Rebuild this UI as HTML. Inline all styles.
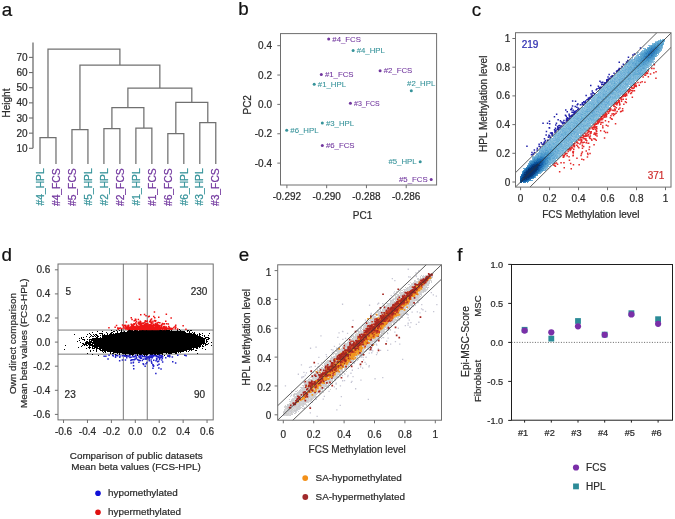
<!DOCTYPE html>
<html><head><meta charset="utf-8"><style>
html,body{margin:0;padding:0;background:#fff;width:675px;height:519px;overflow:hidden}
svg{display:block;filter:blur(0.35px)}
text{font-family:"Liberation Sans",sans-serif}
</style></head><body>
<svg width="675" height="519" viewBox="0 0 675 519">
<rect width="675" height="519" fill="#fff"/>
<text x="1.7" y="15.8" font-size="18.8" text-anchor="start" fill="#111" stroke="#111" stroke-width="0.22">a</text>
<text x="238.3" y="14.6" font-size="18.8" text-anchor="start" fill="#111" stroke="#111" stroke-width="0.22">b</text>
<text x="471.8" y="16" font-size="18.8" text-anchor="start" fill="#111" stroke="#111" stroke-width="0.22">c</text>
<text x="1.4" y="260.6" font-size="18.8" text-anchor="start" fill="#111" stroke="#111" stroke-width="0.22">d</text>
<text x="238.7" y="261.3" font-size="18.8" text-anchor="start" fill="#111" stroke="#111" stroke-width="0.22">e</text>
<text x="457.3" y="261.2" font-size="18.8" text-anchor="start" fill="#111" stroke="#111" stroke-width="0.22">f</text>
<line x1="33" y1="148.3" x2="33" y2="42.6" stroke="#6e6e6e" stroke-width="1.3"/>
<line x1="29" y1="148.3" x2="33" y2="148.3" stroke="#6e6e6e" stroke-width="1.1"/>
<text x="27.6" y="151.88" font-size="10.0" text-anchor="end" fill="#2b2b2b" stroke="#2b2b2b" stroke-width="0.22">10</text>
<line x1="29" y1="133.15" x2="33" y2="133.15" stroke="#6e6e6e" stroke-width="1.1"/>
<text x="27.6" y="136.73" font-size="10.0" text-anchor="end" fill="#2b2b2b" stroke="#2b2b2b" stroke-width="0.22">20</text>
<line x1="29" y1="118" x2="33" y2="118" stroke="#6e6e6e" stroke-width="1.1"/>
<text x="27.6" y="121.58" font-size="10.0" text-anchor="end" fill="#2b2b2b" stroke="#2b2b2b" stroke-width="0.22">30</text>
<line x1="29" y1="102.85" x2="33" y2="102.85" stroke="#6e6e6e" stroke-width="1.1"/>
<text x="27.6" y="106.43" font-size="10.0" text-anchor="end" fill="#2b2b2b" stroke="#2b2b2b" stroke-width="0.22">40</text>
<line x1="29" y1="87.7" x2="33" y2="87.7" stroke="#6e6e6e" stroke-width="1.1"/>
<text x="27.6" y="91.28" font-size="10.0" text-anchor="end" fill="#2b2b2b" stroke="#2b2b2b" stroke-width="0.22">50</text>
<line x1="29" y1="72.55" x2="33" y2="72.55" stroke="#6e6e6e" stroke-width="1.1"/>
<text x="27.6" y="76.13" font-size="10.0" text-anchor="end" fill="#2b2b2b" stroke="#2b2b2b" stroke-width="0.22">60</text>
<line x1="29" y1="57.4" x2="33" y2="57.4" stroke="#6e6e6e" stroke-width="1.1"/>
<text x="27.6" y="60.98" font-size="10.0" text-anchor="end" fill="#2b2b2b" stroke="#2b2b2b" stroke-width="0.22">70</text>
<text x="10.18" y="103" font-size="10.0" text-anchor="middle" fill="#2b2b2b" stroke="#2b2b2b" stroke-width="0.22" transform="rotate(-90 10.18 103)">Height</text>
<path d="M40 164V137.5H55.98V164M71.96 164V129.7H87.94V164M103.92 164V128.6H119.9V164M135.88 164V128.1H151.86V164M167.84 164V133.6H183.82V164M199.8 164V122.5H215.78V164M111.91 128.6V107.5H143.87V128.1M175.83 133.6V102.4H207.79V122.5M127.89 107.5V88.1H191.81V102.4M79.95 129.7V65H159.85V88.1M47.99 137.5V49.2H119.9V65" stroke="#707070" stroke-width="1.25" fill="none"/>
<text x="43.69" y="168.3" font-size="10.3" text-anchor="end" fill="#36939a" stroke="#36939a" stroke-width="0.22" transform="rotate(-90 43.69 168.3)">#4_HPL</text>
<text x="59.67" y="168.3" font-size="10.3" text-anchor="end" fill="#71369e" stroke="#71369e" stroke-width="0.22" transform="rotate(-90 59.67 168.3)">#4_FCS</text>
<text x="75.65" y="168.3" font-size="10.3" text-anchor="end" fill="#71369e" stroke="#71369e" stroke-width="0.22" transform="rotate(-90 75.65 168.3)">#5_FCS</text>
<text x="91.63" y="168.3" font-size="10.3" text-anchor="end" fill="#36939a" stroke="#36939a" stroke-width="0.22" transform="rotate(-90 91.63 168.3)">#5_HPL</text>
<text x="107.61" y="168.3" font-size="10.3" text-anchor="end" fill="#36939a" stroke="#36939a" stroke-width="0.22" transform="rotate(-90 107.61 168.3)">#2_HPL</text>
<text x="123.59" y="168.3" font-size="10.3" text-anchor="end" fill="#71369e" stroke="#71369e" stroke-width="0.22" transform="rotate(-90 123.59 168.3)">#2_FCS</text>
<text x="139.57" y="168.3" font-size="10.3" text-anchor="end" fill="#36939a" stroke="#36939a" stroke-width="0.22" transform="rotate(-90 139.57 168.3)">#1_HPL</text>
<text x="155.55" y="168.3" font-size="10.3" text-anchor="end" fill="#71369e" stroke="#71369e" stroke-width="0.22" transform="rotate(-90 155.55 168.3)">#1_FCS</text>
<text x="171.53" y="168.3" font-size="10.3" text-anchor="end" fill="#71369e" stroke="#71369e" stroke-width="0.22" transform="rotate(-90 171.53 168.3)">#6_FCS</text>
<text x="187.51" y="168.3" font-size="10.3" text-anchor="end" fill="#36939a" stroke="#36939a" stroke-width="0.22" transform="rotate(-90 187.51 168.3)">#6_HPL</text>
<text x="203.49" y="168.3" font-size="10.3" text-anchor="end" fill="#36939a" stroke="#36939a" stroke-width="0.22" transform="rotate(-90 203.49 168.3)">#3_HPL</text>
<text x="219.47" y="168.3" font-size="10.3" text-anchor="end" fill="#71369e" stroke="#71369e" stroke-width="0.22" transform="rotate(-90 219.47 168.3)">#3_FCS</text>
<rect x="280.5" y="33.6" width="156.1" height="151.4" stroke="#6e6e6e" stroke-width="1" fill="none"/>
<line x1="277.3" y1="45.68" x2="280.5" y2="45.68" stroke="#6e6e6e" stroke-width="1"/>
<text x="272" y="49.26" font-size="10.0" text-anchor="end" fill="#2b2b2b" stroke="#2b2b2b" stroke-width="0.22">0.4</text>
<line x1="277.3" y1="75.04" x2="280.5" y2="75.04" stroke="#6e6e6e" stroke-width="1"/>
<text x="272" y="78.62" font-size="10.0" text-anchor="end" fill="#2b2b2b" stroke="#2b2b2b" stroke-width="0.22">0.2</text>
<line x1="277.3" y1="104.4" x2="280.5" y2="104.4" stroke="#6e6e6e" stroke-width="1"/>
<text x="272" y="107.98" font-size="10.0" text-anchor="end" fill="#2b2b2b" stroke="#2b2b2b" stroke-width="0.22">0.0</text>
<line x1="277.3" y1="133.76" x2="280.5" y2="133.76" stroke="#6e6e6e" stroke-width="1"/>
<text x="272" y="137.34" font-size="10.0" text-anchor="end" fill="#2b2b2b" stroke="#2b2b2b" stroke-width="0.22">-0.2</text>
<line x1="277.3" y1="163.12" x2="280.5" y2="163.12" stroke="#6e6e6e" stroke-width="1"/>
<text x="272" y="166.7" font-size="10.0" text-anchor="end" fill="#2b2b2b" stroke="#2b2b2b" stroke-width="0.22">-0.4</text>
<line x1="286.9" y1="185" x2="286.9" y2="188.2" stroke="#6e6e6e" stroke-width="1"/>
<text x="286.9" y="199.78" font-size="10.0" text-anchor="middle" fill="#2b2b2b" stroke="#2b2b2b" stroke-width="0.22">-0.292</text>
<line x1="326.67" y1="185" x2="326.67" y2="188.2" stroke="#6e6e6e" stroke-width="1"/>
<text x="326.67" y="199.78" font-size="10.0" text-anchor="middle" fill="#2b2b2b" stroke="#2b2b2b" stroke-width="0.22">-0.290</text>
<line x1="366.44" y1="185" x2="366.44" y2="188.2" stroke="#6e6e6e" stroke-width="1"/>
<text x="366.44" y="199.78" font-size="10.0" text-anchor="middle" fill="#2b2b2b" stroke="#2b2b2b" stroke-width="0.22">-0.288</text>
<line x1="406.21" y1="185" x2="406.21" y2="188.2" stroke="#6e6e6e" stroke-width="1"/>
<text x="406.21" y="199.78" font-size="10.0" text-anchor="middle" fill="#2b2b2b" stroke="#2b2b2b" stroke-width="0.22">-0.286</text>
<text x="362.6" y="218.68" font-size="10.0" text-anchor="middle" fill="#2b2b2b" stroke="#2b2b2b" stroke-width="0.22">PC1</text>
<text x="251.48" y="104.8" font-size="10.0" text-anchor="middle" fill="#2b2b2b" stroke="#2b2b2b" stroke-width="0.22" transform="rotate(-90 251.48 104.8)">PC2</text>
<circle cx="328.7" cy="38.9" r="1.5" fill="#71369e"/>
<text x="332.3" y="41.69" font-size="7.8" text-anchor="start" fill="#71369e" stroke="#71369e" stroke-width="0.08">#4_FCS</text>
<circle cx="353.1" cy="50.4" r="1.5" fill="#36939a"/>
<text x="356.7" y="53.19" font-size="7.8" text-anchor="start" fill="#36939a" stroke="#36939a" stroke-width="0.08">#4_HPL</text>
<circle cx="321.3" cy="74.4" r="1.5" fill="#71369e"/>
<text x="324.9" y="77.19" font-size="7.8" text-anchor="start" fill="#71369e" stroke="#71369e" stroke-width="0.08">#1_FCS</text>
<circle cx="380.1" cy="70.7" r="1.5" fill="#71369e"/>
<text x="383.7" y="73.49" font-size="7.8" text-anchor="start" fill="#71369e" stroke="#71369e" stroke-width="0.08">#2_FCS</text>
<circle cx="314.2" cy="84.2" r="1.5" fill="#36939a"/>
<text x="317.8" y="86.99" font-size="7.8" text-anchor="start" fill="#36939a" stroke="#36939a" stroke-width="0.08">#1_HPL</text>
<circle cx="411.3" cy="90.7" r="1.5" fill="#36939a"/>
<text x="421.2" y="86.39" font-size="7.8" text-anchor="middle" fill="#36939a" stroke="#36939a" stroke-width="0.08">#2_HPL</text>
<circle cx="350.4" cy="103.2" r="1.5" fill="#71369e"/>
<text x="354" y="105.71" font-size="7.0" text-anchor="start" fill="#71369e" stroke="#71369e" stroke-width="0.08">#3_FCS</text>
<circle cx="322.3" cy="123.1" r="1.5" fill="#36939a"/>
<text x="325.9" y="125.89" font-size="7.8" text-anchor="start" fill="#36939a" stroke="#36939a" stroke-width="0.08">#3_HPL</text>
<circle cx="286.7" cy="130.3" r="1.5" fill="#36939a"/>
<text x="290.3" y="133.09" font-size="7.8" text-anchor="start" fill="#36939a" stroke="#36939a" stroke-width="0.08">#6_HPL</text>
<circle cx="322.3" cy="145.5" r="1.5" fill="#71369e"/>
<text x="325.9" y="148.29" font-size="7.8" text-anchor="start" fill="#71369e" stroke="#71369e" stroke-width="0.08">#6_FCS</text>
<circle cx="420.2" cy="161.7" r="1.5" fill="#36939a"/>
<text x="416.6" y="164.49" font-size="7.8" text-anchor="end" fill="#36939a" stroke="#36939a" stroke-width="0.08">#5_HPL</text>
<circle cx="431.2" cy="179.6" r="1.5" fill="#71369e"/>
<text x="427.6" y="182.39" font-size="7.8" text-anchor="end" fill="#71369e" stroke="#71369e" stroke-width="0.08">#5_FCS</text>
<path fill="#84c0de" d="M660 39h1v1h-1zM659 40h1v1h-1zM648 45h1v1h-1zM636 56h1v1h-1zM627 64h1v1h-1zM626 67h1v1h-1zM624 68h1v1h-1zM621 69h1v1h-1zM641 75h1v1h-1zM625 76h1v1h-1zM634 81h1v1h-1zM608 85h1v1h-1zM622 85h1v1h-1zM598 91h1v1h-1zM593 99h1v1h-1zM600 100h1v1h-1zM590 105h1v1h-1zM601 105h1v1h-1zM609 105h1v1h-1zM586 108h1v1h-1zM582 110h1v1h-1zM584 112h1v1h-1zM576 114h1v1h-1zM589 115h1v1h-1zM582 116h2v1h-2zM598 118h1v1h-1zM597 119h1v1h-1zM576 120h1v1h-1zM569 121h1v1h-1zM590 122h1v1h-1zM567 123h1v1h-1zM575 124h1v1h-1zM585 124h1v1h-1zM590 124h1v1h-1zM578 138h1v1h-1zM570 141h1v1h-1zM563 145h1v1h-1zM565 147h1v1h-1zM557 154h1v1h-1z"/><path fill="#8ac0de" d="M662 39h1v1h-1zM653 43h1v1h-1zM644 48h1v1h-1zM644 49h1v1h-1zM643 50h1v1h-1zM661 50h1v1h-1zM638 52h1v1h-1zM640 52h1v1h-1zM639 53h1v1h-1zM637 54h1v1h-1zM658 54h1v1h-1zM636 55h1v1h-1zM632 58h1v1h-1zM631 59h1v1h-1zM630 60h1v1h-1zM654 61h1v1h-1zM652 62h1v1h-1zM649 66h1v1h-1zM623 67h1v1h-1zM648 68h1v1h-1zM622 69h2v1h-2zM648 69h1v1h-1zM619 70h1v1h-1zM616 73h1v1h-1zM618 73h1v1h-1zM622 74h1v1h-1zM626 74h1v1h-1zM616 75h1v1h-1zM623 75h1v1h-1zM641 76h1v1h-1zM613 77h2v1h-2zM611 79h1v1h-1zM634 79h2v1h-2zM611 80h1v1h-1zM631 80h2v1h-2zM636 80h1v1h-1zM608 81h1v1h-1zM618 81h1v1h-1zM613 82h1v1h-1zM624 82h1v1h-1zM626 82h2v1h-2zM633 82h1v1h-1zM617 83h1v1h-1zM622 83h1v1h-1zM631 83h1v1h-1zM609 84h2v1h-2zM628 84h1v1h-1zM633 84h1v1h-1zM628 85h1v1h-1zM603 86h1v1h-1zM613 86h1v1h-1zM626 86h1v1h-1zM630 86h1v1h-1zM609 87h1v1h-1zM626 87h1v1h-1zM602 88h1v1h-1zM604 88h1v1h-1zM626 88h1v1h-1zM620 89h1v1h-1zM626 89h1v1h-1zM599 90h1v1h-1zM602 91h1v1h-1zM608 91h1v1h-1zM615 91h1v1h-1zM617 91h1v1h-1zM606 92h1v1h-1zM621 92h1v1h-1zM624 92h1v1h-1zM607 93h1v1h-1zM618 93h1v1h-1zM623 93h1v1h-1zM599 94h1v1h-1zM601 94h1v1h-1zM616 94h1v1h-1zM621 94h1v1h-1zM594 95h1v1h-1zM611 95h1v1h-1zM613 95h1v1h-1zM595 96h2v1h-2zM613 96h1v1h-1zM616 96h1v1h-1zM616 97h1v1h-1zM592 98h1v1h-1zM595 98h1v1h-1zM611 98h1v1h-1zM590 99h1v1h-1zM592 99h1v1h-1zM595 99h1v1h-1zM610 99h1v1h-1zM589 100h1v1h-1zM610 100h1v1h-1zM616 100h1v1h-1zM587 101h1v1h-1zM590 101h1v1h-1zM607 101h1v1h-1zM612 101h2v1h-2zM612 102h1v1h-1zM603 103h1v1h-1zM610 103h1v1h-1zM586 104h1v1h-1zM590 104h1v1h-1zM595 104h1v1h-1zM610 104h1v1h-1zM586 105h1v1h-1zM595 105h1v1h-1zM584 107h1v1h-1zM608 107h2v1h-2zM601 108h1v1h-1zM603 108h1v1h-1zM605 108h1v1h-1zM583 109h1v1h-1zM585 109h1v1h-1zM606 109h1v1h-1zM584 110h1v1h-1zM602 111h2v1h-2zM577 112h2v1h-2zM581 112h1v1h-1zM588 112h1v1h-1zM597 112h1v1h-1zM582 113h1v1h-1zM579 114h1v1h-1zM591 114h1v1h-1zM576 115h1v1h-1zM598 115h1v1h-1zM574 116h1v1h-1zM578 116h1v1h-1zM600 116h1v1h-1zM575 117h1v1h-1zM588 117h1v1h-1zM572 118h1v1h-1zM595 118h1v1h-1zM571 119h2v1h-2zM585 119h1v1h-1zM596 119h1v1h-1zM569 120h1v1h-1zM571 120h2v1h-2zM587 120h1v1h-1zM590 120h1v1h-1zM568 121h1v1h-1zM570 121h1v1h-1zM572 121h1v1h-1zM589 121h1v1h-1zM594 121h1v1h-1zM582 122h2v1h-2zM587 122h1v1h-1zM591 122h1v1h-1zM566 123h1v1h-1zM569 123h1v1h-1zM572 123h1v1h-1zM585 123h1v1h-1zM573 124h1v1h-1zM589 124h1v1h-1zM563 126h1v1h-1zM571 126h1v1h-1zM563 127h1v1h-1zM565 127h1v1h-1zM567 127h1v1h-1zM571 127h1v1h-1zM582 127h1v1h-1zM584 127h3v1h-3zM561 128h1v1h-1zM576 128h1v1h-1zM578 128h1v1h-1zM582 128h1v1h-1zM586 128h2v1h-2zM568 130h1v1h-1zM578 130h1v1h-1zM584 130h1v1h-1zM582 131h1v1h-1zM572 132h1v1h-1zM575 133h1v1h-1zM579 133h1v1h-1zM581 133h1v1h-1zM557 134h1v1h-1zM572 134h1v1h-1zM575 134h1v1h-1zM554 135h1v1h-1zM573 135h2v1h-2zM577 135h1v1h-1zM553 136h1v1h-1zM562 136h1v1h-1zM577 136h1v1h-1zM553 137h1v1h-1zM560 137h1v1h-1zM574 137h1v1h-1zM550 138h1v1h-1zM560 138h1v1h-1zM572 138h2v1h-2zM552 139h1v1h-1zM554 139h1v1h-1zM571 139h1v1h-1zM551 140h2v1h-2zM572 140h1v1h-1zM574 140h1v1h-1zM553 141h2v1h-2zM563 141h1v1h-1zM574 141h1v1h-1zM558 142h1v1h-1zM568 142h1v1h-1zM548 143h1v1h-1zM546 144h1v1h-1zM566 144h2v1h-2zM547 146h1v1h-1zM566 146h1v1h-1zM564 147h1v1h-1zM567 147h1v1h-1zM560 148h1v1h-1zM561 149h1v1h-1zM560 150h1v1h-1zM561 151h1v1h-1zM561 152h1v1h-1zM561 153h1v1h-1zM560 154h1v1h-1zM557 158h1v1h-1zM530 160h1v1h-1zM551 163h2v1h-2zM550 164h1v1h-1zM549 166h1v1h-1z"/><path fill="#66a8d2" d="M663 39h1v1h-1zM655 43h2v1h-2zM653 44h1v1h-1zM660 46h1v1h-1zM660 47h2v1h-2zM659 49h1v1h-1zM639 54h1v1h-1zM640 55h1v1h-1zM655 55h1v1h-1zM638 59h1v1h-1zM653 59h1v1h-1zM650 60h1v1h-1zM647 61h1v1h-1zM648 62h1v1h-1zM633 63h1v1h-1zM646 63h1v1h-1zM626 64h1v1h-1zM636 64h1v1h-1zM634 65h1v1h-1zM630 66h1v1h-1zM639 66h1v1h-1zM628 67h1v1h-1zM642 67h2v1h-2zM634 68h2v1h-2zM630 69h1v1h-1zM627 72h1v1h-1zM629 72h1v1h-1zM634 72h1v1h-1zM638 72h1v1h-1zM628 73h1v1h-1zM637 73h1v1h-1zM629 74h1v1h-1zM634 74h1v1h-1zM627 76h1v1h-1zM624 77h1v1h-1zM627 77h1v1h-1zM622 78h1v1h-1zM629 78h1v1h-1zM622 80h1v1h-1zM618 83h1v1h-1zM625 83h1v1h-1zM620 85h1v1h-1zM629 87h1v1h-1zM612 89h1v1h-1zM618 89h1v1h-1zM612 90h1v1h-1zM606 91h1v1h-1zM610 91h1v1h-1zM612 92h1v1h-1zM603 94h2v1h-2zM606 96h1v1h-1zM610 96h1v1h-1zM603 98h1v1h-1zM604 99h1v1h-1zM597 101h1v1h-1zM602 101h3v1h-3zM598 102h1v1h-1zM600 102h2v1h-2zM587 109h1v1h-1zM592 110h1v1h-1zM581 114h2v1h-2zM586 115h1v1h-1zM586 116h1v1h-1zM581 118h2v1h-2zM580 119h1v1h-1zM577 124h1v1h-1zM576 125h1v1h-1zM585 125h1v1h-1zM576 126h1v1h-1zM575 127h2v1h-2zM580 128h1v1h-1zM571 130h1v1h-1zM571 132h1v1h-1zM570 133h1v1h-1zM572 133h1v1h-1zM574 133h1v1h-1zM565 134h1v1h-1zM563 139h1v1h-1zM558 145h1v1h-1zM547 147h1v1h-1zM551 147h1v1h-1zM549 149h1v1h-1zM551 149h1v1h-1zM539 151h1v1h-1zM542 151h1v1h-1zM554 151h1v1h-1zM541 152h1v1h-1zM544 152h1v1h-1zM539 153h1v1h-1zM543 153h1v1h-1zM553 153h2v1h-2zM536 154h1v1h-1zM550 155h1v1h-1zM555 155h1v1h-1zM549 162h1v1h-1zM528 164h1v1h-1zM547 164h1v1h-1zM549 164h1v1h-1zM546 165h1v1h-1zM545 167h1v1h-1zM524 168h1v1h-1zM544 168h1v1h-1zM545 169h1v1h-1z"/><path fill="#549ccc" d="M664 39h1v1h-1zM660 40h1v1h-1zM663 40h1v1h-1zM661 42h1v1h-1zM661 43h1v1h-1zM660 44h1v1h-1zM652 45h1v1h-1zM655 45h1v1h-1zM659 47h1v1h-1zM658 50h2v1h-2zM642 54h1v1h-1zM641 56h1v1h-1zM642 57h1v1h-1zM651 58h2v1h-2zM640 59h1v1h-1zM650 59h1v1h-1zM645 60h1v1h-1zM638 61h1v1h-1zM644 61h1v1h-1zM635 63h1v1h-1zM643 63h1v1h-1zM645 63h1v1h-1zM638 64h1v1h-1zM643 68h1v1h-1zM563 138h1v1h-1zM552 151h1v1h-1zM547 152h1v1h-1zM543 154h1v1h-1zM549 154h1v1h-1zM540 155h1v1h-1zM551 155h2v1h-2zM539 156h1v1h-1zM548 156h1v1h-1zM535 158h1v1h-1zM549 158h1v1h-1zM548 161h1v1h-1zM545 165h1v1h-1zM547 165h1v1h-1zM545 166h1v1h-1zM544 167h1v1h-1zM542 169h1v1h-1zM522 171h1v1h-1zM539 172h1v1h-1zM533 178h1v1h-1z"/><path fill="#84bade" d="M658 40h1v1h-1zM649 46h1v1h-1zM659 52h1v1h-1zM635 54h1v1h-1zM638 54h1v1h-1zM637 56h1v1h-1zM632 59h1v1h-1zM631 63h1v1h-1zM626 65h1v1h-1zM626 66h1v1h-1zM628 66h1v1h-1zM647 66h2v1h-2zM624 67h1v1h-1zM648 67h1v1h-1zM643 70h1v1h-1zM619 71h1v1h-1zM642 71h1v1h-1zM641 72h1v1h-1zM623 73h1v1h-1zM626 73h1v1h-1zM631 73h1v1h-1zM642 74h1v1h-1zM621 75h1v1h-1zM614 76h1v1h-1zM632 76h1v1h-1zM639 76h1v1h-1zM621 77h1v1h-1zM636 77h1v1h-1zM616 78h1v1h-1zM618 78h2v1h-2zM636 78h1v1h-1zM617 79h1v1h-1zM636 79h1v1h-1zM613 80h1v1h-1zM615 80h2v1h-2zM627 80h1v1h-1zM630 80h1v1h-1zM634 80h1v1h-1zM615 81h1v1h-1zM617 81h1v1h-1zM630 81h2v1h-2zM607 82h1v1h-1zM606 83h1v1h-1zM624 83h1v1h-1zM630 83h1v1h-1zM606 84h1v1h-1zM622 84h1v1h-1zM605 85h2v1h-2zM612 85h1v1h-1zM602 87h1v1h-1zM604 87h2v1h-2zM608 87h1v1h-1zM612 87h1v1h-1zM621 87h1v1h-1zM623 87h1v1h-1zM627 87h1v1h-1zM618 88h2v1h-2zM621 88h1v1h-1zM625 88h1v1h-1zM606 89h1v1h-1zM619 89h1v1h-1zM623 89h1v1h-1zM627 89h1v1h-1zM600 90h1v1h-1zM603 90h1v1h-1zM623 90h1v1h-1zM626 90h1v1h-1zM621 91h1v1h-1zM599 92h1v1h-1zM604 92h1v1h-1zM619 92h1v1h-1zM599 93h2v1h-2zM622 93h1v1h-1zM595 95h1v1h-1zM598 95h1v1h-1zM600 95h2v1h-2zM610 95h1v1h-1zM620 95h1v1h-1zM594 96h1v1h-1zM601 96h1v1h-1zM611 96h1v1h-1zM617 97h2v1h-2zM594 98h1v1h-1zM596 98h1v1h-1zM591 99h1v1h-1zM600 99h1v1h-1zM612 99h1v1h-1zM595 100h1v1h-1zM608 100h1v1h-1zM612 100h2v1h-2zM592 101h2v1h-2zM605 101h1v1h-1zM591 102h1v1h-1zM594 102h1v1h-1zM609 102h1v1h-1zM611 102h1v1h-1zM586 103h1v1h-1zM594 103h1v1h-1zM606 103h1v1h-1zM588 104h1v1h-1zM607 104h1v1h-1zM603 105h2v1h-2zM584 106h1v1h-1zM602 106h1v1h-1zM608 106h1v1h-1zM602 107h1v1h-1zM607 107h1v1h-1zM587 108h1v1h-1zM607 108h2v1h-2zM579 110h1v1h-1zM588 110h1v1h-1zM596 110h2v1h-2zM599 110h1v1h-1zM603 110h2v1h-2zM606 110h1v1h-1zM578 111h1v1h-1zM583 111h1v1h-1zM595 111h1v1h-1zM600 111h1v1h-1zM604 111h2v1h-2zM580 112h1v1h-1zM595 112h1v1h-1zM603 112h2v1h-2zM596 113h1v1h-1zM603 113h1v1h-1zM584 114h1v1h-1zM574 115h2v1h-2zM577 115h1v1h-1zM581 115h2v1h-2zM600 115h1v1h-1zM572 116h1v1h-1zM597 116h2v1h-2zM573 117h1v1h-1zM598 117h1v1h-1zM574 118h1v1h-1zM586 118h1v1h-1zM597 118h1v1h-1zM574 119h1v1h-1zM579 119h1v1h-1zM589 119h1v1h-1zM570 120h1v1h-1zM573 121h1v1h-1zM576 122h1v1h-1zM586 122h1v1h-1zM588 122h1v1h-1zM582 123h1v1h-1zM586 123h1v1h-1zM570 124h1v1h-1zM567 125h1v1h-1zM571 125h1v1h-1zM580 126h1v1h-1zM586 126h1v1h-1zM562 128h1v1h-1zM579 129h1v1h-1zM575 130h1v1h-1zM577 131h1v1h-1zM579 131h2v1h-2zM583 131h1v1h-1zM567 132h1v1h-1zM582 133h1v1h-1zM560 135h1v1h-1zM572 135h1v1h-1zM579 135h1v1h-1zM558 136h1v1h-1zM561 136h1v1h-1zM564 136h1v1h-1zM569 136h1v1h-1zM571 136h1v1h-1zM573 136h1v1h-1zM561 137h1v1h-1zM573 137h1v1h-1zM553 138h2v1h-2zM574 138h1v1h-1zM577 138h1v1h-1zM573 139h1v1h-1zM575 139h2v1h-2zM549 140h1v1h-1zM571 140h1v1h-1zM575 140h1v1h-1zM547 142h1v1h-1zM550 142h1v1h-1zM562 142h1v1h-1zM547 143h1v1h-1zM550 143h2v1h-2zM555 143h1v1h-1zM562 143h1v1h-1zM569 143h1v1h-1zM571 143h2v1h-2zM545 144h1v1h-1zM563 144h1v1h-1zM569 144h3v1h-3zM546 145h2v1h-2zM553 145h1v1h-1zM569 145h2v1h-2zM543 147h1v1h-1zM541 149h1v1h-1zM559 149h1v1h-1zM564 149h1v1h-1zM566 149h1v1h-1zM539 150h1v1h-1zM556 150h1v1h-1zM565 150h1v1h-1zM560 151h1v1h-1zM538 152h1v1h-1zM559 152h1v1h-1zM562 152h1v1h-1zM562 153h1v1h-1zM559 155h1v1h-1zM532 157h1v1h-1zM558 157h1v1h-1zM553 159h1v1h-1zM554 160h1v1h-1zM551 161h1v1h-1zM552 162h1v1h-1zM545 170h1v1h-1z"/><path fill="#72b4d8" d="M661 40h1v1h-1zM663 42h1v1h-1zM660 49h1v1h-1zM643 51h1v1h-1zM638 55h1v1h-1zM633 59h1v1h-1zM632 60h1v1h-1zM631 61h1v1h-1zM635 61h1v1h-1zM627 62h2v1h-2zM630 62h2v1h-2zM635 62h1v1h-1zM630 63h1v1h-1zM632 64h1v1h-1zM631 65h2v1h-2zM645 65h1v1h-1zM624 66h1v1h-1zM633 66h1v1h-1zM632 67h1v1h-1zM640 67h1v1h-1zM647 67h1v1h-1zM623 68h1v1h-1zM628 68h1v1h-1zM645 68h1v1h-1zM627 69h1v1h-1zM631 69h1v1h-1zM637 69h2v1h-2zM627 70h1v1h-1zM642 70h1v1h-1zM620 71h1v1h-1zM636 71h1v1h-1zM618 72h1v1h-1zM623 72h1v1h-1zM631 72h1v1h-1zM642 72h1v1h-1zM621 73h1v1h-1zM617 74h2v1h-2zM632 75h1v1h-1zM623 76h2v1h-2zM630 76h1v1h-1zM635 76h1v1h-1zM616 77h1v1h-1zM620 77h1v1h-1zM614 78h1v1h-1zM626 78h1v1h-1zM632 78h1v1h-1zM635 78h1v1h-1zM637 78h1v1h-1zM615 79h1v1h-1zM620 79h2v1h-2zM630 79h2v1h-2zM637 79h1v1h-1zM610 81h1v1h-1zM612 81h1v1h-1zM624 81h1v1h-1zM626 81h1v1h-1zM625 82h1v1h-1zM628 82h1v1h-1zM613 83h1v1h-1zM615 83h1v1h-1zM623 83h1v1h-1zM627 83h1v1h-1zM616 84h2v1h-2zM624 84h1v1h-1zM607 85h1v1h-1zM616 85h1v1h-1zM620 86h1v1h-1zM624 86h1v1h-1zM611 87h1v1h-1zM610 88h1v1h-1zM612 88h1v1h-1zM607 89h3v1h-3zM611 89h1v1h-1zM617 89h1v1h-1zM603 91h1v1h-1zM609 91h1v1h-1zM623 91h1v1h-1zM611 92h1v1h-1zM622 92h1v1h-1zM605 93h1v1h-1zM613 93h1v1h-1zM620 93h1v1h-1zM605 94h1v1h-1zM615 94h1v1h-1zM597 95h1v1h-1zM605 95h2v1h-2zM619 95h1v1h-1zM600 96h1v1h-1zM603 96h1v1h-1zM614 96h1v1h-1zM608 97h1v1h-1zM612 97h1v1h-1zM614 97h1v1h-1zM600 98h1v1h-1zM616 98h1v1h-1zM593 100h1v1h-1zM599 100h1v1h-1zM602 100h2v1h-2zM607 100h1v1h-1zM599 101h1v1h-1zM590 102h1v1h-1zM592 102h1v1h-1zM590 103h2v1h-2zM595 103h1v1h-1zM608 103h1v1h-1zM599 104h1v1h-1zM601 104h2v1h-2zM609 104h1v1h-1zM589 105h1v1h-1zM599 105h1v1h-1zM593 106h1v1h-1zM595 106h1v1h-1zM587 107h1v1h-1zM604 107h1v1h-1zM589 108h1v1h-1zM586 109h1v1h-1zM596 109h1v1h-1zM607 109h1v1h-1zM586 110h1v1h-1zM601 110h1v1h-1zM586 112h1v1h-1zM598 112h2v1h-2zM576 113h1v1h-1zM587 113h2v1h-2zM590 113h1v1h-1zM587 114h1v1h-1zM590 114h1v1h-1zM594 114h2v1h-2zM578 115h1v1h-1zM584 115h1v1h-1zM595 115h1v1h-1zM597 115h1v1h-1zM587 116h1v1h-1zM590 116h1v1h-1zM593 116h2v1h-2zM574 117h1v1h-1zM582 117h2v1h-2zM575 118h1v1h-1zM584 118h1v1h-1zM589 118h1v1h-1zM576 119h1v1h-1zM582 119h1v1h-1zM590 119h1v1h-1zM593 119h1v1h-1zM574 120h1v1h-1zM581 120h1v1h-1zM584 120h1v1h-1zM586 120h1v1h-1zM591 120h1v1h-1zM594 120h1v1h-1zM583 121h2v1h-2zM587 121h2v1h-2zM572 122h1v1h-1zM575 122h1v1h-1zM579 122h1v1h-1zM592 122h1v1h-1zM573 123h1v1h-1zM589 123h1v1h-1zM576 124h1v1h-1zM580 124h1v1h-1zM586 124h1v1h-1zM570 125h1v1h-1zM573 125h1v1h-1zM578 125h1v1h-1zM581 125h1v1h-1zM587 125h1v1h-1zM589 125h1v1h-1zM565 126h1v1h-1zM579 126h1v1h-1zM581 126h1v1h-1zM569 127h1v1h-1zM574 127h1v1h-1zM583 127h1v1h-1zM588 127h1v1h-1zM567 128h1v1h-1zM584 128h1v1h-1zM561 129h1v1h-1zM582 129h1v1h-1zM584 129h1v1h-1zM562 130h1v1h-1zM569 130h2v1h-2zM580 130h1v1h-1zM565 131h1v1h-1zM567 131h1v1h-1zM575 131h1v1h-1zM560 132h1v1h-1zM563 133h1v1h-1zM577 133h1v1h-1zM564 134h1v1h-1zM570 134h1v1h-1zM574 134h1v1h-1zM557 135h1v1h-1zM566 135h1v1h-1zM580 135h1v1h-1zM576 136h1v1h-1zM578 136h1v1h-1zM563 137h1v1h-1zM568 137h2v1h-2zM575 137h2v1h-2zM552 138h1v1h-1zM555 138h1v1h-1zM568 138h2v1h-2zM559 139h1v1h-1zM570 139h1v1h-1zM574 139h1v1h-1zM554 140h1v1h-1zM556 140h1v1h-1zM565 140h1v1h-1zM568 140h1v1h-1zM571 141h1v1h-1zM556 142h1v1h-1zM561 142h1v1h-1zM563 142h1v1h-1zM552 143h1v1h-1zM566 143h1v1h-1zM556 144h1v1h-1zM548 145h3v1h-3zM555 145h1v1h-1zM549 146h1v1h-1zM552 146h1v1h-1zM556 146h2v1h-2zM560 146h1v1h-1zM565 146h1v1h-1zM542 147h1v1h-1zM552 147h1v1h-1zM554 147h1v1h-1zM559 147h1v1h-1zM546 148h1v1h-1zM557 148h1v1h-1zM548 149h1v1h-1zM540 150h1v1h-1zM544 150h1v1h-1zM554 150h1v1h-1zM563 150h1v1h-1zM546 151h1v1h-1zM556 151h2v1h-2zM556 153h1v1h-1zM558 153h2v1h-2zM555 154h1v1h-1zM554 155h1v1h-1zM556 155h1v1h-1zM552 156h1v1h-1zM557 156h1v1h-1zM551 157h1v1h-1zM551 158h1v1h-1zM532 159h1v1h-1zM550 161h1v1h-1zM550 162h1v1h-1zM548 163h1v1h-1zM550 163h1v1h-1zM547 166h2v1h-2zM542 171h1v1h-1z"/><path fill="#4896c6" d="M662 40h1v1h-1zM662 41h1v1h-1zM660 42h1v1h-1zM657 43h2v1h-2zM660 43h1v1h-1zM655 44h1v1h-1zM656 45h1v1h-1zM661 45h1v1h-1zM653 46h1v1h-1zM657 46h1v1h-1zM649 47h1v1h-1zM649 48h1v1h-1zM648 49h2v1h-2zM657 50h1v1h-1zM655 52h1v1h-1zM654 54h1v1h-1zM645 55h1v1h-1zM653 55h1v1h-1zM643 56h1v1h-1zM642 58h1v1h-1zM650 58h1v1h-1zM646 59h1v1h-1zM641 60h1v1h-1zM643 61h1v1h-1zM645 61h1v1h-1zM648 61h1v1h-1zM640 62h1v1h-1zM641 63h1v1h-1zM643 64h1v1h-1zM639 65h1v1h-1zM634 67h1v1h-1zM546 154h1v1h-1zM548 154h1v1h-1zM549 155h1v1h-1zM538 156h1v1h-1zM547 156h1v1h-1zM538 157h1v1h-1zM549 157h1v1h-1zM548 158h1v1h-1zM546 160h1v1h-1zM546 161h1v1h-1zM530 162h1v1h-1zM547 162h1v1h-1zM542 170h1v1h-1zM540 171h1v1h-1zM537 174h1v1h-1zM536 175h1v1h-1z"/><path fill="#60a8d2" d="M664 40h1v1h-1zM656 42h4v1h-4zM662 43h1v1h-1zM656 44h1v1h-1zM660 45h1v1h-1zM662 45h1v1h-1zM661 46h1v1h-1zM647 48h1v1h-1zM645 49h2v1h-2zM641 53h1v1h-1zM657 53h1v1h-1zM640 54h1v1h-1zM641 55h1v1h-1zM638 56h3v1h-3zM638 58h1v1h-1zM640 58h1v1h-1zM654 58h1v1h-1zM636 60h1v1h-1zM639 60h1v1h-1zM636 61h1v1h-1zM649 61h2v1h-2zM633 62h1v1h-1zM636 62h1v1h-1zM639 62h1v1h-1zM646 62h1v1h-1zM636 63h1v1h-1zM640 63h1v1h-1zM647 63h1v1h-1zM635 65h1v1h-1zM638 65h1v1h-1zM641 65h1v1h-1zM644 65h1v1h-1zM647 65h1v1h-1zM627 66h1v1h-1zM641 66h1v1h-1zM631 67h1v1h-1zM636 67h1v1h-1zM638 67h2v1h-2zM633 68h1v1h-1zM636 68h2v1h-2zM642 68h1v1h-1zM644 68h1v1h-1zM633 69h1v1h-1zM641 69h1v1h-1zM632 70h1v1h-1zM634 70h1v1h-1zM641 70h1v1h-1zM628 71h1v1h-1zM637 71h1v1h-1zM632 72h1v1h-1zM642 73h1v1h-1zM635 74h1v1h-1zM638 74h1v1h-1zM626 75h1v1h-1zM625 77h1v1h-1zM628 78h1v1h-1zM628 79h1v1h-1zM622 82h1v1h-1zM619 83h2v1h-2zM618 84h1v1h-1zM617 86h1v1h-1zM615 87h1v1h-1zM614 88h1v1h-1zM616 88h1v1h-1zM614 89h1v1h-1zM615 90h1v1h-1zM616 91h1v1h-1zM596 94h1v1h-1zM607 94h1v1h-1zM609 95h1v1h-1zM608 96h1v1h-1zM606 98h1v1h-1zM608 101h1v1h-1zM598 103h1v1h-1zM594 104h1v1h-1zM596 105h2v1h-2zM597 106h2v1h-2zM594 107h1v1h-1zM587 111h1v1h-1zM596 111h1v1h-1zM590 112h2v1h-2zM592 113h1v1h-1zM596 114h1v1h-1zM583 118h1v1h-1zM590 118h1v1h-1zM583 119h1v1h-1zM588 119h1v1h-1zM582 120h1v1h-1zM580 121h1v1h-1zM580 123h1v1h-1zM577 125h1v1h-1zM578 126h1v1h-1zM570 128h1v1h-1zM572 131h2v1h-2zM568 133h1v1h-1zM561 134h1v1h-1zM571 135h1v1h-1zM560 136h1v1h-1zM564 138h1v1h-1zM566 139h1v1h-1zM560 142h1v1h-1zM558 143h1v1h-1zM560 143h1v1h-1zM549 144h1v1h-1zM553 148h3v1h-3zM554 149h1v1h-1zM547 150h1v1h-1zM550 150h1v1h-1zM558 150h1v1h-1zM543 151h1v1h-1zM545 151h1v1h-1zM547 151h1v1h-1zM553 152h1v1h-1zM537 154h1v1h-1zM540 154h1v1h-1zM551 154h1v1h-1zM545 155h1v1h-1zM536 156h1v1h-1zM549 156h1v1h-1zM554 157h1v1h-1zM552 158h1v1h-1zM548 159h1v1h-1zM548 160h1v1h-1zM529 162h1v1h-1zM528 163h2v1h-2zM546 166h1v1h-1zM523 168h1v1h-1zM535 176h1v1h-1z"/><path fill="#a2cce4" d="M655 41h1v1h-1zM635 56h1v1h-1zM629 60h1v1h-1zM653 60h1v1h-1zM649 65h1v1h-1zM651 65h1v1h-1zM647 70h1v1h-1zM642 75h1v1h-1zM631 86h1v1h-1zM597 91h1v1h-1zM592 96h1v1h-1zM610 105h1v1h-1zM579 109h1v1h-1zM570 118h1v1h-1zM565 123h1v1h-1zM587 127h1v1h-1zM558 130h1v1h-1zM585 131h1v1h-1zM556 132h1v1h-1zM579 137h1v1h-1zM547 141h1v1h-1zM572 144h1v1h-1zM543 145h1v1h-1zM536 153h1v1h-1zM559 157h1v1h-1zM550 165h1v1h-1zM550 166h1v1h-1zM547 168h1v1h-1z"/><path fill="#9cc6de" d="M656 41h1v1h-1zM637 52h1v1h-1zM637 53h1v1h-1zM653 62h1v1h-1zM651 63h1v1h-1zM653 63h1v1h-1zM640 77h1v1h-1zM612 78h1v1h-1zM616 82h1v1h-1zM624 89h1v1h-1zM622 94h1v1h-1zM592 97h1v1h-1zM584 104h1v1h-1zM605 110h1v1h-1zM575 114h1v1h-1zM592 123h1v1h-1zM583 133h1v1h-1zM580 136h1v1h-1zM558 158h1v1h-1zM554 162h1v1h-1zM553 163h1v1h-1z"/><path fill="#66aed2" d="M657 41h1v1h-1zM663 43h1v1h-1zM645 50h1v1h-1zM651 60h1v1h-1zM634 61h1v1h-1zM638 62h1v1h-1zM637 63h1v1h-1zM643 65h1v1h-1zM646 65h1v1h-1zM630 67h1v1h-1zM629 68h1v1h-1zM631 68h1v1h-1zM634 69h1v1h-1zM640 69h1v1h-1zM622 70h1v1h-1zM632 71h1v1h-1zM635 71h1v1h-1zM640 71h1v1h-1zM639 72h1v1h-1zM635 73h1v1h-1zM640 73h1v1h-1zM633 74h1v1h-1zM636 74h2v1h-2zM633 75h1v1h-1zM626 77h1v1h-1zM625 78h1v1h-1zM619 79h1v1h-1zM626 84h1v1h-1zM614 85h1v1h-1zM606 87h1v1h-1zM613 87h1v1h-1zM613 88h1v1h-1zM615 88h1v1h-1zM612 91h1v1h-1zM600 92h1v1h-1zM610 92h1v1h-1zM598 96h1v1h-1zM607 96h1v1h-1zM600 97h1v1h-1zM606 97h1v1h-1zM610 97h1v1h-1zM605 98h1v1h-1zM601 101h1v1h-1zM614 102h1v1h-1zM607 103h1v1h-1zM591 104h1v1h-1zM599 107h1v1h-1zM596 108h1v1h-1zM593 111h1v1h-1zM584 113h1v1h-1zM591 115h1v1h-1zM581 117h1v1h-1zM584 117h2v1h-2zM576 123h1v1h-1zM564 132h1v1h-1zM565 133h1v1h-1zM569 133h1v1h-1zM558 141h1v1h-1zM559 143h1v1h-1zM560 144h1v1h-1zM554 146h1v1h-1zM555 149h1v1h-1zM557 150h1v1h-1zM552 153h1v1h-1zM552 154h1v1h-1zM539 155h1v1h-1zM556 157h1v1h-1zM533 158h1v1h-1zM553 160h1v1h-1zM548 164h1v1h-1z"/><path fill="#5aa2cc" d="M658 41h1v1h-1zM660 48h1v1h-1zM647 49h1v1h-1zM644 50h1v1h-1zM658 52h1v1h-1zM641 54h1v1h-1zM641 64h1v1h-1zM595 108h1v1h-1zM565 137h1v1h-1zM556 147h1v1h-1zM551 150h2v1h-2zM543 152h1v1h-1zM548 152h1v1h-1zM550 154h1v1h-1zM535 157h1v1h-1zM550 159h1v1h-1zM537 175h1v1h-1z"/><path fill="#6caed8" d="M659 41h1v1h-1zM663 44h1v1h-1zM648 47h1v1h-1zM643 48h1v1h-1zM661 49h1v1h-1zM659 51h1v1h-1zM641 52h3v1h-3zM658 53h1v1h-1zM639 57h1v1h-1zM654 57h1v1h-1zM634 58h1v1h-1zM636 58h1v1h-1zM636 59h1v1h-1zM631 60h1v1h-1zM635 60h1v1h-1zM637 61h1v1h-1zM651 61h1v1h-1zM629 62h1v1h-1zM632 62h1v1h-1zM634 62h1v1h-1zM637 62h1v1h-1zM634 63h1v1h-1zM648 63h1v1h-1zM629 64h1v1h-1zM633 64h2v1h-2zM637 64h1v1h-1zM633 65h1v1h-1zM634 66h2v1h-2zM643 66h3v1h-3zM629 67h1v1h-1zM633 67h1v1h-1zM644 67h1v1h-1zM646 67h1v1h-1zM625 69h2v1h-2zM629 69h1v1h-1zM636 69h1v1h-1zM639 69h1v1h-1zM625 70h1v1h-1zM631 70h1v1h-1zM635 70h1v1h-1zM637 70h1v1h-1zM640 70h1v1h-1zM633 71h1v1h-1zM638 71h1v1h-1zM635 72h1v1h-1zM640 72h1v1h-1zM625 73h1v1h-1zM634 73h1v1h-1zM638 73h1v1h-1zM641 73h1v1h-1zM621 74h1v1h-1zM623 74h1v1h-1zM627 74h1v1h-1zM630 74h1v1h-1zM641 74h1v1h-1zM619 75h1v1h-1zM622 75h1v1h-1zM627 75h1v1h-1zM630 75h1v1h-1zM621 76h1v1h-1zM626 76h1v1h-1zM628 76h1v1h-1zM633 76h1v1h-1zM612 77h1v1h-1zM619 77h1v1h-1zM630 77h1v1h-1zM624 78h1v1h-1zM633 78h1v1h-1zM614 79h1v1h-1zM618 79h1v1h-1zM625 79h1v1h-1zM627 79h1v1h-1zM612 80h1v1h-1zM629 80h1v1h-1zM614 81h1v1h-1zM616 81h1v1h-1zM619 81h2v1h-2zM622 81h1v1h-1zM614 82h1v1h-1zM617 82h1v1h-1zM620 82h2v1h-2zM611 83h1v1h-1zM619 84h2v1h-2zM613 85h1v1h-1zM608 86h1v1h-1zM612 86h1v1h-1zM614 86h1v1h-1zM610 87h1v1h-1zM614 87h1v1h-1zM617 87h1v1h-1zM622 87h1v1h-1zM607 88h1v1h-1zM617 88h1v1h-1zM620 88h1v1h-1zM615 89h1v1h-1zM611 90h1v1h-1zM614 90h1v1h-1zM620 91h1v1h-1zM609 92h1v1h-1zM613 92h1v1h-1zM606 93h1v1h-1zM608 93h2v1h-2zM612 93h1v1h-1zM608 94h1v1h-1zM603 95h1v1h-1zM618 95h1v1h-1zM597 97h3v1h-3zM605 97h1v1h-1zM607 97h1v1h-1zM609 97h1v1h-1zM609 98h1v1h-1zM601 99h1v1h-1zM605 99h1v1h-1zM597 100h2v1h-2zM600 101h1v1h-1zM606 101h1v1h-1zM597 102h1v1h-1zM602 102h1v1h-1zM605 102h4v1h-4zM593 104h1v1h-1zM596 104h2v1h-2zM598 105h1v1h-1zM605 105h1v1h-1zM601 106h1v1h-1zM595 107h1v1h-1zM597 107h2v1h-2zM584 108h1v1h-1zM595 109h1v1h-1zM597 109h1v1h-1zM600 109h1v1h-1zM591 110h1v1h-1zM585 111h2v1h-2zM588 111h2v1h-2zM591 111h2v1h-2zM594 111h1v1h-1zM598 111h1v1h-1zM582 112h1v1h-1zM594 112h1v1h-1zM577 113h1v1h-1zM585 113h1v1h-1zM589 113h1v1h-1zM591 113h1v1h-1zM593 114h1v1h-1zM585 115h1v1h-1zM587 115h1v1h-1zM593 115h2v1h-2zM599 115h1v1h-1zM585 116h1v1h-1zM591 116h2v1h-2zM599 116h1v1h-1zM586 117h1v1h-1zM577 118h2v1h-2zM585 118h1v1h-1zM581 119h1v1h-1zM578 120h1v1h-1zM585 120h1v1h-1zM589 120h1v1h-1zM576 121h1v1h-1zM582 121h1v1h-1zM571 122h1v1h-1zM577 122h1v1h-1zM578 123h1v1h-1zM587 123h1v1h-1zM579 124h1v1h-1zM582 124h1v1h-1zM583 125h1v1h-1zM573 126h2v1h-2zM577 126h1v1h-1zM583 126h1v1h-1zM566 127h1v1h-1zM563 128h1v1h-1zM568 128h1v1h-1zM573 129h1v1h-1zM575 129h1v1h-1zM563 130h1v1h-1zM571 131h1v1h-1zM574 131h1v1h-1zM565 132h2v1h-2zM570 132h1v1h-1zM575 132h1v1h-1zM558 133h1v1h-1zM571 133h1v1h-1zM562 134h1v1h-1zM568 134h1v1h-1zM577 134h2v1h-2zM562 135h2v1h-2zM567 135h1v1h-1zM569 135h1v1h-1zM554 136h1v1h-1zM563 136h1v1h-1zM565 136h3v1h-3zM572 136h1v1h-1zM567 137h1v1h-1zM570 137h1v1h-1zM571 138h1v1h-1zM556 139h1v1h-1zM569 139h1v1h-1zM559 140h1v1h-1zM563 140h1v1h-1zM557 141h1v1h-1zM560 141h1v1h-1zM562 141h1v1h-1zM564 141h1v1h-1zM568 141h1v1h-1zM555 142h1v1h-1zM566 142h1v1h-1zM571 142h2v1h-2zM554 143h1v1h-1zM561 143h1v1h-1zM547 144h1v1h-1zM550 144h1v1h-1zM553 144h1v1h-1zM557 144h1v1h-1zM561 144h1v1h-1zM561 145h1v1h-1zM566 145h1v1h-1zM545 146h1v1h-1zM548 146h1v1h-1zM555 146h1v1h-1zM558 146h1v1h-1zM561 146h1v1h-1zM549 147h1v1h-1zM563 147h1v1h-1zM542 148h1v1h-1zM547 148h1v1h-1zM550 148h2v1h-2zM556 148h1v1h-1zM558 148h1v1h-1zM562 148h1v1h-1zM565 148h1v1h-1zM544 149h4v1h-4zM553 149h1v1h-1zM556 149h2v1h-2zM541 150h2v1h-2zM548 150h2v1h-2zM555 150h1v1h-1zM562 150h1v1h-1zM541 151h1v1h-1zM558 151h1v1h-1zM542 152h1v1h-1zM555 152h1v1h-1zM557 152h1v1h-1zM557 153h1v1h-1zM538 154h2v1h-2zM537 155h1v1h-1zM553 155h1v1h-1zM535 156h1v1h-1zM553 156h3v1h-3zM552 157h2v1h-2zM554 158h1v1h-1zM556 158h1v1h-1zM549 160h1v1h-1zM529 161h1v1h-1zM551 162h1v1h-1zM544 170h1v1h-1zM541 171h1v1h-1zM540 172h1v1h-1zM539 173h1v1h-1zM535 177h1v1h-1zM532 180h1v1h-1z"/><path fill="#4e9ccc" d="M660 41h2v1h-2zM659 44h1v1h-1zM659 48h1v1h-1zM646 51h1v1h-1zM657 51h1v1h-1zM643 53h2v1h-2zM643 54h1v1h-1zM642 55h2v1h-2zM655 56h1v1h-1zM642 59h1v1h-1zM639 61h1v1h-1zM641 61h1v1h-1zM646 61h1v1h-1zM642 62h1v1h-1zM644 62h1v1h-1zM637 65h1v1h-1zM637 66h2v1h-2zM640 66h1v1h-1zM631 71h1v1h-1zM557 145h1v1h-1zM546 150h1v1h-1zM548 151h1v1h-1zM545 152h1v1h-1zM550 152h1v1h-1zM541 153h1v1h-1zM547 153h1v1h-1zM542 154h1v1h-1zM541 155h2v1h-2zM544 156h1v1h-1zM548 157h1v1h-1zM536 158h1v1h-1zM533 159h1v1h-1zM547 159h1v1h-1zM549 159h1v1h-1zM546 162h1v1h-1zM543 167h1v1h-1zM530 180h1v1h-1z"/><path fill="#5aa2d2" d="M663 41h1v1h-1zM662 42h1v1h-1zM654 43h1v1h-1zM661 44h1v1h-1zM659 46h1v1h-1zM644 51h2v1h-2zM658 51h1v1h-1zM657 52h1v1h-1zM655 54h1v1h-1zM642 56h1v1h-1zM654 56h1v1h-1zM638 57h1v1h-1zM653 57h1v1h-1zM639 58h1v1h-1zM653 58h1v1h-1zM634 59h1v1h-1zM651 59h2v1h-2zM637 60h2v1h-2zM645 62h1v1h-1zM647 62h1v1h-1zM632 63h1v1h-1zM638 63h1v1h-1zM644 63h1v1h-1zM640 64h1v1h-1zM642 64h1v1h-1zM645 64h2v1h-2zM642 65h1v1h-1zM633 70h1v1h-1zM629 73h2v1h-2zM639 73h1v1h-1zM628 74h1v1h-1zM623 81h1v1h-1zM619 82h1v1h-1zM614 83h1v1h-1zM618 85h1v1h-1zM616 86h1v1h-1zM605 96h1v1h-1zM603 99h1v1h-1zM601 103h1v1h-1zM598 104h1v1h-1zM596 107h1v1h-1zM593 110h1v1h-1zM592 112h1v1h-1zM588 115h1v1h-1zM581 122h1v1h-1zM567 134h1v1h-1zM565 138h1v1h-1zM561 140h2v1h-2zM559 144h1v1h-1zM556 145h1v1h-1zM555 147h1v1h-1zM550 149h1v1h-1zM552 149h1v1h-1zM551 151h1v1h-1zM555 151h1v1h-1zM546 152h1v1h-1zM549 152h1v1h-1zM551 152h1v1h-1zM540 153h1v1h-1zM537 156h1v1h-1zM550 156h2v1h-2zM534 157h1v1h-1zM550 157h1v1h-1zM550 158h1v1h-1zM553 158h1v1h-1zM530 161h1v1h-1zM548 162h1v1h-1zM527 165h1v1h-1zM543 169h1v1h-1zM543 170h1v1h-1zM531 180h1v1h-1z"/><path fill="#7ebad8" d="M664 41h1v1h-1zM652 43h1v1h-1zM662 46h1v1h-1zM647 47h1v1h-1zM662 47h1v1h-1zM642 50h1v1h-1zM642 51h1v1h-1zM632 57h1v1h-1zM635 59h1v1h-1zM654 59h1v1h-1zM633 61h1v1h-1zM627 63h1v1h-1zM649 63h1v1h-1zM625 64h1v1h-1zM630 64h1v1h-1zM648 64h3v1h-3zM625 65h1v1h-1zM628 65h3v1h-3zM650 65h1v1h-1zM629 66h1v1h-1zM646 66h1v1h-1zM622 67h1v1h-1zM645 67h1v1h-1zM624 69h1v1h-1zM642 69h1v1h-1zM644 69h1v1h-1zM636 70h1v1h-1zM645 70h1v1h-1zM618 71h1v1h-1zM624 71h1v1h-1zM627 71h1v1h-1zM641 71h1v1h-1zM644 71h1v1h-1zM619 72h1v1h-1zM621 72h1v1h-1zM625 72h1v1h-1zM643 72h1v1h-1zM624 73h1v1h-1zM632 73h1v1h-1zM615 75h1v1h-1zM618 75h1v1h-1zM631 75h1v1h-1zM635 75h1v1h-1zM619 76h2v1h-2zM634 76h1v1h-1zM636 76h1v1h-1zM615 77h1v1h-1zM622 77h2v1h-2zM628 77h1v1h-1zM631 77h1v1h-1zM634 77h1v1h-1zM631 78h1v1h-1zM638 78h1v1h-1zM612 79h1v1h-1zM623 79h1v1h-1zM626 79h1v1h-1zM632 79h1v1h-1zM610 80h1v1h-1zM614 80h1v1h-1zM617 80h2v1h-2zM620 80h1v1h-1zM623 80h1v1h-1zM625 80h1v1h-1zM628 80h1v1h-1zM633 80h1v1h-1zM635 80h1v1h-1zM628 81h1v1h-1zM612 82h1v1h-1zM615 82h1v1h-1zM618 82h1v1h-1zM630 82h1v1h-1zM634 82h1v1h-1zM632 83h1v1h-1zM605 84h1v1h-1zM612 84h3v1h-3zM604 85h1v1h-1zM609 85h1v1h-1zM621 85h1v1h-1zM604 86h1v1h-1zM606 86h1v1h-1zM611 86h1v1h-1zM618 86h1v1h-1zM623 86h1v1h-1zM625 86h1v1h-1zM627 86h1v1h-1zM603 87h1v1h-1zM618 87h1v1h-1zM620 87h1v1h-1zM625 87h1v1h-1zM609 88h1v1h-1zM622 88h1v1h-1zM628 88h1v1h-1zM600 89h1v1h-1zM604 89h1v1h-1zM616 89h1v1h-1zM625 89h1v1h-1zM601 90h2v1h-2zM608 90h2v1h-2zM620 90h2v1h-2zM601 91h1v1h-1zM622 91h1v1h-1zM624 91h1v1h-1zM603 92h1v1h-1zM615 92h1v1h-1zM620 92h1v1h-1zM602 93h1v1h-1zM614 93h2v1h-2zM617 93h1v1h-1zM597 94h1v1h-1zM606 94h1v1h-1zM613 94h1v1h-1zM617 94h1v1h-1zM596 95h1v1h-1zM602 95h1v1h-1zM616 95h1v1h-1zM599 96h1v1h-1zM618 96h1v1h-1zM593 97h2v1h-2zM601 97h1v1h-1zM603 97h1v1h-1zM593 98h1v1h-1zM614 98h2v1h-2zM594 99h1v1h-1zM598 99h2v1h-2zM606 99h1v1h-1zM609 99h1v1h-1zM594 100h1v1h-1zM601 100h1v1h-1zM606 100h1v1h-1zM615 100h1v1h-1zM595 102h2v1h-2zM603 102h1v1h-1zM587 103h2v1h-2zM609 103h1v1h-1zM611 103h1v1h-1zM592 104h1v1h-1zM608 104h1v1h-1zM585 105h1v1h-1zM592 105h1v1h-1zM594 105h1v1h-1zM602 105h1v1h-1zM608 105h1v1h-1zM591 106h2v1h-2zM604 106h1v1h-1zM606 106h1v1h-1zM583 107h1v1h-1zM586 107h1v1h-1zM605 107h1v1h-1zM598 108h1v1h-1zM600 108h1v1h-1zM604 108h1v1h-1zM592 109h1v1h-1zM599 109h1v1h-1zM604 109h1v1h-1zM581 110h1v1h-1zM585 110h1v1h-1zM587 110h1v1h-1zM595 110h1v1h-1zM602 110h1v1h-1zM581 111h2v1h-2zM590 111h1v1h-1zM601 111h1v1h-1zM583 112h1v1h-1zM585 112h1v1h-1zM589 112h1v1h-1zM596 112h1v1h-1zM600 112h1v1h-1zM602 112h1v1h-1zM579 113h1v1h-1zM581 113h1v1h-1zM583 113h1v1h-1zM593 113h1v1h-1zM599 113h4v1h-4zM583 114h1v1h-1zM585 114h1v1h-1zM601 114h2v1h-2zM583 115h1v1h-1zM596 115h1v1h-1zM576 116h1v1h-1zM579 116h1v1h-1zM584 116h1v1h-1zM595 116h2v1h-2zM576 117h1v1h-1zM579 117h1v1h-1zM590 117h1v1h-1zM592 117h1v1h-1zM594 117h1v1h-1zM571 118h1v1h-1zM580 118h1v1h-1zM591 118h2v1h-2zM596 118h1v1h-1zM570 119h1v1h-1zM595 119h1v1h-1zM573 120h1v1h-1zM575 120h1v1h-1zM588 120h1v1h-1zM593 120h1v1h-1zM571 121h1v1h-1zM575 121h1v1h-1zM577 121h2v1h-2zM568 122h3v1h-3zM580 122h1v1h-1zM584 122h2v1h-2zM584 123h1v1h-1zM593 123h1v1h-1zM566 124h1v1h-1zM569 124h1v1h-1zM571 124h1v1h-1zM583 124h2v1h-2zM588 124h1v1h-1zM568 125h2v1h-2zM572 125h1v1h-1zM579 125h1v1h-1zM588 125h1v1h-1zM569 126h2v1h-2zM572 126h1v1h-1zM575 126h1v1h-1zM585 126h1v1h-1zM573 127h1v1h-1zM578 127h1v1h-1zM580 127h2v1h-2zM581 128h1v1h-1zM585 128h1v1h-1zM563 129h2v1h-2zM566 129h1v1h-1zM576 129h1v1h-1zM586 129h1v1h-1zM564 130h4v1h-4zM572 130h1v1h-1zM574 130h1v1h-1zM579 130h1v1h-1zM581 130h1v1h-1zM583 130h1v1h-1zM585 130h1v1h-1zM563 131h1v1h-1zM569 131h1v1h-1zM578 131h1v1h-1zM559 132h1v1h-1zM562 132h2v1h-2zM568 132h1v1h-1zM578 132h2v1h-2zM582 132h1v1h-1zM556 133h1v1h-1zM566 133h2v1h-2zM573 133h1v1h-1zM558 134h2v1h-2zM563 134h1v1h-1zM559 135h1v1h-1zM565 135h1v1h-1zM570 135h1v1h-1zM575 135h1v1h-1zM555 136h1v1h-1zM557 136h1v1h-1zM559 136h1v1h-1zM570 136h1v1h-1zM557 137h1v1h-1zM562 137h1v1h-1zM577 137h1v1h-1zM556 138h1v1h-1zM558 138h1v1h-1zM566 138h2v1h-2zM561 139h2v1h-2zM565 139h1v1h-1zM558 140h1v1h-1zM576 140h1v1h-1zM550 141h3v1h-3zM565 141h3v1h-3zM572 141h2v1h-2zM549 142h1v1h-1zM551 142h2v1h-2zM557 142h1v1h-1zM559 142h1v1h-1zM565 142h1v1h-1zM569 142h1v1h-1zM556 143h2v1h-2zM564 143h1v1h-1zM568 143h1v1h-1zM548 144h1v1h-1zM552 144h1v1h-1zM552 145h1v1h-1zM554 145h1v1h-1zM562 145h1v1h-1zM565 145h1v1h-1zM571 145h1v1h-1zM542 146h2v1h-2zM546 146h1v1h-1zM567 146h1v1h-1zM569 146h1v1h-1zM548 147h1v1h-1zM557 147h2v1h-2zM561 147h2v1h-2zM541 148h1v1h-1zM543 148h2v1h-2zM552 148h1v1h-1zM561 148h1v1h-1zM566 148h1v1h-1zM568 148h1v1h-1zM543 149h1v1h-1zM558 149h1v1h-1zM563 149h1v1h-1zM565 149h1v1h-1zM540 151h1v1h-1zM562 151h1v1h-1zM554 152h1v1h-1zM558 152h1v1h-1zM560 152h1v1h-1zM560 153h1v1h-1zM559 154h1v1h-1zM536 155h1v1h-1zM555 160h2v1h-2zM554 161h1v1h-1zM546 168h1v1h-1z"/><path fill="#60a2d2" d="M655 42h1v1h-1zM651 45h1v1h-1zM650 46h1v1h-1zM644 64h1v1h-1zM640 65h1v1h-1zM635 69h1v1h-1zM638 70h1v1h-1zM628 75h1v1h-1zM617 85h1v1h-1zM602 99h1v1h-1zM578 124h1v1h-1zM558 144h1v1h-1zM545 150h1v1h-1zM552 152h1v1h-1zM532 160h1v1h-1z"/><path fill="#4290c6" d="M659 43h1v1h-1zM658 46h1v1h-1zM651 47h1v1h-1zM650 48h1v1h-1zM658 49h1v1h-1zM649 50h1v1h-1zM656 51h1v1h-1zM645 52h1v1h-1zM656 52h1v1h-1zM656 53h1v1h-1zM644 54h1v1h-1zM650 56h1v1h-1zM652 56h1v1h-1zM643 57h2v1h-2zM643 58h1v1h-1zM648 58h1v1h-1zM645 59h1v1h-1zM646 60h1v1h-1zM643 62h1v1h-1zM548 153h2v1h-2zM544 155h1v1h-1zM541 156h3v1h-3zM546 157h1v1h-1zM533 160h1v1h-1zM531 161h1v1h-1zM531 162h1v1h-1zM546 163h1v1h-1zM544 165h1v1h-1zM525 168h1v1h-1zM543 168h1v1h-1zM524 169h1v1h-1zM538 173h1v1h-1zM534 177h1v1h-1zM532 178h1v1h-1z"/><path fill="#78b4d8" d="M652 44h1v1h-1zM649 45h2v1h-2zM661 48h1v1h-1zM660 50h1v1h-1zM641 51h1v1h-1zM656 55h2v1h-2zM636 57h2v1h-2zM635 58h1v1h-1zM634 60h1v1h-1zM652 60h1v1h-1zM628 61h2v1h-2zM632 61h1v1h-1zM652 61h1v1h-1zM650 62h2v1h-2zM628 63h1v1h-1zM631 64h1v1h-1zM647 64h1v1h-1zM648 65h1v1h-1zM625 66h1v1h-1zM631 66h1v1h-1zM625 67h1v1h-1zM627 67h1v1h-1zM641 67h1v1h-1zM621 68h1v1h-1zM626 68h2v1h-2zM630 68h1v1h-1zM639 68h1v1h-1zM643 69h1v1h-1zM645 69h1v1h-1zM647 69h1v1h-1zM623 70h2v1h-2zM629 70h1v1h-1zM644 70h1v1h-1zM621 71h1v1h-1zM623 71h1v1h-1zM625 71h2v1h-2zM629 71h1v1h-1zM639 71h1v1h-1zM643 71h1v1h-1zM620 72h1v1h-1zM622 72h1v1h-1zM626 72h1v1h-1zM633 72h1v1h-1zM636 72h1v1h-1zM644 72h1v1h-1zM622 73h1v1h-1zM627 73h1v1h-1zM619 74h1v1h-1zM625 74h1v1h-1zM631 74h1v1h-1zM614 75h1v1h-1zM617 75h1v1h-1zM620 75h1v1h-1zM634 75h1v1h-1zM637 75h1v1h-1zM639 75h2v1h-2zM617 76h2v1h-2zM629 76h1v1h-1zM631 76h1v1h-1zM617 77h1v1h-1zM629 77h1v1h-1zM633 77h1v1h-1zM635 77h1v1h-1zM637 77h1v1h-1zM613 78h1v1h-1zM615 78h1v1h-1zM617 78h1v1h-1zM620 78h1v1h-1zM610 79h1v1h-1zM629 79h1v1h-1zM633 79h1v1h-1zM621 80h1v1h-1zM624 80h1v1h-1zM626 80h1v1h-1zM611 81h1v1h-1zM613 81h1v1h-1zM625 81h1v1h-1zM629 81h1v1h-1zM633 81h1v1h-1zM609 82h3v1h-3zM623 82h1v1h-1zM631 82h1v1h-1zM608 83h1v1h-1zM612 83h1v1h-1zM616 83h1v1h-1zM628 83h1v1h-1zM607 84h1v1h-1zM611 84h1v1h-1zM615 84h1v1h-1zM621 84h1v1h-1zM625 84h1v1h-1zM629 84h1v1h-1zM610 85h1v1h-1zM615 85h1v1h-1zM619 85h1v1h-1zM625 85h1v1h-1zM627 85h1v1h-1zM630 85h2v1h-2zM609 86h2v1h-2zM615 86h1v1h-1zM619 86h1v1h-1zM622 86h1v1h-1zM628 86h1v1h-1zM607 87h1v1h-1zM616 87h1v1h-1zM624 87h1v1h-1zM603 88h1v1h-1zM605 88h1v1h-1zM608 88h1v1h-1zM623 88h2v1h-2zM602 89h2v1h-2zM610 89h1v1h-1zM621 89h1v1h-1zM610 90h1v1h-1zM613 90h1v1h-1zM616 90h1v1h-1zM619 90h1v1h-1zM624 90h1v1h-1zM604 91h2v1h-2zM611 91h1v1h-1zM613 91h1v1h-1zM618 91h1v1h-1zM602 92h1v1h-1zM605 92h1v1h-1zM607 92h2v1h-2zM614 92h1v1h-1zM617 92h1v1h-1zM598 93h1v1h-1zM601 93h1v1h-1zM621 93h1v1h-1zM598 94h1v1h-1zM602 94h1v1h-1zM609 94h1v1h-1zM614 94h1v1h-1zM618 94h1v1h-1zM599 95h1v1h-1zM604 95h1v1h-1zM607 95h1v1h-1zM615 95h1v1h-1zM602 96h1v1h-1zM604 96h1v1h-1zM612 96h1v1h-1zM615 96h1v1h-1zM617 96h1v1h-1zM602 97h1v1h-1zM613 97h1v1h-1zM615 97h1v1h-1zM597 98h3v1h-3zM601 98h2v1h-2zM604 98h1v1h-1zM608 98h1v1h-1zM612 98h2v1h-2zM596 99h2v1h-2zM607 99h2v1h-2zM611 99h1v1h-1zM592 100h1v1h-1zM596 100h1v1h-1zM604 100h1v1h-1zM609 100h1v1h-1zM594 101h1v1h-1zM596 101h1v1h-1zM609 101h1v1h-1zM611 101h1v1h-1zM614 101h1v1h-1zM593 102h1v1h-1zM604 102h1v1h-1zM592 103h2v1h-2zM597 103h1v1h-1zM599 103h2v1h-2zM602 103h1v1h-1zM604 103h1v1h-1zM587 104h1v1h-1zM600 104h1v1h-1zM603 104h2v1h-2zM583 105h1v1h-1zM587 105h1v1h-1zM600 105h1v1h-1zM606 105h1v1h-1zM585 106h1v1h-1zM587 106h4v1h-4zM599 106h2v1h-2zM582 107h1v1h-1zM588 107h2v1h-2zM591 107h3v1h-3zM603 107h1v1h-1zM606 107h1v1h-1zM582 108h1v1h-1zM588 108h1v1h-1zM591 108h2v1h-2zM597 108h1v1h-1zM599 108h1v1h-1zM602 108h1v1h-1zM582 109h1v1h-1zM588 109h4v1h-4zM598 109h1v1h-1zM601 109h3v1h-3zM583 110h1v1h-1zM589 110h2v1h-2zM594 110h1v1h-1zM600 110h1v1h-1zM584 111h1v1h-1zM597 111h1v1h-1zM587 112h1v1h-1zM578 113h1v1h-1zM580 113h1v1h-1zM594 113h2v1h-2zM577 114h1v1h-1zM580 114h1v1h-1zM586 114h1v1h-1zM592 114h1v1h-1zM597 114h3v1h-3zM579 115h2v1h-2zM590 115h1v1h-1zM592 115h1v1h-1zM575 116h1v1h-1zM580 116h1v1h-1zM588 116h2v1h-2zM577 117h2v1h-2zM587 117h1v1h-1zM576 118h1v1h-1zM588 118h1v1h-1zM593 118h1v1h-1zM584 119h1v1h-1zM586 119h1v1h-1zM592 119h1v1h-1zM579 120h2v1h-2zM583 120h1v1h-1zM592 120h1v1h-1zM574 121h1v1h-1zM579 121h1v1h-1zM591 121h1v1h-1zM593 121h1v1h-1zM567 122h1v1h-1zM573 122h2v1h-2zM589 122h1v1h-1zM568 123h1v1h-1zM570 123h1v1h-1zM574 123h1v1h-1zM577 123h1v1h-1zM579 123h1v1h-1zM581 123h1v1h-1zM588 123h1v1h-1zM572 124h1v1h-1zM574 124h1v1h-1zM581 124h1v1h-1zM587 124h1v1h-1zM575 125h1v1h-1zM580 125h1v1h-1zM584 125h1v1h-1zM586 125h1v1h-1zM567 126h2v1h-2zM584 126h1v1h-1zM587 126h1v1h-1zM568 127h1v1h-1zM570 127h1v1h-1zM579 127h1v1h-1zM565 128h2v1h-2zM569 128h1v1h-1zM571 128h3v1h-3zM575 128h1v1h-1zM577 128h1v1h-1zM579 128h1v1h-1zM583 128h1v1h-1zM562 129h1v1h-1zM565 129h1v1h-1zM568 129h1v1h-1zM572 129h1v1h-1zM574 129h1v1h-1zM577 129h2v1h-2zM581 129h1v1h-1zM585 129h1v1h-1zM573 130h1v1h-1zM576 130h2v1h-2zM582 130h1v1h-1zM558 131h1v1h-1zM560 131h1v1h-1zM564 131h1v1h-1zM568 131h1v1h-1zM570 131h1v1h-1zM576 131h1v1h-1zM573 132h1v1h-1zM576 132h2v1h-2zM580 132h2v1h-2zM559 133h1v1h-1zM561 133h2v1h-2zM564 133h1v1h-1zM580 133h1v1h-1zM555 134h1v1h-1zM560 134h1v1h-1zM566 134h1v1h-1zM569 134h1v1h-1zM573 134h1v1h-1zM576 134h1v1h-1zM555 135h1v1h-1zM564 135h1v1h-1zM576 135h1v1h-1zM578 135h1v1h-1zM568 136h1v1h-1zM574 136h2v1h-2zM579 136h1v1h-1zM555 137h1v1h-1zM559 137h1v1h-1zM564 137h1v1h-1zM566 137h1v1h-1zM559 138h1v1h-1zM562 138h1v1h-1zM570 138h1v1h-1zM550 139h1v1h-1zM557 139h1v1h-1zM560 139h1v1h-1zM568 139h1v1h-1zM550 140h1v1h-1zM553 140h1v1h-1zM555 140h1v1h-1zM557 140h1v1h-1zM566 140h2v1h-2zM569 140h2v1h-2zM573 140h1v1h-1zM556 141h1v1h-1zM561 141h1v1h-1zM548 142h1v1h-1zM553 142h1v1h-1zM564 142h1v1h-1zM570 142h1v1h-1zM546 143h1v1h-1zM549 143h1v1h-1zM567 143h1v1h-1zM554 144h2v1h-2zM562 144h1v1h-1zM564 144h2v1h-2zM545 145h1v1h-1zM551 145h1v1h-1zM559 145h2v1h-2zM564 145h1v1h-1zM568 145h1v1h-1zM553 146h1v1h-1zM562 146h2v1h-2zM568 146h1v1h-1zM544 147h3v1h-3zM550 147h1v1h-1zM560 147h1v1h-1zM566 147h1v1h-1zM548 148h1v1h-1zM559 148h1v1h-1zM563 148h2v1h-2zM540 149h1v1h-1zM542 149h1v1h-1zM560 149h1v1h-1zM559 150h1v1h-1zM561 150h1v1h-1zM544 151h1v1h-1zM549 151h1v1h-1zM553 151h1v1h-1zM559 151h1v1h-1zM540 152h1v1h-1zM555 153h1v1h-1zM535 155h1v1h-1zM557 155h1v1h-1zM556 156h1v1h-1zM559 156h1v1h-1zM557 157h1v1h-1zM532 158h1v1h-1zM555 158h1v1h-1zM551 159h2v1h-2zM554 159h2v1h-2zM531 160h1v1h-1zM551 160h2v1h-2zM549 161h1v1h-1zM553 161h1v1h-1zM549 163h1v1h-1zM548 165h1v1h-1zM545 168h1v1h-1zM541 172h1v1h-1zM540 173h1v1h-1z"/><path fill="#54a2cc" d="M654 44h1v1h-1zM662 44h1v1h-1zM653 45h1v1h-1zM650 47h1v1h-1zM658 48h1v1h-1zM647 50h1v1h-1zM642 53h1v1h-1zM656 54h1v1h-1zM640 57h2v1h-2zM639 59h1v1h-1zM649 59h1v1h-1zM649 60h1v1h-1zM639 63h1v1h-1zM642 63h1v1h-1zM635 64h1v1h-1zM636 66h1v1h-1zM635 67h1v1h-1zM637 67h1v1h-1zM638 68h1v1h-1zM632 69h1v1h-1zM611 93h1v1h-1zM596 106h1v1h-1zM589 114h1v1h-1zM553 150h1v1h-1zM550 151h1v1h-1zM542 153h1v1h-1zM546 153h1v1h-1zM553 154h1v1h-1zM536 157h1v1h-1z"/><path fill="#4296c6" d="M657 44h1v1h-1zM654 45h1v1h-1zM646 50h1v1h-1zM646 52h1v1h-1zM655 53h1v1h-1zM653 56h1v1h-1zM651 57h1v1h-1zM641 58h1v1h-1zM648 59h1v1h-1zM642 61h1v1h-1zM545 154h1v1h-1zM535 159h1v1h-1zM544 166h1v1h-1zM523 170h1v1h-1z"/><path fill="#3684c0" d="M658 44h1v1h-1zM651 49h1v1h-1zM655 49h1v1h-1zM647 51h1v1h-1zM647 52h2v1h-2zM653 53h1v1h-1zM652 54h1v1h-1zM644 56h1v1h-1zM651 56h1v1h-1zM649 57h2v1h-2zM645 58h2v1h-2zM547 154h1v1h-1zM547 157h1v1h-1zM538 158h1v1h-1zM546 158h1v1h-1zM536 159h1v1h-1zM545 160h1v1h-1zM544 163h1v1h-1zM529 164h2v1h-2zM543 166h1v1h-1zM542 167h1v1h-1zM542 168h1v1h-1zM540 170h1v1h-1zM538 172h1v1h-1zM524 182h2v1h-2z"/><path fill="#2a7eba" d="M657 45h1v1h-1zM653 52h1v1h-1zM645 56h1v1h-1zM537 158h1v1h-1zM536 160h1v1h-1zM544 160h1v1h-1zM533 162h1v1h-1zM531 163h1v1h-1zM539 171h1v1h-1zM537 173h1v1h-1zM528 180h1v1h-1z"/><path fill="#368ac0" d="M658 45h1v1h-1zM655 46h1v1h-1zM646 54h2v1h-2zM653 54h1v1h-1zM547 155h1v1h-1zM546 159h1v1h-1zM532 161h1v1h-1zM545 161h1v1h-1zM544 164h2v1h-2zM541 168h1v1h-1z"/><path fill="#4896cc" d="M659 45h1v1h-1zM651 46h1v1h-1zM648 48h1v1h-1zM644 52h1v1h-1zM654 55h1v1h-1zM641 59h1v1h-1zM640 60h1v1h-1zM647 60h2v1h-2zM641 62h1v1h-1zM639 64h1v1h-1zM544 154h1v1h-1zM538 155h1v1h-1zM537 157h1v1h-1zM534 158h1v1h-1zM547 161h1v1h-1zM547 163h1v1h-1z"/><path fill="#4e96cc" d="M652 46h1v1h-1zM652 57h1v1h-1zM640 61h1v1h-1zM636 65h1v1h-1zM544 153h2v1h-2zM551 153h1v1h-1zM541 154h1v1h-1zM543 155h1v1h-1zM539 157h1v1h-1zM546 164h1v1h-1z"/><path fill="#3c90c6" d="M654 46h1v1h-1zM652 47h2v1h-2zM658 47h1v1h-1zM648 50h1v1h-1zM656 50h1v1h-1zM648 51h1v1h-1zM647 53h1v1h-1zM645 54h1v1h-1zM644 55h1v1h-1zM649 58h1v1h-1zM647 59h1v1h-1zM546 155h1v1h-1zM540 156h1v1h-1zM547 158h1v1h-1zM541 170h1v1h-1zM522 172h1v1h-1z"/><path fill="#3c8ac0" d="M656 46h1v1h-1zM652 48h1v1h-1zM657 48h1v1h-1zM645 53h1v1h-1zM649 56h1v1h-1zM647 58h1v1h-1zM643 59h1v1h-1zM643 60h2v1h-2zM550 153h1v1h-1zM548 155h1v1h-1zM534 159h1v1h-1zM534 160h1v1h-1zM547 160h1v1h-1zM545 162h1v1h-1zM527 181h2v1h-2zM527 182h1v1h-1z"/><path fill="#3084c0" d="M654 47h1v1h-1zM656 47h2v1h-2zM650 49h1v1h-1zM646 55h1v1h-1zM652 55h1v1h-1zM542 157h2v1h-2zM532 162h1v1h-1zM526 167h1v1h-1zM541 169h1v1h-1zM521 174h1v1h-1z"/><path fill="#2472b4" d="M655 47h1v1h-1zM655 48h1v1h-1zM652 50h1v1h-1zM650 52h1v1h-1zM648 53h1v1h-1zM649 54h1v1h-1zM649 55h1v1h-1zM646 56h1v1h-1zM644 59h1v1h-1zM544 157h1v1h-1zM542 158h1v1h-1zM543 159h1v1h-1zM542 166h1v1h-1zM526 168h1v1h-1zM525 169h1v1h-1zM523 171h1v1h-1zM522 173h1v1h-1zM536 173h1v1h-1zM535 175h1v1h-1zM533 177h1v1h-1zM530 179h1v1h-1z"/><path fill="#84bad8" d="M645 48h1v1h-1zM660 51h1v1h-1zM656 56h1v1h-1zM635 57h1v1h-1zM626 63h1v1h-1zM632 66h1v1h-1zM626 70h1v1h-1zM634 71h1v1h-1zM637 72h1v1h-1zM620 74h1v1h-1zM625 75h1v1h-1zM636 75h1v1h-1zM622 76h1v1h-1zM637 76h1v1h-1zM638 77h1v1h-1zM611 78h1v1h-1zM627 78h1v1h-1zM634 78h1v1h-1zM616 79h1v1h-1zM608 82h1v1h-1zM601 89h1v1h-1zM622 89h1v1h-1zM607 90h1v1h-1zM616 92h1v1h-1zM604 93h1v1h-1zM616 93h1v1h-1zM611 94h1v1h-1zM620 94h1v1h-1zM617 95h1v1h-1zM604 97h1v1h-1zM611 97h1v1h-1zM610 98h1v1h-1zM605 100h1v1h-1zM588 101h1v1h-1zM591 101h1v1h-1zM589 102h1v1h-1zM605 103h1v1h-1zM612 103h1v1h-1zM589 104h1v1h-1zM591 105h1v1h-1zM586 106h1v1h-1zM603 106h1v1h-1zM590 108h1v1h-1zM597 113h1v1h-1zM573 116h1v1h-1zM591 117h1v1h-1zM596 117h1v1h-1zM578 119h1v1h-1zM587 119h1v1h-1zM594 119h1v1h-1zM577 120h1v1h-1zM595 120h2v1h-2zM583 123h1v1h-1zM591 123h1v1h-1zM590 125h1v1h-1zM564 126h1v1h-1zM588 126h1v1h-1zM567 129h1v1h-1zM571 129h1v1h-1zM580 129h1v1h-1zM583 129h1v1h-1zM561 130h1v1h-1zM581 131h1v1h-1zM576 133h1v1h-1zM554 134h1v1h-1zM556 134h1v1h-1zM556 135h1v1h-1zM571 137h1v1h-1zM567 139h1v1h-1zM565 143h1v1h-1zM551 144h1v1h-1zM550 146h1v1h-1zM567 148h1v1h-1zM564 152h1v1h-1z"/><path fill="#307eba" d="M651 48h1v1h-1zM653 48h1v1h-1zM650 50h1v1h-1zM655 50h1v1h-1zM654 51h1v1h-1zM651 54h1v1h-1zM648 56h1v1h-1zM646 57h2v1h-2zM545 156h2v1h-2zM540 158h2v1h-2zM545 158h1v1h-1zM544 159h1v1h-1zM535 160h1v1h-1zM533 161h1v1h-1zM535 161h1v1h-1zM544 162h1v1h-1zM530 163h1v1h-1zM545 163h1v1h-1zM527 166h2v1h-2zM527 167h1v1h-1zM520 176h1v1h-1zM534 176h1v1h-1zM529 180h1v1h-1z"/><path fill="#2a78ba" d="M654 48h1v1h-1zM656 48h1v1h-1zM654 49h1v1h-1zM656 49h1v1h-1zM651 50h1v1h-1zM654 50h1v1h-1zM649 51h2v1h-2zM649 52h1v1h-1zM652 52h1v1h-1zM646 53h1v1h-1zM652 53h1v1h-1zM647 56h1v1h-1zM645 57h1v1h-1zM648 57h1v1h-1zM541 157h1v1h-1zM545 157h1v1h-1zM539 158h1v1h-1zM545 159h1v1h-1zM532 163h1v1h-1zM543 163h1v1h-1zM542 165h2v1h-2zM540 169h1v1h-1zM524 170h1v1h-1zM523 182h1v1h-1z"/><path fill="#bad2ea" d="M662 48h1v1h-1z"/><path fill="#2478ba" d="M652 49h1v1h-1zM653 50h1v1h-1zM650 54h1v1h-1zM647 55h1v1h-1zM537 159h1v1h-1zM534 161h1v1h-1zM544 161h1v1h-1zM543 164h1v1h-1zM529 165h1v1h-1z"/><path fill="#1e6cb4" d="M653 49h1v1h-1zM652 51h1v1h-1zM649 53h1v1h-1zM651 53h1v1h-1zM539 159h1v1h-1zM543 162h1v1h-1zM541 167h1v1h-1zM540 168h1v1h-1zM538 171h1v1h-1zM523 172h1v1h-1zM535 174h1v1h-1zM520 177h1v1h-1zM526 181h1v1h-1z"/><path fill="#3c8ac6" d="M657 49h1v1h-1zM655 51h1v1h-1zM654 53h1v1h-1zM650 55h1v1h-1zM644 58h1v1h-1zM528 165h1v1h-1z"/><path fill="#1e6cae" d="M651 51h1v1h-1zM653 51h1v1h-1zM648 55h1v1h-1zM544 158h1v1h-1zM542 159h1v1h-1zM539 160h1v1h-1zM537 161h1v1h-1zM533 163h1v1h-1zM524 171h1v1h-1zM531 178h1v1h-1zM529 179h1v1h-1z"/><path fill="#1260a8" d="M651 52h1v1h-1zM648 54h1v1h-1zM540 160h2v1h-2zM542 161h1v1h-1zM542 163h1v1h-1zM531 164h1v1h-1zM542 164h1v1h-1zM530 165h1v1h-1zM541 165h1v1h-1zM528 167h1v1h-1zM540 167h1v1h-1zM527 168h1v1h-1zM539 168h1v1h-1zM537 170h1v1h-1zM534 174h1v1h-1zM521 175h1v1h-1zM533 175h1v1h-1zM521 176h1v1h-1zM521 177h1v1h-1zM520 182h1v1h-1z"/><path fill="#307ec0" d="M654 52h1v1h-1zM642 60h1v1h-1zM540 157h1v1h-1zM536 174h1v1h-1z"/><path fill="#72aed8" d="M640 53h1v1h-1zM637 55h1v1h-1zM630 61h1v1h-1zM649 62h1v1h-1zM629 63h1v1h-1zM628 64h1v1h-1zM632 68h1v1h-1zM641 68h1v1h-1zM628 70h1v1h-1zM630 70h1v1h-1zM639 70h1v1h-1zM630 71h1v1h-1zM630 72h1v1h-1zM620 73h1v1h-1zM633 73h1v1h-1zM624 74h1v1h-1zM632 74h1v1h-1zM639 74h1v1h-1zM624 75h1v1h-1zM629 75h1v1h-1zM639 77h1v1h-1zM621 78h1v1h-1zM623 78h1v1h-1zM622 79h1v1h-1zM619 80h1v1h-1zM633 83h1v1h-1zM623 85h1v1h-1zM611 88h1v1h-1zM613 89h1v1h-1zM625 90h1v1h-1zM619 91h1v1h-1zM618 92h1v1h-1zM603 93h1v1h-1zM610 93h1v1h-1zM610 94h1v1h-1zM612 94h1v1h-1zM619 97h1v1h-1zM599 102h1v1h-1zM593 105h1v1h-1zM594 106h1v1h-1zM605 106h1v1h-1zM601 107h1v1h-1zM594 108h1v1h-1zM593 109h1v1h-1zM593 112h1v1h-1zM588 114h1v1h-1zM589 117h1v1h-1zM593 117h1v1h-1zM573 118h1v1h-1zM587 118h1v1h-1zM577 119h1v1h-1zM591 119h1v1h-1zM581 121h1v1h-1zM575 123h1v1h-1zM567 124h1v1h-1zM574 125h1v1h-1zM582 126h1v1h-1zM564 128h1v1h-1zM574 128h1v1h-1zM560 129h1v1h-1zM569 129h2v1h-2zM562 131h1v1h-1zM574 132h1v1h-1zM558 135h1v1h-1zM561 135h1v1h-1zM558 137h1v1h-1zM557 138h1v1h-1zM561 138h1v1h-1zM558 139h1v1h-1zM564 139h1v1h-1zM572 139h1v1h-1zM568 144h1v1h-1zM544 146h1v1h-1zM551 146h1v1h-1zM553 147h1v1h-1zM549 148h1v1h-1zM543 150h1v1h-1zM539 152h1v1h-1zM556 152h1v1h-1zM537 153h2v1h-2zM554 154h1v1h-1zM556 154h1v1h-1zM533 157h1v1h-1zM552 161h1v1h-1zM546 167h1v1h-1z"/><path fill="#1866ae" d="M650 53h1v1h-1zM540 159h2v1h-2zM543 160h1v1h-1zM541 161h1v1h-1zM540 166h2v1h-2zM525 170h1v1h-1zM537 171h1v1h-1zM537 172h1v1h-1zM532 177h1v1h-1zM527 180h1v1h-1zM523 181h1v1h-1zM525 181h1v1h-1z"/><path fill="#2472ba" d="M651 55h1v1h-1z"/><path fill="#96c6de" d="M634 57h1v1h-1zM630 59h1v1h-1zM646 69h1v1h-1zM620 70h1v1h-1zM646 70h1v1h-1zM622 71h1v1h-1zM646 71h1v1h-1zM617 72h1v1h-1zM616 74h1v1h-1zM615 76h2v1h-2zM613 79h1v1h-1zM637 80h1v1h-1zM607 83h1v1h-1zM609 83h1v1h-1zM630 84h2v1h-2zM632 85h1v1h-1zM630 87h1v1h-1zM601 88h1v1h-1zM605 89h1v1h-1zM597 93h1v1h-1zM595 94h1v1h-1zM591 97h1v1h-1zM614 99h2v1h-2zM589 101h1v1h-1zM610 101h1v1h-1zM615 101h1v1h-1zM587 102h1v1h-1zM612 104h1v1h-1zM584 105h1v1h-1zM610 106h1v1h-1zM600 107h1v1h-1zM583 108h1v1h-1zM578 110h1v1h-1zM598 113h1v1h-1zM573 115h1v1h-1zM571 117h2v1h-2zM580 117h1v1h-1zM597 117h1v1h-1zM590 121h1v1h-1zM566 122h1v1h-1zM593 122h1v1h-1zM559 130h2v1h-2zM561 132h1v1h-1zM555 133h1v1h-1zM553 135h1v1h-1zM554 137h1v1h-1zM572 137h1v1h-1zM578 137h1v1h-1zM576 138h1v1h-1zM551 139h1v1h-1zM559 141h1v1h-1zM569 141h1v1h-1zM546 142h1v1h-1zM570 143h1v1h-1zM544 144h1v1h-1zM569 147h1v1h-1zM565 151h1v1h-1zM534 156h1v1h-1zM560 156h1v1h-1z"/><path fill="#66aed8" d="M637 58h1v1h-1zM637 59h1v1h-1zM642 66h1v1h-1zM640 68h1v1h-1zM628 69h1v1h-1zM624 72h1v1h-1zM628 72h1v1h-1zM636 73h1v1h-1zM640 74h1v1h-1zM638 76h1v1h-1zM630 78h1v1h-1zM624 79h1v1h-1zM621 81h1v1h-1zM621 83h1v1h-1zM627 84h1v1h-1zM619 87h1v1h-1zM604 90h1v1h-1zM617 90h1v1h-1zM589 103h1v1h-1zM605 104h2v1h-2zM593 108h1v1h-1zM594 109h1v1h-1zM581 116h1v1h-1zM585 121h1v1h-1zM571 134h1v1h-1zM568 135h1v1h-1zM553 143h1v1h-1zM545 148h1v1h-1zM550 160h1v1h-1z"/><path fill="#90c0de" d="M633 60h1v1h-1zM650 63h1v1h-1zM627 65h1v1h-1zM622 68h1v1h-1zM646 68h1v1h-1zM617 73h1v1h-1zM619 73h1v1h-1zM643 73h1v1h-1zM615 74h1v1h-1zM638 75h1v1h-1zM613 76h1v1h-1zM618 77h1v1h-1zM632 77h1v1h-1zM639 78h1v1h-1zM609 81h1v1h-1zM629 82h1v1h-1zM632 82h1v1h-1zM610 83h1v1h-1zM629 83h1v1h-1zM608 84h1v1h-1zM623 84h1v1h-1zM611 85h1v1h-1zM605 86h1v1h-1zM629 86h1v1h-1zM605 90h1v1h-1zM599 91h2v1h-2zM607 91h1v1h-1zM614 91h1v1h-1zM625 91h1v1h-1zM601 92h1v1h-1zM619 93h1v1h-1zM594 94h1v1h-1zM593 95h1v1h-1zM612 95h1v1h-1zM614 95h1v1h-1zM597 96h1v1h-1zM619 96h1v1h-1zM595 97h2v1h-2zM607 98h1v1h-1zM613 99h1v1h-1zM616 99h1v1h-1zM611 100h1v1h-1zM614 100h1v1h-1zM595 101h1v1h-1zM588 102h1v1h-1zM610 102h1v1h-1zM613 102h1v1h-1zM596 103h1v1h-1zM611 104h1v1h-1zM607 105h1v1h-1zM607 106h1v1h-1zM585 107h1v1h-1zM590 107h1v1h-1zM581 108h1v1h-1zM585 108h1v1h-1zM606 108h1v1h-1zM580 109h2v1h-2zM584 109h1v1h-1zM605 109h1v1h-1zM580 110h1v1h-1zM580 111h1v1h-1zM599 111h1v1h-1zM576 112h1v1h-1zM579 112h1v1h-1zM601 112h1v1h-1zM586 113h1v1h-1zM578 114h1v1h-1zM600 114h1v1h-1zM595 117h1v1h-1zM594 118h1v1h-1zM573 119h1v1h-1zM575 119h1v1h-1zM578 122h1v1h-1zM571 123h1v1h-1zM590 123h1v1h-1zM565 124h1v1h-1zM563 125h3v1h-3zM582 125h1v1h-1zM566 126h1v1h-1zM562 127h1v1h-1zM586 130h1v1h-1zM561 131h1v1h-1zM584 131h1v1h-1zM558 132h1v1h-1zM583 132h2v1h-2zM557 133h1v1h-1zM560 133h1v1h-1zM580 134h1v1h-1zM581 135h1v1h-1zM556 136h1v1h-1zM556 137h1v1h-1zM551 138h1v1h-1zM575 138h1v1h-1zM553 139h1v1h-1zM548 140h1v1h-1zM548 141h2v1h-2zM555 141h1v1h-1zM554 142h1v1h-1zM540 148h1v1h-1zM562 149h1v1h-1zM537 151h1v1h-1zM563 151h2v1h-2zM563 152h1v1h-1zM558 154h1v1h-1zM562 154h1v1h-1zM560 155h2v1h-2zM533 156h1v1h-1zM558 156h1v1h-1zM555 157h1v1h-1zM553 162h1v1h-1zM544 169h1v1h-1z"/><path fill="#9ccce4" d="M653 61h1v1h-1zM651 64h1v1h-1zM645 72h1v1h-1zM624 85h1v1h-1zM593 96h1v1h-1zM618 98h1v1h-1zM585 104h1v1h-1zM581 107h1v1h-1zM595 121h1v1h-1zM562 126h1v1h-1zM588 128h1v1h-1zM559 131h1v1h-1zM563 143h1v1h-1zM564 150h1v1h-1z"/><path fill="#90c6de" d="M624 65h1v1h-1zM621 70h1v1h-1zM632 81h1v1h-1zM632 84h1v1h-1zM606 88h1v1h-1zM622 90h1v1h-1zM598 92h1v1h-1zM623 92h1v1h-1zM609 96h1v1h-1zM617 98h1v1h-1zM589 99h1v1h-1zM585 103h1v1h-1zM588 105h1v1h-1zM611 105h1v1h-1zM580 108h1v1h-1zM579 111h1v1h-1zM586 121h1v1h-1zM592 121h1v1h-1zM589 126h1v1h-1zM564 127h1v1h-1zM577 127h1v1h-1zM560 128h1v1h-1zM557 132h1v1h-1zM581 134h1v1h-1zM560 140h1v1h-1zM567 142h1v1h-1zM545 143h1v1h-1zM558 155h1v1h-1zM557 159h1v1h-1z"/><path fill="#7eb4d8" d="M625 68h1v1h-1zM645 71h1v1h-1zM640 76h1v1h-1zM627 81h1v1h-1zM626 83h1v1h-1zM626 85h1v1h-1zM607 86h1v1h-1zM621 86h1v1h-1zM606 90h1v1h-1zM618 90h1v1h-1zM600 94h1v1h-1zM608 95h1v1h-1zM591 100h1v1h-1zM598 101h1v1h-1zM598 110h1v1h-1zM577 116h1v1h-1zM579 118h1v1h-1zM568 124h1v1h-1zM566 125h1v1h-1zM572 127h1v1h-1zM566 131h1v1h-1zM569 132h1v1h-1zM578 133h1v1h-1zM555 139h1v1h-1zM564 140h1v1h-1zM544 145h1v1h-1zM567 145h1v1h-1zM559 146h1v1h-1zM564 146h1v1h-1zM547 167h1v1h-1z"/><path fill="#a8cce4" d="M643 74h1v1h-1zM596 92h1v1h-1zM569 119h1v1h-1zM590 126h1v1h-1zM589 127h1v1h-1zM559 129h1v1h-1zM568 147h1v1h-1zM567 149h1v1h-1zM532 156h1v1h-1zM555 161h1v1h-1z"/><path fill="#aed2e4" d="M635 82h1v1h-1zM591 98h1v1h-1zM577 111h1v1h-1zM574 114h1v1h-1zM568 120h1v1h-1zM594 122h1v1h-1zM592 124h1v1h-1zM591 125h1v1h-1zM587 129h1v1h-1zM573 143h1v1h-1zM539 149h1v1h-1zM538 150h1v1h-1z"/><path fill="#9cccde" d="M629 88h1v1h-1zM619 94h1v1h-1zM590 98h1v1h-1zM588 100h1v1h-1zM613 103h1v1h-1zM552 136h1v1h-1zM575 141h1v1h-1zM561 154h1v1h-1zM546 169h1v1h-1z"/><path fill="#a8d2e4" d="M586 102h1v1h-1z"/><path fill="#b4d2ea" d="M561 127h1v1h-1zM577 139h1v1h-1zM566 150h1v1h-1zM551 165h1v1h-1zM548 168h1v1h-1z"/><path fill="#aed2ea" d="M582 134h1v1h-1zM549 139h1v1h-1zM552 164h1v1h-1z"/><path fill="#1e72b4" d="M543 158h1v1h-1zM538 159h1v1h-1zM538 160h1v1h-1zM543 161h1v1h-1zM529 166h1v1h-1zM534 175h1v1h-1z"/><path fill="#186cae" d="M537 160h1v1h-1zM539 170h1v1h-1z"/><path fill="#1860a8" d="M542 160h1v1h-1zM536 161h1v1h-1zM542 162h1v1h-1zM539 169h1v1h-1zM533 176h1v1h-1zM530 178h1v1h-1z"/><path fill="#125aa2" d="M538 161h1v1h-1zM534 162h1v1h-1zM541 163h1v1h-1zM541 164h1v1h-1zM539 167h1v1h-1zM526 169h1v1h-1zM523 173h1v1h-1zM535 173h1v1h-1zM524 181h1v1h-1z"/><path fill="#0c549c" d="M539 161h1v1h-1zM541 162h1v1h-1zM540 163h1v1h-1zM531 165h1v1h-1zM530 166h1v1h-1zM538 169h1v1h-1zM525 171h1v1h-1zM522 175h1v1h-1zM522 176h1v1h-1zM530 177h1v1h-1zM520 181h1v1h-1z"/><path fill="#064890" d="M540 161h1v1h-1zM539 162h1v1h-1zM538 163h1v1h-1zM540 165h1v1h-1zM531 166h1v1h-1zM526 170h1v1h-1zM521 179h1v1h-1zM525 180h1v1h-1zM522 181h1v1h-1z"/><path fill="#0c5aa2" d="M535 162h1v1h-1zM534 163h1v1h-1zM532 164h1v1h-1zM527 169h1v1h-1zM538 170h1v1h-1zM536 172h1v1h-1zM532 176h1v1h-1zM531 177h1v1h-1zM526 180h1v1h-1z"/><path fill="#06549c" d="M536 162h1v1h-1zM521 182h1v1h-1z"/><path fill="#064e96" d="M537 162h2v1h-2zM535 163h2v1h-2zM530 167h1v1h-1zM536 171h1v1h-1zM535 172h1v1h-1zM523 174h1v1h-1zM529 178h1v1h-1zM520 179h1v1h-1zM528 179h1v1h-1z"/><path fill="#06488a" d="M540 162h1v1h-1zM528 168h1v1h-1zM538 168h1v1h-1zM524 173h1v1h-1zM520 180h1v1h-1z"/><path fill="#063c7e" d="M537 163h1v1h-1zM527 170h1v1h-1zM525 172h1v1h-1zM533 173h2v1h-2zM533 174h1v1h-1zM524 175h1v1h-1zM532 175h1v1h-1zM522 177h1v1h-1zM529 177h1v1h-1z"/><path fill="#064284" d="M539 163h1v1h-1zM534 164h2v1h-2zM533 165h1v1h-1zM538 166h1v1h-1zM523 176h1v1h-1zM531 176h1v1h-1zM521 178h1v1h-1zM527 178h2v1h-2zM525 179h1v1h-1zM523 180h1v1h-1zM521 181h1v1h-1z"/><path fill="#06428a" d="M533 164h1v1h-1zM539 164h1v1h-1zM532 165h1v1h-1zM538 167h1v1h-1zM524 172h1v1h-1zM525 173h1v1h-1zM523 175h1v1h-1zM527 179h1v1h-1z"/><path fill="#06306c" d="M536 164h2v1h-2zM535 165h4v1h-4zM533 166h5v1h-5zM531 167h1v1h-1zM533 167h5v1h-5zM530 168h7v1h-7zM528 169h9v1h-9zM528 170h8v1h-8zM527 171h8v1h-8zM526 172h8v1h-8zM526 173h7v1h-7zM524 174h8v1h-8zM525 175h6v1h-6zM524 176h6v1h-6zM523 177h6v1h-6zM524 178h3v1h-3zM524 179h1v1h-1z"/><path fill="#063672" d="M538 164h1v1h-1zM534 165h1v1h-1zM539 165h1v1h-1zM532 167h1v1h-1zM537 169h1v1h-1zM536 170h1v1h-1zM535 171h1v1h-1zM530 176h1v1h-1zM522 179h1v1h-1z"/><path fill="#125aa8" d="M540 164h1v1h-1z"/><path fill="#063072" d="M532 166h1v1h-1z"/><path fill="#064e9c" d="M539 166h1v1h-1zM529 167h1v1h-1zM524 180h1v1h-1z"/><path fill="#063c84" d="M529 168h1v1h-1z"/><path fill="#063c78" d="M537 168h1v1h-1zM534 172h1v1h-1zM522 178h2v1h-2zM521 180h1v1h-1z"/><path fill="#063678" d="M526 171h1v1h-1zM532 174h1v1h-1zM531 175h1v1h-1zM523 179h1v1h-1zM526 179h1v1h-1zM522 180h1v1h-1z"/><path fill="#1866a8" d="M522 174h1v1h-1zM520 178h1v1h-1z"/><path fill="#2222aa" d="M600.0 86.8h1.5v1.5h-1.5zM600.3 86.4h1.5v1.5h-1.5zM575.0 110.8h1.5v1.5h-1.5zM560.8 125.3h1.5v1.5h-1.5zM543.2 143.0h1.5v1.5h-1.5zM566.2 119.1h1.5v1.5h-1.5zM568.3 118.1h1.5v1.5h-1.5zM541.5 143.5h1.5v1.5h-1.5zM542.4 143.5h1.5v1.5h-1.5zM639.7 47.2h1.5v1.5h-1.5zM584.9 100.2h1.5v1.5h-1.5zM557.4 127.8h1.5v1.5h-1.5zM568.9 115.4h1.5v1.5h-1.5zM627.0 59.8h1.5v1.5h-1.5zM611.6 75.0h1.5v1.5h-1.5zM604.2 82.0h1.5v1.5h-1.5zM566.8 118.6h1.5v1.5h-1.5zM572.8 111.6h1.5v1.5h-1.5zM587.5 98.7h1.5v1.5h-1.5zM543.5 141.6h1.5v1.5h-1.5zM577.7 107.8h1.5v1.5h-1.5zM558.7 124.8h1.5v1.5h-1.5zM609.0 77.6h1.5v1.5h-1.5zM544.0 141.3h1.5v1.5h-1.5zM587.5 98.3h1.5v1.5h-1.5zM607.8 79.0h1.5v1.5h-1.5zM557.6 128.8h1.5v1.5h-1.5zM611.3 75.4h1.5v1.5h-1.5zM607.6 78.3h1.5v1.5h-1.5zM536.6 147.5h1.5v1.5h-1.5zM590.4 96.3h1.5v1.5h-1.5zM531.1 154.0h1.5v1.5h-1.5zM573.7 111.1h1.5v1.5h-1.5zM568.4 114.7h1.5v1.5h-1.5zM555.3 129.5h1.5v1.5h-1.5zM562.2 122.1h1.5v1.5h-1.5zM600.0 86.5h1.5v1.5h-1.5zM562.0 122.9h1.5v1.5h-1.5zM551.1 133.0h1.5v1.5h-1.5zM589.2 96.7h1.5v1.5h-1.5zM570.7 115.4h1.5v1.5h-1.5zM598.7 86.9h1.5v1.5h-1.5zM557.6 127.8h1.5v1.5h-1.5zM560.6 121.2h1.5v1.5h-1.5zM598.8 86.7h1.5v1.5h-1.5zM572.4 109.4h1.5v1.5h-1.5zM574.3 111.4h1.5v1.5h-1.5zM557.1 127.3h1.5v1.5h-1.5zM536.4 149.2h1.5v1.5h-1.5zM617.7 69.3h1.5v1.5h-1.5zM546.8 139.5h1.5v1.5h-1.5zM604.5 82.2h1.5v1.5h-1.5zM565.5 120.3h1.5v1.5h-1.5zM621.2 65.7h1.5v1.5h-1.5zM566.5 117.5h1.5v1.5h-1.5zM618.3 68.7h1.5v1.5h-1.5zM578.2 108.3h1.5v1.5h-1.5zM558.0 127.7h1.5v1.5h-1.5zM592.4 92.1h1.5v1.5h-1.5zM587.2 98.9h1.5v1.5h-1.5zM587.6 97.6h1.5v1.5h-1.5zM571.5 114.3h1.5v1.5h-1.5zM556.6 128.4h1.5v1.5h-1.5zM584.6 101.7h1.5v1.5h-1.5zM547.6 136.3h1.5v1.5h-1.5zM589.0 97.6h1.5v1.5h-1.5zM583.0 101.1h1.5v1.5h-1.5zM566.2 120.0h1.5v1.5h-1.5zM599.1 87.3h1.5v1.5h-1.5zM554.3 129.7h1.5v1.5h-1.5zM567.1 119.2h1.5v1.5h-1.5zM598.8 87.1h1.5v1.5h-1.5zM566.4 119.6h1.5v1.5h-1.5zM590.9 95.7h1.5v1.5h-1.5zM582.5 104.1h1.5v1.5h-1.5zM619.2 67.8h1.5v1.5h-1.5zM633.7 53.2h1.5v1.5h-1.5zM591.5 94.5h1.5v1.5h-1.5zM600.4 86.4h1.5v1.5h-1.5zM551.6 132.8h1.5v1.5h-1.5zM590.6 95.5h1.5v1.5h-1.5zM604.9 81.9h1.5v1.5h-1.5zM566.4 117.1h1.5v1.5h-1.5zM576.1 106.6h1.5v1.5h-1.5zM572.8 113.5h1.5v1.5h-1.5zM622.6 63.6h1.5v1.5h-1.5zM561.7 122.5h1.5v1.5h-1.5zM566.7 117.3h1.5v1.5h-1.5zM530.8 154.1h1.5v1.5h-1.5zM569.0 117.3h1.5v1.5h-1.5zM583.6 102.3h1.5v1.5h-1.5zM618.0 69.0h1.5v1.5h-1.5zM615.8 70.8h1.5v1.5h-1.5zM562.6 122.3h1.5v1.5h-1.5zM632.1 54.3h1.5v1.5h-1.5zM554.3 130.6h1.5v1.5h-1.5zM601.0 83.8h1.5v1.5h-1.5zM551.3 131.9h1.5v1.5h-1.5zM567.3 117.5h1.5v1.5h-1.5zM544.6 139.8h1.5v1.5h-1.5zM606.0 80.3h1.5v1.5h-1.5zM602.2 83.7h1.5v1.5h-1.5zM551.4 134.6h1.5v1.5h-1.5zM575.8 110.0h1.5v1.5h-1.5zM559.2 126.7h1.5v1.5h-1.5zM573.6 112.6h1.5v1.5h-1.5zM577.6 108.0h1.5v1.5h-1.5zM547.8 136.6h1.5v1.5h-1.5zM607.1 79.8h1.5v1.5h-1.5zM560.1 125.3h1.5v1.5h-1.5zM570.3 115.2h1.5v1.5h-1.5zM543.3 142.3h1.5v1.5h-1.5zM532.5 153.2h1.5v1.5h-1.5zM553.8 129.1h1.5v1.5h-1.5zM564.0 121.9h1.5v1.5h-1.5zM616.4 69.9h1.5v1.5h-1.5zM610.3 76.1h1.5v1.5h-1.5zM573.0 113.5h1.5v1.5h-1.5zM571.0 114.9h1.5v1.5h-1.5zM586.2 99.1h1.5v1.5h-1.5zM606.0 80.2h1.5v1.5h-1.5zM563.8 122.2h1.5v1.5h-1.5zM598.1 87.4h1.5v1.5h-1.5zM566.9 117.9h1.5v1.5h-1.5zM579.7 104.1h1.5v1.5h-1.5zM591.8 92.2h1.5v1.5h-1.5zM574.4 112.1h1.5v1.5h-1.5zM588.3 97.2h1.5v1.5h-1.5zM589.3 97.0h1.5v1.5h-1.5zM533.7 151.8h1.5v1.5h-1.5zM571.9 100.2h1.5v1.5h-1.5zM606.0 80.9h1.5v1.5h-1.5zM590.3 93.2h1.5v1.5h-1.5zM554.2 131.5h1.5v1.5h-1.5zM557.9 127.1h1.5v1.5h-1.5zM600.4 81.7h1.5v1.5h-1.5zM526.2 145.5h1.5v1.5h-1.5zM595.5 89.1h1.5v1.5h-1.5zM591.5 90.2h1.5v1.5h-1.5zM564.7 114.4h1.5v1.5h-1.5zM556.9 125.8h1.5v1.5h-1.5zM548.7 120.4h1.5v1.5h-1.5zM549.0 123.1h1.5v1.5h-1.5zM565.8 118.3h1.5v1.5h-1.5zM568.4 113.4h1.5v1.5h-1.5zM570.6 109.0h1.5v1.5h-1.5zM627.7 56.4h1.5v1.5h-1.5zM593.5 93.0h1.5v1.5h-1.5zM625.8 61.3h1.5v1.5h-1.5zM548.5 126.9h1.5v1.5h-1.5zM545.7 130.8h1.5v1.5h-1.5zM577.5 107.6h1.5v1.5h-1.5zM538.4 143.4h1.5v1.5h-1.5zM538.4 145.5h1.5v1.5h-1.5zM571.4 115.0h1.5v1.5h-1.5zM565.5 115.4h1.5v1.5h-1.5zM607.3 76.3h1.5v1.5h-1.5zM576.5 104.1h1.5v1.5h-1.5zM569.7 115.7h1.5v1.5h-1.5zM555.0 129.9h1.5v1.5h-1.5zM533.6 149.2h1.5v1.5h-1.5zM551.8 132.9h1.5v1.5h-1.5zM583.2 101.0h1.5v1.5h-1.5zM542.3 122.4h1.5v1.5h-1.5zM557.4 118.9h1.5v1.5h-1.5zM531.2 151.7h1.5v1.5h-1.5zM596.3 88.0h1.5v1.5h-1.5zM554.7 127.4h1.5v1.5h-1.5zM602.0 81.5h1.5v1.5h-1.5zM565.0 109.3h1.5v1.5h-1.5zM597.6 85.4h1.5v1.5h-1.5zM577.2 103.2h1.5v1.5h-1.5zM585.4 94.7h1.5v1.5h-1.5zM544.6 139.9h1.5v1.5h-1.5zM571.3 111.5h1.5v1.5h-1.5zM566.5 111.1h1.5v1.5h-1.5zM601.5 83.4h1.5v1.5h-1.5zM553.7 116.1h1.5v1.5h-1.5zM576.9 109.1h1.5v1.5h-1.5zM540.5 142.0h1.5v1.5h-1.5zM562.3 121.6h1.5v1.5h-1.5zM555.7 122.4h1.5v1.5h-1.5zM548.2 134.5h1.5v1.5h-1.5zM590.0 84.7h1.5v1.5h-1.5zM559.7 120.0h1.5v1.5h-1.5zM618.5 61.5h1.5v1.5h-1.5zM571.8 105.2h1.5v1.5h-1.5zM574.5 105.7h1.5v1.5h-1.5zM577.0 103.3h1.5v1.5h-1.5zM581.8 102.1h1.5v1.5h-1.5zM548.8 135.1h1.5v1.5h-1.5zM565.8 118.8h1.5v1.5h-1.5zM554.9 130.6h1.5v1.5h-1.5zM555.9 113.6h1.5v1.5h-1.5zM543.7 138.0h1.5v1.5h-1.5zM618.5 67.7h1.5v1.5h-1.5zM548.8 127.3h1.5v1.5h-1.5zM581.5 102.5h1.5v1.5h-1.5zM555.0 124.3h1.5v1.5h-1.5zM599.2 80.4h1.5v1.5h-1.5zM581.5 104.0h1.5v1.5h-1.5zM545.4 134.3h1.5v1.5h-1.5zM599.1 87.4h1.5v1.5h-1.5zM613.3 72.5h1.5v1.5h-1.5zM606.1 79.0h1.5v1.5h-1.5zM574.4 110.6h1.5v1.5h-1.5zM549.6 136.6h1.5v1.5h-1.5zM551.3 132.4h1.5v1.5h-1.5zM608.4 73.8h1.5v1.5h-1.5zM570.0 108.7h1.5v1.5h-1.5zM549.8 132.3h1.5v1.5h-1.5zM603.8 82.4h1.5v1.5h-1.5zM574.8 100.6h1.5v1.5h-1.5zM571.1 107.4h1.5v1.5h-1.5zM563.2 119.8h1.5v1.5h-1.5zM546.8 122.6h1.5v1.5h-1.5zM539.7 146.2h1.5v1.5h-1.5zM603.0 83.7h1.5v1.5h-1.5zM568.3 118.0h1.5v1.5h-1.5zM573.5 112.7h1.5v1.5h-1.5zM558.1 124.9h1.5v1.5h-1.5z"/><path fill="#e42a2a" d="M598.7 119.5h1.5v1.5h-1.5zM587.2 132.0h1.5v1.5h-1.5zM590.0 131.9h1.5v1.5h-1.5zM588.1 129.4h1.5v1.5h-1.5zM651.1 67.7h1.5v1.5h-1.5zM605.2 112.5h1.5v1.5h-1.5zM608.3 109.1h1.5v1.5h-1.5zM586.2 132.5h1.5v1.5h-1.5zM609.1 109.0h1.5v1.5h-1.5zM571.0 146.4h1.5v1.5h-1.5zM563.7 155.1h1.5v1.5h-1.5zM625.4 92.5h1.5v1.5h-1.5zM554.1 162.8h1.5v1.5h-1.5zM647.5 70.3h1.5v1.5h-1.5zM622.4 94.8h1.5v1.5h-1.5zM618.6 99.7h1.5v1.5h-1.5zM562.4 154.8h1.5v1.5h-1.5zM580.2 142.0h1.5v1.5h-1.5zM625.4 92.6h1.5v1.5h-1.5zM592.2 126.6h1.5v1.5h-1.5zM604.9 113.0h1.5v1.5h-1.5zM573.0 148.6h1.5v1.5h-1.5zM576.4 141.2h1.5v1.5h-1.5zM596.9 123.1h1.5v1.5h-1.5zM616.0 102.1h1.5v1.5h-1.5zM599.0 119.6h1.5v1.5h-1.5zM569.9 148.4h1.5v1.5h-1.5zM627.5 90.7h1.5v1.5h-1.5zM572.5 144.9h1.5v1.5h-1.5zM593.6 127.1h1.5v1.5h-1.5zM601.7 115.8h1.5v1.5h-1.5zM588.7 136.2h1.5v1.5h-1.5zM592.5 128.6h1.5v1.5h-1.5zM632.0 89.7h1.5v1.5h-1.5zM593.5 125.2h1.5v1.5h-1.5zM598.3 119.0h1.5v1.5h-1.5zM645.2 72.7h1.5v1.5h-1.5zM582.3 135.0h1.5v1.5h-1.5zM630.8 86.4h1.5v1.5h-1.5zM587.7 130.4h1.5v1.5h-1.5zM586.0 134.4h1.5v1.5h-1.5zM629.4 88.7h1.5v1.5h-1.5zM564.8 152.6h1.5v1.5h-1.5zM627.3 90.4h1.5v1.5h-1.5zM623.0 95.2h1.5v1.5h-1.5zM631.0 86.6h1.5v1.5h-1.5zM564.2 153.4h1.5v1.5h-1.5zM579.8 137.2h1.5v1.5h-1.5zM618.1 101.2h1.5v1.5h-1.5zM592.6 126.4h1.5v1.5h-1.5zM552.8 164.2h1.5v1.5h-1.5zM609.9 107.8h1.5v1.5h-1.5zM619.8 98.0h1.5v1.5h-1.5zM646.2 72.0h1.5v1.5h-1.5zM573.1 143.6h1.5v1.5h-1.5zM581.4 137.1h1.5v1.5h-1.5zM624.5 93.6h1.5v1.5h-1.5zM567.5 149.1h1.5v1.5h-1.5zM582.2 135.1h1.5v1.5h-1.5zM593.8 125.8h1.5v1.5h-1.5zM592.4 128.5h1.5v1.5h-1.5zM598.8 119.0h1.5v1.5h-1.5zM627.6 90.2h1.5v1.5h-1.5zM605.8 113.3h1.5v1.5h-1.5zM606.9 110.9h1.5v1.5h-1.5zM603.2 116.4h1.5v1.5h-1.5zM578.0 139.3h1.5v1.5h-1.5zM594.4 126.6h1.5v1.5h-1.5zM651.0 67.5h1.5v1.5h-1.5zM633.6 84.9h1.5v1.5h-1.5zM616.9 101.4h1.5v1.5h-1.5zM598.7 120.1h1.5v1.5h-1.5zM627.9 90.4h1.5v1.5h-1.5zM606.1 113.7h1.5v1.5h-1.5zM589.2 127.8h1.5v1.5h-1.5zM598.8 121.2h1.5v1.5h-1.5zM581.6 144.6h1.5v1.5h-1.5zM602.1 118.1h1.5v1.5h-1.5zM586.0 134.2h1.5v1.5h-1.5zM617.9 99.8h1.5v1.5h-1.5zM623.0 95.3h1.5v1.5h-1.5zM653.6 64.0h1.5v1.5h-1.5zM623.5 94.1h1.5v1.5h-1.5zM564.2 153.5h1.5v1.5h-1.5zM613.2 105.6h1.5v1.5h-1.5zM620.5 97.0h1.5v1.5h-1.5zM628.9 90.5h1.5v1.5h-1.5zM595.4 122.4h1.5v1.5h-1.5zM594.5 123.4h1.5v1.5h-1.5zM598.8 120.6h1.5v1.5h-1.5zM625.1 93.4h1.5v1.5h-1.5zM607.2 125.3h1.5v1.5h-1.5zM614.4 103.3h1.5v1.5h-1.5zM612.8 113.0h1.5v1.5h-1.5zM631.9 87.4h1.5v1.5h-1.5zM624.6 95.4h1.5v1.5h-1.5zM633.0 87.5h1.5v1.5h-1.5zM560.3 161.9h1.5v1.5h-1.5zM593.3 133.6h1.5v1.5h-1.5zM595.5 129.8h1.5v1.5h-1.5zM568.7 159.5h1.5v1.5h-1.5zM558.9 170.9h1.5v1.5h-1.5zM619.7 97.5h1.5v1.5h-1.5zM646.9 72.5h1.5v1.5h-1.5zM615.6 103.1h1.5v1.5h-1.5zM582.4 137.0h1.5v1.5h-1.5zM611.3 113.3h1.5v1.5h-1.5zM585.5 141.9h1.5v1.5h-1.5zM614.2 110.0h1.5v1.5h-1.5zM580.5 139.1h1.5v1.5h-1.5zM614.9 102.8h1.5v1.5h-1.5zM655.2 77.4h1.5v1.5h-1.5zM649.8 73.2h1.5v1.5h-1.5zM631.6 96.5h1.5v1.5h-1.5zM631.0 87.3h1.5v1.5h-1.5zM608.9 110.5h1.5v1.5h-1.5zM597.4 122.5h1.5v1.5h-1.5zM633.5 86.5h1.5v1.5h-1.5zM578.4 163.9h1.5v1.5h-1.5zM589.5 137.8h1.5v1.5h-1.5zM601.2 118.9h1.5v1.5h-1.5zM595.7 130.9h1.5v1.5h-1.5zM615.9 101.7h1.5v1.5h-1.5zM578.1 146.9h1.5v1.5h-1.5zM572.7 164.1h1.5v1.5h-1.5zM572.2 151.2h1.5v1.5h-1.5zM644.2 81.6h1.5v1.5h-1.5zM572.7 150.7h1.5v1.5h-1.5zM585.5 150.3h1.5v1.5h-1.5zM590.9 138.4h1.5v1.5h-1.5zM601.0 116.1h1.5v1.5h-1.5zM619.2 107.2h1.5v1.5h-1.5zM568.3 156.1h1.5v1.5h-1.5zM635.6 85.8h1.5v1.5h-1.5zM614.3 106.0h1.5v1.5h-1.5zM586.0 140.0h1.5v1.5h-1.5zM586.7 156.2h1.5v1.5h-1.5zM599.8 119.0h1.5v1.5h-1.5zM599.3 118.6h1.5v1.5h-1.5zM580.9 140.8h1.5v1.5h-1.5zM580.8 153.1h1.5v1.5h-1.5zM619.9 110.9h1.5v1.5h-1.5zM610.7 118.1h1.5v1.5h-1.5zM619.2 103.5h1.5v1.5h-1.5zM586.9 152.5h1.5v1.5h-1.5zM610.2 109.2h1.5v1.5h-1.5zM566.4 155.1h1.5v1.5h-1.5zM554.7 165.5h1.5v1.5h-1.5zM573.8 144.8h1.5v1.5h-1.5zM616.1 104.1h1.5v1.5h-1.5zM604.8 131.8h1.5v1.5h-1.5zM600.9 117.0h1.5v1.5h-1.5zM602.1 121.8h1.5v1.5h-1.5zM607.9 121.1h1.5v1.5h-1.5zM584.2 138.0h1.5v1.5h-1.5zM609.5 108.9h1.5v1.5h-1.5zM556.8 163.5h1.5v1.5h-1.5zM563.0 156.3h1.5v1.5h-1.5zM569.4 148.5h1.5v1.5h-1.5zM631.0 89.8h1.5v1.5h-1.5zM616.5 102.7h1.5v1.5h-1.5zM599.9 117.7h1.5v1.5h-1.5zM597.5 120.2h1.5v1.5h-1.5zM618.9 104.3h1.5v1.5h-1.5zM604.7 119.9h1.5v1.5h-1.5zM593.5 124.5h1.5v1.5h-1.5zM602.1 126.9h1.5v1.5h-1.5zM597.2 120.2h1.5v1.5h-1.5zM583.7 135.3h1.5v1.5h-1.5zM614.8 122.9h1.5v1.5h-1.5zM594.5 138.5h1.5v1.5h-1.5zM604.2 114.6h1.5v1.5h-1.5zM592.1 126.5h1.5v1.5h-1.5zM613.9 108.3h1.5v1.5h-1.5zM570.5 167.9h1.5v1.5h-1.5zM614.6 102.6h1.5v1.5h-1.5zM630.8 91.9h1.5v1.5h-1.5zM585.3 138.2h1.5v1.5h-1.5zM615.3 112.5h1.5v1.5h-1.5zM621.5 96.0h1.5v1.5h-1.5zM593.9 126.4h1.5v1.5h-1.5zM570.2 148.8h1.5v1.5h-1.5zM612.1 109.6h1.5v1.5h-1.5zM622.5 98.5h1.5v1.5h-1.5zM575.9 141.7h1.5v1.5h-1.5zM613.2 104.3h1.5v1.5h-1.5zM593.6 123.9h1.5v1.5h-1.5zM555.7 162.2h1.5v1.5h-1.5zM577.0 145.8h1.5v1.5h-1.5zM581.7 147.6h1.5v1.5h-1.5zM600.5 121.8h1.5v1.5h-1.5zM597.0 121.4h1.5v1.5h-1.5zM599.9 130.0h1.5v1.5h-1.5zM583.9 135.6h1.5v1.5h-1.5zM589.6 135.3h1.5v1.5h-1.5zM595.7 128.0h1.5v1.5h-1.5zM600.0 123.5h1.5v1.5h-1.5zM609.1 109.4h1.5v1.5h-1.5zM655.3 71.1h1.5v1.5h-1.5zM616.4 110.7h1.5v1.5h-1.5zM603.8 137.3h1.5v1.5h-1.5zM644.8 74.5h1.5v1.5h-1.5zM572.0 151.2h1.5v1.5h-1.5zM639.7 81.7h1.5v1.5h-1.5zM593.3 125.6h1.5v1.5h-1.5zM596.0 130.5h1.5v1.5h-1.5zM622.2 95.8h1.5v1.5h-1.5zM600.8 118.1h1.5v1.5h-1.5zM620.8 100.6h1.5v1.5h-1.5zM584.3 132.8h1.5v1.5h-1.5zM606.7 131.8h1.5v1.5h-1.5zM603.7 115.0h1.5v1.5h-1.5zM589.3 152.8h1.5v1.5h-1.5zM615.6 107.1h1.5v1.5h-1.5zM580.3 154.7h1.5v1.5h-1.5zM570.1 148.0h1.5v1.5h-1.5zM580.8 140.5h1.5v1.5h-1.5zM618.4 100.7h1.5v1.5h-1.5zM591.2 126.7h1.5v1.5h-1.5zM563.2 162.0h1.5v1.5h-1.5zM576.1 144.6h1.5v1.5h-1.5zM596.8 120.7h1.5v1.5h-1.5zM563.1 154.9h1.5v1.5h-1.5zM587.9 142.4h1.5v1.5h-1.5zM587.2 153.8h1.5v1.5h-1.5zM607.8 112.5h1.5v1.5h-1.5zM570.5 146.5h1.5v1.5h-1.5zM591.1 139.4h1.5v1.5h-1.5zM589.2 128.0h1.5v1.5h-1.5zM629.5 89.3h1.5v1.5h-1.5zM587.3 131.7h1.5v1.5h-1.5zM581.1 158.4h1.5v1.5h-1.5zM590.2 132.5h1.5v1.5h-1.5zM587.1 135.3h1.5v1.5h-1.5zM602.0 125.2h1.5v1.5h-1.5zM569.0 148.3h1.5v1.5h-1.5zM588.9 131.1h1.5v1.5h-1.5zM605.7 116.1h1.5v1.5h-1.5zM589.5 133.1h1.5v1.5h-1.5zM637.2 81.8h1.5v1.5h-1.5zM585.1 134.2h1.5v1.5h-1.5zM625.9 93.5h1.5v1.5h-1.5zM583.0 135.6h1.5v1.5h-1.5zM593.2 138.1h1.5v1.5h-1.5zM612.8 114.8h1.5v1.5h-1.5zM595.4 122.6h1.5v1.5h-1.5zM634.0 84.0h1.5v1.5h-1.5zM627.8 91.9h1.5v1.5h-1.5zM583.4 141.4h1.5v1.5h-1.5zM584.9 138.6h1.5v1.5h-1.5zM602.8 114.6h1.5v1.5h-1.5zM616.2 102.0h1.5v1.5h-1.5zM576.2 157.6h1.5v1.5h-1.5zM631.9 90.3h1.5v1.5h-1.5zM585.4 135.6h1.5v1.5h-1.5zM582.9 159.1h1.5v1.5h-1.5zM579.1 139.3h1.5v1.5h-1.5zM616.7 101.4h1.5v1.5h-1.5zM580.3 141.5h1.5v1.5h-1.5zM569.3 149.8h1.5v1.5h-1.5zM605.6 124.5h1.5v1.5h-1.5zM633.7 90.0h1.5v1.5h-1.5zM583.3 138.1h1.5v1.5h-1.5zM587.7 133.9h1.5v1.5h-1.5zM638.5 84.6h1.5v1.5h-1.5zM624.5 94.5h1.5v1.5h-1.5zM594.5 128.4h1.5v1.5h-1.5zM647.6 76.1h1.5v1.5h-1.5zM577.3 142.6h1.5v1.5h-1.5zM597.6 121.3h1.5v1.5h-1.5zM618.0 108.4h1.5v1.5h-1.5zM608.5 110.8h1.5v1.5h-1.5zM587.3 130.0h1.5v1.5h-1.5zM635.1 82.7h1.5v1.5h-1.5zM646.2 72.8h1.5v1.5h-1.5zM625.4 98.4h1.5v1.5h-1.5zM594.7 132.8h1.5v1.5h-1.5zM623.1 103.4h1.5v1.5h-1.5zM582.1 142.1h1.5v1.5h-1.5zM580.8 152.7h1.5v1.5h-1.5zM564.8 153.3h1.5v1.5h-1.5zM617.6 101.6h1.5v1.5h-1.5zM643.8 74.2h1.5v1.5h-1.5zM585.6 142.1h1.5v1.5h-1.5zM614.0 113.6h1.5v1.5h-1.5zM588.4 148.7h1.5v1.5h-1.5zM620.6 110.5h1.5v1.5h-1.5zM572.6 145.3h1.5v1.5h-1.5zM595.9 125.9h1.5v1.5h-1.5zM621.9 108.0h1.5v1.5h-1.5zM642.4 76.3h1.5v1.5h-1.5zM611.4 118.6h1.5v1.5h-1.5zM610.2 115.1h1.5v1.5h-1.5zM595.5 139.6h1.5v1.5h-1.5zM573.7 146.0h1.5v1.5h-1.5zM618.3 101.4h1.5v1.5h-1.5zM564.8 152.4h1.5v1.5h-1.5zM614.5 109.0h1.5v1.5h-1.5zM587.4 142.6h1.5v1.5h-1.5zM562.5 156.6h1.5v1.5h-1.5zM571.7 147.3h1.5v1.5h-1.5zM595.1 123.1h1.5v1.5h-1.5zM584.9 139.3h1.5v1.5h-1.5zM572.6 150.8h1.5v1.5h-1.5zM584.0 137.8h1.5v1.5h-1.5zM618.9 103.6h1.5v1.5h-1.5zM609.5 107.8h1.5v1.5h-1.5zM596.1 133.0h1.5v1.5h-1.5zM588.9 137.3h1.5v1.5h-1.5zM653.1 72.0h1.5v1.5h-1.5zM594.2 125.2h1.5v1.5h-1.5zM605.2 112.3h1.5v1.5h-1.5zM625.6 101.8h1.5v1.5h-1.5zM595.7 127.1h1.5v1.5h-1.5zM594.9 134.2h1.5v1.5h-1.5zM624.6 100.9h1.5v1.5h-1.5zM613.1 104.8h1.5v1.5h-1.5zM596.3 135.2h1.5v1.5h-1.5zM620.8 98.8h1.5v1.5h-1.5zM581.6 145.0h1.5v1.5h-1.5zM593.3 144.0h1.5v1.5h-1.5zM609.6 117.1h1.5v1.5h-1.5zM569.1 147.8h1.5v1.5h-1.5zM633.2 84.1h1.5v1.5h-1.5zM563.5 166.9h1.5v1.5h-1.5zM635.0 85.5h1.5v1.5h-1.5zM588.8 146.3h1.5v1.5h-1.5zM630.0 92.7h1.5v1.5h-1.5zM581.5 137.1h1.5v1.5h-1.5zM622.0 110.1h1.5v1.5h-1.5zM595.5 123.6h1.5v1.5h-1.5zM590.5 130.9h1.5v1.5h-1.5zM595.9 123.0h1.5v1.5h-1.5zM653.2 67.7h1.5v1.5h-1.5zM628.6 88.8h1.5v1.5h-1.5zM580.8 136.8h1.5v1.5h-1.5zM582.9 145.8h1.5v1.5h-1.5zM635.4 84.7h1.5v1.5h-1.5zM572.5 152.2h1.5v1.5h-1.5zM566.2 152.8h1.5v1.5h-1.5zM604.1 113.9h1.5v1.5h-1.5zM581.6 151.3h1.5v1.5h-1.5zM554.0 164.8h1.5v1.5h-1.5zM604.6 116.3h1.5v1.5h-1.5zM567.4 150.7h1.5v1.5h-1.5zM579.2 143.2h1.5v1.5h-1.5zM612.6 109.8h1.5v1.5h-1.5zM641.4 81.1h1.5v1.5h-1.5zM593.8 132.2h1.5v1.5h-1.5zM591.5 127.7h1.5v1.5h-1.5zM569.9 162.7h1.5v1.5h-1.5zM596.1 127.9h1.5v1.5h-1.5zM574.0 142.8h1.5v1.5h-1.5zM603.6 130.6h1.5v1.5h-1.5zM572.3 155.0h1.5v1.5h-1.5zM581.1 139.2h1.5v1.5h-1.5zM626.0 94.8h1.5v1.5h-1.5zM582.2 134.6h1.5v1.5h-1.5zM618.7 102.3h1.5v1.5h-1.5zM605.5 114.6h1.5v1.5h-1.5zM572.5 154.4h1.5v1.5h-1.5z"/>
<clipPath id="clipc"><rect x="515.5" y="32.7" width="155.5" height="154.4"/></clipPath>
<g clip-path="url(#clipc)"><line x1="491.62" y1="196.35" x2="694.48" y2="-4.55" stroke="#333" stroke-width="0.8"/><line x1="491.62" y1="210.7" x2="694.48" y2="9.8" stroke="#333" stroke-width="0.8"/><line x1="491.62" y1="225.05" x2="694.48" y2="24.15" stroke="#333" stroke-width="0.8"/></g>
<rect x="515.5" y="32.7" width="155.5" height="154.4" stroke="#6e6e6e" stroke-width="1" fill="none"/>
<line x1="512.4" y1="182" x2="515.5" y2="182" stroke="#6e6e6e" stroke-width="1"/>
<text x="510.2" y="185.58" font-size="10.0" text-anchor="end" fill="#2b2b2b" stroke="#2b2b2b" stroke-width="0.22">0</text>
<line x1="520.6" y1="187.1" x2="520.6" y2="190.2" stroke="#6e6e6e" stroke-width="1"/>
<text x="520.6" y="202.18" font-size="10.0" text-anchor="middle" fill="#2b2b2b" stroke="#2b2b2b" stroke-width="0.22">0</text>
<line x1="512.4" y1="153.3" x2="515.5" y2="153.3" stroke="#6e6e6e" stroke-width="1"/>
<text x="510.2" y="156.88" font-size="10.0" text-anchor="end" fill="#2b2b2b" stroke="#2b2b2b" stroke-width="0.22">0.2</text>
<line x1="549.58" y1="187.1" x2="549.58" y2="190.2" stroke="#6e6e6e" stroke-width="1"/>
<text x="549.58" y="202.18" font-size="10.0" text-anchor="middle" fill="#2b2b2b" stroke="#2b2b2b" stroke-width="0.22">0.2</text>
<line x1="512.4" y1="124.6" x2="515.5" y2="124.6" stroke="#6e6e6e" stroke-width="1"/>
<text x="510.2" y="128.18" font-size="10.0" text-anchor="end" fill="#2b2b2b" stroke="#2b2b2b" stroke-width="0.22">0.4</text>
<line x1="578.56" y1="187.1" x2="578.56" y2="190.2" stroke="#6e6e6e" stroke-width="1"/>
<text x="578.56" y="202.18" font-size="10.0" text-anchor="middle" fill="#2b2b2b" stroke="#2b2b2b" stroke-width="0.22">0.4</text>
<line x1="512.4" y1="95.9" x2="515.5" y2="95.9" stroke="#6e6e6e" stroke-width="1"/>
<text x="510.2" y="99.48" font-size="10.0" text-anchor="end" fill="#2b2b2b" stroke="#2b2b2b" stroke-width="0.22">0.6</text>
<line x1="607.54" y1="187.1" x2="607.54" y2="190.2" stroke="#6e6e6e" stroke-width="1"/>
<text x="607.54" y="202.18" font-size="10.0" text-anchor="middle" fill="#2b2b2b" stroke="#2b2b2b" stroke-width="0.22">0.6</text>
<line x1="512.4" y1="67.2" x2="515.5" y2="67.2" stroke="#6e6e6e" stroke-width="1"/>
<text x="510.2" y="70.78" font-size="10.0" text-anchor="end" fill="#2b2b2b" stroke="#2b2b2b" stroke-width="0.22">0.8</text>
<line x1="636.52" y1="187.1" x2="636.52" y2="190.2" stroke="#6e6e6e" stroke-width="1"/>
<text x="636.52" y="202.18" font-size="10.0" text-anchor="middle" fill="#2b2b2b" stroke="#2b2b2b" stroke-width="0.22">0.8</text>
<line x1="512.4" y1="38.5" x2="515.5" y2="38.5" stroke="#6e6e6e" stroke-width="1"/>
<text x="510.2" y="42.08" font-size="10.0" text-anchor="end" fill="#2b2b2b" stroke="#2b2b2b" stroke-width="0.22">1</text>
<line x1="665.5" y1="187.1" x2="665.5" y2="190.2" stroke="#6e6e6e" stroke-width="1"/>
<text x="665.5" y="202.18" font-size="10.0" text-anchor="middle" fill="#2b2b2b" stroke="#2b2b2b" stroke-width="0.22">1</text>
<text x="521.7" y="47.88" font-size="10.0" text-anchor="start" fill="#2b2bb0" stroke="#2b2bb0" stroke-width="0.22">219</text>
<text x="664.4" y="179.08" font-size="10.0" text-anchor="end" fill="#d03030" stroke="#d03030" stroke-width="0.22">371</text>
<text x="590.9" y="218.28" font-size="10.0" text-anchor="middle" fill="#2b2b2b" stroke="#2b2b2b" stroke-width="0.22">FCS Methylation level</text>
<text x="487.38" y="103.8" font-size="10.0" text-anchor="middle" fill="#2b2b2b" stroke="#2b2b2b" stroke-width="0.22" transform="rotate(-90 487.38 103.8)">HPL Methylation level</text>
<line x1="123.34" y1="264" x2="123.34" y2="419.9" stroke="#7a7a7a" stroke-width="1"/>
<line x1="58" y1="354.15" x2="213.2" y2="354.15" stroke="#7a7a7a" stroke-width="1"/>
<line x1="147.26" y1="264" x2="147.26" y2="419.9" stroke="#7a7a7a" stroke-width="1"/>
<line x1="58" y1="330.05" x2="213.2" y2="330.05" stroke="#7a7a7a" stroke-width="1"/>
<path fill="#000000" d="M121 329h1v1h-1zM129 329h2v1h-2zM136 329h1v1h-1zM139 329h2v1h-2zM144 329h3v1h-3zM149 329h1v1h-1zM152 329h2v1h-2zM159 329h2v1h-2zM164 329h1v1h-1zM166 329h1v1h-1zM177 329h1v1h-1zM179 329h1v1h-1zM111 330h1v1h-1zM116 330h1v1h-1zM119 330h1v1h-1zM121 330h1v1h-1zM128 330h5v1h-5zM134 330h4v1h-4zM139 330h31v1h-31zM171 330h1v1h-1zM177 330h1v1h-1zM180 330h1v1h-1zM187 330h2v1h-2zM190 330h2v1h-2zM97 331h1v1h-1zM102 331h1v1h-1zM113 331h2v1h-2zM117 331h1v1h-1zM121 331h1v1h-1zM124 331h1v1h-1zM127 331h58v1h-58zM187 331h1v1h-1zM189 331h1v1h-1zM92 332h1v1h-1zM106 332h1v1h-1zM111 332h2v1h-2zM117 332h1v1h-1zM120 332h66v1h-66zM189 332h1v1h-1zM192 332h1v1h-1zM194 332h1v1h-1zM89 333h1v1h-1zM99 333h4v1h-4zM107 333h1v1h-1zM110 333h2v1h-2zM113 333h1v1h-1zM115 333h77v1h-77zM193 333h2v1h-2zM199 333h1v1h-1zM202 333h1v1h-1zM209 333h1v1h-1zM74 334h1v1h-1zM87 334h1v1h-1zM90 334h1v1h-1zM93 334h1v1h-1zM95 334h2v1h-2zM102 334h1v1h-1zM104 334h1v1h-1zM107 334h1v1h-1zM109 334h87v1h-87zM197 334h1v1h-1zM199 334h2v1h-2zM91 335h1v1h-1zM94 335h1v1h-1zM96 335h2v1h-2zM100 335h1v1h-1zM102 335h96v1h-96zM199 335h1v1h-1zM202 335h1v1h-1zM204 335h1v1h-1zM208 335h1v1h-1zM86 336h1v1h-1zM90 336h1v1h-1zM92 336h2v1h-2zM95 336h1v1h-1zM97 336h2v1h-2zM102 336h99v1h-99zM204 336h1v1h-1zM81 337h1v1h-1zM83 337h1v1h-1zM89 337h1v1h-1zM96 337h2v1h-2zM100 337h1v1h-1zM102 337h101v1h-101zM205 337h4v1h-4zM79 338h1v1h-1zM81 338h1v1h-1zM92 338h114v1h-114zM208 338h2v1h-2zM82 339h3v1h-3zM87 339h1v1h-1zM89 339h116v1h-116zM206 339h3v1h-3zM79 340h1v1h-1zM84 340h1v1h-1zM89 340h1v1h-1zM91 340h114v1h-114zM206 340h1v1h-1zM77 341h1v1h-1zM86 341h2v1h-2zM89 341h3v1h-3zM93 341h112v1h-112zM206 341h2v1h-2zM80 342h1v1h-1zM85 342h120v1h-120zM206 342h1v1h-1zM211 342h1v1h-1zM82 343h2v1h-2zM85 343h6v1h-6zM92 343h114v1h-114zM208 343h1v1h-1zM83 344h4v1h-4zM88 344h5v1h-5zM94 344h108v1h-108zM203 344h1v1h-1zM205 344h3v1h-3zM65 345h1v1h-1zM82 345h1v1h-1zM84 345h1v1h-1zM86 345h2v1h-2zM89 345h112v1h-112zM202 345h1v1h-1zM205 345h1v1h-1zM211 345h1v1h-1zM81 346h1v1h-1zM89 346h1v1h-1zM92 346h109v1h-109zM202 346h2v1h-2zM78 347h1v1h-1zM88 347h3v1h-3zM92 347h1v1h-1zM94 347h4v1h-4zM99 347h99v1h-99zM199 347h1v1h-1zM86 348h1v1h-1zM89 348h1v1h-1zM92 348h3v1h-3zM96 348h96v1h-96zM193 348h1v1h-1zM196 348h2v1h-2zM202 348h1v1h-1zM64 349h1v1h-1zM96 349h1v1h-1zM99 349h2v1h-2zM102 349h92v1h-92zM205 349h1v1h-1zM90 350h1v1h-1zM93 350h1v1h-1zM96 350h1v1h-1zM100 350h87v1h-87zM189 350h1v1h-1zM191 350h1v1h-1zM195 350h2v1h-2zM90 351h1v1h-1zM96 351h1v1h-1zM102 351h1v1h-1zM104 351h2v1h-2zM107 351h77v1h-77zM186 351h1v1h-1zM188 351h1v1h-1zM103 352h1v1h-1zM105 352h1v1h-1zM110 352h1v1h-1zM113 352h64v1h-64zM178 352h1v1h-1zM180 352h1v1h-1zM87 353h1v1h-1zM110 353h1v1h-1zM112 353h2v1h-2zM117 353h1v1h-1zM119 353h1v1h-1zM122 353h41v1h-41zM166 353h1v1h-1zM168 353h4v1h-4zM175 353h2v1h-2zM197 353h1v1h-1zM92 354h1v1h-1zM115 354h1v1h-1zM119 354h1v1h-1zM125 354h1v1h-1zM129 354h5v1h-5zM137 354h1v1h-1zM139 354h3v1h-3zM143 354h5v1h-5zM150 354h3v1h-3zM154 354h2v1h-2zM157 354h3v1h-3zM162 354h1v1h-1zM98 355h1v1h-1zM126 355h1v1h-1zM129 355h1v1h-1zM132 355h1v1h-1zM137 355h1v1h-1zM144 355h1v1h-1zM146 355h1v1h-1zM156 355h1v1h-1zM164 355h1v1h-1zM140 356h1v1h-1z"/><path fill="#ee1414" d="M125.7 326.4h1.5v1.5h-1.5zM130.5 326.6h1.5v1.5h-1.5zM130.2 327.9h1.5v1.5h-1.5zM142.3 324.7h1.5v1.5h-1.5zM118.9 327.5h1.5v1.5h-1.5zM144.3 327.5h1.5v1.5h-1.5zM135.1 327.8h1.5v1.5h-1.5zM157.2 325.4h1.5v1.5h-1.5zM158.0 316.4h1.5v1.5h-1.5zM163.2 327.5h1.5v1.5h-1.5zM155.7 326.0h1.5v1.5h-1.5zM145.9 328.4h1.5v1.5h-1.5zM156.8 326.1h1.5v1.5h-1.5zM164.5 327.6h1.5v1.5h-1.5zM138.7 321.8h1.5v1.5h-1.5zM153.8 328.1h1.5v1.5h-1.5zM146.0 327.4h1.5v1.5h-1.5zM163.7 323.0h1.5v1.5h-1.5zM136.5 328.3h1.5v1.5h-1.5zM142.9 327.7h1.5v1.5h-1.5zM150.8 322.0h1.5v1.5h-1.5zM149.6 326.5h1.5v1.5h-1.5zM126.9 326.9h1.5v1.5h-1.5zM150.8 318.3h1.5v1.5h-1.5zM145.1 328.5h1.5v1.5h-1.5zM143.6 325.1h1.5v1.5h-1.5zM144.7 327.4h1.5v1.5h-1.5zM149.1 324.6h1.5v1.5h-1.5zM124.8 328.3h1.5v1.5h-1.5zM165.1 328.4h1.5v1.5h-1.5zM136.2 327.9h1.5v1.5h-1.5zM119.7 327.2h1.5v1.5h-1.5zM145.5 325.1h1.5v1.5h-1.5zM163.9 325.8h1.5v1.5h-1.5zM140.3 327.7h1.5v1.5h-1.5zM165.1 328.5h1.5v1.5h-1.5zM165.1 328.0h1.5v1.5h-1.5zM136.2 325.1h1.5v1.5h-1.5zM117.0 327.3h1.5v1.5h-1.5zM131.7 325.6h1.5v1.5h-1.5zM160.7 326.0h1.5v1.5h-1.5zM136.7 326.1h1.5v1.5h-1.5zM128.4 327.7h1.5v1.5h-1.5zM130.5 323.4h1.5v1.5h-1.5zM146.5 320.3h1.5v1.5h-1.5zM146.2 324.6h1.5v1.5h-1.5zM156.9 326.9h1.5v1.5h-1.5zM158.3 327.1h1.5v1.5h-1.5zM135.4 327.1h1.5v1.5h-1.5zM144.6 328.5h1.5v1.5h-1.5zM132.9 325.0h1.5v1.5h-1.5zM147.4 326.0h1.5v1.5h-1.5zM132.7 325.5h1.5v1.5h-1.5zM132.2 328.1h1.5v1.5h-1.5zM171.9 327.7h1.5v1.5h-1.5zM146.9 328.5h1.5v1.5h-1.5zM154.2 324.8h1.5v1.5h-1.5zM176.9 328.2h1.5v1.5h-1.5zM155.9 323.4h1.5v1.5h-1.5zM145.1 322.9h1.5v1.5h-1.5zM147.2 327.7h1.5v1.5h-1.5zM137.6 321.5h1.5v1.5h-1.5zM159.6 327.5h1.5v1.5h-1.5zM142.6 327.9h1.5v1.5h-1.5zM167.6 323.2h1.5v1.5h-1.5zM142.4 326.2h1.5v1.5h-1.5zM142.3 326.7h1.5v1.5h-1.5zM141.5 325.1h1.5v1.5h-1.5zM154.0 316.9h1.5v1.5h-1.5zM148.7 327.0h1.5v1.5h-1.5zM162.9 326.1h1.5v1.5h-1.5zM139.9 320.9h1.5v1.5h-1.5zM150.0 326.3h1.5v1.5h-1.5zM169.7 328.1h1.5v1.5h-1.5zM143.6 325.3h1.5v1.5h-1.5zM152.9 327.2h1.5v1.5h-1.5zM165.3 327.5h1.5v1.5h-1.5zM153.1 324.2h1.5v1.5h-1.5zM138.9 326.5h1.5v1.5h-1.5zM121.8 324.3h1.5v1.5h-1.5zM175.1 326.6h1.5v1.5h-1.5zM151.7 326.1h1.5v1.5h-1.5zM161.6 323.2h1.5v1.5h-1.5zM140.8 325.4h1.5v1.5h-1.5zM168.3 328.3h1.5v1.5h-1.5zM152.7 326.9h1.5v1.5h-1.5zM147.1 328.5h1.5v1.5h-1.5zM135.7 328.5h1.5v1.5h-1.5zM150.9 327.9h1.5v1.5h-1.5zM140.7 327.0h1.5v1.5h-1.5zM143.8 313.8h1.5v1.5h-1.5zM127.1 325.4h1.5v1.5h-1.5zM140.6 327.6h1.5v1.5h-1.5zM148.4 327.8h1.5v1.5h-1.5zM131.6 328.4h1.5v1.5h-1.5zM147.4 328.3h1.5v1.5h-1.5zM154.4 326.4h1.5v1.5h-1.5zM142.8 327.9h1.5v1.5h-1.5zM139.1 328.3h1.5v1.5h-1.5zM139.1 326.4h1.5v1.5h-1.5zM157.8 326.0h1.5v1.5h-1.5zM128.2 327.2h1.5v1.5h-1.5zM142.9 328.3h1.5v1.5h-1.5zM141.5 328.2h1.5v1.5h-1.5zM148.2 326.5h1.5v1.5h-1.5zM145.7 325.3h1.5v1.5h-1.5zM133.3 328.5h1.5v1.5h-1.5zM170.9 328.4h1.5v1.5h-1.5zM148.6 327.4h1.5v1.5h-1.5zM130.5 326.9h1.5v1.5h-1.5zM135.8 326.3h1.5v1.5h-1.5zM147.7 326.0h1.5v1.5h-1.5zM153.8 326.5h1.5v1.5h-1.5zM130.5 316.9h1.5v1.5h-1.5zM155.0 319.9h1.5v1.5h-1.5zM130.1 326.8h1.5v1.5h-1.5zM137.0 325.8h1.5v1.5h-1.5zM156.7 326.1h1.5v1.5h-1.5zM166.9 327.6h1.5v1.5h-1.5zM145.5 320.8h1.5v1.5h-1.5zM142.8 324.4h1.5v1.5h-1.5zM161.7 327.4h1.5v1.5h-1.5zM133.7 328.1h1.5v1.5h-1.5zM149.8 325.9h1.5v1.5h-1.5zM149.3 328.1h1.5v1.5h-1.5zM158.6 327.2h1.5v1.5h-1.5zM150.1 328.0h1.5v1.5h-1.5zM143.3 327.9h1.5v1.5h-1.5zM153.9 319.7h1.5v1.5h-1.5zM133.0 328.1h1.5v1.5h-1.5zM156.2 326.2h1.5v1.5h-1.5zM138.5 325.5h1.5v1.5h-1.5zM135.6 320.8h1.5v1.5h-1.5zM142.1 327.6h1.5v1.5h-1.5zM147.1 326.6h1.5v1.5h-1.5zM155.0 326.2h1.5v1.5h-1.5zM144.0 326.9h1.5v1.5h-1.5zM155.3 326.6h1.5v1.5h-1.5zM158.2 326.3h1.5v1.5h-1.5zM145.2 323.1h1.5v1.5h-1.5zM134.8 319.6h1.5v1.5h-1.5zM157.5 327.3h1.5v1.5h-1.5zM149.8 327.9h1.5v1.5h-1.5zM121.2 328.0h1.5v1.5h-1.5zM134.7 327.1h1.5v1.5h-1.5zM148.2 328.3h1.5v1.5h-1.5zM130.1 326.8h1.5v1.5h-1.5zM138.4 323.5h1.5v1.5h-1.5zM126.0 327.6h1.5v1.5h-1.5zM151.3 326.8h1.5v1.5h-1.5zM149.4 325.0h1.5v1.5h-1.5zM148.6 327.4h1.5v1.5h-1.5zM163.8 328.5h1.5v1.5h-1.5zM142.3 326.5h1.5v1.5h-1.5zM143.1 326.3h1.5v1.5h-1.5zM170.7 327.7h1.5v1.5h-1.5zM131.0 327.5h1.5v1.5h-1.5zM155.2 325.1h1.5v1.5h-1.5zM130.8 325.0h1.5v1.5h-1.5zM149.3 323.9h1.5v1.5h-1.5zM171.8 328.0h1.5v1.5h-1.5zM149.8 325.0h1.5v1.5h-1.5zM137.3 325.4h1.5v1.5h-1.5zM175.0 324.5h1.5v1.5h-1.5zM140.0 314.1h1.5v1.5h-1.5zM144.0 326.6h1.5v1.5h-1.5zM150.2 327.4h1.5v1.5h-1.5zM130.5 327.5h1.5v1.5h-1.5zM159.8 328.1h1.5v1.5h-1.5zM165.9 322.9h1.5v1.5h-1.5zM155.6 328.1h1.5v1.5h-1.5zM150.5 327.8h1.5v1.5h-1.5zM144.7 328.3h1.5v1.5h-1.5zM157.1 323.9h1.5v1.5h-1.5zM145.0 325.3h1.5v1.5h-1.5zM149.6 324.4h1.5v1.5h-1.5zM122.8 325.6h1.5v1.5h-1.5zM151.6 326.8h1.5v1.5h-1.5zM145.0 326.6h1.5v1.5h-1.5zM146.1 327.2h1.5v1.5h-1.5zM147.7 328.3h1.5v1.5h-1.5zM153.4 327.1h1.5v1.5h-1.5zM152.0 325.1h1.5v1.5h-1.5zM134.1 326.2h1.5v1.5h-1.5zM145.1 327.9h1.5v1.5h-1.5zM144.3 325.4h1.5v1.5h-1.5zM147.0 327.4h1.5v1.5h-1.5zM139.4 320.4h1.5v1.5h-1.5zM158.1 324.8h1.5v1.5h-1.5zM162.1 323.3h1.5v1.5h-1.5zM164.7 326.7h1.5v1.5h-1.5zM169.3 328.4h1.5v1.5h-1.5zM164.4 328.2h1.5v1.5h-1.5zM141.0 328.4h1.5v1.5h-1.5zM139.2 325.2h1.5v1.5h-1.5zM141.8 326.1h1.5v1.5h-1.5zM153.2 326.8h1.5v1.5h-1.5zM145.0 327.9h1.5v1.5h-1.5zM158.4 328.4h1.5v1.5h-1.5zM166.2 327.9h1.5v1.5h-1.5zM141.4 328.6h1.5v1.5h-1.5zM158.2 326.6h1.5v1.5h-1.5zM141.8 328.1h1.5v1.5h-1.5zM131.4 326.6h1.5v1.5h-1.5zM131.3 324.5h1.5v1.5h-1.5zM142.7 326.7h1.5v1.5h-1.5zM123.8 325.0h1.5v1.5h-1.5zM152.5 326.2h1.5v1.5h-1.5zM164.6 327.2h1.5v1.5h-1.5zM132.6 325.6h1.5v1.5h-1.5zM142.5 322.2h1.5v1.5h-1.5zM165.0 320.5h1.5v1.5h-1.5zM150.7 326.5h1.5v1.5h-1.5zM148.9 326.1h1.5v1.5h-1.5zM143.4 327.7h1.5v1.5h-1.5zM158.7 326.2h1.5v1.5h-1.5zM150.4 327.5h1.5v1.5h-1.5zM133.5 323.5h1.5v1.5h-1.5zM117.4 327.4h1.5v1.5h-1.5zM114.4 326.6h1.5v1.5h-1.5zM154.4 320.4h1.5v1.5h-1.5zM143.3 328.1h1.5v1.5h-1.5zM163.8 328.0h1.5v1.5h-1.5zM152.6 324.1h1.5v1.5h-1.5zM131.3 318.8h1.5v1.5h-1.5zM150.0 320.4h1.5v1.5h-1.5zM160.8 327.3h1.5v1.5h-1.5zM135.7 326.5h1.5v1.5h-1.5zM140.4 327.3h1.5v1.5h-1.5zM167.3 328.3h1.5v1.5h-1.5zM125.6 321.2h1.5v1.5h-1.5zM133.5 320.0h1.5v1.5h-1.5zM159.1 327.5h1.5v1.5h-1.5zM148.9 328.3h1.5v1.5h-1.5zM132.8 326.5h1.5v1.5h-1.5zM129.1 326.9h1.5v1.5h-1.5zM152.1 326.3h1.5v1.5h-1.5zM161.0 324.8h1.5v1.5h-1.5zM156.4 322.3h1.5v1.5h-1.5zM151.4 327.4h1.5v1.5h-1.5zM164.4 326.9h1.5v1.5h-1.5zM150.2 322.1h1.5v1.5h-1.5zM136.6 327.5h1.5v1.5h-1.5zM170.8 328.1h1.5v1.5h-1.5zM131.8 328.0h1.5v1.5h-1.5zM144.9 328.5h1.5v1.5h-1.5zM145.6 326.1h1.5v1.5h-1.5zM163.6 326.3h1.5v1.5h-1.5zM137.4 326.7h1.5v1.5h-1.5zM143.2 324.4h1.5v1.5h-1.5zM125.2 325.5h1.5v1.5h-1.5zM150.5 328.2h1.5v1.5h-1.5zM151.8 326.5h1.5v1.5h-1.5zM154.3 327.2h1.5v1.5h-1.5zM135.4 328.5h1.5v1.5h-1.5zM149.3 325.0h1.5v1.5h-1.5zM135.9 326.2h1.5v1.5h-1.5zM140.8 327.8h1.5v1.5h-1.5zM145.6 327.9h1.5v1.5h-1.5zM162.0 327.2h1.5v1.5h-1.5zM141.2 328.2h1.5v1.5h-1.5zM148.6 325.3h1.5v1.5h-1.5zM136.4 325.7h1.5v1.5h-1.5zM139.7 321.4h1.5v1.5h-1.5zM138.1 322.3h1.5v1.5h-1.5zM144.6 320.1h1.5v1.5h-1.5zM155.6 328.4h1.5v1.5h-1.5zM133.2 323.0h1.5v1.5h-1.5zM155.0 328.5h1.5v1.5h-1.5zM135.0 322.3h1.5v1.5h-1.5zM150.4 325.7h1.5v1.5h-1.5zM139.8 328.3h1.5v1.5h-1.5zM142.8 328.6h1.5v1.5h-1.5zM141.7 327.0h1.5v1.5h-1.5zM159.5 326.9h1.5v1.5h-1.5zM149.4 325.4h1.5v1.5h-1.5zM159.1 321.9h1.5v1.5h-1.5zM141.9 327.3h1.5v1.5h-1.5zM143.4 326.8h1.5v1.5h-1.5zM165.6 326.2h1.5v1.5h-1.5zM126.5 328.3h1.5v1.5h-1.5zM135.7 324.4h1.5v1.5h-1.5zM144.1 321.6h1.5v1.5h-1.5zM168.0 325.7h1.5v1.5h-1.5zM138.9 328.2h1.5v1.5h-1.5zM155.7 328.1h1.5v1.5h-1.5zM165.1 326.9h1.5v1.5h-1.5zM143.4 328.0h1.5v1.5h-1.5zM144.1 327.3h1.5v1.5h-1.5zM166.2 328.1h1.5v1.5h-1.5zM139.6 328.1h1.5v1.5h-1.5zM133.6 323.0h1.5v1.5h-1.5zM156.1 327.3h1.5v1.5h-1.5zM140.0 327.2h1.5v1.5h-1.5zM161.7 322.7h1.5v1.5h-1.5zM152.7 324.8h1.5v1.5h-1.5zM125.2 326.7h1.5v1.5h-1.5zM149.5 326.4h1.5v1.5h-1.5zM146.3 328.4h1.5v1.5h-1.5zM138.3 327.0h1.5v1.5h-1.5zM159.4 324.8h1.5v1.5h-1.5zM125.0 326.0h1.5v1.5h-1.5zM131.2 327.7h1.5v1.5h-1.5zM140.2 326.9h1.5v1.5h-1.5zM155.7 327.3h1.5v1.5h-1.5zM127.7 326.1h1.5v1.5h-1.5zM138.5 328.1h1.5v1.5h-1.5zM137.6 318.8h1.5v1.5h-1.5zM128.1 325.6h1.5v1.5h-1.5zM141.5 322.5h1.5v1.5h-1.5zM132.3 324.2h1.5v1.5h-1.5zM140.7 325.4h1.5v1.5h-1.5zM149.5 327.4h1.5v1.5h-1.5zM135.1 318.8h1.5v1.5h-1.5zM135.6 323.7h1.5v1.5h-1.5zM134.2 326.7h1.5v1.5h-1.5zM135.8 328.5h1.5v1.5h-1.5zM127.2 327.8h1.5v1.5h-1.5zM131.8 328.1h1.5v1.5h-1.5zM147.4 327.9h1.5v1.5h-1.5zM135.5 327.1h1.5v1.5h-1.5zM185.2 328.4h1.5v1.5h-1.5zM136.2 327.5h1.5v1.5h-1.5zM151.5 325.8h1.5v1.5h-1.5zM127.9 328.4h1.5v1.5h-1.5zM142.8 325.2h1.5v1.5h-1.5zM139.4 323.2h1.5v1.5h-1.5zM145.1 328.3h1.5v1.5h-1.5zM162.0 328.3h1.5v1.5h-1.5zM144.0 328.4h1.5v1.5h-1.5zM131.6 328.4h1.5v1.5h-1.5zM147.5 324.9h1.5v1.5h-1.5zM134.5 328.6h1.5v1.5h-1.5zM144.7 327.7h1.5v1.5h-1.5zM165.3 327.8h1.5v1.5h-1.5zM157.6 321.7h1.5v1.5h-1.5zM159.3 328.4h1.5v1.5h-1.5zM152.7 325.9h1.5v1.5h-1.5zM146.1 328.5h1.5v1.5h-1.5zM127.9 324.4h1.5v1.5h-1.5zM140.7 328.2h1.5v1.5h-1.5zM140.0 323.3h1.5v1.5h-1.5zM154.6 326.4h1.5v1.5h-1.5zM158.4 327.6h1.5v1.5h-1.5zM152.2 322.3h1.5v1.5h-1.5zM136.9 327.8h1.5v1.5h-1.5zM168.6 326.7h1.5v1.5h-1.5zM163.5 323.3h1.5v1.5h-1.5zM143.9 325.7h1.5v1.5h-1.5zM148.9 320.9h1.5v1.5h-1.5zM154.2 327.5h1.5v1.5h-1.5zM147.8 315.9h1.5v1.5h-1.5zM145.3 327.8h1.5v1.5h-1.5zM152.4 326.0h1.5v1.5h-1.5zM146.6 324.6h1.5v1.5h-1.5zM149.0 326.3h1.5v1.5h-1.5zM127.2 328.3h1.5v1.5h-1.5zM127.3 326.4h1.5v1.5h-1.5zM167.3 328.0h1.5v1.5h-1.5zM128.3 328.3h1.5v1.5h-1.5zM152.3 327.0h1.5v1.5h-1.5zM150.3 322.1h1.5v1.5h-1.5zM149.2 325.4h1.5v1.5h-1.5zM138.2 326.9h1.5v1.5h-1.5zM158.7 327.4h1.5v1.5h-1.5zM150.7 327.5h1.5v1.5h-1.5zM142.4 326.7h1.5v1.5h-1.5zM129.7 327.9h1.5v1.5h-1.5zM143.8 325.4h1.5v1.5h-1.5zM139.3 325.2h1.5v1.5h-1.5zM131.5 326.7h1.5v1.5h-1.5zM151.1 327.1h1.5v1.5h-1.5zM153.5 328.6h1.5v1.5h-1.5zM156.5 324.9h1.5v1.5h-1.5zM148.0 328.2h1.5v1.5h-1.5zM143.7 328.3h1.5v1.5h-1.5zM160.3 326.6h1.5v1.5h-1.5zM155.9 328.3h1.5v1.5h-1.5zM174.3 325.8h1.5v1.5h-1.5zM153.4 328.2h1.5v1.5h-1.5zM135.5 328.5h1.5v1.5h-1.5zM158.3 325.6h1.5v1.5h-1.5zM174.7 328.1h1.5v1.5h-1.5zM150.1 319.3h1.5v1.5h-1.5zM144.6 327.1h1.5v1.5h-1.5zM139.7 322.0h1.5v1.5h-1.5zM169.8 327.6h1.5v1.5h-1.5zM144.7 325.6h1.5v1.5h-1.5zM144.0 327.1h1.5v1.5h-1.5zM150.6 321.5h1.5v1.5h-1.5zM129.9 326.9h1.5v1.5h-1.5zM143.7 323.6h1.5v1.5h-1.5zM131.8 325.1h1.5v1.5h-1.5zM145.3 314.9h1.5v1.5h-1.5zM153.0 315.7h1.5v1.5h-1.5zM158.2 326.6h1.5v1.5h-1.5zM142.1 327.1h1.5v1.5h-1.5zM156.9 327.0h1.5v1.5h-1.5zM142.4 326.7h1.5v1.5h-1.5zM127.3 324.8h1.5v1.5h-1.5zM154.0 327.4h1.5v1.5h-1.5zM144.7 323.6h1.5v1.5h-1.5zM148.5 315.4h1.5v1.5h-1.5zM115.8 324.7h1.5v1.5h-1.5zM149.8 319.6h1.5v1.5h-1.5zM150.2 325.3h1.5v1.5h-1.5zM150.2 324.8h1.5v1.5h-1.5zM159.8 328.2h1.5v1.5h-1.5zM143.0 324.8h1.5v1.5h-1.5zM173.1 326.7h1.5v1.5h-1.5zM156.1 328.5h1.5v1.5h-1.5zM154.0 327.9h1.5v1.5h-1.5zM117.5 328.4h1.5v1.5h-1.5zM123.9 325.0h1.5v1.5h-1.5zM165.5 328.3h1.5v1.5h-1.5zM152.2 320.6h1.5v1.5h-1.5zM158.7 328.5h1.5v1.5h-1.5zM143.0 322.5h1.5v1.5h-1.5zM146.2 326.3h1.5v1.5h-1.5zM134.4 328.1h1.5v1.5h-1.5zM144.7 328.6h1.5v1.5h-1.5zM143.2 328.4h1.5v1.5h-1.5zM148.3 324.0h1.5v1.5h-1.5zM138.1 326.1h1.5v1.5h-1.5zM140.3 328.7h1.5v1.5h-1.5zM143.5 328.6h1.5v1.5h-1.5zM146.8 325.3h1.5v1.5h-1.5zM145.0 328.4h1.5v1.5h-1.5zM150.4 328.8h1.5v1.5h-1.5zM152.3 328.7h1.5v1.5h-1.5zM149.4 325.0h1.5v1.5h-1.5zM140.5 327.8h1.5v1.5h-1.5zM132.5 326.0h1.5v1.5h-1.5zM138.4 328.6h1.5v1.5h-1.5zM140.2 327.6h1.5v1.5h-1.5zM144.0 327.7h1.5v1.5h-1.5zM154.5 328.4h1.5v1.5h-1.5zM145.5 326.3h1.5v1.5h-1.5zM137.6 326.0h1.5v1.5h-1.5zM134.3 325.9h1.5v1.5h-1.5zM145.0 327.8h1.5v1.5h-1.5zM143.7 328.1h1.5v1.5h-1.5zM136.4 327.4h1.5v1.5h-1.5zM131.2 327.3h1.5v1.5h-1.5zM142.8 327.2h1.5v1.5h-1.5zM149.4 328.2h1.5v1.5h-1.5zM147.8 326.6h1.5v1.5h-1.5zM132.8 328.7h1.5v1.5h-1.5zM141.9 326.5h1.5v1.5h-1.5zM144.1 327.0h1.5v1.5h-1.5zM137.1 328.2h1.5v1.5h-1.5zM145.0 328.4h1.5v1.5h-1.5zM140.0 326.9h1.5v1.5h-1.5zM154.1 327.9h1.5v1.5h-1.5zM139.9 328.0h1.5v1.5h-1.5zM160.4 328.3h1.5v1.5h-1.5zM155.0 328.7h1.5v1.5h-1.5zM149.4 328.6h1.5v1.5h-1.5zM148.4 328.6h1.5v1.5h-1.5zM158.8 328.6h1.5v1.5h-1.5zM143.0 326.1h1.5v1.5h-1.5zM150.1 324.4h1.5v1.5h-1.5zM144.1 328.5h1.5v1.5h-1.5zM160.2 328.1h1.5v1.5h-1.5zM143.7 326.6h1.5v1.5h-1.5zM144.1 327.3h1.5v1.5h-1.5zM122.7 326.2h1.5v1.5h-1.5zM148.6 328.3h1.5v1.5h-1.5zM143.1 326.8h1.5v1.5h-1.5zM151.5 327.6h1.5v1.5h-1.5zM133.2 328.7h1.5v1.5h-1.5zM138.5 328.0h1.5v1.5h-1.5zM158.1 328.0h1.5v1.5h-1.5zM139.5 326.3h1.5v1.5h-1.5zM148.1 327.9h1.5v1.5h-1.5zM154.6 323.8h1.5v1.5h-1.5zM147.1 322.7h1.5v1.5h-1.5zM146.9 328.4h1.5v1.5h-1.5zM157.3 326.1h1.5v1.5h-1.5zM141.6 327.8h1.5v1.5h-1.5zM151.6 327.7h1.5v1.5h-1.5zM144.0 327.8h1.5v1.5h-1.5zM136.3 328.2h1.5v1.5h-1.5zM146.8 328.8h1.5v1.5h-1.5zM158.4 327.3h1.5v1.5h-1.5zM144.9 323.9h1.5v1.5h-1.5zM140.2 322.5h1.5v1.5h-1.5zM144.6 328.1h1.5v1.5h-1.5zM142.1 328.3h1.5v1.5h-1.5zM151.1 328.0h1.5v1.5h-1.5zM137.5 327.7h1.5v1.5h-1.5zM154.6 322.8h1.5v1.5h-1.5zM150.2 327.9h1.5v1.5h-1.5zM157.5 326.9h1.5v1.5h-1.5zM142.4 326.2h1.5v1.5h-1.5zM155.0 328.4h1.5v1.5h-1.5zM137.5 322.7h1.5v1.5h-1.5zM151.9 327.6h1.5v1.5h-1.5zM144.5 326.9h1.5v1.5h-1.5zM136.5 328.4h1.5v1.5h-1.5zM153.6 327.5h1.5v1.5h-1.5zM159.6 328.3h1.5v1.5h-1.5zM162.6 326.5h1.5v1.5h-1.5zM150.6 327.3h1.5v1.5h-1.5zM144.4 328.3h1.5v1.5h-1.5zM159.8 328.3h1.5v1.5h-1.5zM138.0 327.1h1.5v1.5h-1.5zM147.8 328.7h1.5v1.5h-1.5zM133.2 327.3h1.5v1.5h-1.5zM147.8 328.8h1.5v1.5h-1.5zM148.8 325.6h1.5v1.5h-1.5zM142.9 328.3h1.5v1.5h-1.5zM155.9 328.0h1.5v1.5h-1.5zM145.4 327.4h1.5v1.5h-1.5zM150.8 323.1h1.5v1.5h-1.5zM151.4 328.1h1.5v1.5h-1.5zM145.4 324.9h1.5v1.5h-1.5zM123.5 327.2h1.5v1.5h-1.5zM142.8 328.4h1.5v1.5h-1.5zM148.0 325.3h1.5v1.5h-1.5zM137.4 328.6h1.5v1.5h-1.5zM146.9 328.7h1.5v1.5h-1.5zM133.0 328.0h1.5v1.5h-1.5zM152.1 328.0h1.5v1.5h-1.5zM152.0 328.6h1.5v1.5h-1.5zM150.1 328.8h1.5v1.5h-1.5zM142.1 328.3h1.5v1.5h-1.5zM149.0 328.3h1.5v1.5h-1.5zM135.1 327.0h1.5v1.5h-1.5zM139.4 328.1h1.5v1.5h-1.5zM150.2 322.0h1.5v1.5h-1.5zM140.3 326.2h1.5v1.5h-1.5zM144.1 327.3h1.5v1.5h-1.5zM146.2 328.4h1.5v1.5h-1.5zM155.9 327.8h1.5v1.5h-1.5zM140.3 327.4h1.5v1.5h-1.5zM141.3 326.0h1.5v1.5h-1.5zM140.0 323.7h1.5v1.5h-1.5zM131.4 327.7h1.5v1.5h-1.5zM148.0 324.5h1.5v1.5h-1.5zM127.6 328.1h1.5v1.5h-1.5zM138.9 327.3h1.5v1.5h-1.5zM157.9 328.7h1.5v1.5h-1.5zM146.3 323.1h1.5v1.5h-1.5zM125.8 328.1h1.5v1.5h-1.5zM137.2 327.9h1.5v1.5h-1.5zM161.1 323.9h1.5v1.5h-1.5zM143.6 328.6h1.5v1.5h-1.5zM162.8 326.6h1.5v1.5h-1.5zM141.1 328.3h1.5v1.5h-1.5zM124.2 324.4h1.5v1.5h-1.5zM148.5 324.8h1.5v1.5h-1.5zM144.0 328.1h1.5v1.5h-1.5zM148.6 327.5h1.5v1.5h-1.5zM136.6 327.0h1.5v1.5h-1.5zM136.4 328.6h1.5v1.5h-1.5zM140.7 327.6h1.5v1.5h-1.5zM136.5 325.4h1.5v1.5h-1.5zM153.7 327.3h1.5v1.5h-1.5zM156.1 328.4h1.5v1.5h-1.5zM144.1 327.6h1.5v1.5h-1.5zM154.5 327.1h1.5v1.5h-1.5zM139.8 327.6h1.5v1.5h-1.5zM143.2 328.1h1.5v1.5h-1.5zM131.0 323.8h1.5v1.5h-1.5zM157.3 328.3h1.5v1.5h-1.5zM141.2 327.9h1.5v1.5h-1.5zM157.4 325.1h1.5v1.5h-1.5zM157.3 326.1h1.5v1.5h-1.5zM150.9 328.2h1.5v1.5h-1.5zM148.3 327.2h1.5v1.5h-1.5zM137.0 325.4h1.5v1.5h-1.5zM154.0 328.0h1.5v1.5h-1.5zM151.9 324.7h1.5v1.5h-1.5zM156.3 328.7h1.5v1.5h-1.5zM149.6 328.3h1.5v1.5h-1.5zM135.4 328.3h1.5v1.5h-1.5zM136.3 328.8h1.5v1.5h-1.5zM154.9 328.4h1.5v1.5h-1.5zM161.2 327.6h1.5v1.5h-1.5zM144.2 326.8h1.5v1.5h-1.5zM145.9 324.9h1.5v1.5h-1.5zM149.4 328.6h1.5v1.5h-1.5zM148.4 328.8h1.5v1.5h-1.5zM149.2 328.8h1.5v1.5h-1.5zM144.2 327.8h1.5v1.5h-1.5zM148.2 327.2h1.5v1.5h-1.5zM141.3 327.5h1.5v1.5h-1.5zM145.4 328.3h1.5v1.5h-1.5zM152.4 327.2h1.5v1.5h-1.5zM146.9 328.2h1.5v1.5h-1.5zM140.7 326.8h1.5v1.5h-1.5zM149.0 327.0h1.5v1.5h-1.5zM136.4 325.9h1.5v1.5h-1.5zM140.4 328.7h1.5v1.5h-1.5zM136.9 325.7h1.5v1.5h-1.5zM148.8 326.5h1.5v1.5h-1.5zM152.0 326.9h1.5v1.5h-1.5zM143.0 328.1h1.5v1.5h-1.5zM138.2 328.8h1.5v1.5h-1.5zM150.5 326.4h1.5v1.5h-1.5zM148.5 328.3h1.5v1.5h-1.5zM132.1 328.6h1.5v1.5h-1.5zM154.9 325.6h1.5v1.5h-1.5zM154.5 328.0h1.5v1.5h-1.5zM143.9 327.2h1.5v1.5h-1.5zM145.5 324.7h1.5v1.5h-1.5zM145.2 328.0h1.5v1.5h-1.5zM141.8 327.2h1.5v1.5h-1.5zM150.0 327.7h1.5v1.5h-1.5zM139.6 328.8h1.5v1.5h-1.5zM143.3 328.7h1.5v1.5h-1.5zM147.3 327.4h1.5v1.5h-1.5zM130.8 328.8h1.5v1.5h-1.5zM141.3 328.4h1.5v1.5h-1.5zM134.6 327.0h1.5v1.5h-1.5zM141.7 324.7h1.5v1.5h-1.5zM141.2 328.2h1.5v1.5h-1.5zM143.9 328.3h1.5v1.5h-1.5zM146.8 327.9h1.5v1.5h-1.5zM136.3 328.4h1.5v1.5h-1.5zM148.1 327.3h1.5v1.5h-1.5zM130.0 328.6h1.5v1.5h-1.5zM153.7 328.7h1.5v1.5h-1.5zM144.6 328.7h1.5v1.5h-1.5zM152.4 327.3h1.5v1.5h-1.5zM128.1 326.4h1.5v1.5h-1.5zM157.6 328.5h1.5v1.5h-1.5zM142.6 327.3h1.5v1.5h-1.5zM148.2 326.6h1.5v1.5h-1.5zM146.2 328.0h1.5v1.5h-1.5zM144.6 327.3h1.5v1.5h-1.5zM141.0 326.9h1.5v1.5h-1.5zM127.3 328.8h1.5v1.5h-1.5zM156.4 322.4h1.5v1.5h-1.5zM162.0 328.8h1.5v1.5h-1.5zM139.9 327.0h1.5v1.5h-1.5zM157.5 328.2h1.5v1.5h-1.5zM153.9 326.6h1.5v1.5h-1.5zM148.7 324.0h1.5v1.5h-1.5zM144.4 326.7h1.5v1.5h-1.5zM151.0 324.7h1.5v1.5h-1.5zM139.9 328.7h1.5v1.5h-1.5zM142.7 326.9h1.5v1.5h-1.5zM140.9 324.1h1.5v1.5h-1.5zM139.0 328.2h1.5v1.5h-1.5zM140.8 328.8h1.5v1.5h-1.5zM151.2 328.6h1.5v1.5h-1.5zM151.8 326.4h1.5v1.5h-1.5zM138.5 328.6h1.5v1.5h-1.5zM145.2 328.6h1.5v1.5h-1.5zM144.1 328.5h1.5v1.5h-1.5zM130.2 325.9h1.5v1.5h-1.5zM155.9 324.5h1.5v1.5h-1.5zM136.0 328.7h1.5v1.5h-1.5zM156.1 328.2h1.5v1.5h-1.5zM125.0 324.7h1.5v1.5h-1.5zM139.0 328.7h1.5v1.5h-1.5zM152.8 327.9h1.5v1.5h-1.5zM149.9 328.5h1.5v1.5h-1.5zM150.6 328.5h1.5v1.5h-1.5zM145.7 327.8h1.5v1.5h-1.5zM164.6 328.8h1.5v1.5h-1.5zM146.7 324.8h1.5v1.5h-1.5zM149.2 320.8h1.5v1.5h-1.5zM139.6 328.3h1.5v1.5h-1.5zM139.0 328.3h1.5v1.5h-1.5zM158.6 328.2h1.5v1.5h-1.5zM158.6 327.6h1.5v1.5h-1.5zM130.0 327.1h1.5v1.5h-1.5zM141.3 327.9h1.5v1.5h-1.5zM157.6 328.1h1.5v1.5h-1.5zM147.1 327.5h1.5v1.5h-1.5zM155.1 328.0h1.5v1.5h-1.5zM130.1 328.2h1.5v1.5h-1.5zM148.1 325.9h1.5v1.5h-1.5zM146.6 327.7h1.5v1.5h-1.5zM147.0 328.8h1.5v1.5h-1.5zM140.6 326.8h1.5v1.5h-1.5zM138.7 298.6h1.5v1.5h-1.5zM134.6 318.5h1.5v1.5h-1.5zM170.4 317.2h1.5v1.5h-1.5zM165.6 313.6h1.5v1.5h-1.5zM108.2 326.9h1.5v1.5h-1.5zM182.4 325.1h1.5v1.5h-1.5zM153.7 311.2h1.5v1.5h-1.5zM163.3 325.7h1.5v1.5h-1.5z"/><path fill="#2222c8" d="M139.5 359.8h1.5v1.5h-1.5zM157.6 356.8h1.5v1.5h-1.5zM158.3 363.6h1.5v1.5h-1.5zM155.1 372.7h1.5v1.5h-1.5zM150.3 354.8h1.5v1.5h-1.5zM157.3 355.9h1.5v1.5h-1.5zM147.8 356.6h1.5v1.5h-1.5zM152.7 365.5h1.5v1.5h-1.5zM156.2 355.2h1.5v1.5h-1.5zM167.2 355.1h1.5v1.5h-1.5zM160.8 355.1h1.5v1.5h-1.5zM158.8 358.7h1.5v1.5h-1.5zM124.7 359.2h1.5v1.5h-1.5zM149.9 356.2h1.5v1.5h-1.5zM148.4 357.7h1.5v1.5h-1.5zM138.3 355.5h1.5v1.5h-1.5zM131.2 359.0h1.5v1.5h-1.5zM155.3 359.9h1.5v1.5h-1.5zM147.1 356.9h1.5v1.5h-1.5zM141.5 354.8h1.5v1.5h-1.5zM130.1 359.8h1.5v1.5h-1.5zM135.0 355.2h1.5v1.5h-1.5zM138.2 361.6h1.5v1.5h-1.5zM150.0 355.5h1.5v1.5h-1.5zM169.1 355.6h1.5v1.5h-1.5zM148.4 356.6h1.5v1.5h-1.5zM116.9 354.9h1.5v1.5h-1.5zM151.5 357.1h1.5v1.5h-1.5zM152.0 355.9h1.5v1.5h-1.5zM130.7 359.2h1.5v1.5h-1.5zM126.2 355.6h1.5v1.5h-1.5zM145.3 356.2h1.5v1.5h-1.5zM155.8 358.2h1.5v1.5h-1.5zM150.9 357.1h1.5v1.5h-1.5zM167.3 355.5h1.5v1.5h-1.5zM142.9 355.8h1.5v1.5h-1.5zM144.9 358.3h1.5v1.5h-1.5zM132.2 356.1h1.5v1.5h-1.5zM158.6 356.5h1.5v1.5h-1.5zM147.6 356.0h1.5v1.5h-1.5zM152.5 364.4h1.5v1.5h-1.5zM112.0 354.4h1.5v1.5h-1.5zM118.9 359.9h1.5v1.5h-1.5zM149.6 355.3h1.5v1.5h-1.5zM153.0 359.5h1.5v1.5h-1.5zM138.2 355.2h1.5v1.5h-1.5zM139.8 354.9h1.5v1.5h-1.5zM154.5 355.1h1.5v1.5h-1.5zM132.4 355.6h1.5v1.5h-1.5zM144.3 358.3h1.5v1.5h-1.5zM130.3 356.6h1.5v1.5h-1.5zM135.5 356.8h1.5v1.5h-1.5zM155.8 356.0h1.5v1.5h-1.5zM119.0 356.4h1.5v1.5h-1.5zM133.3 356.1h1.5v1.5h-1.5zM108.3 354.5h1.5v1.5h-1.5zM148.6 359.9h1.5v1.5h-1.5zM146.8 357.1h1.5v1.5h-1.5zM185.4 354.9h1.5v1.5h-1.5zM138.3 355.3h1.5v1.5h-1.5zM147.3 356.8h1.5v1.5h-1.5zM159.7 357.1h1.5v1.5h-1.5zM153.9 354.9h1.5v1.5h-1.5zM140.1 356.6h1.5v1.5h-1.5zM161.9 361.3h1.5v1.5h-1.5zM105.1 355.4h1.5v1.5h-1.5zM151.1 355.7h1.5v1.5h-1.5zM133.5 356.0h1.5v1.5h-1.5zM133.0 368.1h1.5v1.5h-1.5zM129.1 354.8h1.5v1.5h-1.5zM148.9 357.2h1.5v1.5h-1.5zM129.2 356.7h1.5v1.5h-1.5zM146.1 361.8h1.5v1.5h-1.5zM168.8 354.6h1.5v1.5h-1.5zM133.5 356.0h1.5v1.5h-1.5zM145.3 358.5h1.5v1.5h-1.5zM135.2 354.8h1.5v1.5h-1.5zM124.8 355.3h1.5v1.5h-1.5zM152.1 364.0h1.5v1.5h-1.5zM161.3 355.1h1.5v1.5h-1.5zM134.1 358.5h1.5v1.5h-1.5zM144.4 365.4h1.5v1.5h-1.5zM141.6 359.7h1.5v1.5h-1.5zM133.0 355.7h1.5v1.5h-1.5zM155.5 354.9h1.5v1.5h-1.5zM114.8 356.4h1.5v1.5h-1.5zM165.0 357.0h1.5v1.5h-1.5zM135.8 357.3h1.5v1.5h-1.5zM168.9 355.2h1.5v1.5h-1.5zM150.7 361.0h1.5v1.5h-1.5zM142.4 363.0h1.5v1.5h-1.5zM119.3 355.2h1.5v1.5h-1.5zM124.5 355.0h1.5v1.5h-1.5zM153.1 354.5h1.5v1.5h-1.5zM132.8 365.0h1.5v1.5h-1.5zM156.1 357.9h1.5v1.5h-1.5zM124.8 355.3h1.5v1.5h-1.5zM158.7 354.8h1.5v1.5h-1.5zM142.9 363.7h1.5v1.5h-1.5zM148.9 355.3h1.5v1.5h-1.5zM130.4 362.2h1.5v1.5h-1.5zM137.0 359.1h1.5v1.5h-1.5zM150.4 359.2h1.5v1.5h-1.5zM145.4 356.3h1.5v1.5h-1.5zM129.2 354.7h1.5v1.5h-1.5zM146.0 358.0h1.5v1.5h-1.5zM121.7 359.2h1.5v1.5h-1.5zM172.0 361.0h1.5v1.5h-1.5zM151.1 362.4h1.5v1.5h-1.5zM135.7 357.2h1.5v1.5h-1.5zM138.6 356.7h1.5v1.5h-1.5zM128.2 355.8h1.5v1.5h-1.5zM144.1 355.9h1.5v1.5h-1.5zM103.4 355.4h1.5v1.5h-1.5zM142.5 358.5h1.5v1.5h-1.5zM167.1 355.3h1.5v1.5h-1.5zM112.6 355.2h1.5v1.5h-1.5zM145.2 355.6h1.5v1.5h-1.5zM134.8 354.6h1.5v1.5h-1.5zM140.3 357.4h1.5v1.5h-1.5zM126.0 357.0h1.5v1.5h-1.5zM156.9 364.5h1.5v1.5h-1.5zM124.2 355.5h1.5v1.5h-1.5zM156.9 360.9h1.5v1.5h-1.5zM158.4 354.5h1.5v1.5h-1.5zM146.1 356.5h1.5v1.5h-1.5zM151.6 354.8h1.5v1.5h-1.5zM115.0 355.0h1.5v1.5h-1.5zM133.7 358.9h1.5v1.5h-1.5zM107.3 358.3h1.5v1.5h-1.5zM152.2 367.5h1.5v1.5h-1.5zM159.8 355.2h1.5v1.5h-1.5zM121.6 355.1h1.5v1.5h-1.5zM146.2 356.9h1.5v1.5h-1.5zM139.9 357.4h1.5v1.5h-1.5zM115.9 354.5h1.5v1.5h-1.5zM138.2 359.5h1.5v1.5h-1.5zM144.6 358.0h1.5v1.5h-1.5zM157.8 360.6h1.5v1.5h-1.5zM141.9 355.7h1.5v1.5h-1.5zM152.9 365.0h1.5v1.5h-1.5zM171.6 356.2h1.5v1.5h-1.5zM160.3 368.3h1.5v1.5h-1.5zM132.7 361.4h1.5v1.5h-1.5zM151.8 355.3h1.5v1.5h-1.5zM168.8 356.0h1.5v1.5h-1.5zM184.0 354.5h1.5v1.5h-1.5zM156.0 359.1h1.5v1.5h-1.5zM161.9 355.8h1.5v1.5h-1.5zM158.1 367.3h1.5v1.5h-1.5zM174.9 362.3h1.5v1.5h-1.5zM158.9 357.2h1.5v1.5h-1.5zM161.1 359.3h1.5v1.5h-1.5zM132.2 359.1h1.5v1.5h-1.5zM140.6 357.6h1.5v1.5h-1.5zM123.2 354.8h1.5v1.5h-1.5zM132.5 362.1h1.5v1.5h-1.5zM149.9 356.6h1.5v1.5h-1.5zM161.6 357.4h1.5v1.5h-1.5zM160.9 356.5h1.5v1.5h-1.5zM152.4 355.4h1.5v1.5h-1.5zM177.0 354.5h1.5v1.5h-1.5zM127.2 354.9h1.5v1.5h-1.5zM145.3 363.1h1.5v1.5h-1.5zM167.2 355.6h1.5v1.5h-1.5zM151.2 356.8h1.5v1.5h-1.5zM148.3 358.9h1.5v1.5h-1.5zM159.9 354.8h1.5v1.5h-1.5zM135.3 357.9h1.5v1.5h-1.5zM135.6 356.5h1.5v1.5h-1.5z"/>
<rect x="58" y="264" width="155.2" height="155.9" stroke="#6e6e6e" stroke-width="1" fill="none"/>
<line x1="54.9" y1="269.8" x2="58" y2="269.8" stroke="#6e6e6e" stroke-width="1"/>
<text x="50.4" y="273.38" font-size="10.0" text-anchor="end" fill="#2b2b2b" stroke="#2b2b2b" stroke-width="0.22">0.6</text>
<line x1="54.9" y1="293.9" x2="58" y2="293.9" stroke="#6e6e6e" stroke-width="1"/>
<text x="50.4" y="297.48" font-size="10.0" text-anchor="end" fill="#2b2b2b" stroke="#2b2b2b" stroke-width="0.22">0.4</text>
<line x1="54.9" y1="318" x2="58" y2="318" stroke="#6e6e6e" stroke-width="1"/>
<text x="50.4" y="321.58" font-size="10.0" text-anchor="end" fill="#2b2b2b" stroke="#2b2b2b" stroke-width="0.22">0.2</text>
<line x1="54.9" y1="342.1" x2="58" y2="342.1" stroke="#6e6e6e" stroke-width="1"/>
<text x="50.4" y="345.68" font-size="10.0" text-anchor="end" fill="#2b2b2b" stroke="#2b2b2b" stroke-width="0.22">0.0</text>
<line x1="54.9" y1="366.2" x2="58" y2="366.2" stroke="#6e6e6e" stroke-width="1"/>
<text x="50.4" y="369.78" font-size="10.0" text-anchor="end" fill="#2b2b2b" stroke="#2b2b2b" stroke-width="0.22">-0.2</text>
<line x1="54.9" y1="390.3" x2="58" y2="390.3" stroke="#6e6e6e" stroke-width="1"/>
<text x="50.4" y="393.88" font-size="10.0" text-anchor="end" fill="#2b2b2b" stroke="#2b2b2b" stroke-width="0.22">-0.4</text>
<line x1="54.9" y1="414.4" x2="58" y2="414.4" stroke="#6e6e6e" stroke-width="1"/>
<text x="50.4" y="417.98" font-size="10.0" text-anchor="end" fill="#2b2b2b" stroke="#2b2b2b" stroke-width="0.22">-0.6</text>
<line x1="63.54" y1="419.9" x2="63.54" y2="423" stroke="#6e6e6e" stroke-width="1"/>
<text x="63.54" y="435.38" font-size="10.0" text-anchor="middle" fill="#2b2b2b" stroke="#2b2b2b" stroke-width="0.22">-0.6</text>
<line x1="87.46" y1="419.9" x2="87.46" y2="423" stroke="#6e6e6e" stroke-width="1"/>
<text x="87.46" y="435.38" font-size="10.0" text-anchor="middle" fill="#2b2b2b" stroke="#2b2b2b" stroke-width="0.22">-0.4</text>
<line x1="111.38" y1="419.9" x2="111.38" y2="423" stroke="#6e6e6e" stroke-width="1"/>
<text x="111.38" y="435.38" font-size="10.0" text-anchor="middle" fill="#2b2b2b" stroke="#2b2b2b" stroke-width="0.22">-0.2</text>
<line x1="135.3" y1="419.9" x2="135.3" y2="423" stroke="#6e6e6e" stroke-width="1"/>
<text x="135.3" y="435.38" font-size="10.0" text-anchor="middle" fill="#2b2b2b" stroke="#2b2b2b" stroke-width="0.22">0.0</text>
<line x1="159.22" y1="419.9" x2="159.22" y2="423" stroke="#6e6e6e" stroke-width="1"/>
<text x="159.22" y="435.38" font-size="10.0" text-anchor="middle" fill="#2b2b2b" stroke="#2b2b2b" stroke-width="0.22">0.2</text>
<line x1="183.14" y1="419.9" x2="183.14" y2="423" stroke="#6e6e6e" stroke-width="1"/>
<text x="183.14" y="435.38" font-size="10.0" text-anchor="middle" fill="#2b2b2b" stroke="#2b2b2b" stroke-width="0.22">0.4</text>
<line x1="207.06" y1="419.9" x2="207.06" y2="423" stroke="#6e6e6e" stroke-width="1"/>
<text x="207.06" y="435.38" font-size="10.0" text-anchor="middle" fill="#2b2b2b" stroke="#2b2b2b" stroke-width="0.22">0.6</text>
<text x="65.6" y="295.08" font-size="10.0" text-anchor="start" fill="#2b2b2b" stroke="#2b2b2b" stroke-width="0.22">5</text>
<text x="207.4" y="294.98" font-size="10.0" text-anchor="end" fill="#2b2b2b" stroke="#2b2b2b" stroke-width="0.22">230</text>
<text x="64.6" y="397.88" font-size="10.0" text-anchor="start" fill="#2b2b2b" stroke="#2b2b2b" stroke-width="0.22">23</text>
<text x="205.1" y="397.88" font-size="10.0" text-anchor="end" fill="#2b2b2b" stroke="#2b2b2b" stroke-width="0.22">90</text>
<text x="16.44" y="343.6" font-size="9.9" text-anchor="middle" fill="#2b2b2b" stroke="#2b2b2b" stroke-width="0.22" transform="rotate(-90 16.44 343.6)">Own direct comparison</text>
<text x="27.44" y="343.2" font-size="9.9" text-anchor="middle" fill="#2b2b2b" stroke="#2b2b2b" stroke-width="0.22" transform="rotate(-90 27.44 343.2)">Mean beta values (FCS-HPL)</text>
<text x="136.2" y="458.84" font-size="9.9" text-anchor="middle" fill="#2b2b2b" stroke="#2b2b2b" stroke-width="0.22">Comparison of public datasets</text>
<text x="136" y="470.34" font-size="9.9" text-anchor="middle" fill="#2b2b2b" stroke="#2b2b2b" stroke-width="0.22">Mean beta values (FCS-HPL)</text>
<circle cx="98.0" cy="493.3" r="2.8" fill="#1010d8"/>
<text x="108" y="495.54" font-size="9.9" text-anchor="start" fill="#2b2b2b" stroke="#2b2b2b" stroke-width="0.22">hypomethylated</text>
<circle cx="98.0" cy="512.2" r="2.8" fill="#e01010"/>
<text x="108" y="515.14" font-size="9.9" text-anchor="start" fill="#2b2b2b" stroke="#2b2b2b" stroke-width="0.22">hypermethylated</text>
<path fill="#d8d8d8" d="M433 273h1v1h-1zM428 274h1v1h-1zM423 275h1v1h-1zM425 275h1v1h-1zM420 276h1v1h-1zM420 277h1v1h-1zM422 277h1v1h-1zM425 278h1v1h-1zM427 279h1v1h-1zM415 280h1v1h-1zM418 280h1v1h-1zM423 280h1v1h-1zM415 281h1v1h-1zM421 281h1v1h-1zM423 281h1v1h-1zM410 282h1v1h-1zM414 282h2v1h-2zM420 282h1v1h-1zM428 282h1v1h-1zM411 283h1v1h-1zM416 283h2v1h-2zM422 283h1v1h-1zM424 283h1v1h-1zM427 283h1v1h-1zM414 284h1v1h-1zM417 284h1v1h-1zM421 284h1v1h-1zM411 285h2v1h-2zM426 285h1v1h-1zM413 286h1v1h-1zM419 286h3v1h-3zM425 286h1v1h-1zM408 287h1v1h-1zM412 287h1v1h-1zM415 287h1v1h-1zM424 287h1v1h-1zM408 288h1v1h-1zM419 288h1v1h-1zM422 288h1v1h-1zM425 288h1v1h-1zM403 289h1v1h-1zM406 289h1v1h-1zM408 289h1v1h-1zM413 289h2v1h-2zM426 289h2v1h-2zM400 290h1v1h-1zM407 290h1v1h-1zM413 290h1v1h-1zM415 290h1v1h-1zM420 290h2v1h-2zM426 290h1v1h-1zM396 291h1v1h-1zM400 291h1v1h-1zM405 291h5v1h-5zM412 291h1v1h-1zM417 291h4v1h-4zM422 291h1v1h-1zM400 292h1v1h-1zM404 292h1v1h-1zM412 292h1v1h-1zM416 292h1v1h-1zM422 292h1v1h-1zM402 293h1v1h-1zM404 293h1v1h-1zM408 293h2v1h-2zM413 293h1v1h-1zM418 293h1v1h-1zM421 293h1v1h-1zM410 294h1v1h-1zM413 294h1v1h-1zM416 294h1v1h-1zM419 294h1v1h-1zM397 295h1v1h-1zM403 295h1v1h-1zM406 295h1v1h-1zM410 295h1v1h-1zM412 295h1v1h-1zM416 295h1v1h-1zM395 296h2v1h-2zM399 296h1v1h-1zM409 296h1v1h-1zM414 296h1v1h-1zM418 296h2v1h-2zM397 297h2v1h-2zM404 297h1v1h-1zM406 297h2v1h-2zM412 297h2v1h-2zM419 297h1v1h-1zM394 298h1v1h-1zM399 298h1v1h-1zM404 298h2v1h-2zM407 298h1v1h-1zM410 298h1v1h-1zM415 298h4v1h-4zM394 299h1v1h-1zM397 299h1v1h-1zM401 299h1v1h-1zM405 299h1v1h-1zM407 299h1v1h-1zM410 299h1v1h-1zM415 299h1v1h-1zM418 299h1v1h-1zM396 300h1v1h-1zM399 300h1v1h-1zM406 300h2v1h-2zM410 300h1v1h-1zM417 300h1v1h-1zM392 301h2v1h-2zM400 301h1v1h-1zM402 301h1v1h-1zM405 301h2v1h-2zM413 301h2v1h-2zM391 302h1v1h-1zM394 302h1v1h-1zM398 302h1v1h-1zM400 302h1v1h-1zM406 302h1v1h-1zM408 302h1v1h-1zM386 303h1v1h-1zM400 303h1v1h-1zM407 303h1v1h-1zM411 303h1v1h-1zM387 304h1v1h-1zM389 304h1v1h-1zM394 304h1v1h-1zM399 304h2v1h-2zM404 304h2v1h-2zM414 304h1v1h-1zM384 305h1v1h-1zM387 305h1v1h-1zM394 305h1v1h-1zM396 305h1v1h-1zM399 305h1v1h-1zM406 305h1v1h-1zM408 305h1v1h-1zM411 305h1v1h-1zM413 305h1v1h-1zM387 306h3v1h-3zM395 306h2v1h-2zM398 306h1v1h-1zM407 306h1v1h-1zM385 307h1v1h-1zM395 307h2v1h-2zM401 307h2v1h-2zM404 307h1v1h-1zM411 307h1v1h-1zM384 308h1v1h-1zM386 308h1v1h-1zM392 308h1v1h-1zM397 308h2v1h-2zM383 309h1v1h-1zM386 309h1v1h-1zM390 309h1v1h-1zM392 309h2v1h-2zM400 309h1v1h-1zM406 309h2v1h-2zM386 310h1v1h-1zM388 310h1v1h-1zM394 310h1v1h-1zM396 310h1v1h-1zM400 310h1v1h-1zM402 310h1v1h-1zM406 310h1v1h-1zM385 311h1v1h-1zM388 311h1v1h-1zM390 311h1v1h-1zM394 311h1v1h-1zM397 311h2v1h-2zM403 311h1v1h-1zM405 311h2v1h-2zM378 312h2v1h-2zM382 312h2v1h-2zM389 312h1v1h-1zM394 312h1v1h-1zM397 312h1v1h-1zM400 312h3v1h-3zM404 312h1v1h-1zM387 313h1v1h-1zM389 313h2v1h-2zM396 313h1v1h-1zM400 313h1v1h-1zM407 313h1v1h-1zM379 314h1v1h-1zM383 314h2v1h-2zM391 314h1v1h-1zM394 314h1v1h-1zM397 314h2v1h-2zM402 314h1v1h-1zM391 315h1v1h-1zM397 315h2v1h-2zM373 316h1v1h-1zM375 316h1v1h-1zM378 316h1v1h-1zM382 316h1v1h-1zM385 316h2v1h-2zM390 316h1v1h-1zM392 316h1v1h-1zM394 316h2v1h-2zM375 317h1v1h-1zM378 317h2v1h-2zM382 317h1v1h-1zM388 317h1v1h-1zM401 317h1v1h-1zM370 318h1v1h-1zM378 318h2v1h-2zM382 318h1v1h-1zM391 318h1v1h-1zM394 318h2v1h-2zM397 318h2v1h-2zM400 318h1v1h-1zM371 319h1v1h-1zM373 319h1v1h-1zM375 319h3v1h-3zM387 319h1v1h-1zM389 319h2v1h-2zM392 319h1v1h-1zM397 319h1v1h-1zM372 320h1v1h-1zM375 320h2v1h-2zM380 320h3v1h-3zM387 320h1v1h-1zM393 320h2v1h-2zM367 321h1v1h-1zM372 321h1v1h-1zM378 321h1v1h-1zM382 321h2v1h-2zM386 321h1v1h-1zM371 322h2v1h-2zM375 322h2v1h-2zM379 322h1v1h-1zM383 322h1v1h-1zM387 322h1v1h-1zM392 322h1v1h-1zM394 322h3v1h-3zM369 323h2v1h-2zM374 323h1v1h-1zM377 323h1v1h-1zM382 323h1v1h-1zM391 323h1v1h-1zM394 323h1v1h-1zM368 324h1v1h-1zM372 324h1v1h-1zM374 324h1v1h-1zM377 324h1v1h-1zM387 324h1v1h-1zM389 324h2v1h-2zM368 325h1v1h-1zM371 325h1v1h-1zM374 325h1v1h-1zM381 325h2v1h-2zM384 325h1v1h-1zM388 325h1v1h-1zM392 325h1v1h-1zM363 326h2v1h-2zM368 326h2v1h-2zM373 326h1v1h-1zM386 326h2v1h-2zM390 326h1v1h-1zM366 327h1v1h-1zM369 327h1v1h-1zM380 327h1v1h-1zM386 327h1v1h-1zM388 327h1v1h-1zM364 328h1v1h-1zM373 328h1v1h-1zM375 328h1v1h-1zM379 328h1v1h-1zM382 328h1v1h-1zM366 329h2v1h-2zM369 329h1v1h-1zM377 329h1v1h-1zM379 329h2v1h-2zM387 329h1v1h-1zM389 329h1v1h-1zM363 330h1v1h-1zM376 330h1v1h-1zM380 330h1v1h-1zM384 330h1v1h-1zM390 330h1v1h-1zM362 331h1v1h-1zM366 331h1v1h-1zM368 331h1v1h-1zM374 331h1v1h-1zM380 331h1v1h-1zM360 332h1v1h-1zM363 332h1v1h-1zM372 332h1v1h-1zM374 332h1v1h-1zM376 332h1v1h-1zM383 332h2v1h-2zM356 333h2v1h-2zM364 333h1v1h-1zM372 333h1v1h-1zM378 333h1v1h-1zM358 334h4v1h-4zM363 334h1v1h-1zM365 334h1v1h-1zM371 334h2v1h-2zM375 334h1v1h-1zM377 334h1v1h-1zM379 334h1v1h-1zM356 335h1v1h-1zM359 335h1v1h-1zM363 335h2v1h-2zM366 335h1v1h-1zM372 335h1v1h-1zM375 335h1v1h-1zM351 336h2v1h-2zM354 336h1v1h-1zM357 336h1v1h-1zM363 336h1v1h-1zM368 336h1v1h-1zM373 336h1v1h-1zM379 336h1v1h-1zM354 337h1v1h-1zM362 337h1v1h-1zM366 337h2v1h-2zM370 337h2v1h-2zM353 338h2v1h-2zM359 338h1v1h-1zM361 338h1v1h-1zM366 338h4v1h-4zM374 338h1v1h-1zM376 338h1v1h-1zM354 339h1v1h-1zM360 339h1v1h-1zM367 339h1v1h-1zM372 339h2v1h-2zM349 340h1v1h-1zM351 340h2v1h-2zM356 340h1v1h-1zM358 340h3v1h-3zM365 340h1v1h-1zM369 340h1v1h-1zM375 340h3v1h-3zM365 341h1v1h-1zM369 341h1v1h-1zM371 341h1v1h-1zM374 341h1v1h-1zM352 342h1v1h-1zM356 342h2v1h-2zM360 342h2v1h-2zM363 342h4v1h-4zM371 342h2v1h-2zM346 343h1v1h-1zM348 343h1v1h-1zM354 343h1v1h-1zM363 343h2v1h-2zM367 343h2v1h-2zM372 343h1v1h-1zM351 344h1v1h-1zM355 344h4v1h-4zM343 345h1v1h-1zM349 345h1v1h-1zM351 345h4v1h-4zM368 345h1v1h-1zM372 345h1v1h-1zM342 346h1v1h-1zM356 346h2v1h-2zM360 346h1v1h-1zM366 346h1v1h-1zM344 347h1v1h-1zM356 347h1v1h-1zM367 347h1v1h-1zM341 348h1v1h-1zM344 348h1v1h-1zM348 348h1v1h-1zM351 348h1v1h-1zM357 348h1v1h-1zM361 348h1v1h-1zM363 348h1v1h-1zM365 348h1v1h-1zM341 349h1v1h-1zM351 349h2v1h-2zM364 349h1v1h-1zM367 349h1v1h-1zM369 349h1v1h-1zM335 350h2v1h-2zM339 350h2v1h-2zM343 350h2v1h-2zM347 350h1v1h-1zM351 350h1v1h-1zM355 350h1v1h-1zM360 350h1v1h-1zM341 351h1v1h-1zM348 351h1v1h-1zM355 351h2v1h-2zM340 352h1v1h-1zM343 352h2v1h-2zM349 352h1v1h-1zM354 352h1v1h-1zM356 352h1v1h-1zM358 352h2v1h-2zM334 353h2v1h-2zM353 353h1v1h-1zM356 353h1v1h-1zM359 353h1v1h-1zM333 354h1v1h-1zM337 354h1v1h-1zM340 354h1v1h-1zM342 354h2v1h-2zM346 354h2v1h-2zM351 354h1v1h-1zM356 354h1v1h-1zM359 354h1v1h-1zM362 354h1v1h-1zM335 355h1v1h-1zM340 355h1v1h-1zM342 355h2v1h-2zM347 355h1v1h-1zM349 355h1v1h-1zM355 355h1v1h-1zM360 355h2v1h-2zM363 355h1v1h-1zM331 356h1v1h-1zM336 356h1v1h-1zM338 356h1v1h-1zM346 356h2v1h-2zM350 356h1v1h-1zM355 356h1v1h-1zM341 357h1v1h-1zM351 357h1v1h-1zM354 357h1v1h-1zM356 357h1v1h-1zM338 358h1v1h-1zM345 358h1v1h-1zM349 358h1v1h-1zM352 358h1v1h-1zM355 358h1v1h-1zM332 359h1v1h-1zM350 359h1v1h-1zM354 359h1v1h-1zM338 360h1v1h-1zM340 360h4v1h-4zM349 360h1v1h-1zM331 361h2v1h-2zM335 361h1v1h-1zM353 361h1v1h-1zM321 362h1v1h-1zM326 362h1v1h-1zM329 362h1v1h-1zM333 362h1v1h-1zM337 362h1v1h-1zM351 362h2v1h-2zM325 363h1v1h-1zM328 363h1v1h-1zM330 363h1v1h-1zM332 363h1v1h-1zM339 363h2v1h-2zM327 364h1v1h-1zM329 364h1v1h-1zM339 364h1v1h-1zM345 364h1v1h-1zM327 365h1v1h-1zM344 365h1v1h-1zM346 365h2v1h-2zM323 366h1v1h-1zM330 366h1v1h-1zM332 366h1v1h-1zM345 366h1v1h-1zM347 366h1v1h-1zM327 367h2v1h-2zM339 367h1v1h-1zM341 367h1v1h-1zM320 368h1v1h-1zM322 368h1v1h-1zM325 368h1v1h-1zM329 368h1v1h-1zM338 368h1v1h-1zM344 368h1v1h-1zM324 369h2v1h-2zM327 369h1v1h-1zM334 369h1v1h-1zM337 369h1v1h-1zM341 369h1v1h-1zM345 369h1v1h-1zM323 370h2v1h-2zM326 370h3v1h-3zM330 370h2v1h-2zM340 370h1v1h-1zM318 371h1v1h-1zM324 371h1v1h-1zM330 371h1v1h-1zM332 371h1v1h-1zM334 371h1v1h-1zM337 371h2v1h-2zM346 371h1v1h-1zM317 372h1v1h-1zM320 372h2v1h-2zM334 372h1v1h-1zM336 372h1v1h-1zM316 373h1v1h-1zM318 373h2v1h-2zM324 373h1v1h-1zM327 373h1v1h-1zM329 373h1v1h-1zM334 373h2v1h-2zM337 373h1v1h-1zM339 373h1v1h-1zM344 373h1v1h-1zM320 374h3v1h-3zM335 374h2v1h-2zM340 374h2v1h-2zM323 375h1v1h-1zM326 375h1v1h-1zM336 375h2v1h-2zM324 376h1v1h-1zM326 376h1v1h-1zM328 376h1v1h-1zM338 376h1v1h-1zM340 376h1v1h-1zM310 377h2v1h-2zM314 377h1v1h-1zM316 377h1v1h-1zM323 377h4v1h-4zM328 377h1v1h-1zM337 377h1v1h-1zM312 378h1v1h-1zM314 378h1v1h-1zM322 378h1v1h-1zM331 378h1v1h-1zM312 379h4v1h-4zM317 379h1v1h-1zM319 379h4v1h-4zM324 379h2v1h-2zM328 379h2v1h-2zM331 379h1v1h-1zM306 380h1v1h-1zM308 380h2v1h-2zM315 380h1v1h-1zM331 380h1v1h-1zM306 381h1v1h-1zM317 381h1v1h-1zM326 381h1v1h-1zM333 381h1v1h-1zM306 382h1v1h-1zM308 382h2v1h-2zM318 382h1v1h-1zM321 382h1v1h-1zM332 382h1v1h-1zM308 383h3v1h-3zM326 383h1v1h-1zM306 384h1v1h-1zM308 384h2v1h-2zM313 384h1v1h-1zM317 384h1v1h-1zM326 384h1v1h-1zM307 385h1v1h-1zM312 385h1v1h-1zM319 385h1v1h-1zM305 386h1v1h-1zM309 386h1v1h-1zM322 386h2v1h-2zM306 387h1v1h-1zM308 387h1v1h-1zM310 387h2v1h-2zM317 387h1v1h-1zM319 387h1v1h-1zM321 387h2v1h-2zM324 387h1v1h-1zM311 388h1v1h-1zM313 388h1v1h-1zM319 388h1v1h-1zM321 388h1v1h-1zM307 389h1v1h-1zM311 389h1v1h-1zM315 389h1v1h-1zM317 389h1v1h-1zM305 390h2v1h-2zM311 390h1v1h-1zM317 390h1v1h-1zM322 390h1v1h-1zM298 391h1v1h-1zM301 391h1v1h-1zM303 391h1v1h-1zM320 391h1v1h-1zM300 392h2v1h-2zM307 392h1v1h-1zM319 392h2v1h-2zM323 392h1v1h-1zM295 393h1v1h-1zM299 393h2v1h-2zM312 393h1v1h-1zM315 393h2v1h-2zM319 393h2v1h-2zM295 394h1v1h-1zM309 394h1v1h-1zM296 395h1v1h-1zM299 395h2v1h-2zM302 395h1v1h-1zM311 395h1v1h-1zM318 395h1v1h-1zM293 396h2v1h-2zM297 396h1v1h-1zM301 396h3v1h-3zM310 396h1v1h-1zM298 397h2v1h-2zM301 397h2v1h-2zM306 397h1v1h-1zM311 397h1v1h-1zM292 398h1v1h-1zM298 398h1v1h-1zM307 398h1v1h-1zM291 399h1v1h-1zM294 399h2v1h-2zM297 399h1v1h-1zM299 399h1v1h-1zM307 399h1v1h-1zM309 399h1v1h-1zM294 400h1v1h-1zM297 400h1v1h-1zM300 400h1v1h-1zM302 400h1v1h-1zM289 401h1v1h-1zM293 401h1v1h-1zM304 401h1v1h-1zM306 401h1v1h-1zM308 401h2v1h-2zM290 402h2v1h-2zM296 402h1v1h-1zM301 402h1v1h-1zM304 402h2v1h-2zM307 402h1v1h-1zM289 403h1v1h-1zM294 403h1v1h-1zM296 403h1v1h-1zM298 403h1v1h-1zM289 404h1v1h-1zM293 404h1v1h-1zM296 404h1v1h-1zM305 404h2v1h-2zM292 405h1v1h-1zM297 405h1v1h-1zM301 405h1v1h-1zM284 406h1v1h-1zM284 407h3v1h-3zM291 407h1v1h-1zM294 407h1v1h-1zM292 408h1v1h-1zM294 408h2v1h-2zM285 409h1v1h-1zM290 409h1v1h-1zM295 409h1v1h-1zM285 410h2v1h-2zM292 410h1v1h-1zM283 411h1v1h-1zM287 411h1v1h-1zM296 411h1v1h-1zM285 412h3v1h-3zM296 412h1v1h-1zM283 413h1v1h-1zM289 413h1v1h-1zM292 413h1v1h-1zM295 413h1v1h-1zM284 414h1v1h-1zM289 414h2v1h-2zM285 415h1v1h-1zM288 415h1v1h-1z"/><path fill="#d0d0d0" d="M429 274h1v1h-1zM431 274h1v1h-1zM426 275h2v1h-2zM429 275h1v1h-1zM431 275h1v1h-1zM422 276h1v1h-1zM424 276h1v1h-1zM426 276h1v1h-1zM430 276h1v1h-1zM424 277h2v1h-2zM427 277h2v1h-2zM430 277h3v1h-3zM417 278h1v1h-1zM420 278h1v1h-1zM428 278h1v1h-1zM430 278h2v1h-2zM417 279h3v1h-3zM421 279h1v1h-1zM424 279h2v1h-2zM428 279h3v1h-3zM414 280h1v1h-1zM419 280h1v1h-1zM422 280h1v1h-1zM424 280h1v1h-1zM426 280h1v1h-1zM429 280h2v1h-2zM414 281h1v1h-1zM417 281h2v1h-2zM420 281h1v1h-1zM424 281h4v1h-4zM429 281h1v1h-1zM431 281h1v1h-1zM417 282h3v1h-3zM421 282h3v1h-3zM425 282h3v1h-3zM429 282h1v1h-1zM412 283h1v1h-1zM415 283h1v1h-1zM419 283h2v1h-2zM426 283h1v1h-1zM428 283h2v1h-2zM411 284h1v1h-1zM413 284h1v1h-1zM415 284h1v1h-1zM419 284h1v1h-1zM423 284h2v1h-2zM426 284h3v1h-3zM410 285h1v1h-1zM413 285h2v1h-2zM417 285h1v1h-1zM423 285h1v1h-1zM425 285h1v1h-1zM427 285h2v1h-2zM410 286h2v1h-2zM416 286h1v1h-1zM423 286h1v1h-1zM426 286h1v1h-1zM405 287h1v1h-1zM407 287h1v1h-1zM409 287h3v1h-3zM413 287h2v1h-2zM417 287h1v1h-1zM419 287h2v1h-2zM425 287h1v1h-1zM427 287h1v1h-1zM407 288h1v1h-1zM412 288h1v1h-1zM416 288h1v1h-1zM421 288h1v1h-1zM427 288h1v1h-1zM404 289h1v1h-1zM407 289h1v1h-1zM410 289h1v1h-1zM416 289h1v1h-1zM419 289h1v1h-1zM422 289h2v1h-2zM425 289h1v1h-1zM401 290h2v1h-2zM406 290h1v1h-1zM408 290h2v1h-2zM414 290h1v1h-1zM417 290h1v1h-1zM419 290h1v1h-1zM422 290h1v1h-1zM424 290h1v1h-1zM403 291h2v1h-2zM411 291h1v1h-1zM421 291h1v1h-1zM424 291h1v1h-1zM399 292h1v1h-1zM407 292h2v1h-2zM410 292h1v1h-1zM414 292h1v1h-1zM417 292h1v1h-1zM419 292h3v1h-3zM423 292h1v1h-1zM399 293h3v1h-3zM403 293h1v1h-1zM406 293h2v1h-2zM411 293h1v1h-1zM414 293h2v1h-2zM419 293h1v1h-1zM396 294h3v1h-3zM400 294h2v1h-2zM404 294h4v1h-4zM411 294h1v1h-1zM415 294h1v1h-1zM421 294h1v1h-1zM395 295h1v1h-1zM399 295h1v1h-1zM402 295h1v1h-1zM404 295h2v1h-2zM407 295h1v1h-1zM413 295h2v1h-2zM419 295h1v1h-1zM421 295h1v1h-1zM397 296h2v1h-2zM401 296h2v1h-2zM404 296h1v1h-1zM406 296h2v1h-2zM412 296h2v1h-2zM415 296h3v1h-3zM403 297h1v1h-1zM405 297h1v1h-1zM408 297h4v1h-4zM414 297h1v1h-1zM416 297h3v1h-3zM422 297h1v1h-1zM396 298h1v1h-1zM400 298h1v1h-1zM403 298h1v1h-1zM406 298h1v1h-1zM414 298h1v1h-1zM389 299h1v1h-1zM396 299h1v1h-1zM398 299h1v1h-1zM400 299h1v1h-1zM404 299h1v1h-1zM409 299h1v1h-1zM411 299h4v1h-4zM417 299h1v1h-1zM419 299h1v1h-1zM390 300h1v1h-1zM392 300h1v1h-1zM395 300h1v1h-1zM397 300h2v1h-2zM400 300h1v1h-1zM402 300h4v1h-4zM408 300h1v1h-1zM412 300h2v1h-2zM415 300h2v1h-2zM418 300h2v1h-2zM390 301h2v1h-2zM397 301h1v1h-1zM404 301h1v1h-1zM408 301h2v1h-2zM412 301h1v1h-1zM417 301h1v1h-1zM392 302h2v1h-2zM396 302h2v1h-2zM402 302h1v1h-1zM405 302h1v1h-1zM411 302h3v1h-3zM418 302h1v1h-1zM389 303h8v1h-8zM402 303h3v1h-3zM406 303h1v1h-1zM410 303h1v1h-1zM414 303h1v1h-1zM388 304h1v1h-1zM393 304h1v1h-1zM395 304h4v1h-4zM401 304h1v1h-1zM403 304h1v1h-1zM406 304h1v1h-1zM408 304h5v1h-5zM386 305h1v1h-1zM388 305h3v1h-3zM392 305h1v1h-1zM397 305h2v1h-2zM400 305h1v1h-1zM402 305h3v1h-3zM409 305h2v1h-2zM386 306h1v1h-1zM391 306h3v1h-3zM397 306h1v1h-1zM399 306h3v1h-3zM403 306h1v1h-1zM405 306h1v1h-1zM413 306h1v1h-1zM392 307h3v1h-3zM397 307h2v1h-2zM403 307h1v1h-1zM406 307h2v1h-2zM387 308h2v1h-2zM394 308h2v1h-2zM399 308h3v1h-3zM403 308h3v1h-3zM407 308h4v1h-4zM385 309h1v1h-1zM388 309h2v1h-2zM391 309h1v1h-1zM395 309h2v1h-2zM398 309h2v1h-2zM402 309h2v1h-2zM377 310h1v1h-1zM383 310h1v1h-1zM385 310h1v1h-1zM387 310h1v1h-1zM389 310h2v1h-2zM392 310h2v1h-2zM397 310h3v1h-3zM403 310h3v1h-3zM407 310h2v1h-2zM380 311h1v1h-1zM382 311h3v1h-3zM392 311h2v1h-2zM395 311h2v1h-2zM399 311h4v1h-4zM407 311h1v1h-1zM385 312h1v1h-1zM391 312h3v1h-3zM395 312h1v1h-1zM398 312h2v1h-2zM405 312h1v1h-1zM378 313h1v1h-1zM380 313h4v1h-4zM385 313h1v1h-1zM392 313h1v1h-1zM394 313h1v1h-1zM399 313h1v1h-1zM401 313h2v1h-2zM404 313h1v1h-1zM387 314h1v1h-1zM399 314h2v1h-2zM406 314h1v1h-1zM376 315h3v1h-3zM381 315h4v1h-4zM386 315h3v1h-3zM390 315h1v1h-1zM393 315h4v1h-4zM400 315h1v1h-1zM402 315h1v1h-1zM374 316h1v1h-1zM379 316h3v1h-3zM387 316h3v1h-3zM397 316h1v1h-1zM399 316h2v1h-2zM373 317h1v1h-1zM376 317h1v1h-1zM381 317h1v1h-1zM385 317h3v1h-3zM390 317h3v1h-3zM397 317h1v1h-1zM402 317h1v1h-1zM372 318h1v1h-1zM374 318h4v1h-4zM380 318h2v1h-2zM383 318h1v1h-1zM385 318h2v1h-2zM390 318h1v1h-1zM392 318h2v1h-2zM370 319h1v1h-1zM374 319h1v1h-1zM379 319h1v1h-1zM381 319h1v1h-1zM383 319h4v1h-4zM394 319h1v1h-1zM396 319h1v1h-1zM370 320h2v1h-2zM374 320h1v1h-1zM379 320h1v1h-1zM383 320h2v1h-2zM388 320h2v1h-2zM395 320h1v1h-1zM370 321h2v1h-2zM375 321h1v1h-1zM379 321h3v1h-3zM384 321h1v1h-1zM387 321h3v1h-3zM391 321h1v1h-1zM373 322h1v1h-1zM377 322h1v1h-1zM381 322h1v1h-1zM389 322h1v1h-1zM367 323h1v1h-1zM371 323h3v1h-3zM375 323h1v1h-1zM378 323h4v1h-4zM383 323h3v1h-3zM388 323h1v1h-1zM390 323h1v1h-1zM393 323h1v1h-1zM366 324h2v1h-2zM369 324h1v1h-1zM376 324h1v1h-1zM385 324h2v1h-2zM394 324h1v1h-1zM364 325h3v1h-3zM370 325h1v1h-1zM372 325h2v1h-2zM376 325h1v1h-1zM379 325h1v1h-1zM387 325h1v1h-1zM389 325h1v1h-1zM391 325h1v1h-1zM366 326h2v1h-2zM370 326h2v1h-2zM374 326h1v1h-1zM377 326h1v1h-1zM381 326h5v1h-5zM363 327h2v1h-2zM367 327h1v1h-1zM372 327h1v1h-1zM381 327h1v1h-1zM360 328h2v1h-2zM363 328h1v1h-1zM366 328h3v1h-3zM370 328h1v1h-1zM376 328h1v1h-1zM380 328h1v1h-1zM384 328h1v1h-1zM386 328h1v1h-1zM388 328h1v1h-1zM364 329h2v1h-2zM370 329h1v1h-1zM373 329h4v1h-4zM378 329h1v1h-1zM382 329h2v1h-2zM385 329h1v1h-1zM390 329h1v1h-1zM360 330h2v1h-2zM364 330h3v1h-3zM369 330h4v1h-4zM374 330h1v1h-1zM378 330h2v1h-2zM382 330h2v1h-2zM387 330h1v1h-1zM365 331h1v1h-1zM367 331h1v1h-1zM369 331h1v1h-1zM371 331h3v1h-3zM375 331h3v1h-3zM379 331h1v1h-1zM381 331h2v1h-2zM384 331h1v1h-1zM386 331h1v1h-1zM359 332h1v1h-1zM361 332h2v1h-2zM364 332h2v1h-2zM368 332h2v1h-2zM371 332h1v1h-1zM387 332h1v1h-1zM358 333h1v1h-1zM360 333h3v1h-3zM366 333h2v1h-2zM369 333h1v1h-1zM374 333h1v1h-1zM377 333h1v1h-1zM357 334h1v1h-1zM366 334h1v1h-1zM368 334h3v1h-3zM373 334h1v1h-1zM381 334h1v1h-1zM355 335h1v1h-1zM357 335h2v1h-2zM360 335h3v1h-3zM365 335h1v1h-1zM367 335h1v1h-1zM369 335h2v1h-2zM374 335h1v1h-1zM376 335h1v1h-1zM378 335h3v1h-3zM353 336h1v1h-1zM355 336h2v1h-2zM358 336h2v1h-2zM365 336h2v1h-2zM369 336h2v1h-2zM372 336h1v1h-1zM374 336h4v1h-4zM381 336h1v1h-1zM350 337h2v1h-2zM356 337h6v1h-6zM365 337h1v1h-1zM369 337h1v1h-1zM372 337h1v1h-1zM376 337h4v1h-4zM382 337h1v1h-1zM348 338h1v1h-1zM355 338h4v1h-4zM362 338h1v1h-1zM364 338h1v1h-1zM371 338h2v1h-2zM377 338h2v1h-2zM349 339h1v1h-1zM351 339h2v1h-2zM355 339h1v1h-1zM358 339h2v1h-2zM361 339h3v1h-3zM365 339h2v1h-2zM368 339h4v1h-4zM374 339h1v1h-1zM376 339h1v1h-1zM378 339h2v1h-2zM347 340h1v1h-1zM353 340h2v1h-2zM357 340h1v1h-1zM364 340h1v1h-1zM366 340h1v1h-1zM368 340h1v1h-1zM370 340h1v1h-1zM372 340h1v1h-1zM374 340h1v1h-1zM378 340h1v1h-1zM350 341h2v1h-2zM353 341h2v1h-2zM356 341h3v1h-3zM361 341h1v1h-1zM363 341h1v1h-1zM367 341h2v1h-2zM370 341h1v1h-1zM348 342h1v1h-1zM351 342h1v1h-1zM353 342h1v1h-1zM358 342h2v1h-2zM368 342h1v1h-1zM370 342h1v1h-1zM344 343h2v1h-2zM349 343h1v1h-1zM351 343h2v1h-2zM359 343h1v1h-1zM362 343h1v1h-1zM365 343h2v1h-2zM344 344h4v1h-4zM350 344h1v1h-1zM352 344h1v1h-1zM361 344h1v1h-1zM363 344h2v1h-2zM366 344h1v1h-1zM369 344h1v1h-1zM371 344h1v1h-1zM374 344h1v1h-1zM347 345h1v1h-1zM350 345h1v1h-1zM355 345h4v1h-4zM360 345h1v1h-1zM362 345h4v1h-4zM369 345h1v1h-1zM344 346h2v1h-2zM352 346h1v1h-1zM354 346h2v1h-2zM358 346h1v1h-1zM362 346h1v1h-1zM364 346h2v1h-2zM342 347h2v1h-2zM345 347h1v1h-1zM347 347h1v1h-1zM349 347h1v1h-1zM351 347h1v1h-1zM353 347h2v1h-2zM357 347h1v1h-1zM360 347h2v1h-2zM363 347h3v1h-3zM342 348h1v1h-1zM345 348h2v1h-2zM349 348h2v1h-2zM352 348h4v1h-4zM358 348h1v1h-1zM360 348h1v1h-1zM362 348h1v1h-1zM368 348h1v1h-1zM337 349h1v1h-1zM340 349h1v1h-1zM346 349h5v1h-5zM354 349h1v1h-1zM359 349h2v1h-2zM337 350h2v1h-2zM341 350h2v1h-2zM345 350h1v1h-1zM348 350h1v1h-1zM350 350h1v1h-1zM353 350h2v1h-2zM361 350h1v1h-1zM365 350h1v1h-1zM336 351h1v1h-1zM338 351h3v1h-3zM342 351h1v1h-1zM344 351h1v1h-1zM346 351h2v1h-2zM349 351h2v1h-2zM354 351h1v1h-1zM358 351h1v1h-1zM360 351h1v1h-1zM362 351h4v1h-4zM338 352h1v1h-1zM342 352h1v1h-1zM345 352h3v1h-3zM350 352h1v1h-1zM352 352h1v1h-1zM355 352h1v1h-1zM360 352h1v1h-1zM362 352h1v1h-1zM336 353h1v1h-1zM338 353h2v1h-2zM341 353h3v1h-3zM346 353h2v1h-2zM349 353h1v1h-1zM351 353h2v1h-2zM354 353h1v1h-1zM360 353h1v1h-1zM363 353h1v1h-1zM335 354h2v1h-2zM338 354h1v1h-1zM341 354h1v1h-1zM345 354h1v1h-1zM348 354h1v1h-1zM355 354h1v1h-1zM357 354h1v1h-1zM361 354h1v1h-1zM363 354h2v1h-2zM337 355h3v1h-3zM341 355h1v1h-1zM344 355h1v1h-1zM346 355h1v1h-1zM348 355h1v1h-1zM352 355h3v1h-3zM358 355h2v1h-2zM335 356h1v1h-1zM340 356h5v1h-5zM352 356h3v1h-3zM357 356h1v1h-1zM331 357h1v1h-1zM335 357h4v1h-4zM340 357h1v1h-1zM343 357h3v1h-3zM347 357h2v1h-2zM352 357h1v1h-1zM355 357h1v1h-1zM357 357h1v1h-1zM359 357h1v1h-1zM332 358h1v1h-1zM334 358h3v1h-3zM339 358h2v1h-2zM343 358h1v1h-1zM350 358h2v1h-2zM353 358h2v1h-2zM356 358h2v1h-2zM330 359h1v1h-1zM333 359h1v1h-1zM336 359h5v1h-5zM342 359h2v1h-2zM346 359h3v1h-3zM355 359h1v1h-1zM329 360h3v1h-3zM333 360h2v1h-2zM344 360h2v1h-2zM352 360h2v1h-2zM357 360h1v1h-1zM326 361h5v1h-5zM338 361h3v1h-3zM343 361h1v1h-1zM345 361h1v1h-1zM347 361h2v1h-2zM350 361h3v1h-3zM323 362h1v1h-1zM325 362h1v1h-1zM327 362h1v1h-1zM332 362h1v1h-1zM334 362h2v1h-2zM339 362h5v1h-5zM345 362h6v1h-6zM326 363h1v1h-1zM329 363h1v1h-1zM333 363h1v1h-1zM335 363h3v1h-3zM341 363h4v1h-4zM347 363h2v1h-2zM325 364h2v1h-2zM330 364h2v1h-2zM333 364h4v1h-4zM338 364h1v1h-1zM340 364h5v1h-5zM347 364h1v1h-1zM350 364h1v1h-1zM325 365h2v1h-2zM328 365h4v1h-4zM333 365h3v1h-3zM338 365h6v1h-6zM324 366h5v1h-5zM335 366h2v1h-2zM339 366h1v1h-1zM344 366h1v1h-1zM317 367h1v1h-1zM321 367h2v1h-2zM324 367h3v1h-3zM329 367h1v1h-1zM331 367h1v1h-1zM333 367h2v1h-2zM336 367h3v1h-3zM340 367h1v1h-1zM342 367h2v1h-2zM346 367h1v1h-1zM348 367h1v1h-1zM321 368h1v1h-1zM327 368h2v1h-2zM330 368h1v1h-1zM333 368h1v1h-1zM335 368h1v1h-1zM339 368h2v1h-2zM317 369h1v1h-1zM321 369h2v1h-2zM326 369h1v1h-1zM328 369h2v1h-2zM331 369h2v1h-2zM335 369h1v1h-1zM339 369h1v1h-1zM342 369h1v1h-1zM344 369h1v1h-1zM346 369h1v1h-1zM318 370h1v1h-1zM321 370h2v1h-2zM329 370h1v1h-1zM334 370h3v1h-3zM339 370h1v1h-1zM342 370h1v1h-1zM315 371h1v1h-1zM319 371h1v1h-1zM323 371h1v1h-1zM327 371h2v1h-2zM333 371h1v1h-1zM335 371h2v1h-2zM341 371h3v1h-3zM318 372h2v1h-2zM323 372h1v1h-1zM326 372h1v1h-1zM332 372h1v1h-1zM335 372h1v1h-1zM337 372h2v1h-2zM340 372h1v1h-1zM342 372h2v1h-2zM314 373h2v1h-2zM317 373h1v1h-1zM320 373h1v1h-1zM325 373h2v1h-2zM330 373h3v1h-3zM336 373h1v1h-1zM338 373h1v1h-1zM315 374h4v1h-4zM323 374h2v1h-2zM327 374h2v1h-2zM330 374h1v1h-1zM332 374h2v1h-2zM337 374h2v1h-2zM314 375h1v1h-1zM318 375h1v1h-1zM320 375h3v1h-3zM324 375h1v1h-1zM327 375h1v1h-1zM334 375h1v1h-1zM312 376h2v1h-2zM315 376h1v1h-1zM317 376h3v1h-3zM321 376h2v1h-2zM325 376h1v1h-1zM334 376h2v1h-2zM337 376h1v1h-1zM313 377h1v1h-1zM322 377h1v1h-1zM331 377h3v1h-3zM335 377h1v1h-1zM309 378h1v1h-1zM313 378h1v1h-1zM315 378h2v1h-2zM318 378h4v1h-4zM324 378h1v1h-1zM326 378h5v1h-5zM332 378h1v1h-1zM310 379h2v1h-2zM316 379h1v1h-1zM323 379h1v1h-1zM330 379h1v1h-1zM332 379h1v1h-1zM334 379h1v1h-1zM310 380h1v1h-1zM313 380h2v1h-2zM318 380h1v1h-1zM320 380h2v1h-2zM323 380h2v1h-2zM327 380h4v1h-4zM332 380h1v1h-1zM305 381h1v1h-1zM307 381h3v1h-3zM313 381h1v1h-1zM315 381h2v1h-2zM318 381h1v1h-1zM320 381h1v1h-1zM322 381h3v1h-3zM328 381h1v1h-1zM331 381h2v1h-2zM304 382h1v1h-1zM307 382h1v1h-1zM310 382h1v1h-1zM312 382h1v1h-1zM320 382h1v1h-1zM322 382h2v1h-2zM325 382h5v1h-5zM304 383h1v1h-1zM307 383h1v1h-1zM312 383h1v1h-1zM316 383h5v1h-5zM324 383h1v1h-1zM327 383h2v1h-2zM331 383h2v1h-2zM304 384h1v1h-1zM307 384h1v1h-1zM312 384h1v1h-1zM318 384h1v1h-1zM320 384h1v1h-1zM324 384h1v1h-1zM328 384h1v1h-1zM302 385h1v1h-1zM308 385h1v1h-1zM311 385h1v1h-1zM314 385h4v1h-4zM321 385h2v1h-2zM324 385h3v1h-3zM329 385h1v1h-1zM306 386h2v1h-2zM312 386h2v1h-2zM317 386h3v1h-3zM324 386h1v1h-1zM326 386h2v1h-2zM300 387h1v1h-1zM303 387h3v1h-3zM307 387h1v1h-1zM309 387h1v1h-1zM312 387h1v1h-1zM316 387h1v1h-1zM318 387h1v1h-1zM320 387h1v1h-1zM323 387h1v1h-1zM302 388h9v1h-9zM312 388h1v1h-1zM314 388h4v1h-4zM322 388h1v1h-1zM324 388h2v1h-2zM300 389h1v1h-1zM302 389h2v1h-2zM308 389h3v1h-3zM313 389h1v1h-1zM319 389h4v1h-4zM330 389h1v1h-1zM293 390h1v1h-1zM297 390h1v1h-1zM301 390h4v1h-4zM308 390h1v1h-1zM312 390h3v1h-3zM316 390h1v1h-1zM319 390h2v1h-2zM296 391h1v1h-1zM300 391h1v1h-1zM306 391h2v1h-2zM311 391h5v1h-5zM317 391h1v1h-1zM319 391h1v1h-1zM321 391h1v1h-1zM297 392h1v1h-1zM303 392h4v1h-4zM309 392h1v1h-1zM311 392h1v1h-1zM313 392h2v1h-2zM316 392h3v1h-3zM294 393h1v1h-1zM296 393h3v1h-3zM301 393h2v1h-2zM306 393h1v1h-1zM308 393h1v1h-1zM310 393h1v1h-1zM314 393h1v1h-1zM317 393h1v1h-1zM293 394h1v1h-1zM299 394h1v1h-1zM301 394h1v1h-1zM303 394h1v1h-1zM307 394h1v1h-1zM311 394h5v1h-5zM293 395h2v1h-2zM301 395h1v1h-1zM305 395h1v1h-1zM308 395h2v1h-2zM312 395h1v1h-1zM314 395h1v1h-1zM290 396h1v1h-1zM299 396h2v1h-2zM304 396h4v1h-4zM311 396h6v1h-6zM294 397h1v1h-1zM303 397h3v1h-3zM307 397h4v1h-4zM312 397h2v1h-2zM294 398h4v1h-4zM299 398h1v1h-1zM303 398h1v1h-1zM305 398h2v1h-2zM312 398h1v1h-1zM292 399h2v1h-2zM300 399h2v1h-2zM303 399h2v1h-2zM306 399h1v1h-1zM310 399h1v1h-1zM312 399h1v1h-1zM292 400h1v1h-1zM295 400h1v1h-1zM301 400h1v1h-1zM303 400h1v1h-1zM307 400h1v1h-1zM310 400h1v1h-1zM292 401h1v1h-1zM296 401h1v1h-1zM298 401h3v1h-3zM302 401h2v1h-2zM305 401h1v1h-1zM292 402h1v1h-1zM295 402h1v1h-1zM297 402h2v1h-2zM306 402h1v1h-1zM290 403h3v1h-3zM297 403h1v1h-1zM300 403h3v1h-3zM305 403h1v1h-1zM288 404h1v1h-1zM291 404h2v1h-2zM298 404h4v1h-4zM304 404h1v1h-1zM285 405h1v1h-1zM289 405h2v1h-2zM294 405h1v1h-1zM296 405h1v1h-1zM298 405h1v1h-1zM300 405h1v1h-1zM302 405h2v1h-2zM306 405h1v1h-1zM285 406h2v1h-2zM289 406h2v1h-2zM293 406h1v1h-1zM295 406h2v1h-2zM303 406h1v1h-1zM289 407h2v1h-2zM296 407h4v1h-4zM301 407h1v1h-1zM304 407h1v1h-1zM285 408h2v1h-2zM288 408h1v1h-1zM290 408h1v1h-1zM293 408h1v1h-1zM296 408h1v1h-1zM298 408h1v1h-1zM300 408h1v1h-1zM304 408h1v1h-1zM284 409h1v1h-1zM287 409h2v1h-2zM291 409h1v1h-1zM297 409h2v1h-2zM284 410h1v1h-1zM289 410h2v1h-2zM293 410h1v1h-1zM285 411h2v1h-2zM289 411h1v1h-1zM291 411h2v1h-2zM294 411h1v1h-1zM284 412h1v1h-1zM288 412h1v1h-1zM293 412h1v1h-1zM285 413h1v1h-1zM287 413h2v1h-2zM290 413h2v1h-2zM286 414h3v1h-3zM291 414h1v1h-1zM284 415h1v1h-1zM286 415h2v1h-2z"/><path fill="#c8c8d0" d="M430 274h1v1h-1zM428 275h1v1h-1zM425 276h1v1h-1zM428 276h1v1h-1zM423 277h1v1h-1zM426 277h1v1h-1zM418 278h1v1h-1zM421 278h1v1h-1zM423 278h2v1h-2zM427 280h2v1h-2zM424 282h1v1h-1zM425 283h1v1h-1zM415 285h1v1h-1zM421 285h1v1h-1zM412 286h1v1h-1zM415 286h1v1h-1zM417 286h2v1h-2zM422 287h1v1h-1zM428 287h1v1h-1zM406 288h1v1h-1zM417 288h2v1h-2zM409 289h1v1h-1zM415 289h1v1h-1zM420 289h1v1h-1zM424 289h1v1h-1zM416 290h1v1h-1zM423 291h1v1h-1zM401 292h2v1h-2zM412 294h1v1h-1zM417 294h2v1h-2zM420 294h1v1h-1zM410 296h1v1h-1zM402 298h1v1h-1zM408 298h1v1h-1zM411 298h1v1h-1zM393 299h1v1h-1zM402 299h1v1h-1zM406 299h1v1h-1zM416 299h1v1h-1zM391 300h1v1h-1zM393 300h1v1h-1zM414 300h1v1h-1zM390 302h1v1h-1zM409 302h2v1h-2zM397 303h1v1h-1zM399 303h1v1h-1zM412 303h1v1h-1zM402 304h1v1h-1zM394 306h1v1h-1zM409 306h1v1h-1zM388 307h1v1h-1zM402 308h1v1h-1zM401 309h1v1h-1zM410 309h1v1h-1zM380 310h1v1h-1zM382 310h1v1h-1zM387 311h1v1h-1zM386 312h1v1h-1zM388 312h1v1h-1zM384 313h1v1h-1zM391 313h1v1h-1zM397 313h1v1h-1zM403 313h1v1h-1zM405 313h2v1h-2zM377 314h2v1h-2zM381 314h1v1h-1zM390 314h1v1h-1zM393 314h1v1h-1zM401 314h1v1h-1zM392 315h1v1h-1zM383 316h1v1h-1zM398 316h1v1h-1zM389 317h1v1h-1zM393 317h2v1h-2zM388 318h1v1h-1zM372 319h1v1h-1zM382 319h1v1h-1zM391 319h1v1h-1zM393 319h1v1h-1zM369 320h1v1h-1zM373 320h1v1h-1zM397 320h1v1h-1zM368 321h1v1h-1zM377 321h1v1h-1zM392 321h2v1h-2zM368 322h1v1h-1zM370 322h1v1h-1zM386 322h1v1h-1zM390 322h1v1h-1zM376 323h1v1h-1zM379 324h1v1h-1zM381 324h2v1h-2zM393 324h1v1h-1zM367 325h1v1h-1zM370 327h1v1h-1zM374 327h1v1h-1zM378 327h1v1h-1zM383 327h1v1h-1zM369 328h1v1h-1zM371 328h1v1h-1zM374 328h1v1h-1zM360 329h1v1h-1zM362 329h1v1h-1zM368 329h1v1h-1zM381 329h1v1h-1zM384 329h1v1h-1zM368 330h1v1h-1zM381 330h1v1h-1zM367 332h1v1h-1zM365 333h1v1h-1zM355 334h1v1h-1zM364 334h1v1h-1zM368 335h1v1h-1zM373 335h1v1h-1zM361 336h1v1h-1zM364 336h1v1h-1zM371 336h1v1h-1zM353 337h1v1h-1zM360 338h1v1h-1zM363 338h1v1h-1zM365 338h1v1h-1zM373 338h1v1h-1zM375 339h1v1h-1zM361 340h1v1h-1zM349 341h1v1h-1zM362 341h1v1h-1zM364 341h1v1h-1zM373 341h1v1h-1zM347 342h1v1h-1zM349 342h1v1h-1zM367 342h1v1h-1zM355 343h1v1h-1zM360 344h1v1h-1zM373 344h1v1h-1zM344 345h1v1h-1zM346 346h1v1h-1zM348 346h1v1h-1zM353 346h1v1h-1zM361 346h1v1h-1zM363 346h1v1h-1zM367 346h1v1h-1zM339 347h1v1h-1zM352 347h1v1h-1zM343 348h1v1h-1zM347 348h1v1h-1zM359 348h1v1h-1zM342 349h1v1h-1zM353 349h1v1h-1zM355 349h1v1h-1zM363 349h1v1h-1zM349 350h1v1h-1zM356 350h1v1h-1zM358 350h1v1h-1zM363 350h1v1h-1zM351 351h2v1h-2zM357 352h1v1h-1zM353 354h1v1h-1zM360 354h1v1h-1zM336 355h1v1h-1zM351 355h1v1h-1zM342 357h1v1h-1zM346 357h1v1h-1zM350 357h1v1h-1zM331 358h1v1h-1zM337 358h1v1h-1zM347 358h1v1h-1zM334 359h1v1h-1zM358 359h1v1h-1zM332 360h1v1h-1zM335 360h1v1h-1zM337 360h1v1h-1zM339 360h1v1h-1zM350 360h1v1h-1zM328 362h1v1h-1zM330 362h1v1h-1zM354 362h1v1h-1zM334 363h1v1h-1zM338 363h1v1h-1zM350 365h1v1h-1zM337 366h1v1h-1zM349 366h1v1h-1zM335 367h1v1h-1zM337 368h1v1h-1zM341 368h1v1h-1zM345 368h1v1h-1zM330 369h1v1h-1zM338 369h1v1h-1zM340 369h1v1h-1zM319 370h1v1h-1zM325 370h1v1h-1zM337 370h1v1h-1zM341 370h1v1h-1zM317 371h1v1h-1zM340 371h1v1h-1zM322 372h1v1h-1zM324 372h2v1h-2zM330 372h1v1h-1zM321 373h1v1h-1zM328 373h1v1h-1zM319 374h1v1h-1zM329 374h1v1h-1zM313 375h1v1h-1zM331 375h2v1h-2zM320 376h1v1h-1zM323 376h1v1h-1zM332 376h1v1h-1zM336 376h1v1h-1zM312 377h1v1h-1zM321 377h1v1h-1zM336 377h1v1h-1zM338 377h1v1h-1zM325 378h1v1h-1zM326 379h1v1h-1zM312 380h1v1h-1zM310 381h1v1h-1zM312 381h1v1h-1zM327 381h1v1h-1zM311 382h1v1h-1zM316 382h1v1h-1zM305 383h1v1h-1zM314 383h1v1h-1zM310 384h2v1h-2zM314 384h1v1h-1zM322 384h1v1h-1zM325 384h1v1h-1zM330 384h1v1h-1zM303 385h1v1h-1zM318 385h1v1h-1zM323 385h1v1h-1zM321 386h1v1h-1zM301 387h1v1h-1zM313 387h2v1h-2zM323 388h1v1h-1zM314 389h1v1h-1zM325 389h1v1h-1zM309 390h1v1h-1zM316 391h1v1h-1zM318 391h1v1h-1zM302 392h1v1h-1zM308 392h1v1h-1zM310 392h1v1h-1zM296 394h1v1h-1zM303 395h2v1h-2zM307 395h1v1h-1zM313 395h1v1h-1zM295 396h1v1h-1zM309 396h1v1h-1zM300 397h1v1h-1zM300 398h1v1h-1zM289 399h1v1h-1zM296 399h1v1h-1zM291 400h1v1h-1zM293 400h1v1h-1zM306 400h1v1h-1zM295 403h1v1h-1zM299 403h1v1h-1zM310 403h1v1h-1zM294 404h1v1h-1zM288 405h1v1h-1zM299 405h1v1h-1zM294 406h1v1h-1zM298 406h2v1h-2zM297 408h1v1h-1zM289 409h1v1h-1zM296 409h1v1h-1zM296 410h1v1h-1zM284 411h1v1h-1zM290 411h1v1h-1zM295 411h1v1h-1zM284 413h1v1h-1zM294 413h1v1h-1zM292 414h1v1h-1zM290 415h1v1h-1z"/><path fill="#c8c8c8" d="M432 274h1v1h-1zM430 275h1v1h-1zM432 275h1v1h-1zM429 277h1v1h-1zM427 278h1v1h-1zM421 280h1v1h-1zM418 283h1v1h-1zM421 283h1v1h-1zM416 284h1v1h-1zM425 284h1v1h-1zM419 285h1v1h-1zM424 285h1v1h-1zM409 286h1v1h-1zM416 287h1v1h-1zM421 287h1v1h-1zM426 287h1v1h-1zM423 288h2v1h-2zM411 289h2v1h-2zM423 290h1v1h-1zM405 292h1v1h-1zM411 292h1v1h-1zM412 293h1v1h-1zM402 294h1v1h-1zM408 294h1v1h-1zM414 294h1v1h-1zM403 296h1v1h-1zM411 296h1v1h-1zM420 296h1v1h-1zM395 297h2v1h-2zM402 297h1v1h-1zM395 298h1v1h-1zM397 298h1v1h-1zM421 298h1v1h-1zM409 300h1v1h-1zM394 301h1v1h-1zM399 302h1v1h-1zM401 302h1v1h-1zM401 303h1v1h-1zM390 304h1v1h-1zM392 304h1v1h-1zM407 304h1v1h-1zM383 305h1v1h-1zM393 305h1v1h-1zM405 305h1v1h-1zM412 305h1v1h-1zM384 306h1v1h-1zM390 306h1v1h-1zM386 307h1v1h-1zM390 307h1v1h-1zM391 308h1v1h-1zM396 308h1v1h-1zM384 309h1v1h-1zM391 311h1v1h-1zM387 312h1v1h-1zM390 312h1v1h-1zM396 312h1v1h-1zM386 313h1v1h-1zM385 314h1v1h-1zM389 315h1v1h-1zM399 315h1v1h-1zM371 317h1v1h-1zM377 317h1v1h-1zM383 317h1v1h-1zM395 317h1v1h-1zM373 318h1v1h-1zM389 318h1v1h-1zM395 319h1v1h-1zM377 320h2v1h-2zM390 320h2v1h-2zM396 320h1v1h-1zM373 321h1v1h-1zM376 321h1v1h-1zM385 321h1v1h-1zM390 321h1v1h-1zM394 321h1v1h-1zM369 322h1v1h-1zM380 322h1v1h-1zM384 322h2v1h-2zM387 323h1v1h-1zM389 323h1v1h-1zM375 324h1v1h-1zM383 324h1v1h-1zM391 324h1v1h-1zM380 325h1v1h-1zM385 325h1v1h-1zM372 326h1v1h-1zM375 326h1v1h-1zM388 326h1v1h-1zM384 327h2v1h-2zM372 328h1v1h-1zM383 328h1v1h-1zM372 329h1v1h-1zM367 330h1v1h-1zM357 331h2v1h-2zM383 331h1v1h-1zM358 332h1v1h-1zM370 332h1v1h-1zM373 332h1v1h-1zM378 332h1v1h-1zM381 332h1v1h-1zM370 333h1v1h-1zM381 333h3v1h-3zM378 334h1v1h-1zM367 336h1v1h-1zM355 337h1v1h-1zM374 337h2v1h-2zM355 340h1v1h-1zM363 340h1v1h-1zM355 341h1v1h-1zM360 341h1v1h-1zM372 341h1v1h-1zM350 342h1v1h-1zM354 342h1v1h-1zM362 342h1v1h-1zM369 342h1v1h-1zM353 343h1v1h-1zM358 343h1v1h-1zM361 343h1v1h-1zM370 344h1v1h-1zM359 345h1v1h-1zM366 345h1v1h-1zM347 346h1v1h-1zM349 346h1v1h-1zM359 347h1v1h-1zM356 348h1v1h-1zM367 348h1v1h-1zM345 349h1v1h-1zM343 351h1v1h-1zM345 351h1v1h-1zM348 352h1v1h-1zM351 352h1v1h-1zM361 352h1v1h-1zM340 353h1v1h-1zM348 353h1v1h-1zM361 353h1v1h-1zM349 354h1v1h-1zM358 354h1v1h-1zM345 355h1v1h-1zM357 355h1v1h-1zM334 356h1v1h-1zM345 356h1v1h-1zM332 357h1v1h-1zM353 357h1v1h-1zM333 358h1v1h-1zM348 358h1v1h-1zM349 359h1v1h-1zM351 359h2v1h-2zM327 360h2v1h-2zM346 360h2v1h-2zM324 361h1v1h-1zM336 361h1v1h-1zM342 361h1v1h-1zM346 361h1v1h-1zM324 363h1v1h-1zM327 363h1v1h-1zM346 363h1v1h-1zM328 364h1v1h-1zM348 364h1v1h-1zM322 365h1v1h-1zM337 365h1v1h-1zM331 366h1v1h-1zM340 366h1v1h-1zM342 366h1v1h-1zM332 367h1v1h-1zM326 368h1v1h-1zM334 368h1v1h-1zM342 368h1v1h-1zM323 369h1v1h-1zM317 370h1v1h-1zM338 370h1v1h-1zM326 371h1v1h-1zM331 371h1v1h-1zM339 371h1v1h-1zM313 372h1v1h-1zM316 372h1v1h-1zM339 372h1v1h-1zM333 373h1v1h-1zM325 374h1v1h-1zM339 374h1v1h-1zM316 375h1v1h-1zM329 375h1v1h-1zM339 375h1v1h-1zM316 376h1v1h-1zM331 376h1v1h-1zM333 376h1v1h-1zM308 379h1v1h-1zM327 379h1v1h-1zM335 379h1v1h-1zM319 380h1v1h-1zM326 380h1v1h-1zM329 381h1v1h-1zM313 382h1v1h-1zM324 382h1v1h-1zM313 383h1v1h-1zM321 383h1v1h-1zM323 383h1v1h-1zM316 384h1v1h-1zM319 384h1v1h-1zM323 384h1v1h-1zM314 386h1v1h-1zM325 386h1v1h-1zM326 387h1v1h-1zM328 387h1v1h-1zM320 388h1v1h-1zM304 389h1v1h-1zM312 389h1v1h-1zM299 390h1v1h-1zM310 390h1v1h-1zM308 391h1v1h-1zM299 392h1v1h-1zM315 392h1v1h-1zM304 393h2v1h-2zM294 394h1v1h-1zM300 394h1v1h-1zM302 394h1v1h-1zM304 394h2v1h-2zM316 394h1v1h-1zM306 395h1v1h-1zM296 396h1v1h-1zM295 397h2v1h-2zM308 398h1v1h-1zM311 398h1v1h-1zM305 399h1v1h-1zM304 400h1v1h-1zM311 400h1v1h-1zM290 401h1v1h-1zM301 401h1v1h-1zM307 401h1v1h-1zM299 402h1v1h-1zM303 403h1v1h-1zM287 404h1v1h-1zM287 405h1v1h-1zM291 405h1v1h-1zM287 407h1v1h-1zM287 408h1v1h-1zM291 408h1v1h-1zM302 408h1v1h-1zM292 409h1v1h-1zM291 410h1v1h-1zM294 410h2v1h-2zM283 412h1v1h-1zM291 412h1v1h-1zM286 413h1v1h-1z"/><path fill="#d0d0d8" d="M421 275h1v1h-1zM423 276h1v1h-1zM429 276h1v1h-1zM432 276h1v1h-1zM422 278h1v1h-1zM426 278h1v1h-1zM429 278h1v1h-1zM420 279h1v1h-1zM422 279h2v1h-2zM426 279h1v1h-1zM425 280h1v1h-1zM416 281h1v1h-1zM419 281h1v1h-1zM428 281h1v1h-1zM413 282h1v1h-1zM416 282h1v1h-1zM431 282h1v1h-1zM413 283h2v1h-2zM423 283h1v1h-1zM408 284h2v1h-2zM412 284h1v1h-1zM418 284h1v1h-1zM420 284h1v1h-1zM422 284h1v1h-1zM416 285h1v1h-1zM418 285h1v1h-1zM420 285h1v1h-1zM422 285h1v1h-1zM422 286h1v1h-1zM424 286h1v1h-1zM418 287h1v1h-1zM423 287h1v1h-1zM410 288h2v1h-2zM414 288h2v1h-2zM420 288h1v1h-1zM405 289h1v1h-1zM417 289h2v1h-2zM421 289h1v1h-1zM404 290h1v1h-1zM410 290h3v1h-3zM418 290h1v1h-1zM425 290h1v1h-1zM410 291h1v1h-1zM413 291h2v1h-2zM416 291h1v1h-1zM425 291h1v1h-1zM403 292h1v1h-1zM406 292h1v1h-1zM415 292h1v1h-1zM405 293h1v1h-1zM416 293h2v1h-2zM420 293h1v1h-1zM403 294h1v1h-1zM409 294h1v1h-1zM401 295h1v1h-1zM408 295h2v1h-2zM411 295h1v1h-1zM415 295h1v1h-1zM417 295h1v1h-1zM408 296h1v1h-1zM399 297h3v1h-3zM415 297h1v1h-1zM398 298h1v1h-1zM401 298h1v1h-1zM409 298h1v1h-1zM412 298h2v1h-2zM392 299h1v1h-1zM395 299h1v1h-1zM403 299h1v1h-1zM408 299h1v1h-1zM401 300h1v1h-1zM411 300h1v1h-1zM396 301h1v1h-1zM398 301h2v1h-2zM401 301h1v1h-1zM410 301h2v1h-2zM395 302h1v1h-1zM404 302h1v1h-1zM407 302h1v1h-1zM387 303h2v1h-2zM398 303h1v1h-1zM405 303h1v1h-1zM408 303h2v1h-2zM391 304h1v1h-1zM391 305h1v1h-1zM395 305h1v1h-1zM401 305h1v1h-1zM415 305h1v1h-1zM385 306h1v1h-1zM404 306h1v1h-1zM406 306h1v1h-1zM408 306h1v1h-1zM411 306h1v1h-1zM389 307h1v1h-1zM400 307h1v1h-1zM405 307h1v1h-1zM408 307h3v1h-3zM383 308h1v1h-1zM385 308h1v1h-1zM390 308h1v1h-1zM380 309h1v1h-1zM382 309h1v1h-1zM387 309h1v1h-1zM394 309h1v1h-1zM404 309h2v1h-2zM384 310h1v1h-1zM391 310h1v1h-1zM395 310h1v1h-1zM401 310h1v1h-1zM378 311h2v1h-2zM381 311h1v1h-1zM386 311h1v1h-1zM404 311h1v1h-1zM377 312h1v1h-1zM380 312h2v1h-2zM403 312h1v1h-1zM379 313h1v1h-1zM388 313h1v1h-1zM395 313h1v1h-1zM398 313h1v1h-1zM375 314h1v1h-1zM382 314h1v1h-1zM386 314h1v1h-1zM388 314h2v1h-2zM395 314h2v1h-2zM403 314h1v1h-1zM379 315h2v1h-2zM385 315h1v1h-1zM401 315h1v1h-1zM384 316h1v1h-1zM391 316h1v1h-1zM393 316h1v1h-1zM396 316h1v1h-1zM374 317h1v1h-1zM380 317h1v1h-1zM384 317h1v1h-1zM396 317h1v1h-1zM398 317h1v1h-1zM384 318h1v1h-1zM387 318h1v1h-1zM399 318h1v1h-1zM378 319h1v1h-1zM380 319h1v1h-1zM388 319h1v1h-1zM385 320h2v1h-2zM374 321h1v1h-1zM374 322h1v1h-1zM378 322h1v1h-1zM382 322h1v1h-1zM391 322h1v1h-1zM393 322h1v1h-1zM368 323h1v1h-1zM386 323h1v1h-1zM370 324h2v1h-2zM373 324h1v1h-1zM378 324h1v1h-1zM380 324h1v1h-1zM384 324h1v1h-1zM388 324h1v1h-1zM369 325h1v1h-1zM375 325h1v1h-1zM377 325h2v1h-2zM383 325h1v1h-1zM386 325h1v1h-1zM390 325h1v1h-1zM365 326h1v1h-1zM376 326h1v1h-1zM378 326h3v1h-3zM391 326h1v1h-1zM361 327h1v1h-1zM365 327h1v1h-1zM368 327h1v1h-1zM371 327h1v1h-1zM373 327h1v1h-1zM375 327h3v1h-3zM382 327h1v1h-1zM387 327h1v1h-1zM389 327h1v1h-1zM365 328h1v1h-1zM377 328h2v1h-2zM381 328h1v1h-1zM387 328h1v1h-1zM363 329h1v1h-1zM371 329h1v1h-1zM388 329h1v1h-1zM373 330h1v1h-1zM388 330h1v1h-1zM359 331h3v1h-3zM363 331h2v1h-2zM370 331h1v1h-1zM375 332h1v1h-1zM379 332h2v1h-2zM382 332h1v1h-1zM359 333h1v1h-1zM363 333h1v1h-1zM368 333h1v1h-1zM371 333h1v1h-1zM375 333h2v1h-2zM379 333h1v1h-1zM362 334h1v1h-1zM367 334h1v1h-1zM374 334h1v1h-1zM376 334h1v1h-1zM380 334h1v1h-1zM353 335h1v1h-1zM371 335h1v1h-1zM381 335h1v1h-1zM362 336h1v1h-1zM378 336h1v1h-1zM363 337h2v1h-2zM368 337h1v1h-1zM373 337h1v1h-1zM380 337h1v1h-1zM370 338h1v1h-1zM375 338h1v1h-1zM381 338h1v1h-1zM353 339h1v1h-1zM356 339h2v1h-2zM364 339h1v1h-1zM362 340h1v1h-1zM367 340h1v1h-1zM371 340h1v1h-1zM348 341h1v1h-1zM359 341h1v1h-1zM366 341h1v1h-1zM375 342h1v1h-1zM347 343h1v1h-1zM350 343h1v1h-1zM356 343h2v1h-2zM360 343h1v1h-1zM369 343h2v1h-2zM348 344h2v1h-2zM353 344h2v1h-2zM359 344h1v1h-1zM362 344h1v1h-1zM367 344h2v1h-2zM346 345h1v1h-1zM348 345h1v1h-1zM361 345h1v1h-1zM367 345h1v1h-1zM371 345h1v1h-1zM343 346h1v1h-1zM350 346h2v1h-2zM368 346h2v1h-2zM372 346h1v1h-1zM346 347h1v1h-1zM348 347h1v1h-1zM350 347h1v1h-1zM355 347h1v1h-1zM358 347h1v1h-1zM362 347h1v1h-1zM366 347h1v1h-1zM338 349h1v1h-1zM343 349h1v1h-1zM356 349h1v1h-1zM358 349h1v1h-1zM361 349h1v1h-1zM368 349h1v1h-1zM346 350h1v1h-1zM359 350h1v1h-1zM362 350h1v1h-1zM337 351h1v1h-1zM353 351h1v1h-1zM357 351h1v1h-1zM359 351h1v1h-1zM361 351h1v1h-1zM337 352h1v1h-1zM339 352h1v1h-1zM353 352h1v1h-1zM337 353h1v1h-1zM344 353h2v1h-2zM350 353h1v1h-1zM355 353h1v1h-1zM357 353h2v1h-2zM344 354h1v1h-1zM352 354h1v1h-1zM354 354h1v1h-1zM350 355h1v1h-1zM362 355h1v1h-1zM333 356h1v1h-1zM348 356h2v1h-2zM351 356h1v1h-1zM333 357h2v1h-2zM349 357h1v1h-1zM330 358h1v1h-1zM341 358h2v1h-2zM344 358h1v1h-1zM346 358h1v1h-1zM331 359h1v1h-1zM341 359h1v1h-1zM344 359h2v1h-2zM353 359h1v1h-1zM336 360h1v1h-1zM351 360h1v1h-1zM333 361h1v1h-1zM341 361h1v1h-1zM344 361h1v1h-1zM349 361h1v1h-1zM354 361h2v1h-2zM331 362h1v1h-1zM336 362h1v1h-1zM338 362h1v1h-1zM353 362h1v1h-1zM331 363h1v1h-1zM345 363h1v1h-1zM349 363h1v1h-1zM324 364h1v1h-1zM332 364h1v1h-1zM337 364h1v1h-1zM346 364h1v1h-1zM349 364h1v1h-1zM332 365h1v1h-1zM336 365h1v1h-1zM345 365h1v1h-1zM348 365h1v1h-1zM319 366h1v1h-1zM329 366h1v1h-1zM333 366h2v1h-2zM338 366h1v1h-1zM341 366h1v1h-1zM346 366h1v1h-1zM348 366h1v1h-1zM330 367h1v1h-1zM344 367h1v1h-1zM323 368h2v1h-2zM332 368h1v1h-1zM336 368h1v1h-1zM346 368h2v1h-2zM333 369h1v1h-1zM336 369h1v1h-1zM332 370h2v1h-2zM316 371h1v1h-1zM322 371h1v1h-1zM325 371h1v1h-1zM329 371h1v1h-1zM328 372h1v1h-1zM331 372h1v1h-1zM333 372h1v1h-1zM313 374h1v1h-1zM326 374h1v1h-1zM315 375h1v1h-1zM317 375h1v1h-1zM319 375h1v1h-1zM325 375h1v1h-1zM328 375h1v1h-1zM333 375h1v1h-1zM327 376h1v1h-1zM329 376h2v1h-2zM315 377h1v1h-1zM317 377h2v1h-2zM320 377h1v1h-1zM329 377h1v1h-1zM334 377h1v1h-1zM317 378h1v1h-1zM333 378h3v1h-3zM309 379h1v1h-1zM318 379h1v1h-1zM307 380h1v1h-1zM311 380h1v1h-1zM317 380h1v1h-1zM322 380h1v1h-1zM325 380h1v1h-1zM311 381h1v1h-1zM314 381h1v1h-1zM325 381h1v1h-1zM314 382h2v1h-2zM306 383h1v1h-1zM311 383h1v1h-1zM315 383h1v1h-1zM322 383h1v1h-1zM325 383h1v1h-1zM329 383h2v1h-2zM305 384h1v1h-1zM315 384h1v1h-1zM321 384h1v1h-1zM304 385h1v1h-1zM306 385h1v1h-1zM309 385h2v1h-2zM313 385h1v1h-1zM320 385h1v1h-1zM327 385h2v1h-2zM303 386h1v1h-1zM310 386h2v1h-2zM316 386h1v1h-1zM302 387h1v1h-1zM315 387h1v1h-1zM301 388h1v1h-1zM318 388h1v1h-1zM305 389h2v1h-2zM316 389h1v1h-1zM318 389h1v1h-1zM300 390h1v1h-1zM307 390h1v1h-1zM315 390h1v1h-1zM295 391h1v1h-1zM299 391h1v1h-1zM302 391h1v1h-1zM304 391h2v1h-2zM322 391h1v1h-1zM298 392h1v1h-1zM312 392h1v1h-1zM307 393h1v1h-1zM309 393h1v1h-1zM311 393h1v1h-1zM313 393h1v1h-1zM297 394h2v1h-2zM306 394h1v1h-1zM308 394h1v1h-1zM310 394h1v1h-1zM297 395h2v1h-2zM310 395h1v1h-1zM315 395h1v1h-1zM298 396h1v1h-1zM308 396h1v1h-1zM314 397h2v1h-2zM293 398h1v1h-1zM302 398h1v1h-1zM304 398h1v1h-1zM310 398h1v1h-1zM313 398h1v1h-1zM298 399h1v1h-1zM302 399h1v1h-1zM308 399h1v1h-1zM296 400h1v1h-1zM298 400h1v1h-1zM308 400h1v1h-1zM291 401h1v1h-1zM294 401h2v1h-2zM297 401h1v1h-1zM310 401h1v1h-1zM293 402h2v1h-2zM300 402h1v1h-1zM302 402h2v1h-2zM308 402h1v1h-1zM311 402h1v1h-1zM304 403h1v1h-1zM290 404h1v1h-1zM295 404h1v1h-1zM297 404h1v1h-1zM302 404h2v1h-2zM293 405h1v1h-1zM287 406h2v1h-2zM291 406h2v1h-2zM297 406h1v1h-1zM302 406h1v1h-1zM288 407h1v1h-1zM292 407h2v1h-2zM295 407h1v1h-1zM300 407h1v1h-1zM289 408h1v1h-1zM299 408h1v1h-1zM303 408h1v1h-1zM294 409h1v1h-1zM299 409h1v1h-1zM287 410h2v1h-2zM297 410h1v1h-1zM288 411h1v1h-1zM298 411h1v1h-1zM295 412h1v1h-1zM283 414h1v1h-1zM285 414h1v1h-1zM283 415h1v1h-1zM289 415h1v1h-1z"/><path fill="#c0c0c8" d="M427 276h1v1h-1zM414 286h1v1h-1zM400 295h1v1h-1zM373 333h1v1h-1zM366 349h1v1h-1zM352 350h1v1h-1zM319 368h1v1h-1zM314 376h1v1h-1zM320 386h1v1h-1zM311 399h1v1h-1z"/><path fill="#d8d8e0" d="M431 276h1v1h-1zM420 280h1v1h-1zM409 288h1v1h-1zM394 291h1v1h-1zM415 291h1v1h-1zM418 295h1v1h-1zM405 296h1v1h-1zM393 298h1v1h-1zM403 302h1v1h-1zM407 305h1v1h-1zM402 306h1v1h-1zM391 307h1v1h-1zM399 307h1v1h-1zM397 309h1v1h-1zM389 311h1v1h-1zM384 312h1v1h-1zM393 313h1v1h-1zM392 320h1v1h-1zM379 327h1v1h-1zM386 329h1v1h-1zM375 330h1v1h-1zM377 330h1v1h-1zM378 331h1v1h-1zM356 334h1v1h-1zM377 335h1v1h-1zM360 336h1v1h-1zM352 341h1v1h-1zM355 342h1v1h-1zM365 344h1v1h-1zM359 346h1v1h-1zM364 348h1v1h-1zM362 349h1v1h-1zM339 354h1v1h-1zM339 356h1v1h-1zM356 356h1v1h-1zM348 360h1v1h-1zM337 361h1v1h-1zM351 364h1v1h-1zM324 365h1v1h-1zM343 366h1v1h-1zM345 367h1v1h-1zM321 371h1v1h-1zM344 371h1v1h-1zM340 373h1v1h-1zM334 374h1v1h-1zM330 375h1v1h-1zM327 377h1v1h-1zM330 377h1v1h-1zM323 378h1v1h-1zM316 380h1v1h-1zM321 381h1v1h-1zM317 382h1v1h-1zM319 382h1v1h-1zM308 386h1v1h-1zM315 386h1v1h-1zM318 390h1v1h-1zM309 391h2v1h-2zM297 397h1v1h-1zM299 400h1v1h-1zM305 400h1v1h-1zM309 400h1v1h-1zM312 402h1v1h-1zM295 405h1v1h-1zM286 409h1v1h-1zM293 411h1v1h-1zM289 412h2v1h-2zM292 412h1v1h-1z"/><path fill="#e0e0e0" d="M431 280h1v1h-1zM422 281h1v1h-1zM413 288h1v1h-1zM405 290h1v1h-1zM409 292h1v1h-1zM413 292h1v1h-1zM418 292h1v1h-1zM410 293h1v1h-1zM400 296h1v1h-1zM399 299h1v1h-1zM395 301h1v1h-1zM403 301h1v1h-1zM412 306h1v1h-1zM389 308h1v1h-1zM393 308h1v1h-1zM380 314h1v1h-1zM392 314h1v1h-1zM388 322h1v1h-1zM366 332h1v1h-1zM377 332h1v1h-1zM373 340h1v1h-1zM344 349h1v1h-1zM357 349h1v1h-1zM357 350h1v1h-1zM341 352h1v1h-1zM350 354h1v1h-1zM356 355h1v1h-1zM337 356h1v1h-1zM339 357h1v1h-1zM335 359h1v1h-1zM334 361h1v1h-1zM344 362h1v1h-1zM331 368h1v1h-1zM320 370h1v1h-1zM315 372h1v1h-1zM327 372h1v1h-1zM329 372h1v1h-1zM322 373h2v1h-2zM331 374h1v1h-1zM335 375h1v1h-1zM319 377h1v1h-1zM319 381h1v1h-1zM303 393h1v1h-1zM301 398h1v1h-1zM309 398h1v1h-1zM293 403h1v1h-1zM300 406h1v1h-1zM293 409h1v1h-1z"/><path fill="#c0c0c0" d="M398 295h1v1h-1zM407 301h1v1h-1zM352 338h1v1h-1z"/><path fill="#e0e0e8" d="M301 389h1v1h-1z"/><path fill="#c6c6d4" d="M315.4 346.5h1.3v1.3h-1.3zM373.7 341.3h1.3v1.3h-1.3zM399.1 343.4h1.3v1.3h-1.3zM365.4 356.6h1.3v1.3h-1.3zM344.9 337.8h1.3v1.3h-1.3zM310.5 366.1h1.3v1.3h-1.3zM407.5 322.6h1.3v1.3h-1.3zM415.3 272.3h1.3v1.3h-1.3zM323.7 395.8h1.3v1.3h-1.3zM335.5 383.5h1.3v1.3h-1.3zM331.6 352.2h1.3v1.3h-1.3zM407.6 314.3h1.3v1.3h-1.3zM409.2 326.4h1.3v1.3h-1.3zM340.7 396.0h1.3v1.3h-1.3zM379.9 349.7h1.3v1.3h-1.3zM320.3 335.2h1.3v1.3h-1.3zM317.6 362.9h1.3v1.3h-1.3zM362.9 359.2h1.3v1.3h-1.3zM410.3 321.9h1.3v1.3h-1.3zM326.0 356.0h1.3v1.3h-1.3zM362.0 324.7h1.3v1.3h-1.3zM339.2 374.3h1.3v1.3h-1.3zM352.4 319.8h1.3v1.3h-1.3zM356.4 330.0h1.3v1.3h-1.3zM415.8 275.9h1.3v1.3h-1.3zM338.0 347.6h1.3v1.3h-1.3zM362.0 367.5h1.3v1.3h-1.3zM417.2 302.0h1.3v1.3h-1.3zM415.6 275.3h1.3v1.3h-1.3zM333.8 345.7h1.3v1.3h-1.3zM301.2 377.2h1.3v1.3h-1.3zM398.8 319.1h1.3v1.3h-1.3zM336.0 347.6h1.3v1.3h-1.3zM393.4 292.5h1.3v1.3h-1.3zM309.4 406.3h1.3v1.3h-1.3zM387.5 337.5h1.3v1.3h-1.3zM397.7 327.6h1.3v1.3h-1.3zM430.7 291.9h1.3v1.3h-1.3zM308.9 366.8h1.3v1.3h-1.3zM351.7 369.6h1.3v1.3h-1.3zM318.2 356.8h1.3v1.3h-1.3zM369.2 349.7h1.3v1.3h-1.3zM371.7 344.1h1.3v1.3h-1.3zM436.2 303.9h1.3v1.3h-1.3zM305.8 372.2h1.3v1.3h-1.3zM364.8 319.5h1.3v1.3h-1.3zM424.9 310.7h1.3v1.3h-1.3zM407.4 324.5h1.3v1.3h-1.3zM357.7 367.7h1.3v1.3h-1.3zM433.0 310.9h1.3v1.3h-1.3zM335.5 382.6h1.3v1.3h-1.3zM303.0 381.9h1.3v1.3h-1.3zM372.9 316.8h1.3v1.3h-1.3zM390.6 294.9h1.3v1.3h-1.3zM360.5 356.6h1.3v1.3h-1.3zM317.7 366.0h1.3v1.3h-1.3zM304.6 374.5h1.3v1.3h-1.3zM360.0 366.2h1.3v1.3h-1.3zM390.0 343.5h1.3v1.3h-1.3zM418.2 321.6h1.3v1.3h-1.3zM338.4 332.2h1.3v1.3h-1.3zM334.7 379.4h1.3v1.3h-1.3zM371.3 316.4h1.3v1.3h-1.3zM400.5 315.9h1.3v1.3h-1.3zM364.5 324.0h1.3v1.3h-1.3zM394.3 321.4h1.3v1.3h-1.3zM432.7 294.2h1.3v1.3h-1.3zM355.0 388.1h1.3v1.3h-1.3zM419.5 298.4h1.3v1.3h-1.3zM328.4 390.8h1.3v1.3h-1.3zM368.6 352.5h1.3v1.3h-1.3zM357.6 330.0h1.3v1.3h-1.3zM335.7 388.1h1.3v1.3h-1.3zM375.4 340.8h1.3v1.3h-1.3zM341.9 303.6h1.3v1.3h-1.3zM360.3 379.5h1.3v1.3h-1.3zM407.4 317.1h1.3v1.3h-1.3zM377.7 348.3h1.3v1.3h-1.3zM371.0 347.1h1.3v1.3h-1.3zM350.3 372.6h1.3v1.3h-1.3zM351.3 380.8h1.3v1.3h-1.3zM346.9 332.8h1.3v1.3h-1.3zM352.4 376.0h1.3v1.3h-1.3zM376.1 344.5h1.3v1.3h-1.3zM350.7 381.8h1.3v1.3h-1.3zM300.8 364.2h1.3v1.3h-1.3zM386.1 340.4h1.3v1.3h-1.3zM391.7 277.9h1.3v1.3h-1.3zM352.5 361.9h1.3v1.3h-1.3zM325.6 353.9h1.3v1.3h-1.3zM350.7 365.3h1.3v1.3h-1.3zM367.7 398.7h1.3v1.3h-1.3zM338.9 343.5h1.3v1.3h-1.3zM374.4 378.1h1.3v1.3h-1.3zM409.5 326.4h1.3v1.3h-1.3zM376.0 339.4h1.3v1.3h-1.3zM341.9 371.8h1.3v1.3h-1.3zM411.5 311.4h1.3v1.3h-1.3zM370.6 312.7h1.3v1.3h-1.3zM420.9 308.3h1.3v1.3h-1.3zM409.6 276.4h1.3v1.3h-1.3zM415.7 323.7h1.3v1.3h-1.3zM435.7 295.4h1.3v1.3h-1.3zM421.1 303.9h1.3v1.3h-1.3zM361.1 355.3h1.3v1.3h-1.3zM382.9 336.9h1.3v1.3h-1.3zM344.2 373.4h1.3v1.3h-1.3zM339.8 385.2h1.3v1.3h-1.3zM407.6 268.6h1.3v1.3h-1.3zM368.0 347.3h1.3v1.3h-1.3zM342.2 330.9h1.3v1.3h-1.3zM408.0 276.3h1.3v1.3h-1.3zM290.8 394.6h1.3v1.3h-1.3zM302.4 376.2h1.3v1.3h-1.3zM336.2 409.2h1.3v1.3h-1.3zM315.5 398.6h1.3v1.3h-1.3zM351.2 334.8h1.3v1.3h-1.3zM411.2 305.2h1.3v1.3h-1.3zM402.0 358.7h1.3v1.3h-1.3zM303.3 371.7h1.3v1.3h-1.3zM416.7 311.2h1.3v1.3h-1.3zM377.0 303.4h1.3v1.3h-1.3zM337.2 336.8h1.3v1.3h-1.3zM316.5 415.7h1.3v1.3h-1.3zM378.0 302.6h1.3v1.3h-1.3zM365.6 363.4h1.3v1.3h-1.3zM353.6 362.6h1.3v1.3h-1.3zM333.7 386.2h1.3v1.3h-1.3zM309.9 371.0h1.3v1.3h-1.3zM382.1 302.9h1.3v1.3h-1.3zM372.1 350.3h1.3v1.3h-1.3zM284.8 385.3h1.3v1.3h-1.3zM337.9 376.8h1.3v1.3h-1.3zM376.7 352.2h1.3v1.3h-1.3zM371.1 352.1h1.3v1.3h-1.3zM322.6 398.4h1.3v1.3h-1.3zM332.3 349.5h1.3v1.3h-1.3zM364.4 361.8h1.3v1.3h-1.3zM365.7 350.0h1.3v1.3h-1.3zM371.6 343.1h1.3v1.3h-1.3zM362.5 356.7h1.3v1.3h-1.3zM330.8 348.9h1.3v1.3h-1.3zM389.5 298.0h1.3v1.3h-1.3zM406.7 313.8h1.3v1.3h-1.3zM341.8 374.9h1.3v1.3h-1.3zM297.7 373.6h1.3v1.3h-1.3zM309.7 412.3h1.3v1.3h-1.3zM341.9 330.7h1.3v1.3h-1.3zM291.1 390.8h1.3v1.3h-1.3zM419.3 312.3h1.3v1.3h-1.3zM422.3 309.1h1.3v1.3h-1.3zM310.7 372.0h1.3v1.3h-1.3zM342.2 338.7h1.3v1.3h-1.3zM347.1 375.9h1.3v1.3h-1.3zM368.6 364.9h1.3v1.3h-1.3zM382.1 377.0h1.3v1.3h-1.3zM347.4 374.7h1.3v1.3h-1.3zM408.6 319.5h1.3v1.3h-1.3zM375.7 343.4h1.3v1.3h-1.3zM314.6 365.8h1.3v1.3h-1.3zM375.9 353.9h1.3v1.3h-1.3zM342.0 380.1h1.3v1.3h-1.3zM394.2 331.4h1.3v1.3h-1.3zM368.3 366.3h1.3v1.3h-1.3zM371.1 349.4h1.3v1.3h-1.3zM370.4 313.7h1.3v1.3h-1.3zM360.0 363.8h1.3v1.3h-1.3zM387.0 332.9h1.3v1.3h-1.3zM301.1 376.5h1.3v1.3h-1.3zM368.9 304.6h1.3v1.3h-1.3zM373.0 314.3h1.3v1.3h-1.3zM387.1 349.8h1.3v1.3h-1.3zM332.6 351.6h1.3v1.3h-1.3zM394.2 279.9h1.3v1.3h-1.3zM303.1 376.0h1.3v1.3h-1.3zM339.6 404.8h1.3v1.3h-1.3zM418.1 270.3h1.3v1.3h-1.3zM394.8 341.0h1.3v1.3h-1.3zM311.1 401.8h1.3v1.3h-1.3zM370.8 349.4h1.3v1.3h-1.3zM404.7 324.9h1.3v1.3h-1.3zM343.9 379.9h1.3v1.3h-1.3zM309.9 347.6h1.3v1.3h-1.3z"/><path fill="#f2961e" d="M354.9 352.3h1.7v1.7h-1.7zM342.1 360.5h1.7v1.7h-1.7zM335.9 370.6h1.7v1.7h-1.7zM350.3 353.9h1.7v1.7h-1.7zM354.4 347.4h1.7v1.7h-1.7zM310.3 389.5h1.7v1.7h-1.7zM419.9 286.6h1.7v1.7h-1.7zM414.8 293.0h1.7v1.7h-1.7zM403.9 300.4h1.7v1.7h-1.7zM378.4 329.2h1.7v1.7h-1.7zM339.7 352.8h1.7v1.7h-1.7zM361.9 340.5h1.7v1.7h-1.7zM337.7 363.3h1.7v1.7h-1.7zM391.9 311.5h1.7v1.7h-1.7zM379.0 326.2h1.7v1.7h-1.7zM323.5 376.9h1.7v1.7h-1.7zM350.8 349.4h1.7v1.7h-1.7zM351.9 357.4h1.7v1.7h-1.7zM405.5 301.4h1.7v1.7h-1.7zM340.5 363.8h1.7v1.7h-1.7zM354.0 346.5h1.7v1.7h-1.7zM338.5 367.1h1.7v1.7h-1.7zM320.4 378.7h1.7v1.7h-1.7zM357.5 348.4h1.7v1.7h-1.7zM368.9 338.9h1.7v1.7h-1.7zM353.2 351.7h1.7v1.7h-1.7zM361.3 340.7h1.7v1.7h-1.7zM389.0 314.1h1.7v1.7h-1.7zM368.3 331.9h1.7v1.7h-1.7zM405.4 297.0h1.7v1.7h-1.7zM402.5 302.3h1.7v1.7h-1.7zM381.5 323.0h1.7v1.7h-1.7zM416.9 293.6h1.7v1.7h-1.7zM371.8 328.2h1.7v1.7h-1.7zM379.8 324.8h1.7v1.7h-1.7zM385.0 321.8h1.7v1.7h-1.7zM406.7 297.2h1.7v1.7h-1.7zM387.2 319.0h1.7v1.7h-1.7zM396.6 305.4h1.7v1.7h-1.7zM376.4 332.4h1.7v1.7h-1.7zM327.9 373.5h1.7v1.7h-1.7zM415.9 292.7h1.7v1.7h-1.7zM369.1 335.0h1.7v1.7h-1.7zM327.1 378.1h1.7v1.7h-1.7zM353.7 350.7h1.7v1.7h-1.7zM351.8 357.0h1.7v1.7h-1.7zM348.8 350.7h1.7v1.7h-1.7zM388.8 311.5h1.7v1.7h-1.7zM316.7 387.1h1.7v1.7h-1.7zM383.9 322.9h1.7v1.7h-1.7zM400.2 304.0h1.7v1.7h-1.7zM385.6 316.7h1.7v1.7h-1.7zM352.3 352.7h1.7v1.7h-1.7zM426.3 279.1h1.7v1.7h-1.7zM309.7 388.0h1.7v1.7h-1.7zM381.6 327.1h1.7v1.7h-1.7zM397.3 306.6h1.7v1.7h-1.7zM409.9 294.7h1.7v1.7h-1.7zM346.8 358.0h1.7v1.7h-1.7zM401.7 298.4h1.7v1.7h-1.7zM341.6 364.5h1.7v1.7h-1.7zM412.5 294.5h1.7v1.7h-1.7zM366.2 340.5h1.7v1.7h-1.7zM339.7 362.2h1.7v1.7h-1.7zM342.0 364.8h1.7v1.7h-1.7zM346.4 357.4h1.7v1.7h-1.7zM325.1 373.0h1.7v1.7h-1.7zM362.1 338.8h1.7v1.7h-1.7zM374.8 330.8h1.7v1.7h-1.7zM379.2 322.8h1.7v1.7h-1.7zM373.8 328.3h1.7v1.7h-1.7zM357.6 344.0h1.7v1.7h-1.7zM375.5 321.5h1.7v1.7h-1.7zM385.7 322.1h1.7v1.7h-1.7zM358.8 346.7h1.7v1.7h-1.7zM357.4 352.0h1.7v1.7h-1.7zM357.0 346.8h1.7v1.7h-1.7zM388.3 314.1h1.7v1.7h-1.7zM362.5 342.9h1.7v1.7h-1.7zM373.2 332.1h1.7v1.7h-1.7zM325.4 375.7h1.7v1.7h-1.7zM387.9 319.0h1.7v1.7h-1.7zM395.7 308.7h1.7v1.7h-1.7zM387.3 317.5h1.7v1.7h-1.7zM335.7 366.4h1.7v1.7h-1.7zM350.7 355.8h1.7v1.7h-1.7zM393.1 310.1h1.7v1.7h-1.7zM333.9 366.1h1.7v1.7h-1.7zM391.1 312.9h1.7v1.7h-1.7zM408.2 299.1h1.7v1.7h-1.7zM330.4 371.4h1.7v1.7h-1.7zM380.0 324.8h1.7v1.7h-1.7zM311.9 388.4h1.7v1.7h-1.7zM380.1 324.5h1.7v1.7h-1.7zM376.5 325.6h1.7v1.7h-1.7zM347.6 352.5h1.7v1.7h-1.7zM418.8 285.6h1.7v1.7h-1.7zM330.6 368.4h1.7v1.7h-1.7zM405.8 301.5h1.7v1.7h-1.7zM394.4 309.4h1.7v1.7h-1.7zM354.2 350.4h1.7v1.7h-1.7zM338.7 364.3h1.7v1.7h-1.7zM333.6 372.0h1.7v1.7h-1.7zM383.3 321.5h1.7v1.7h-1.7zM364.9 340.5h1.7v1.7h-1.7zM339.2 363.3h1.7v1.7h-1.7zM396.8 309.6h1.7v1.7h-1.7zM390.5 318.6h1.7v1.7h-1.7zM348.2 353.9h1.7v1.7h-1.7zM416.5 289.6h1.7v1.7h-1.7zM355.4 354.1h1.7v1.7h-1.7zM376.2 326.7h1.7v1.7h-1.7zM318.1 383.7h1.7v1.7h-1.7zM389.8 314.6h1.7v1.7h-1.7zM339.3 354.5h1.7v1.7h-1.7zM398.8 303.6h1.7v1.7h-1.7zM357.9 344.9h1.7v1.7h-1.7zM385.7 319.0h1.7v1.7h-1.7zM391.0 314.7h1.7v1.7h-1.7zM407.8 300.2h1.7v1.7h-1.7zM383.4 319.9h1.7v1.7h-1.7zM316.9 384.8h1.7v1.7h-1.7zM368.5 338.1h1.7v1.7h-1.7zM376.2 327.5h1.7v1.7h-1.7zM407.8 297.8h1.7v1.7h-1.7zM402.8 303.6h1.7v1.7h-1.7zM353.4 353.7h1.7v1.7h-1.7zM316.7 380.2h1.7v1.7h-1.7zM389.8 315.1h1.7v1.7h-1.7zM356.4 346.3h1.7v1.7h-1.7zM347.8 353.9h1.7v1.7h-1.7zM340.1 357.7h1.7v1.7h-1.7zM383.0 318.9h1.7v1.7h-1.7zM355.4 350.0h1.7v1.7h-1.7zM369.2 336.3h1.7v1.7h-1.7zM366.3 338.0h1.7v1.7h-1.7zM380.7 326.5h1.7v1.7h-1.7zM389.2 317.7h1.7v1.7h-1.7zM406.3 300.7h1.7v1.7h-1.7zM355.2 349.0h1.7v1.7h-1.7zM348.9 355.1h1.7v1.7h-1.7zM345.5 363.6h1.7v1.7h-1.7zM385.6 317.3h1.7v1.7h-1.7zM344.2 360.3h1.7v1.7h-1.7zM343.4 356.6h1.7v1.7h-1.7zM377.6 323.3h1.7v1.7h-1.7zM361.9 342.3h1.7v1.7h-1.7zM342.5 361.7h1.7v1.7h-1.7zM296.7 401.3h1.7v1.7h-1.7zM347.8 359.0h1.7v1.7h-1.7zM380.0 323.1h1.7v1.7h-1.7zM394.5 312.1h1.7v1.7h-1.7zM343.1 363.1h1.7v1.7h-1.7zM346.3 359.3h1.7v1.7h-1.7zM358.5 346.4h1.7v1.7h-1.7zM397.8 303.1h1.7v1.7h-1.7zM365.3 335.0h1.7v1.7h-1.7zM389.4 315.9h1.7v1.7h-1.7zM325.5 374.3h1.7v1.7h-1.7zM406.3 306.4h1.7v1.7h-1.7zM411.3 294.2h1.7v1.7h-1.7zM338.0 366.0h1.7v1.7h-1.7zM396.4 308.5h1.7v1.7h-1.7zM353.3 355.1h1.7v1.7h-1.7zM365.8 342.2h1.7v1.7h-1.7zM412.6 292.5h1.7v1.7h-1.7zM339.7 367.0h1.7v1.7h-1.7zM352.2 351.4h1.7v1.7h-1.7zM381.8 320.4h1.7v1.7h-1.7zM384.6 319.1h1.7v1.7h-1.7zM318.3 382.0h1.7v1.7h-1.7zM404.5 299.5h1.7v1.7h-1.7zM362.4 340.3h1.7v1.7h-1.7zM366.7 336.6h1.7v1.7h-1.7zM352.9 352.4h1.7v1.7h-1.7zM313.6 385.1h1.7v1.7h-1.7zM351.8 351.0h1.7v1.7h-1.7zM380.1 327.4h1.7v1.7h-1.7zM383.9 321.8h1.7v1.7h-1.7zM394.7 312.4h1.7v1.7h-1.7zM340.9 358.5h1.7v1.7h-1.7zM359.8 344.2h1.7v1.7h-1.7zM380.6 325.1h1.7v1.7h-1.7zM372.4 335.4h1.7v1.7h-1.7zM353.7 346.0h1.7v1.7h-1.7zM353.3 348.1h1.7v1.7h-1.7zM307.6 391.6h1.7v1.7h-1.7zM381.1 322.9h1.7v1.7h-1.7zM394.2 311.0h1.7v1.7h-1.7zM381.9 323.5h1.7v1.7h-1.7zM389.3 316.7h1.7v1.7h-1.7zM395.1 311.7h1.7v1.7h-1.7zM388.0 317.6h1.7v1.7h-1.7zM380.7 324.5h1.7v1.7h-1.7zM341.4 361.9h1.7v1.7h-1.7zM380.7 327.5h1.7v1.7h-1.7zM378.6 329.2h1.7v1.7h-1.7zM360.8 343.0h1.7v1.7h-1.7zM382.0 322.3h1.7v1.7h-1.7zM376.1 323.6h1.7v1.7h-1.7zM306.3 395.7h1.7v1.7h-1.7zM366.4 341.5h1.7v1.7h-1.7zM347.0 361.8h1.7v1.7h-1.7zM376.1 328.7h1.7v1.7h-1.7zM377.5 327.9h1.7v1.7h-1.7zM310.9 387.7h1.7v1.7h-1.7zM325.9 374.9h1.7v1.7h-1.7zM380.8 321.5h1.7v1.7h-1.7zM332.1 370.2h1.7v1.7h-1.7zM305.0 394.7h1.7v1.7h-1.7zM344.1 360.3h1.7v1.7h-1.7zM360.2 340.3h1.7v1.7h-1.7zM379.5 326.2h1.7v1.7h-1.7zM380.8 322.0h1.7v1.7h-1.7zM416.5 287.6h1.7v1.7h-1.7zM418.5 286.7h1.7v1.7h-1.7zM323.4 375.4h1.7v1.7h-1.7zM343.1 356.6h1.7v1.7h-1.7zM344.4 358.3h1.7v1.7h-1.7zM338.1 364.0h1.7v1.7h-1.7zM374.2 334.1h1.7v1.7h-1.7zM366.7 336.4h1.7v1.7h-1.7zM380.1 325.5h1.7v1.7h-1.7zM420.4 283.9h1.7v1.7h-1.7zM406.2 295.9h1.7v1.7h-1.7zM385.0 323.0h1.7v1.7h-1.7zM370.8 331.8h1.7v1.7h-1.7zM404.6 298.6h1.7v1.7h-1.7zM411.6 292.9h1.7v1.7h-1.7zM394.9 309.3h1.7v1.7h-1.7zM386.3 315.8h1.7v1.7h-1.7zM389.9 315.0h1.7v1.7h-1.7zM324.1 378.5h1.7v1.7h-1.7zM404.5 298.5h1.7v1.7h-1.7zM332.3 369.0h1.7v1.7h-1.7zM303.6 393.9h1.7v1.7h-1.7zM409.1 294.0h1.7v1.7h-1.7zM392.6 314.8h1.7v1.7h-1.7zM371.4 333.2h1.7v1.7h-1.7zM359.6 345.6h1.7v1.7h-1.7zM383.2 317.6h1.7v1.7h-1.7zM358.2 341.9h1.7v1.7h-1.7zM416.2 288.8h1.7v1.7h-1.7zM346.8 351.8h1.7v1.7h-1.7zM340.4 358.2h1.7v1.7h-1.7zM320.9 378.6h1.7v1.7h-1.7zM403.2 302.3h1.7v1.7h-1.7zM382.8 322.1h1.7v1.7h-1.7zM352.0 348.8h1.7v1.7h-1.7zM349.1 350.5h1.7v1.7h-1.7zM385.4 312.1h1.7v1.7h-1.7zM338.3 348.0h1.7v1.7h-1.7zM332.2 367.2h1.7v1.7h-1.7zM400.5 304.2h1.7v1.7h-1.7zM315.7 370.9h1.7v1.7h-1.7zM367.2 318.1h1.7v1.7h-1.7zM375.7 313.8h1.7v1.7h-1.7zM357.3 340.2h1.7v1.7h-1.7z"/><path fill="#c83a24" d="M369.3 331.0h1.7v1.7h-1.7zM389.6 307.5h1.7v1.7h-1.7zM394.2 307.8h1.7v1.7h-1.7zM383.8 316.7h1.7v1.7h-1.7zM340.8 361.4h1.7v1.7h-1.7zM370.5 332.2h1.7v1.7h-1.7zM396.2 307.2h1.7v1.7h-1.7zM395.9 309.6h1.7v1.7h-1.7zM374.7 327.1h1.7v1.7h-1.7zM404.5 298.5h1.7v1.7h-1.7zM413.6 292.4h1.7v1.7h-1.7zM371.1 324.3h1.7v1.7h-1.7zM402.5 299.3h1.7v1.7h-1.7zM361.0 337.3h1.7v1.7h-1.7zM367.7 331.2h1.7v1.7h-1.7zM354.8 348.1h1.7v1.7h-1.7zM397.6 308.3h1.7v1.7h-1.7zM376.5 323.2h1.7v1.7h-1.7zM375.6 324.6h1.7v1.7h-1.7zM406.7 295.7h1.7v1.7h-1.7zM345.7 352.6h1.7v1.7h-1.7zM366.4 333.3h1.7v1.7h-1.7zM380.4 316.0h1.7v1.7h-1.7zM372.8 327.2h1.7v1.7h-1.7zM401.3 303.9h1.7v1.7h-1.7zM357.3 335.8h1.7v1.7h-1.7zM336.9 355.3h1.7v1.7h-1.7zM329.1 368.5h1.7v1.7h-1.7zM394.6 304.5h1.7v1.7h-1.7zM363.8 335.5h1.7v1.7h-1.7zM370.9 330.7h1.7v1.7h-1.7zM399.7 305.8h1.7v1.7h-1.7zM388.5 314.0h1.7v1.7h-1.7zM386.3 316.8h1.7v1.7h-1.7zM395.9 308.9h1.7v1.7h-1.7zM357.3 337.4h1.7v1.7h-1.7zM417.0 284.1h1.7v1.7h-1.7zM342.5 356.4h1.7v1.7h-1.7zM375.2 323.6h1.7v1.7h-1.7zM388.1 314.2h1.7v1.7h-1.7zM331.4 370.3h1.7v1.7h-1.7zM363.3 333.6h1.7v1.7h-1.7zM376.9 319.1h1.7v1.7h-1.7zM339.6 359.8h1.7v1.7h-1.7zM364.8 333.5h1.7v1.7h-1.7zM418.5 284.2h1.7v1.7h-1.7zM411.6 294.3h1.7v1.7h-1.7zM382.4 315.0h1.7v1.7h-1.7zM421.7 283.2h1.7v1.7h-1.7zM419.9 286.4h1.7v1.7h-1.7zM345.8 354.7h1.7v1.7h-1.7zM396.0 303.6h1.7v1.7h-1.7zM403.8 301.8h1.7v1.7h-1.7zM392.6 309.4h1.7v1.7h-1.7zM370.7 327.0h1.7v1.7h-1.7zM352.3 349.1h1.7v1.7h-1.7zM387.2 317.8h1.7v1.7h-1.7zM355.5 342.7h1.7v1.7h-1.7zM328.3 367.5h1.7v1.7h-1.7zM394.8 308.3h1.7v1.7h-1.7zM397.7 306.4h1.7v1.7h-1.7zM353.5 351.0h1.7v1.7h-1.7zM385.6 312.9h1.7v1.7h-1.7zM323.8 375.1h1.7v1.7h-1.7zM395.5 308.4h1.7v1.7h-1.7zM390.8 314.6h1.7v1.7h-1.7zM304.7 396.3h1.7v1.7h-1.7zM366.7 334.5h1.7v1.7h-1.7zM360.4 346.5h1.7v1.7h-1.7zM383.6 319.0h1.7v1.7h-1.7zM348.6 346.6h1.7v1.7h-1.7zM369.8 331.4h1.7v1.7h-1.7zM388.0 315.4h1.7v1.7h-1.7zM373.7 331.9h1.7v1.7h-1.7zM372.9 323.4h1.7v1.7h-1.7zM375.2 328.8h1.7v1.7h-1.7zM410.8 289.4h1.7v1.7h-1.7zM364.3 337.2h1.7v1.7h-1.7zM367.7 327.8h1.7v1.7h-1.7zM379.3 323.3h1.7v1.7h-1.7zM379.7 317.0h1.7v1.7h-1.7zM383.3 315.1h1.7v1.7h-1.7zM378.5 326.7h1.7v1.7h-1.7zM387.5 320.3h1.7v1.7h-1.7zM398.1 302.9h1.7v1.7h-1.7zM404.6 298.7h1.7v1.7h-1.7zM393.9 304.7h1.7v1.7h-1.7zM398.8 302.8h1.7v1.7h-1.7zM381.1 323.1h1.7v1.7h-1.7zM354.5 350.4h1.7v1.7h-1.7zM395.7 305.8h1.7v1.7h-1.7zM323.7 376.4h1.7v1.7h-1.7zM360.8 342.5h1.7v1.7h-1.7zM326.4 374.8h1.7v1.7h-1.7zM397.9 305.7h1.7v1.7h-1.7zM356.3 346.1h1.7v1.7h-1.7zM403.1 300.8h1.7v1.7h-1.7zM375.0 323.1h1.7v1.7h-1.7zM328.6 366.9h1.7v1.7h-1.7zM308.7 390.8h1.7v1.7h-1.7zM334.8 367.2h1.7v1.7h-1.7zM400.6 300.8h1.7v1.7h-1.7zM348.8 353.3h1.7v1.7h-1.7zM352.0 349.1h1.7v1.7h-1.7zM390.5 306.7h1.7v1.7h-1.7zM371.2 330.8h1.7v1.7h-1.7zM326.5 365.2h1.7v1.7h-1.7zM304.7 392.5h1.7v1.7h-1.7zM353.0 345.8h1.7v1.7h-1.7zM366.0 338.6h1.7v1.7h-1.7zM396.7 307.6h1.7v1.7h-1.7zM339.7 355.2h1.7v1.7h-1.7zM369.9 331.5h1.7v1.7h-1.7zM383.4 312.1h1.7v1.7h-1.7zM377.7 325.5h1.7v1.7h-1.7zM366.9 341.8h1.7v1.7h-1.7zM350.2 340.5h1.7v1.7h-1.7zM411.4 291.4h1.7v1.7h-1.7zM376.3 326.2h1.7v1.7h-1.7zM332.6 368.5h1.7v1.7h-1.7zM369.5 329.2h1.7v1.7h-1.7zM367.4 328.9h1.7v1.7h-1.7zM380.9 322.0h1.7v1.7h-1.7zM370.2 330.1h1.7v1.7h-1.7zM331.1 365.4h1.7v1.7h-1.7zM416.1 292.8h1.7v1.7h-1.7zM367.5 335.7h1.7v1.7h-1.7zM418.6 283.4h1.7v1.7h-1.7zM380.8 321.1h1.7v1.7h-1.7zM413.7 288.6h1.7v1.7h-1.7zM374.4 323.3h1.7v1.7h-1.7zM365.9 336.5h1.7v1.7h-1.7zM339.4 360.1h1.7v1.7h-1.7zM389.6 308.8h1.7v1.7h-1.7zM376.1 323.5h1.7v1.7h-1.7zM390.3 313.5h1.7v1.7h-1.7zM349.7 348.2h1.7v1.7h-1.7zM371.8 331.0h1.7v1.7h-1.7zM353.2 342.3h1.7v1.7h-1.7zM365.7 332.4h1.7v1.7h-1.7zM407.5 294.9h1.7v1.7h-1.7zM368.4 333.9h1.7v1.7h-1.7zM386.1 314.3h1.7v1.7h-1.7zM311.5 386.7h1.7v1.7h-1.7zM350.7 346.1h1.7v1.7h-1.7zM379.9 324.6h1.7v1.7h-1.7zM378.1 320.8h1.7v1.7h-1.7zM417.6 286.9h1.7v1.7h-1.7zM344.0 359.5h1.7v1.7h-1.7zM340.6 361.6h1.7v1.7h-1.7zM388.4 312.2h1.7v1.7h-1.7zM343.7 352.5h1.7v1.7h-1.7zM419.8 284.0h1.7v1.7h-1.7zM426.0 279.6h1.7v1.7h-1.7zM362.6 343.9h1.7v1.7h-1.7zM343.1 347.2h1.7v1.7h-1.7zM419.9 279.4h1.7v1.7h-1.7zM385.4 320.7h1.7v1.7h-1.7zM336.8 364.3h1.7v1.7h-1.7zM387.0 313.7h1.7v1.7h-1.7zM369.7 331.0h1.7v1.7h-1.7zM399.5 302.9h1.7v1.7h-1.7zM397.9 302.5h1.7v1.7h-1.7z"/><path fill="#a62620" d="M302.8 392.1h1.7v1.7h-1.7zM367.8 328.2h1.7v1.7h-1.7zM423.6 279.8h1.7v1.7h-1.7zM340.4 362.4h1.7v1.7h-1.7zM337.3 366.7h1.7v1.7h-1.7zM390.8 313.9h1.7v1.7h-1.7zM388.3 318.1h1.7v1.7h-1.7zM400.8 298.8h1.7v1.7h-1.7zM379.3 322.5h1.7v1.7h-1.7zM350.9 347.6h1.7v1.7h-1.7zM415.2 288.6h1.7v1.7h-1.7zM339.6 357.2h1.7v1.7h-1.7zM405.4 296.9h1.7v1.7h-1.7zM402.6 298.2h1.7v1.7h-1.7zM321.5 373.5h1.7v1.7h-1.7zM390.2 312.2h1.7v1.7h-1.7zM328.9 369.1h1.7v1.7h-1.7zM368.6 328.3h1.7v1.7h-1.7zM342.5 352.6h1.7v1.7h-1.7zM423.1 280.1h1.7v1.7h-1.7zM389.1 313.9h1.7v1.7h-1.7zM399.0 300.6h1.7v1.7h-1.7zM386.8 314.0h1.7v1.7h-1.7zM344.2 358.9h1.7v1.7h-1.7zM383.2 314.8h1.7v1.7h-1.7zM307.7 385.9h1.7v1.7h-1.7zM336.4 363.2h1.7v1.7h-1.7zM305.4 394.7h1.7v1.7h-1.7zM338.5 362.1h1.7v1.7h-1.7zM339.2 361.0h1.7v1.7h-1.7zM383.1 317.8h1.7v1.7h-1.7zM421.5 283.6h1.7v1.7h-1.7zM333.0 362.4h1.7v1.7h-1.7zM413.6 289.6h1.7v1.7h-1.7zM368.3 334.4h1.7v1.7h-1.7zM413.5 290.6h1.7v1.7h-1.7zM333.9 363.7h1.7v1.7h-1.7zM382.6 317.6h1.7v1.7h-1.7zM373.4 326.6h1.7v1.7h-1.7zM376.0 324.8h1.7v1.7h-1.7zM328.5 367.4h1.7v1.7h-1.7zM344.9 358.8h1.7v1.7h-1.7zM395.6 306.4h1.7v1.7h-1.7zM353.5 351.6h1.7v1.7h-1.7zM347.7 353.8h1.7v1.7h-1.7zM357.0 344.6h1.7v1.7h-1.7zM323.5 372.8h1.7v1.7h-1.7zM346.7 354.4h1.7v1.7h-1.7zM289.9 404.4h1.7v1.7h-1.7zM400.6 302.3h1.7v1.7h-1.7zM341.0 362.1h1.7v1.7h-1.7zM303.3 394.1h1.7v1.7h-1.7zM348.6 352.5h1.7v1.7h-1.7zM407.2 296.1h1.7v1.7h-1.7zM328.9 366.8h1.7v1.7h-1.7zM401.9 300.4h1.7v1.7h-1.7zM391.8 311.7h1.7v1.7h-1.7zM360.3 337.3h1.7v1.7h-1.7zM415.0 288.4h1.7v1.7h-1.7zM422.5 280.6h1.7v1.7h-1.7zM375.6 324.9h1.7v1.7h-1.7zM339.3 358.6h1.7v1.7h-1.7zM353.5 344.8h1.7v1.7h-1.7zM369.8 333.0h1.7v1.7h-1.7zM412.4 289.1h1.7v1.7h-1.7zM304.9 393.6h1.7v1.7h-1.7zM325.3 367.7h1.7v1.7h-1.7zM317.4 382.3h1.7v1.7h-1.7zM394.4 305.2h1.7v1.7h-1.7zM397.8 305.5h1.7v1.7h-1.7zM375.7 324.8h1.7v1.7h-1.7zM294.4 403.5h1.7v1.7h-1.7zM349.0 350.0h1.7v1.7h-1.7zM315.5 382.4h1.7v1.7h-1.7zM430.8 274.0h1.7v1.7h-1.7zM382.9 318.0h1.7v1.7h-1.7zM383.6 314.3h1.7v1.7h-1.7zM355.8 346.0h1.7v1.7h-1.7zM404.0 296.2h1.7v1.7h-1.7zM322.7 379.1h1.7v1.7h-1.7zM387.5 313.2h1.7v1.7h-1.7zM385.1 315.5h1.7v1.7h-1.7zM373.8 327.8h1.7v1.7h-1.7zM377.0 324.0h1.7v1.7h-1.7zM344.1 359.4h1.7v1.7h-1.7zM382.9 320.1h1.7v1.7h-1.7zM348.4 350.0h1.7v1.7h-1.7zM391.3 308.3h1.7v1.7h-1.7zM356.0 343.2h1.7v1.7h-1.7zM390.0 314.1h1.7v1.7h-1.7zM389.9 312.8h1.7v1.7h-1.7zM335.8 364.7h1.7v1.7h-1.7zM368.0 330.6h1.7v1.7h-1.7zM387.6 313.3h1.7v1.7h-1.7zM387.1 311.0h1.7v1.7h-1.7zM373.0 328.3h1.7v1.7h-1.7zM387.2 316.4h1.7v1.7h-1.7zM325.5 371.1h1.7v1.7h-1.7zM370.8 326.0h1.7v1.7h-1.7zM366.2 327.7h1.7v1.7h-1.7zM359.7 339.6h1.7v1.7h-1.7zM323.4 374.4h1.7v1.7h-1.7zM339.1 359.9h1.7v1.7h-1.7zM339.7 362.1h1.7v1.7h-1.7zM337.7 362.6h1.7v1.7h-1.7zM420.7 279.9h1.7v1.7h-1.7zM379.2 322.4h1.7v1.7h-1.7zM380.8 319.0h1.7v1.7h-1.7zM361.8 342.2h1.7v1.7h-1.7zM409.3 292.5h1.7v1.7h-1.7zM367.5 337.7h1.7v1.7h-1.7zM323.6 374.0h1.7v1.7h-1.7zM378.0 322.8h1.7v1.7h-1.7zM322.4 372.2h1.7v1.7h-1.7zM361.2 339.4h1.7v1.7h-1.7zM345.1 353.8h1.7v1.7h-1.7zM412.2 289.4h1.7v1.7h-1.7zM311.8 390.0h1.7v1.7h-1.7zM347.3 347.0h1.7v1.7h-1.7zM344.7 351.1h1.7v1.7h-1.7zM349.0 342.1h1.7v1.7h-1.7zM366.7 338.0h1.7v1.7h-1.7zM351.1 349.9h1.7v1.7h-1.7zM357.6 349.4h1.7v1.7h-1.7zM355.3 347.7h1.7v1.7h-1.7zM361.3 336.6h1.7v1.7h-1.7zM334.5 363.8h1.7v1.7h-1.7zM388.1 310.4h1.7v1.7h-1.7zM316.2 379.9h1.7v1.7h-1.7zM313.9 380.9h1.7v1.7h-1.7zM341.2 352.9h1.7v1.7h-1.7zM414.6 286.4h1.7v1.7h-1.7zM386.6 311.8h1.7v1.7h-1.7zM364.0 339.1h1.7v1.7h-1.7zM415.9 290.2h1.7v1.7h-1.7zM398.6 300.8h1.7v1.7h-1.7zM325.5 376.4h1.7v1.7h-1.7zM318.8 376.3h1.7v1.7h-1.7zM361.2 340.3h1.7v1.7h-1.7zM381.9 319.7h1.7v1.7h-1.7zM413.8 287.1h1.7v1.7h-1.7zM379.0 323.9h1.7v1.7h-1.7zM343.0 354.7h1.7v1.7h-1.7zM405.1 298.1h1.7v1.7h-1.7zM410.4 290.0h1.7v1.7h-1.7zM402.3 300.3h1.7v1.7h-1.7zM376.8 326.1h1.7v1.7h-1.7zM392.0 304.4h1.7v1.7h-1.7zM395.3 311.6h1.7v1.7h-1.7zM345.2 359.1h1.7v1.7h-1.7zM368.3 329.3h1.7v1.7h-1.7zM364.4 333.1h1.7v1.7h-1.7zM383.4 316.5h1.7v1.7h-1.7zM361.3 342.1h1.7v1.7h-1.7zM356.8 342.7h1.7v1.7h-1.7zM375.8 324.1h1.7v1.7h-1.7zM406.4 296.9h1.7v1.7h-1.7zM365.8 333.8h1.7v1.7h-1.7zM423.3 282.5h1.7v1.7h-1.7zM356.8 342.3h1.7v1.7h-1.7zM403.9 299.7h1.7v1.7h-1.7zM412.9 291.5h1.7v1.7h-1.7zM410.1 293.4h1.7v1.7h-1.7zM341.0 358.5h1.7v1.7h-1.7zM293.8 403.2h1.7v1.7h-1.7zM341.5 357.0h1.7v1.7h-1.7zM324.9 371.8h1.7v1.7h-1.7zM420.0 283.5h1.7v1.7h-1.7zM397.2 303.3h1.7v1.7h-1.7zM373.0 327.9h1.7v1.7h-1.7zM364.0 338.7h1.7v1.7h-1.7zM389.3 313.8h1.7v1.7h-1.7zM368.0 333.7h1.7v1.7h-1.7zM335.4 364.5h1.7v1.7h-1.7zM384.5 317.3h1.7v1.7h-1.7zM411.7 293.0h1.7v1.7h-1.7zM399.3 304.3h1.7v1.7h-1.7zM379.5 323.2h1.7v1.7h-1.7zM364.1 339.6h1.7v1.7h-1.7zM365.7 330.3h1.7v1.7h-1.7zM386.1 315.0h1.7v1.7h-1.7zM347.8 354.0h1.7v1.7h-1.7zM367.2 332.1h1.7v1.7h-1.7zM379.2 322.0h1.7v1.7h-1.7zM353.4 348.2h1.7v1.7h-1.7zM357.8 338.5h1.7v1.7h-1.7zM342.2 352.4h1.7v1.7h-1.7zM426.8 275.7h1.7v1.7h-1.7zM410.1 293.7h1.7v1.7h-1.7zM322.0 379.3h1.7v1.7h-1.7zM339.7 360.5h1.7v1.7h-1.7zM327.3 368.4h1.7v1.7h-1.7zM386.2 318.0h1.7v1.7h-1.7zM348.2 349.8h1.7v1.7h-1.7zM368.6 331.2h1.7v1.7h-1.7zM402.7 298.5h1.7v1.7h-1.7zM367.4 325.1h1.7v1.7h-1.7zM392.5 308.7h1.7v1.7h-1.7zM321.0 379.8h1.7v1.7h-1.7zM394.4 304.7h1.7v1.7h-1.7zM365.1 336.8h1.7v1.7h-1.7zM424.3 279.4h1.7v1.7h-1.7zM336.8 361.6h1.7v1.7h-1.7zM379.7 324.0h1.7v1.7h-1.7zM340.0 356.8h1.7v1.7h-1.7zM391.9 309.3h1.7v1.7h-1.7zM338.6 357.3h1.7v1.7h-1.7zM359.9 341.5h1.7v1.7h-1.7zM385.4 316.1h1.7v1.7h-1.7zM310.9 380.2h1.7v1.7h-1.7zM386.0 315.3h1.7v1.7h-1.7zM319.2 381.4h1.7v1.7h-1.7zM379.5 322.7h1.7v1.7h-1.7zM359.0 337.7h1.7v1.7h-1.7zM375.9 325.7h1.7v1.7h-1.7zM390.9 306.9h1.7v1.7h-1.7zM367.8 335.5h1.7v1.7h-1.7zM362.3 334.8h1.7v1.7h-1.7zM350.4 349.5h1.7v1.7h-1.7zM365.5 334.8h1.7v1.7h-1.7zM360.8 337.1h1.7v1.7h-1.7zM329.5 360.4h1.7v1.7h-1.7zM412.2 290.6h1.7v1.7h-1.7zM381.3 316.7h1.7v1.7h-1.7zM429.5 276.6h1.7v1.7h-1.7zM408.8 292.2h1.7v1.7h-1.7zM349.9 352.6h1.7v1.7h-1.7zM327.5 371.0h1.7v1.7h-1.7zM390.6 308.8h1.7v1.7h-1.7zM331.2 364.2h1.7v1.7h-1.7zM309.6 385.6h1.7v1.7h-1.7zM333.8 358.2h1.7v1.7h-1.7zM406.1 296.3h1.7v1.7h-1.7zM319.9 374.5h1.7v1.7h-1.7zM385.6 317.9h1.7v1.7h-1.7zM405.7 294.9h1.7v1.7h-1.7zM297.8 396.4h1.7v1.7h-1.7zM332.7 364.3h1.7v1.7h-1.7zM409.5 292.2h1.7v1.7h-1.7zM380.7 320.6h1.7v1.7h-1.7zM363.9 334.3h1.7v1.7h-1.7zM403.1 297.1h1.7v1.7h-1.7zM396.4 305.1h1.7v1.7h-1.7zM368.9 332.1h1.7v1.7h-1.7zM363.5 338.7h1.7v1.7h-1.7zM396.9 303.9h1.7v1.7h-1.7zM376.1 326.0h1.7v1.7h-1.7zM325.0 379.0h1.7v1.7h-1.7zM382.8 320.3h1.7v1.7h-1.7zM399.7 302.6h1.7v1.7h-1.7zM370.9 329.7h1.7v1.7h-1.7zM405.9 296.1h1.7v1.7h-1.7zM359.4 343.0h1.7v1.7h-1.7zM353.4 344.7h1.7v1.7h-1.7zM412.2 289.4h1.7v1.7h-1.7zM337.0 358.9h1.7v1.7h-1.7zM343.4 355.6h1.7v1.7h-1.7zM318.5 374.4h1.7v1.7h-1.7zM397.7 306.1h1.7v1.7h-1.7zM397.0 308.2h1.7v1.7h-1.7zM366.8 331.6h1.7v1.7h-1.7zM351.0 350.3h1.7v1.7h-1.7zM368.0 335.1h1.7v1.7h-1.7zM377.8 322.1h1.7v1.7h-1.7zM313.4 361.8h1.7v1.7h-1.7zM335.3 368.4h1.7v1.7h-1.7zM381.3 322.1h1.7v1.7h-1.7zM347.3 346.2h1.7v1.7h-1.7zM377.9 339.8h1.7v1.7h-1.7zM324.6 369.9h1.7v1.7h-1.7zM389.6 320.1h1.7v1.7h-1.7zM331.0 377.1h1.7v1.7h-1.7zM304.5 399.7h1.7v1.7h-1.7zM394.7 326.5h1.7v1.7h-1.7zM391.1 308.3h1.7v1.7h-1.7zM385.0 319.6h1.7v1.7h-1.7zM309.4 407.3h1.7v1.7h-1.7zM351.6 326.1h1.7v1.7h-1.7zM359.6 363.5h1.7v1.7h-1.7zM395.8 334.5h1.7v1.7h-1.7zM377.2 335.4h1.7v1.7h-1.7zM385.2 343.0h1.7v1.7h-1.7zM318.8 390.4h1.7v1.7h-1.7zM413.2 302.1h1.7v1.7h-1.7zM352.6 348.9h1.7v1.7h-1.7zM407.6 296.6h1.7v1.7h-1.7zM391.7 317.1h1.7v1.7h-1.7zM310.6 383.4h1.7v1.7h-1.7zM397.2 311.7h1.7v1.7h-1.7zM333.1 368.2h1.7v1.7h-1.7z"/><path fill="#f2961e" d="M424.8 281.4h1.7v1.7h-1.7zM352.8 349.2h1.7v1.7h-1.7zM332.4 366.9h1.7v1.7h-1.7zM323.3 382.4h1.7v1.7h-1.7zM352.1 350.0h1.7v1.7h-1.7zM364.0 343.0h1.7v1.7h-1.7zM334.1 372.0h1.7v1.7h-1.7zM353.5 352.3h1.7v1.7h-1.7zM381.0 321.2h1.7v1.7h-1.7zM403.7 300.5h1.7v1.7h-1.7zM384.8 321.2h1.7v1.7h-1.7zM375.0 332.7h1.7v1.7h-1.7zM324.7 373.4h1.7v1.7h-1.7zM329.0 376.0h1.7v1.7h-1.7zM366.8 336.5h1.7v1.7h-1.7zM382.8 323.1h1.7v1.7h-1.7zM358.5 347.2h1.7v1.7h-1.7zM397.1 314.3h1.7v1.7h-1.7zM355.8 344.5h1.7v1.7h-1.7zM321.4 382.1h1.7v1.7h-1.7zM335.5 365.4h1.7v1.7h-1.7zM379.7 323.9h1.7v1.7h-1.7zM372.4 333.8h1.7v1.7h-1.7zM410.2 294.6h1.7v1.7h-1.7zM369.2 338.9h1.7v1.7h-1.7zM315.2 383.7h1.7v1.7h-1.7zM319.8 384.7h1.7v1.7h-1.7zM354.7 346.5h1.7v1.7h-1.7zM379.3 319.5h1.7v1.7h-1.7zM390.3 313.9h1.7v1.7h-1.7zM387.9 311.6h1.7v1.7h-1.7zM342.0 359.4h1.7v1.7h-1.7zM348.5 353.0h1.7v1.7h-1.7zM402.4 302.5h1.7v1.7h-1.7zM352.7 350.2h1.7v1.7h-1.7zM350.7 358.0h1.7v1.7h-1.7zM307.9 390.5h1.7v1.7h-1.7zM378.7 327.5h1.7v1.7h-1.7zM383.5 321.5h1.7v1.7h-1.7zM362.8 337.0h1.7v1.7h-1.7zM376.4 326.5h1.7v1.7h-1.7zM358.7 348.1h1.7v1.7h-1.7zM355.4 350.8h1.7v1.7h-1.7zM315.3 379.9h1.7v1.7h-1.7zM403.0 301.8h1.7v1.7h-1.7zM360.5 344.0h1.7v1.7h-1.7zM401.0 302.4h1.7v1.7h-1.7zM347.5 360.4h1.7v1.7h-1.7zM402.8 305.5h1.7v1.7h-1.7zM386.8 316.6h1.7v1.7h-1.7zM384.0 319.2h1.7v1.7h-1.7zM332.8 367.2h1.7v1.7h-1.7zM350.7 353.7h1.7v1.7h-1.7zM379.8 326.6h1.7v1.7h-1.7zM407.7 297.0h1.7v1.7h-1.7zM356.7 348.4h1.7v1.7h-1.7zM339.3 363.5h1.7v1.7h-1.7zM348.2 359.1h1.7v1.7h-1.7zM397.7 310.1h1.7v1.7h-1.7zM321.9 378.4h1.7v1.7h-1.7zM361.7 337.2h1.7v1.7h-1.7zM356.8 347.6h1.7v1.7h-1.7zM357.2 349.1h1.7v1.7h-1.7zM333.5 362.0h1.7v1.7h-1.7zM339.1 362.5h1.7v1.7h-1.7zM346.9 356.7h1.7v1.7h-1.7zM350.6 354.4h1.7v1.7h-1.7zM375.9 325.9h1.7v1.7h-1.7zM316.0 384.0h1.7v1.7h-1.7zM405.5 298.1h1.7v1.7h-1.7zM362.7 339.2h1.7v1.7h-1.7zM403.0 305.5h1.7v1.7h-1.7zM312.5 383.6h1.7v1.7h-1.7zM355.7 342.4h1.7v1.7h-1.7zM355.2 346.1h1.7v1.7h-1.7zM406.0 297.4h1.7v1.7h-1.7zM326.9 372.9h1.7v1.7h-1.7zM404.2 300.1h1.7v1.7h-1.7zM350.8 349.9h1.7v1.7h-1.7zM362.4 341.5h1.7v1.7h-1.7zM390.0 318.3h1.7v1.7h-1.7zM347.7 354.7h1.7v1.7h-1.7zM402.0 300.5h1.7v1.7h-1.7zM393.3 312.2h1.7v1.7h-1.7zM379.0 326.1h1.7v1.7h-1.7zM352.2 355.2h1.7v1.7h-1.7zM386.1 320.5h1.7v1.7h-1.7zM413.5 291.6h1.7v1.7h-1.7zM329.5 375.3h1.7v1.7h-1.7zM330.5 371.3h1.7v1.7h-1.7zM403.3 301.4h1.7v1.7h-1.7zM365.6 341.1h1.7v1.7h-1.7zM314.7 382.2h1.7v1.7h-1.7zM368.0 333.6h1.7v1.7h-1.7zM370.8 333.1h1.7v1.7h-1.7zM412.0 295.4h1.7v1.7h-1.7zM318.2 384.2h1.7v1.7h-1.7zM315.8 386.4h1.7v1.7h-1.7zM354.0 348.7h1.7v1.7h-1.7zM385.6 314.1h1.7v1.7h-1.7zM337.5 363.5h1.7v1.7h-1.7zM383.9 324.7h1.7v1.7h-1.7zM378.3 330.1h1.7v1.7h-1.7zM337.2 364.4h1.7v1.7h-1.7zM358.9 339.7h1.7v1.7h-1.7zM368.4 332.9h1.7v1.7h-1.7zM316.1 382.8h1.7v1.7h-1.7zM384.5 317.6h1.7v1.7h-1.7zM394.3 313.6h1.7v1.7h-1.7zM398.8 306.7h1.7v1.7h-1.7zM357.7 352.9h1.7v1.7h-1.7zM357.4 349.1h1.7v1.7h-1.7zM375.8 325.5h1.7v1.7h-1.7zM368.2 333.6h1.7v1.7h-1.7zM395.9 311.1h1.7v1.7h-1.7zM345.4 350.6h1.7v1.7h-1.7zM376.1 323.6h1.7v1.7h-1.7zM379.0 322.0h1.7v1.7h-1.7zM388.5 315.0h1.7v1.7h-1.7zM376.7 334.5h1.7v1.7h-1.7zM370.1 333.1h1.7v1.7h-1.7zM358.5 344.4h1.7v1.7h-1.7zM397.0 302.8h1.7v1.7h-1.7zM317.3 380.5h1.7v1.7h-1.7zM364.9 341.8h1.7v1.7h-1.7zM417.2 288.6h1.7v1.7h-1.7zM362.1 341.3h1.7v1.7h-1.7zM402.2 304.2h1.7v1.7h-1.7zM358.4 347.8h1.7v1.7h-1.7zM409.6 296.0h1.7v1.7h-1.7zM415.3 291.2h1.7v1.7h-1.7zM332.0 370.5h1.7v1.7h-1.7zM311.0 389.0h1.7v1.7h-1.7zM360.3 350.4h1.7v1.7h-1.7zM416.4 292.4h1.7v1.7h-1.7zM344.3 362.1h1.7v1.7h-1.7zM338.3 370.9h1.7v1.7h-1.7zM386.9 316.9h1.7v1.7h-1.7zM331.7 368.7h1.7v1.7h-1.7zM396.2 308.0h1.7v1.7h-1.7zM403.2 302.1h1.7v1.7h-1.7zM387.4 318.0h1.7v1.7h-1.7zM367.3 332.6h1.7v1.7h-1.7zM306.2 392.1h1.7v1.7h-1.7zM386.3 313.6h1.7v1.7h-1.7zM344.4 358.1h1.7v1.7h-1.7zM352.5 352.6h1.7v1.7h-1.7zM420.8 281.6h1.7v1.7h-1.7zM368.6 337.7h1.7v1.7h-1.7zM339.3 364.2h1.7v1.7h-1.7zM351.7 353.2h1.7v1.7h-1.7zM378.1 323.7h1.7v1.7h-1.7zM311.5 394.1h1.7v1.7h-1.7zM389.3 315.3h1.7v1.7h-1.7zM400.2 306.0h1.7v1.7h-1.7zM339.6 366.4h1.7v1.7h-1.7zM315.6 384.8h1.7v1.7h-1.7zM387.7 315.6h1.7v1.7h-1.7zM367.6 337.3h1.7v1.7h-1.7zM407.0 300.9h1.7v1.7h-1.7zM322.4 381.3h1.7v1.7h-1.7zM401.2 303.6h1.7v1.7h-1.7zM368.9 336.5h1.7v1.7h-1.7zM415.2 291.8h1.7v1.7h-1.7zM330.1 374.4h1.7v1.7h-1.7zM390.0 314.6h1.7v1.7h-1.7zM322.2 380.8h1.7v1.7h-1.7zM375.8 335.0h1.7v1.7h-1.7zM330.0 373.6h1.7v1.7h-1.7zM381.8 326.5h1.7v1.7h-1.7zM373.4 332.0h1.7v1.7h-1.7zM331.5 367.5h1.7v1.7h-1.7zM329.9 373.6h1.7v1.7h-1.7zM398.2 305.2h1.7v1.7h-1.7zM405.4 296.5h1.7v1.7h-1.7zM408.4 297.1h1.7v1.7h-1.7zM350.6 347.1h1.7v1.7h-1.7zM409.7 297.8h1.7v1.7h-1.7zM359.5 342.7h1.7v1.7h-1.7zM341.5 358.6h1.7v1.7h-1.7zM410.6 291.3h1.7v1.7h-1.7zM429.5 277.2h1.7v1.7h-1.7zM392.5 314.8h1.7v1.7h-1.7zM377.0 325.8h1.7v1.7h-1.7zM320.7 380.9h1.7v1.7h-1.7zM390.7 316.5h1.7v1.7h-1.7zM385.0 319.6h1.7v1.7h-1.7zM345.3 357.5h1.7v1.7h-1.7zM329.8 371.6h1.7v1.7h-1.7zM365.4 337.4h1.7v1.7h-1.7zM413.0 293.4h1.7v1.7h-1.7zM399.1 305.2h1.7v1.7h-1.7zM412.9 294.9h1.7v1.7h-1.7zM298.9 398.5h1.7v1.7h-1.7zM381.8 322.0h1.7v1.7h-1.7zM349.4 353.6h1.7v1.7h-1.7zM350.0 353.3h1.7v1.7h-1.7zM372.4 332.6h1.7v1.7h-1.7zM343.5 357.6h1.7v1.7h-1.7zM347.7 355.6h1.7v1.7h-1.7zM347.2 357.5h1.7v1.7h-1.7zM340.1 363.1h1.7v1.7h-1.7zM327.0 374.0h1.7v1.7h-1.7zM410.7 294.7h1.7v1.7h-1.7zM378.2 332.2h1.7v1.7h-1.7zM377.7 325.9h1.7v1.7h-1.7zM320.1 379.7h1.7v1.7h-1.7zM424.9 279.7h1.7v1.7h-1.7zM394.3 307.7h1.7v1.7h-1.7zM354.2 348.8h1.7v1.7h-1.7zM342.2 360.4h1.7v1.7h-1.7zM356.9 349.4h1.7v1.7h-1.7zM318.7 384.0h1.7v1.7h-1.7zM339.1 365.5h1.7v1.7h-1.7zM390.4 309.8h1.7v1.7h-1.7zM368.5 336.5h1.7v1.7h-1.7zM420.6 283.8h1.7v1.7h-1.7zM357.8 343.6h1.7v1.7h-1.7zM354.0 345.9h1.7v1.7h-1.7zM388.9 318.2h1.7v1.7h-1.7zM412.4 293.5h1.7v1.7h-1.7zM349.4 351.4h1.7v1.7h-1.7zM401.5 302.3h1.7v1.7h-1.7zM416.7 285.0h1.7v1.7h-1.7zM337.0 365.2h1.7v1.7h-1.7zM390.5 313.9h1.7v1.7h-1.7zM391.2 314.3h1.7v1.7h-1.7zM333.5 366.8h1.7v1.7h-1.7zM384.7 321.8h1.7v1.7h-1.7zM371.6 333.8h1.7v1.7h-1.7zM339.8 362.1h1.7v1.7h-1.7zM327.8 372.6h1.7v1.7h-1.7zM328.0 378.0h1.7v1.7h-1.7zM304.4 394.3h1.7v1.7h-1.7zM404.6 300.1h1.7v1.7h-1.7zM405.5 302.2h1.7v1.7h-1.7zM367.1 336.4h1.7v1.7h-1.7zM370.5 336.0h1.7v1.7h-1.7zM339.2 361.3h1.7v1.7h-1.7zM329.1 374.0h1.7v1.7h-1.7zM400.8 303.5h1.7v1.7h-1.7zM403.5 303.9h1.7v1.7h-1.7zM380.6 327.7h1.7v1.7h-1.7zM362.7 343.8h1.7v1.7h-1.7zM324.1 377.8h1.7v1.7h-1.7zM372.9 335.4h1.7v1.7h-1.7zM405.2 297.9h1.7v1.7h-1.7zM409.0 296.0h1.7v1.7h-1.7zM344.5 358.8h1.7v1.7h-1.7zM363.8 346.7h1.7v1.7h-1.7zM390.1 316.3h1.7v1.7h-1.7zM319.1 371.4h1.7v1.7h-1.7zM356.0 349.7h1.7v1.7h-1.7zM363.1 341.1h1.7v1.7h-1.7zM356.4 349.9h1.7v1.7h-1.7zM305.7 385.4h1.7v1.7h-1.7zM370.0 317.0h1.7v1.7h-1.7zM407.3 291.8h1.7v1.7h-1.7z"/><path fill="#c83a24" d="M339.1 360.2h1.7v1.7h-1.7zM328.7 370.2h1.7v1.7h-1.7zM422.7 281.5h1.7v1.7h-1.7zM352.7 352.6h1.7v1.7h-1.7zM379.8 317.1h1.7v1.7h-1.7zM404.7 300.4h1.7v1.7h-1.7zM380.6 322.0h1.7v1.7h-1.7zM359.5 338.9h1.7v1.7h-1.7zM392.6 307.3h1.7v1.7h-1.7zM390.5 316.1h1.7v1.7h-1.7zM352.1 340.4h1.7v1.7h-1.7zM392.3 306.2h1.7v1.7h-1.7zM343.8 357.2h1.7v1.7h-1.7zM325.0 370.3h1.7v1.7h-1.7zM394.2 309.6h1.7v1.7h-1.7zM361.2 343.1h1.7v1.7h-1.7zM373.7 331.1h1.7v1.7h-1.7zM316.1 380.6h1.7v1.7h-1.7zM331.2 367.6h1.7v1.7h-1.7zM351.4 357.3h1.7v1.7h-1.7zM371.6 330.3h1.7v1.7h-1.7zM376.0 323.8h1.7v1.7h-1.7zM345.5 353.1h1.7v1.7h-1.7zM377.1 328.3h1.7v1.7h-1.7zM331.5 363.2h1.7v1.7h-1.7zM368.5 335.1h1.7v1.7h-1.7zM379.1 326.1h1.7v1.7h-1.7zM355.1 342.2h1.7v1.7h-1.7zM377.3 319.7h1.7v1.7h-1.7zM375.3 328.3h1.7v1.7h-1.7zM373.5 333.3h1.7v1.7h-1.7zM354.1 343.6h1.7v1.7h-1.7zM373.6 326.8h1.7v1.7h-1.7zM395.2 303.9h1.7v1.7h-1.7zM313.9 383.3h1.7v1.7h-1.7zM380.6 320.3h1.7v1.7h-1.7zM349.2 352.9h1.7v1.7h-1.7zM398.6 302.3h1.7v1.7h-1.7zM337.2 363.6h1.7v1.7h-1.7zM378.3 322.8h1.7v1.7h-1.7zM419.0 282.9h1.7v1.7h-1.7zM410.8 295.1h1.7v1.7h-1.7zM305.8 393.5h1.7v1.7h-1.7zM362.6 336.9h1.7v1.7h-1.7zM419.7 284.2h1.7v1.7h-1.7zM355.9 348.6h1.7v1.7h-1.7zM363.1 340.2h1.7v1.7h-1.7zM327.4 374.0h1.7v1.7h-1.7zM390.7 317.2h1.7v1.7h-1.7zM364.5 337.5h1.7v1.7h-1.7zM349.1 355.1h1.7v1.7h-1.7zM339.4 358.6h1.7v1.7h-1.7zM374.9 324.4h1.7v1.7h-1.7zM324.4 372.5h1.7v1.7h-1.7zM377.1 321.3h1.7v1.7h-1.7zM406.7 292.5h1.7v1.7h-1.7zM397.9 300.2h1.7v1.7h-1.7zM353.0 344.7h1.7v1.7h-1.7zM339.8 362.5h1.7v1.7h-1.7zM410.4 292.7h1.7v1.7h-1.7zM418.9 281.5h1.7v1.7h-1.7zM371.9 328.4h1.7v1.7h-1.7zM380.3 320.3h1.7v1.7h-1.7zM409.7 293.3h1.7v1.7h-1.7zM407.2 297.9h1.7v1.7h-1.7zM399.2 303.6h1.7v1.7h-1.7zM410.2 293.0h1.7v1.7h-1.7zM363.7 332.2h1.7v1.7h-1.7zM379.4 323.9h1.7v1.7h-1.7zM332.7 367.3h1.7v1.7h-1.7zM377.7 322.1h1.7v1.7h-1.7zM344.4 358.0h1.7v1.7h-1.7zM355.7 345.8h1.7v1.7h-1.7zM373.0 335.8h1.7v1.7h-1.7zM385.6 311.0h1.7v1.7h-1.7zM359.8 341.5h1.7v1.7h-1.7zM408.7 294.2h1.7v1.7h-1.7zM366.3 336.1h1.7v1.7h-1.7zM376.9 326.5h1.7v1.7h-1.7zM375.1 323.8h1.7v1.7h-1.7zM323.0 372.8h1.7v1.7h-1.7zM340.4 355.7h1.7v1.7h-1.7zM337.5 366.6h1.7v1.7h-1.7zM332.3 373.1h1.7v1.7h-1.7zM422.2 282.9h1.7v1.7h-1.7zM328.3 372.6h1.7v1.7h-1.7zM404.6 303.2h1.7v1.7h-1.7zM374.5 327.7h1.7v1.7h-1.7zM378.4 330.7h1.7v1.7h-1.7zM381.1 320.6h1.7v1.7h-1.7zM373.5 328.6h1.7v1.7h-1.7zM289.5 406.8h1.7v1.7h-1.7zM342.9 357.6h1.7v1.7h-1.7zM424.7 278.6h1.7v1.7h-1.7zM376.4 322.0h1.7v1.7h-1.7zM313.6 381.5h1.7v1.7h-1.7zM357.0 342.2h1.7v1.7h-1.7zM420.9 286.2h1.7v1.7h-1.7zM367.0 337.9h1.7v1.7h-1.7zM418.0 283.8h1.7v1.7h-1.7zM395.4 304.0h1.7v1.7h-1.7zM369.5 326.7h1.7v1.7h-1.7zM386.1 318.3h1.7v1.7h-1.7zM324.5 374.7h1.7v1.7h-1.7zM308.6 383.0h1.7v1.7h-1.7zM411.7 286.2h1.7v1.7h-1.7zM407.2 295.3h1.7v1.7h-1.7zM398.7 304.8h1.7v1.7h-1.7zM385.8 318.1h1.7v1.7h-1.7zM333.8 361.5h1.7v1.7h-1.7zM405.7 298.5h1.7v1.7h-1.7zM406.2 296.1h1.7v1.7h-1.7zM389.7 308.2h1.7v1.7h-1.7zM342.7 355.2h1.7v1.7h-1.7zM322.4 375.5h1.7v1.7h-1.7zM396.3 303.4h1.7v1.7h-1.7zM397.0 306.9h1.7v1.7h-1.7zM380.6 320.3h1.7v1.7h-1.7zM389.9 316.5h1.7v1.7h-1.7zM405.5 301.9h1.7v1.7h-1.7zM381.4 316.9h1.7v1.7h-1.7zM394.1 309.0h1.7v1.7h-1.7zM338.8 359.9h1.7v1.7h-1.7zM371.2 327.2h1.7v1.7h-1.7zM379.6 321.4h1.7v1.7h-1.7zM366.3 332.6h1.7v1.7h-1.7zM319.2 379.5h1.7v1.7h-1.7zM398.7 302.5h1.7v1.7h-1.7zM391.2 311.1h1.7v1.7h-1.7zM361.2 340.1h1.7v1.7h-1.7zM374.8 327.1h1.7v1.7h-1.7zM388.6 312.4h1.7v1.7h-1.7zM364.9 341.3h1.7v1.7h-1.7zM385.5 322.9h1.7v1.7h-1.7zM406.5 293.1h1.7v1.7h-1.7zM366.3 335.6h1.7v1.7h-1.7zM338.1 357.7h1.7v1.7h-1.7zM370.3 326.3h1.7v1.7h-1.7zM364.3 336.3h1.7v1.7h-1.7zM382.2 324.0h1.7v1.7h-1.7zM367.2 335.8h1.7v1.7h-1.7zM361.2 338.7h1.7v1.7h-1.7zM335.3 358.5h1.7v1.7h-1.7zM370.1 325.9h1.7v1.7h-1.7zM379.1 325.8h1.7v1.7h-1.7zM364.9 338.4h1.7v1.7h-1.7zM348.7 350.8h1.7v1.7h-1.7zM402.8 301.3h1.7v1.7h-1.7zM382.1 321.2h1.7v1.7h-1.7zM367.9 337.6h1.7v1.7h-1.7zM388.7 313.4h1.7v1.7h-1.7zM335.0 369.0h1.7v1.7h-1.7zM359.7 338.7h1.7v1.7h-1.7zM414.3 290.3h1.7v1.7h-1.7zM380.9 317.0h1.7v1.7h-1.7zM364.3 345.5h1.7v1.7h-1.7zM343.7 355.3h1.7v1.7h-1.7zM392.8 303.8h1.7v1.7h-1.7zM388.7 313.7h1.7v1.7h-1.7zM375.6 322.9h1.7v1.7h-1.7zM402.6 302.5h1.7v1.7h-1.7zM310.2 383.0h1.7v1.7h-1.7zM377.7 324.3h1.7v1.7h-1.7z"/><path fill="#a62620" d="M380.4 319.6h1.7v1.7h-1.7zM407.6 293.6h1.7v1.7h-1.7zM321.0 375.9h1.7v1.7h-1.7zM380.4 325.2h1.7v1.7h-1.7zM374.9 323.7h1.7v1.7h-1.7zM385.4 317.0h1.7v1.7h-1.7zM425.6 277.6h1.7v1.7h-1.7zM403.4 303.1h1.7v1.7h-1.7zM367.4 335.9h1.7v1.7h-1.7zM400.8 300.1h1.7v1.7h-1.7zM427.6 276.9h1.7v1.7h-1.7zM346.4 350.4h1.7v1.7h-1.7zM408.7 293.8h1.7v1.7h-1.7zM352.7 344.1h1.7v1.7h-1.7zM325.0 374.5h1.7v1.7h-1.7zM385.5 318.6h1.7v1.7h-1.7zM356.1 342.5h1.7v1.7h-1.7zM345.3 353.8h1.7v1.7h-1.7zM388.3 310.0h1.7v1.7h-1.7zM416.2 289.1h1.7v1.7h-1.7zM384.4 315.3h1.7v1.7h-1.7zM370.4 332.1h1.7v1.7h-1.7zM316.8 379.3h1.7v1.7h-1.7zM350.0 350.8h1.7v1.7h-1.7zM410.0 290.5h1.7v1.7h-1.7zM345.9 354.7h1.7v1.7h-1.7zM347.6 353.6h1.7v1.7h-1.7zM371.2 331.7h1.7v1.7h-1.7zM387.8 315.8h1.7v1.7h-1.7zM329.3 371.0h1.7v1.7h-1.7zM385.7 310.3h1.7v1.7h-1.7zM352.1 344.5h1.7v1.7h-1.7zM390.1 313.0h1.7v1.7h-1.7zM413.0 289.0h1.7v1.7h-1.7zM349.9 353.8h1.7v1.7h-1.7zM325.3 371.7h1.7v1.7h-1.7zM409.5 295.0h1.7v1.7h-1.7zM388.5 310.2h1.7v1.7h-1.7zM358.3 341.7h1.7v1.7h-1.7zM392.9 311.6h1.7v1.7h-1.7zM377.6 323.9h1.7v1.7h-1.7zM405.3 297.5h1.7v1.7h-1.7zM359.4 340.7h1.7v1.7h-1.7zM391.9 313.0h1.7v1.7h-1.7zM376.1 324.8h1.7v1.7h-1.7zM365.3 337.0h1.7v1.7h-1.7zM349.3 351.9h1.7v1.7h-1.7zM420.8 282.3h1.7v1.7h-1.7zM370.2 331.8h1.7v1.7h-1.7zM348.1 353.6h1.7v1.7h-1.7zM359.1 340.6h1.7v1.7h-1.7zM357.9 338.2h1.7v1.7h-1.7zM409.4 293.0h1.7v1.7h-1.7zM408.7 294.9h1.7v1.7h-1.7zM380.9 324.0h1.7v1.7h-1.7zM338.4 358.6h1.7v1.7h-1.7zM296.9 397.8h1.7v1.7h-1.7zM383.9 315.0h1.7v1.7h-1.7zM326.5 369.6h1.7v1.7h-1.7zM362.4 341.0h1.7v1.7h-1.7zM391.6 307.2h1.7v1.7h-1.7zM391.7 309.2h1.7v1.7h-1.7zM357.0 341.5h1.7v1.7h-1.7zM371.7 329.9h1.7v1.7h-1.7zM371.6 328.8h1.7v1.7h-1.7zM375.4 328.3h1.7v1.7h-1.7zM401.5 307.2h1.7v1.7h-1.7zM423.4 278.9h1.7v1.7h-1.7zM384.9 317.0h1.7v1.7h-1.7zM428.7 275.3h1.7v1.7h-1.7zM330.8 362.5h1.7v1.7h-1.7zM404.2 296.6h1.7v1.7h-1.7zM427.2 276.3h1.7v1.7h-1.7zM377.8 319.2h1.7v1.7h-1.7zM401.0 297.9h1.7v1.7h-1.7zM375.0 325.2h1.7v1.7h-1.7zM379.7 315.1h1.7v1.7h-1.7zM378.2 318.1h1.7v1.7h-1.7zM360.4 336.6h1.7v1.7h-1.7zM307.9 384.7h1.7v1.7h-1.7zM343.6 353.3h1.7v1.7h-1.7zM355.5 347.2h1.7v1.7h-1.7zM339.7 355.1h1.7v1.7h-1.7zM402.7 299.9h1.7v1.7h-1.7zM394.4 302.6h1.7v1.7h-1.7zM421.2 283.2h1.7v1.7h-1.7zM359.3 338.1h1.7v1.7h-1.7zM413.3 289.7h1.7v1.7h-1.7zM338.6 359.5h1.7v1.7h-1.7zM376.0 327.5h1.7v1.7h-1.7zM390.9 313.2h1.7v1.7h-1.7zM296.0 400.3h1.7v1.7h-1.7zM381.4 316.2h1.7v1.7h-1.7zM349.7 343.3h1.7v1.7h-1.7zM404.2 300.5h1.7v1.7h-1.7zM386.3 315.7h1.7v1.7h-1.7zM372.4 327.1h1.7v1.7h-1.7zM408.7 294.4h1.7v1.7h-1.7zM321.3 378.5h1.7v1.7h-1.7zM355.5 348.1h1.7v1.7h-1.7zM415.1 289.8h1.7v1.7h-1.7zM371.1 324.3h1.7v1.7h-1.7zM383.3 316.6h1.7v1.7h-1.7zM323.9 374.5h1.7v1.7h-1.7zM373.4 327.1h1.7v1.7h-1.7zM377.3 324.5h1.7v1.7h-1.7zM330.9 368.3h1.7v1.7h-1.7zM359.7 335.8h1.7v1.7h-1.7zM374.3 320.6h1.7v1.7h-1.7zM346.9 351.7h1.7v1.7h-1.7zM331.1 364.2h1.7v1.7h-1.7zM332.0 374.9h1.7v1.7h-1.7zM308.4 381.6h1.7v1.7h-1.7zM396.3 309.4h1.7v1.7h-1.7zM320.0 379.9h1.7v1.7h-1.7zM309.1 382.0h1.7v1.7h-1.7zM337.8 362.7h1.7v1.7h-1.7zM414.5 289.0h1.7v1.7h-1.7zM310.8 381.1h1.7v1.7h-1.7zM356.9 348.4h1.7v1.7h-1.7zM386.1 318.7h1.7v1.7h-1.7zM388.8 310.3h1.7v1.7h-1.7zM309.4 384.4h1.7v1.7h-1.7zM334.3 367.2h1.7v1.7h-1.7zM410.1 292.3h1.7v1.7h-1.7zM305.9 392.4h1.7v1.7h-1.7zM401.0 299.8h1.7v1.7h-1.7zM340.1 363.1h1.7v1.7h-1.7zM386.2 315.1h1.7v1.7h-1.7zM399.3 301.7h1.7v1.7h-1.7zM361.5 339.2h1.7v1.7h-1.7zM359.8 340.6h1.7v1.7h-1.7zM424.7 281.7h1.7v1.7h-1.7zM425.1 277.3h1.7v1.7h-1.7zM402.0 301.3h1.7v1.7h-1.7zM385.1 317.2h1.7v1.7h-1.7zM342.8 353.4h1.7v1.7h-1.7zM372.6 330.1h1.7v1.7h-1.7zM402.2 299.9h1.7v1.7h-1.7zM398.7 305.8h1.7v1.7h-1.7zM338.3 358.0h1.7v1.7h-1.7zM385.7 314.6h1.7v1.7h-1.7zM382.5 316.7h1.7v1.7h-1.7zM379.2 320.5h1.7v1.7h-1.7zM403.6 298.4h1.7v1.7h-1.7zM335.0 364.8h1.7v1.7h-1.7zM396.8 305.2h1.7v1.7h-1.7zM399.6 299.4h1.7v1.7h-1.7zM324.5 376.3h1.7v1.7h-1.7zM332.4 366.4h1.7v1.7h-1.7zM389.0 312.5h1.7v1.7h-1.7zM417.4 285.1h1.7v1.7h-1.7zM350.9 344.3h1.7v1.7h-1.7zM377.2 324.5h1.7v1.7h-1.7zM344.8 355.7h1.7v1.7h-1.7zM402.6 300.1h1.7v1.7h-1.7zM334.3 364.8h1.7v1.7h-1.7zM361.4 340.4h1.7v1.7h-1.7zM339.7 358.1h1.7v1.7h-1.7zM423.9 279.6h1.7v1.7h-1.7zM355.9 340.7h1.7v1.7h-1.7zM308.5 384.6h1.7v1.7h-1.7zM344.9 350.6h1.7v1.7h-1.7zM366.6 332.8h1.7v1.7h-1.7zM423.3 279.5h1.7v1.7h-1.7zM403.5 295.1h1.7v1.7h-1.7zM393.6 308.0h1.7v1.7h-1.7zM294.9 401.8h1.7v1.7h-1.7zM402.2 296.1h1.7v1.7h-1.7zM371.7 327.1h1.7v1.7h-1.7zM358.9 343.3h1.7v1.7h-1.7zM314.7 387.0h1.7v1.7h-1.7zM369.3 331.7h1.7v1.7h-1.7zM403.9 298.7h1.7v1.7h-1.7zM358.6 346.3h1.7v1.7h-1.7zM351.8 347.6h1.7v1.7h-1.7zM403.4 294.6h1.7v1.7h-1.7zM314.2 391.5h1.7v1.7h-1.7zM413.4 290.6h1.7v1.7h-1.7zM370.0 330.5h1.7v1.7h-1.7zM376.4 318.1h1.7v1.7h-1.7zM371.3 329.1h1.7v1.7h-1.7zM419.7 284.5h1.7v1.7h-1.7zM348.4 350.9h1.7v1.7h-1.7zM399.2 304.0h1.7v1.7h-1.7zM369.9 331.8h1.7v1.7h-1.7zM381.6 317.6h1.7v1.7h-1.7zM375.2 322.9h1.7v1.7h-1.7zM365.4 331.1h1.7v1.7h-1.7zM364.8 334.6h1.7v1.7h-1.7zM413.1 288.7h1.7v1.7h-1.7zM379.5 320.8h1.7v1.7h-1.7zM384.1 314.6h1.7v1.7h-1.7zM412.4 290.4h1.7v1.7h-1.7zM340.9 354.1h1.7v1.7h-1.7zM389.3 308.8h1.7v1.7h-1.7zM400.0 302.3h1.7v1.7h-1.7zM359.1 334.8h1.7v1.7h-1.7zM340.8 358.1h1.7v1.7h-1.7zM364.7 339.4h1.7v1.7h-1.7zM386.1 314.9h1.7v1.7h-1.7zM392.5 308.6h1.7v1.7h-1.7zM389.6 307.8h1.7v1.7h-1.7zM373.4 329.2h1.7v1.7h-1.7zM367.3 332.4h1.7v1.7h-1.7zM344.8 356.4h1.7v1.7h-1.7zM360.8 338.0h1.7v1.7h-1.7zM324.6 366.9h1.7v1.7h-1.7zM326.3 372.2h1.7v1.7h-1.7zM410.5 293.7h1.7v1.7h-1.7zM342.6 351.3h1.7v1.7h-1.7zM359.0 345.5h1.7v1.7h-1.7zM362.1 339.1h1.7v1.7h-1.7zM405.2 296.4h1.7v1.7h-1.7zM405.9 296.2h1.7v1.7h-1.7zM373.5 328.4h1.7v1.7h-1.7zM404.4 297.0h1.7v1.7h-1.7zM397.5 303.6h1.7v1.7h-1.7zM390.0 312.2h1.7v1.7h-1.7zM372.9 333.7h1.7v1.7h-1.7zM409.8 290.4h1.7v1.7h-1.7zM342.3 356.9h1.7v1.7h-1.7zM374.7 326.4h1.7v1.7h-1.7zM385.7 313.9h1.7v1.7h-1.7zM325.3 369.3h1.7v1.7h-1.7zM390.1 312.5h1.7v1.7h-1.7zM345.4 353.0h1.7v1.7h-1.7zM350.2 352.8h1.7v1.7h-1.7zM329.5 366.7h1.7v1.7h-1.7zM368.2 332.0h1.7v1.7h-1.7zM389.9 311.0h1.7v1.7h-1.7zM377.0 321.3h1.7v1.7h-1.7zM378.8 322.0h1.7v1.7h-1.7zM341.3 352.6h1.7v1.7h-1.7zM375.0 329.2h1.7v1.7h-1.7zM354.2 344.3h1.7v1.7h-1.7zM374.5 326.8h1.7v1.7h-1.7zM367.5 337.6h1.7v1.7h-1.7zM349.4 349.7h1.7v1.7h-1.7zM346.1 349.6h1.7v1.7h-1.7zM319.4 378.4h1.7v1.7h-1.7zM361.1 339.5h1.7v1.7h-1.7zM381.0 319.3h1.7v1.7h-1.7zM335.4 370.0h1.7v1.7h-1.7zM378.6 323.8h1.7v1.7h-1.7zM366.2 334.9h1.7v1.7h-1.7zM356.8 347.5h1.7v1.7h-1.7zM379.9 321.4h1.7v1.7h-1.7zM353.7 346.3h1.7v1.7h-1.7zM321.9 373.9h1.7v1.7h-1.7zM337.3 369.6h1.7v1.7h-1.7zM379.1 322.9h1.7v1.7h-1.7zM414.9 285.3h1.7v1.7h-1.7zM397.5 307.8h1.7v1.7h-1.7zM346.9 351.7h1.7v1.7h-1.7zM345.6 355.2h1.7v1.7h-1.7zM418.0 287.0h1.7v1.7h-1.7zM349.3 353.9h1.7v1.7h-1.7zM427.4 277.3h1.7v1.7h-1.7zM365.5 334.4h1.7v1.7h-1.7zM372.4 327.4h1.7v1.7h-1.7zM375.6 322.1h1.7v1.7h-1.7zM337.8 357.8h1.7v1.7h-1.7zM367.7 334.7h1.7v1.7h-1.7zM343.6 344.8h1.7v1.7h-1.7zM419.6 316.3h1.7v1.7h-1.7zM369.8 329.2h1.7v1.7h-1.7zM321.5 387.1h1.7v1.7h-1.7zM357.5 348.2h1.7v1.7h-1.7zM319.7 369.0h1.7v1.7h-1.7zM384.1 320.5h1.7v1.7h-1.7zM310.8 381.9h1.7v1.7h-1.7zM341.9 365.5h1.7v1.7h-1.7zM304.2 391.0h1.7v1.7h-1.7zM376.1 318.8h1.7v1.7h-1.7zM397.4 288.4h1.7v1.7h-1.7zM318.1 373.9h1.7v1.7h-1.7zM359.7 342.7h1.7v1.7h-1.7zM348.8 338.7h1.7v1.7h-1.7zM331.4 384.7h1.7v1.7h-1.7zM369.7 348.5h1.7v1.7h-1.7zM345.4 351.0h1.7v1.7h-1.7zM304.4 380.8h1.7v1.7h-1.7zM343.4 362.5h1.7v1.7h-1.7zM387.4 307.1h1.7v1.7h-1.7zM310.4 370.3h1.7v1.7h-1.7zM380.9 311.9h1.7v1.7h-1.7zM349.8 361.4h1.7v1.7h-1.7zM387.8 327.4h1.7v1.7h-1.7zM331.6 361.9h1.7v1.7h-1.7z"/><path fill="#f2961e" d="M348.9 352.2h1.7v1.7h-1.7zM383.8 319.7h1.7v1.7h-1.7zM354.1 350.1h1.7v1.7h-1.7zM428.8 277.1h1.7v1.7h-1.7zM392.2 311.8h1.7v1.7h-1.7zM381.2 321.2h1.7v1.7h-1.7zM399.4 306.4h1.7v1.7h-1.7zM398.9 303.2h1.7v1.7h-1.7zM409.8 298.4h1.7v1.7h-1.7zM380.8 323.5h1.7v1.7h-1.7zM355.9 347.1h1.7v1.7h-1.7zM330.6 376.2h1.7v1.7h-1.7zM398.1 306.0h1.7v1.7h-1.7zM388.9 315.0h1.7v1.7h-1.7zM354.7 347.7h1.7v1.7h-1.7zM389.7 317.9h1.7v1.7h-1.7zM407.4 297.7h1.7v1.7h-1.7zM419.8 284.8h1.7v1.7h-1.7zM301.4 398.3h1.7v1.7h-1.7zM376.1 330.7h1.7v1.7h-1.7zM391.9 315.5h1.7v1.7h-1.7zM394.5 309.2h1.7v1.7h-1.7zM355.2 349.0h1.7v1.7h-1.7zM334.1 367.9h1.7v1.7h-1.7zM339.9 358.8h1.7v1.7h-1.7zM408.1 295.5h1.7v1.7h-1.7zM407.3 300.2h1.7v1.7h-1.7zM395.2 307.6h1.7v1.7h-1.7zM303.2 397.1h1.7v1.7h-1.7zM353.8 352.3h1.7v1.7h-1.7zM328.2 372.4h1.7v1.7h-1.7zM409.0 296.5h1.7v1.7h-1.7zM387.6 313.7h1.7v1.7h-1.7zM373.6 336.8h1.7v1.7h-1.7zM331.5 370.5h1.7v1.7h-1.7zM342.0 364.0h1.7v1.7h-1.7zM413.6 295.0h1.7v1.7h-1.7zM346.8 355.8h1.7v1.7h-1.7zM395.2 315.0h1.7v1.7h-1.7zM318.2 379.1h1.7v1.7h-1.7zM371.8 335.7h1.7v1.7h-1.7zM358.9 346.7h1.7v1.7h-1.7zM407.3 300.7h1.7v1.7h-1.7zM379.1 322.5h1.7v1.7h-1.7zM372.6 336.0h1.7v1.7h-1.7zM384.0 321.1h1.7v1.7h-1.7zM411.0 294.1h1.7v1.7h-1.7zM340.2 364.0h1.7v1.7h-1.7zM421.1 283.1h1.7v1.7h-1.7zM333.2 368.1h1.7v1.7h-1.7zM378.2 326.5h1.7v1.7h-1.7zM372.9 330.7h1.7v1.7h-1.7zM414.6 289.8h1.7v1.7h-1.7zM342.7 356.2h1.7v1.7h-1.7zM366.6 341.9h1.7v1.7h-1.7zM372.3 332.4h1.7v1.7h-1.7zM333.1 366.5h1.7v1.7h-1.7zM330.9 375.6h1.7v1.7h-1.7zM332.2 367.0h1.7v1.7h-1.7zM404.4 304.0h1.7v1.7h-1.7zM316.7 382.3h1.7v1.7h-1.7zM348.8 360.0h1.7v1.7h-1.7zM382.8 325.0h1.7v1.7h-1.7zM377.5 328.8h1.7v1.7h-1.7zM346.4 358.3h1.7v1.7h-1.7zM385.1 319.7h1.7v1.7h-1.7zM342.2 358.4h1.7v1.7h-1.7zM400.0 306.5h1.7v1.7h-1.7zM367.8 331.2h1.7v1.7h-1.7zM351.5 356.9h1.7v1.7h-1.7zM383.7 321.4h1.7v1.7h-1.7zM385.3 318.6h1.7v1.7h-1.7zM405.2 299.5h1.7v1.7h-1.7zM357.7 345.5h1.7v1.7h-1.7zM355.0 351.9h1.7v1.7h-1.7zM309.1 390.3h1.7v1.7h-1.7zM316.9 387.5h1.7v1.7h-1.7zM344.1 356.6h1.7v1.7h-1.7zM377.5 322.2h1.7v1.7h-1.7zM357.9 351.1h1.7v1.7h-1.7zM397.6 310.8h1.7v1.7h-1.7zM363.2 341.8h1.7v1.7h-1.7zM404.3 298.4h1.7v1.7h-1.7zM371.0 335.0h1.7v1.7h-1.7zM360.3 347.0h1.7v1.7h-1.7zM348.3 351.6h1.7v1.7h-1.7zM384.1 316.2h1.7v1.7h-1.7zM377.2 327.2h1.7v1.7h-1.7zM331.1 371.9h1.7v1.7h-1.7zM390.5 316.1h1.7v1.7h-1.7zM394.2 308.8h1.7v1.7h-1.7zM360.3 338.7h1.7v1.7h-1.7zM348.5 355.3h1.7v1.7h-1.7zM388.2 318.6h1.7v1.7h-1.7zM372.9 330.9h1.7v1.7h-1.7zM320.8 380.6h1.7v1.7h-1.7zM325.3 377.6h1.7v1.7h-1.7zM399.5 308.6h1.7v1.7h-1.7zM354.4 352.3h1.7v1.7h-1.7zM332.5 366.3h1.7v1.7h-1.7zM401.1 308.1h1.7v1.7h-1.7zM422.5 281.7h1.7v1.7h-1.7zM317.6 381.3h1.7v1.7h-1.7zM355.9 348.2h1.7v1.7h-1.7zM364.0 342.4h1.7v1.7h-1.7zM361.6 339.2h1.7v1.7h-1.7zM390.4 310.3h1.7v1.7h-1.7zM360.9 340.4h1.7v1.7h-1.7zM402.0 301.6h1.7v1.7h-1.7zM375.7 329.6h1.7v1.7h-1.7zM390.1 317.9h1.7v1.7h-1.7zM379.4 325.8h1.7v1.7h-1.7zM329.1 367.2h1.7v1.7h-1.7zM372.9 328.7h1.7v1.7h-1.7zM418.2 289.5h1.7v1.7h-1.7zM337.9 360.3h1.7v1.7h-1.7zM366.0 339.0h1.7v1.7h-1.7zM408.0 301.1h1.7v1.7h-1.7zM351.9 353.4h1.7v1.7h-1.7zM344.6 360.4h1.7v1.7h-1.7zM382.5 319.1h1.7v1.7h-1.7zM334.9 369.5h1.7v1.7h-1.7zM378.3 329.5h1.7v1.7h-1.7zM383.4 316.8h1.7v1.7h-1.7zM391.8 313.5h1.7v1.7h-1.7zM409.2 292.8h1.7v1.7h-1.7zM392.5 314.3h1.7v1.7h-1.7zM342.9 358.1h1.7v1.7h-1.7zM412.1 295.4h1.7v1.7h-1.7zM409.1 298.3h1.7v1.7h-1.7zM412.7 295.1h1.7v1.7h-1.7zM361.1 341.7h1.7v1.7h-1.7zM404.6 303.0h1.7v1.7h-1.7zM407.2 297.8h1.7v1.7h-1.7zM325.3 374.1h1.7v1.7h-1.7zM427.2 278.7h1.7v1.7h-1.7zM388.7 318.8h1.7v1.7h-1.7zM399.4 306.4h1.7v1.7h-1.7zM348.5 354.4h1.7v1.7h-1.7zM327.0 373.5h1.7v1.7h-1.7zM365.4 343.5h1.7v1.7h-1.7zM333.7 366.2h1.7v1.7h-1.7zM419.0 285.0h1.7v1.7h-1.7zM332.6 369.1h1.7v1.7h-1.7zM355.2 346.0h1.7v1.7h-1.7zM395.7 310.1h1.7v1.7h-1.7zM381.8 321.9h1.7v1.7h-1.7zM383.3 323.4h1.7v1.7h-1.7zM382.3 325.0h1.7v1.7h-1.7zM328.4 372.7h1.7v1.7h-1.7zM300.7 398.7h1.7v1.7h-1.7zM356.4 346.4h1.7v1.7h-1.7zM362.6 340.8h1.7v1.7h-1.7zM342.0 358.7h1.7v1.7h-1.7zM376.1 325.4h1.7v1.7h-1.7zM323.2 378.9h1.7v1.7h-1.7zM386.8 319.1h1.7v1.7h-1.7zM353.9 342.3h1.7v1.7h-1.7zM391.5 312.9h1.7v1.7h-1.7zM364.3 340.5h1.7v1.7h-1.7zM322.1 377.5h1.7v1.7h-1.7zM336.9 367.0h1.7v1.7h-1.7zM398.7 304.6h1.7v1.7h-1.7zM327.1 374.3h1.7v1.7h-1.7zM338.5 366.7h1.7v1.7h-1.7zM417.5 284.0h1.7v1.7h-1.7zM399.0 298.8h1.7v1.7h-1.7zM383.7 319.5h1.7v1.7h-1.7zM390.7 314.7h1.7v1.7h-1.7zM343.8 356.7h1.7v1.7h-1.7zM402.7 303.9h1.7v1.7h-1.7zM397.8 308.5h1.7v1.7h-1.7zM389.2 313.4h1.7v1.7h-1.7zM383.9 321.8h1.7v1.7h-1.7zM366.4 339.5h1.7v1.7h-1.7zM343.2 360.8h1.7v1.7h-1.7zM334.5 368.2h1.7v1.7h-1.7zM365.3 340.4h1.7v1.7h-1.7zM302.1 397.0h1.7v1.7h-1.7zM325.9 367.8h1.7v1.7h-1.7zM408.6 296.9h1.7v1.7h-1.7zM391.7 312.6h1.7v1.7h-1.7zM356.0 349.5h1.7v1.7h-1.7zM383.0 321.9h1.7v1.7h-1.7zM353.5 354.6h1.7v1.7h-1.7zM373.4 330.8h1.7v1.7h-1.7zM350.6 351.3h1.7v1.7h-1.7zM364.6 338.7h1.7v1.7h-1.7zM328.8 373.9h1.7v1.7h-1.7zM324.0 376.7h1.7v1.7h-1.7zM317.0 385.4h1.7v1.7h-1.7zM311.2 387.7h1.7v1.7h-1.7zM320.0 379.2h1.7v1.7h-1.7zM342.1 361.1h1.7v1.7h-1.7zM361.5 340.0h1.7v1.7h-1.7zM376.3 328.5h1.7v1.7h-1.7zM368.3 337.7h1.7v1.7h-1.7zM367.9 337.9h1.7v1.7h-1.7zM377.5 333.6h1.7v1.7h-1.7zM397.8 309.4h1.7v1.7h-1.7zM363.8 335.1h1.7v1.7h-1.7zM337.4 367.1h1.7v1.7h-1.7zM328.7 370.2h1.7v1.7h-1.7zM405.1 303.9h1.7v1.7h-1.7zM319.1 380.9h1.7v1.7h-1.7zM381.3 322.8h1.7v1.7h-1.7zM401.3 308.3h1.7v1.7h-1.7zM363.3 340.2h1.7v1.7h-1.7zM364.7 341.0h1.7v1.7h-1.7zM326.3 374.2h1.7v1.7h-1.7zM390.8 315.1h1.7v1.7h-1.7zM360.9 347.7h1.7v1.7h-1.7zM366.6 336.3h1.7v1.7h-1.7zM371.3 335.0h1.7v1.7h-1.7zM422.8 283.8h1.7v1.7h-1.7zM358.2 339.7h1.7v1.7h-1.7zM402.6 302.3h1.7v1.7h-1.7zM374.2 331.3h1.7v1.7h-1.7zM338.2 359.9h1.7v1.7h-1.7zM356.8 345.6h1.7v1.7h-1.7zM405.1 299.0h1.7v1.7h-1.7zM391.9 317.2h1.7v1.7h-1.7zM384.2 318.8h1.7v1.7h-1.7zM312.9 390.0h1.7v1.7h-1.7zM365.9 339.1h1.7v1.7h-1.7zM414.9 291.0h1.7v1.7h-1.7zM391.7 313.4h1.7v1.7h-1.7zM320.9 379.3h1.7v1.7h-1.7zM375.9 328.9h1.7v1.7h-1.7zM399.5 306.9h1.7v1.7h-1.7zM338.8 363.2h1.7v1.7h-1.7zM373.9 330.6h1.7v1.7h-1.7zM329.7 372.0h1.7v1.7h-1.7zM322.7 375.4h1.7v1.7h-1.7zM375.3 332.1h1.7v1.7h-1.7zM374.4 331.4h1.7v1.7h-1.7zM325.9 371.1h1.7v1.7h-1.7zM310.0 391.4h1.7v1.7h-1.7zM388.1 317.4h1.7v1.7h-1.7zM336.0 367.3h1.7v1.7h-1.7zM390.4 318.7h1.7v1.7h-1.7zM357.2 352.7h1.7v1.7h-1.7zM390.7 314.4h1.7v1.7h-1.7zM388.2 316.5h1.7v1.7h-1.7zM416.1 290.5h1.7v1.7h-1.7zM381.1 323.8h1.7v1.7h-1.7zM334.0 373.9h1.7v1.7h-1.7zM354.4 346.7h1.7v1.7h-1.7zM389.8 314.0h1.7v1.7h-1.7zM403.4 301.7h1.7v1.7h-1.7zM359.0 339.9h1.7v1.7h-1.7zM342.1 355.6h1.7v1.7h-1.7zM367.0 331.6h1.7v1.7h-1.7zM406.5 300.0h1.7v1.7h-1.7zM368.2 342.1h1.7v1.7h-1.7zM393.4 314.2h1.7v1.7h-1.7zM354.4 357.1h1.7v1.7h-1.7z"/><path fill="#c83a24" d="M400.8 303.4h1.7v1.7h-1.7zM387.7 313.0h1.7v1.7h-1.7zM365.5 334.2h1.7v1.7h-1.7zM387.2 315.6h1.7v1.7h-1.7zM331.8 372.6h1.7v1.7h-1.7zM362.9 335.9h1.7v1.7h-1.7zM378.5 325.9h1.7v1.7h-1.7zM404.3 299.9h1.7v1.7h-1.7zM339.9 362.0h1.7v1.7h-1.7zM402.8 297.7h1.7v1.7h-1.7zM378.3 331.2h1.7v1.7h-1.7zM413.3 289.9h1.7v1.7h-1.7zM383.7 316.2h1.7v1.7h-1.7zM333.0 367.6h1.7v1.7h-1.7zM390.8 319.0h1.7v1.7h-1.7zM387.6 316.0h1.7v1.7h-1.7zM366.6 342.2h1.7v1.7h-1.7zM397.0 298.4h1.7v1.7h-1.7zM388.8 312.3h1.7v1.7h-1.7zM359.1 344.5h1.7v1.7h-1.7zM357.4 342.1h1.7v1.7h-1.7zM396.7 301.1h1.7v1.7h-1.7zM392.1 308.0h1.7v1.7h-1.7zM310.9 383.4h1.7v1.7h-1.7zM408.7 296.7h1.7v1.7h-1.7zM416.9 286.8h1.7v1.7h-1.7zM354.9 346.1h1.7v1.7h-1.7zM312.8 384.9h1.7v1.7h-1.7zM392.9 309.9h1.7v1.7h-1.7zM344.9 360.5h1.7v1.7h-1.7zM405.3 299.9h1.7v1.7h-1.7zM383.2 319.5h1.7v1.7h-1.7zM394.5 306.8h1.7v1.7h-1.7zM325.2 374.2h1.7v1.7h-1.7zM326.5 372.6h1.7v1.7h-1.7zM374.2 318.5h1.7v1.7h-1.7zM367.2 329.8h1.7v1.7h-1.7zM341.7 358.9h1.7v1.7h-1.7zM320.3 376.7h1.7v1.7h-1.7zM395.1 309.7h1.7v1.7h-1.7zM355.4 345.4h1.7v1.7h-1.7zM359.7 338.1h1.7v1.7h-1.7zM366.0 335.0h1.7v1.7h-1.7zM332.2 367.4h1.7v1.7h-1.7zM401.4 301.7h1.7v1.7h-1.7zM349.9 346.3h1.7v1.7h-1.7zM340.2 360.9h1.7v1.7h-1.7zM377.7 320.3h1.7v1.7h-1.7zM347.5 352.6h1.7v1.7h-1.7zM367.6 333.1h1.7v1.7h-1.7zM404.2 302.2h1.7v1.7h-1.7zM362.0 337.1h1.7v1.7h-1.7zM356.3 340.5h1.7v1.7h-1.7zM402.4 304.0h1.7v1.7h-1.7zM394.5 313.8h1.7v1.7h-1.7zM376.0 321.7h1.7v1.7h-1.7zM369.9 329.7h1.7v1.7h-1.7zM329.2 371.0h1.7v1.7h-1.7zM340.3 361.6h1.7v1.7h-1.7zM384.4 317.6h1.7v1.7h-1.7zM395.7 311.7h1.7v1.7h-1.7zM345.1 350.4h1.7v1.7h-1.7zM392.1 313.9h1.7v1.7h-1.7zM312.7 382.8h1.7v1.7h-1.7zM371.3 335.0h1.7v1.7h-1.7zM402.1 296.2h1.7v1.7h-1.7zM353.8 342.3h1.7v1.7h-1.7zM344.6 360.1h1.7v1.7h-1.7zM370.1 332.0h1.7v1.7h-1.7zM328.5 366.3h1.7v1.7h-1.7zM321.3 379.7h1.7v1.7h-1.7zM392.4 308.2h1.7v1.7h-1.7zM408.9 297.6h1.7v1.7h-1.7zM345.2 355.1h1.7v1.7h-1.7zM355.5 339.8h1.7v1.7h-1.7zM369.8 329.5h1.7v1.7h-1.7zM384.4 318.0h1.7v1.7h-1.7zM310.4 389.1h1.7v1.7h-1.7zM407.4 297.2h1.7v1.7h-1.7zM337.2 361.5h1.7v1.7h-1.7zM357.6 346.2h1.7v1.7h-1.7zM377.0 329.1h1.7v1.7h-1.7zM397.0 304.1h1.7v1.7h-1.7zM373.3 333.0h1.7v1.7h-1.7zM363.3 329.8h1.7v1.7h-1.7zM393.5 307.6h1.7v1.7h-1.7zM354.2 350.7h1.7v1.7h-1.7zM403.7 302.7h1.7v1.7h-1.7zM328.2 366.6h1.7v1.7h-1.7zM397.4 305.6h1.7v1.7h-1.7zM358.2 339.1h1.7v1.7h-1.7zM394.8 307.6h1.7v1.7h-1.7zM373.9 320.7h1.7v1.7h-1.7zM394.0 306.9h1.7v1.7h-1.7zM408.9 292.3h1.7v1.7h-1.7zM383.3 322.7h1.7v1.7h-1.7zM368.2 327.8h1.7v1.7h-1.7zM369.1 330.8h1.7v1.7h-1.7zM369.8 329.7h1.7v1.7h-1.7zM409.2 295.2h1.7v1.7h-1.7zM376.1 329.0h1.7v1.7h-1.7zM361.4 339.4h1.7v1.7h-1.7zM324.8 372.9h1.7v1.7h-1.7zM384.7 316.5h1.7v1.7h-1.7zM419.5 282.6h1.7v1.7h-1.7zM383.7 316.6h1.7v1.7h-1.7zM377.3 320.6h1.7v1.7h-1.7zM365.4 328.1h1.7v1.7h-1.7zM367.8 333.5h1.7v1.7h-1.7zM363.9 333.8h1.7v1.7h-1.7zM337.2 361.4h1.7v1.7h-1.7zM387.2 320.9h1.7v1.7h-1.7zM386.3 316.7h1.7v1.7h-1.7zM385.8 311.0h1.7v1.7h-1.7zM410.0 290.7h1.7v1.7h-1.7zM416.2 287.2h1.7v1.7h-1.7zM353.6 344.8h1.7v1.7h-1.7zM410.2 290.4h1.7v1.7h-1.7zM375.1 327.4h1.7v1.7h-1.7zM392.0 306.2h1.7v1.7h-1.7zM394.4 308.0h1.7v1.7h-1.7zM383.1 320.1h1.7v1.7h-1.7zM366.9 325.8h1.7v1.7h-1.7zM336.9 364.0h1.7v1.7h-1.7zM415.5 287.6h1.7v1.7h-1.7zM420.2 285.7h1.7v1.7h-1.7zM369.9 336.5h1.7v1.7h-1.7zM359.3 343.4h1.7v1.7h-1.7zM399.0 305.4h1.7v1.7h-1.7zM421.1 282.0h1.7v1.7h-1.7zM419.1 284.3h1.7v1.7h-1.7zM309.3 383.7h1.7v1.7h-1.7zM304.3 395.0h1.7v1.7h-1.7zM378.3 326.1h1.7v1.7h-1.7zM391.2 317.1h1.7v1.7h-1.7zM401.6 299.6h1.7v1.7h-1.7zM407.4 299.6h1.7v1.7h-1.7zM398.4 308.6h1.7v1.7h-1.7zM378.3 320.0h1.7v1.7h-1.7zM374.9 328.5h1.7v1.7h-1.7zM387.3 310.8h1.7v1.7h-1.7zM353.6 344.9h1.7v1.7h-1.7zM385.8 317.6h1.7v1.7h-1.7zM398.6 303.3h1.7v1.7h-1.7zM394.7 309.8h1.7v1.7h-1.7zM326.1 371.3h1.7v1.7h-1.7zM419.6 285.1h1.7v1.7h-1.7zM402.0 301.6h1.7v1.7h-1.7zM380.4 316.3h1.7v1.7h-1.7zM396.8 301.3h1.7v1.7h-1.7zM401.5 302.8h1.7v1.7h-1.7zM393.8 306.6h1.7v1.7h-1.7zM348.6 349.9h1.7v1.7h-1.7zM386.9 313.0h1.7v1.7h-1.7zM397.1 300.5h1.7v1.7h-1.7zM397.5 306.6h1.7v1.7h-1.7zM341.9 358.3h1.7v1.7h-1.7zM409.7 295.7h1.7v1.7h-1.7zM359.5 337.0h1.7v1.7h-1.7zM361.7 339.1h1.7v1.7h-1.7zM406.7 299.0h1.7v1.7h-1.7zM383.7 318.7h1.7v1.7h-1.7z"/><path fill="#a62620" d="M374.8 324.3h1.7v1.7h-1.7zM315.7 379.9h1.7v1.7h-1.7zM404.6 301.3h1.7v1.7h-1.7zM423.6 278.7h1.7v1.7h-1.7zM357.4 340.4h1.7v1.7h-1.7zM379.6 322.2h1.7v1.7h-1.7zM418.3 285.9h1.7v1.7h-1.7zM427.0 277.0h1.7v1.7h-1.7zM400.7 301.9h1.7v1.7h-1.7zM410.0 293.7h1.7v1.7h-1.7zM318.8 382.7h1.7v1.7h-1.7zM347.2 349.5h1.7v1.7h-1.7zM398.0 308.0h1.7v1.7h-1.7zM400.1 300.0h1.7v1.7h-1.7zM354.6 345.6h1.7v1.7h-1.7zM375.4 331.7h1.7v1.7h-1.7zM352.6 344.5h1.7v1.7h-1.7zM413.0 286.8h1.7v1.7h-1.7zM367.0 329.3h1.7v1.7h-1.7zM400.3 302.2h1.7v1.7h-1.7zM375.1 325.4h1.7v1.7h-1.7zM420.9 283.5h1.7v1.7h-1.7zM394.9 303.8h1.7v1.7h-1.7zM360.8 340.4h1.7v1.7h-1.7zM379.4 319.8h1.7v1.7h-1.7zM421.4 279.2h1.7v1.7h-1.7zM314.1 386.0h1.7v1.7h-1.7zM306.0 388.8h1.7v1.7h-1.7zM334.5 367.3h1.7v1.7h-1.7zM380.3 321.7h1.7v1.7h-1.7zM358.3 340.6h1.7v1.7h-1.7zM371.8 326.5h1.7v1.7h-1.7zM331.3 366.2h1.7v1.7h-1.7zM382.9 315.2h1.7v1.7h-1.7zM407.7 293.8h1.7v1.7h-1.7zM325.9 370.5h1.7v1.7h-1.7zM343.5 357.8h1.7v1.7h-1.7zM359.9 342.0h1.7v1.7h-1.7zM377.4 322.5h1.7v1.7h-1.7zM371.4 327.4h1.7v1.7h-1.7zM402.0 302.2h1.7v1.7h-1.7zM313.9 382.2h1.7v1.7h-1.7zM317.1 380.4h1.7v1.7h-1.7zM344.7 355.4h1.7v1.7h-1.7zM320.5 374.6h1.7v1.7h-1.7zM352.2 347.8h1.7v1.7h-1.7zM321.9 375.3h1.7v1.7h-1.7zM337.9 360.9h1.7v1.7h-1.7zM366.3 329.8h1.7v1.7h-1.7zM381.5 320.1h1.7v1.7h-1.7zM408.6 292.3h1.7v1.7h-1.7zM343.9 358.4h1.7v1.7h-1.7zM326.8 370.7h1.7v1.7h-1.7zM295.1 399.9h1.7v1.7h-1.7zM315.7 380.7h1.7v1.7h-1.7zM304.8 386.4h1.7v1.7h-1.7zM425.8 276.0h1.7v1.7h-1.7zM360.2 338.5h1.7v1.7h-1.7zM383.9 318.6h1.7v1.7h-1.7zM305.2 384.6h1.7v1.7h-1.7zM405.8 301.0h1.7v1.7h-1.7zM328.4 368.3h1.7v1.7h-1.7zM401.2 303.1h1.7v1.7h-1.7zM397.9 305.7h1.7v1.7h-1.7zM374.1 328.7h1.7v1.7h-1.7zM392.8 309.7h1.7v1.7h-1.7zM425.6 277.3h1.7v1.7h-1.7zM381.5 317.4h1.7v1.7h-1.7zM390.3 313.8h1.7v1.7h-1.7zM425.8 279.8h1.7v1.7h-1.7zM350.4 351.0h1.7v1.7h-1.7zM350.9 352.5h1.7v1.7h-1.7zM402.6 296.3h1.7v1.7h-1.7zM381.0 322.8h1.7v1.7h-1.7zM385.7 314.6h1.7v1.7h-1.7zM310.6 382.0h1.7v1.7h-1.7zM340.4 355.8h1.7v1.7h-1.7zM392.5 309.4h1.7v1.7h-1.7zM412.0 292.5h1.7v1.7h-1.7zM332.0 369.3h1.7v1.7h-1.7zM308.4 390.6h1.7v1.7h-1.7zM365.1 329.9h1.7v1.7h-1.7zM388.7 316.1h1.7v1.7h-1.7zM349.9 350.6h1.7v1.7h-1.7zM328.8 370.1h1.7v1.7h-1.7zM369.2 330.9h1.7v1.7h-1.7zM380.4 319.4h1.7v1.7h-1.7zM397.3 307.6h1.7v1.7h-1.7zM323.0 380.5h1.7v1.7h-1.7zM370.2 339.1h1.7v1.7h-1.7zM381.4 321.5h1.7v1.7h-1.7zM368.9 328.1h1.7v1.7h-1.7zM292.9 403.7h1.7v1.7h-1.7zM405.8 295.1h1.7v1.7h-1.7zM409.6 294.7h1.7v1.7h-1.7zM345.9 351.3h1.7v1.7h-1.7zM334.8 366.1h1.7v1.7h-1.7zM415.3 288.0h1.7v1.7h-1.7zM414.1 287.5h1.7v1.7h-1.7zM338.9 357.3h1.7v1.7h-1.7zM346.1 354.0h1.7v1.7h-1.7zM413.2 286.9h1.7v1.7h-1.7zM413.6 290.3h1.7v1.7h-1.7zM320.1 381.1h1.7v1.7h-1.7zM426.1 278.8h1.7v1.7h-1.7zM420.5 282.3h1.7v1.7h-1.7zM417.0 284.0h1.7v1.7h-1.7zM387.8 314.8h1.7v1.7h-1.7zM423.2 280.6h1.7v1.7h-1.7zM345.8 355.9h1.7v1.7h-1.7zM334.2 369.7h1.7v1.7h-1.7zM418.6 284.6h1.7v1.7h-1.7zM336.4 362.3h1.7v1.7h-1.7zM408.7 291.0h1.7v1.7h-1.7zM370.7 330.4h1.7v1.7h-1.7zM343.7 359.9h1.7v1.7h-1.7zM303.3 395.1h1.7v1.7h-1.7zM347.8 350.5h1.7v1.7h-1.7zM370.1 327.5h1.7v1.7h-1.7zM398.9 302.5h1.7v1.7h-1.7zM354.6 348.8h1.7v1.7h-1.7zM387.3 308.0h1.7v1.7h-1.7zM366.9 332.0h1.7v1.7h-1.7zM414.2 290.0h1.7v1.7h-1.7zM352.4 343.1h1.7v1.7h-1.7zM333.3 365.7h1.7v1.7h-1.7zM364.1 334.6h1.7v1.7h-1.7zM430.7 273.6h1.7v1.7h-1.7zM349.0 348.7h1.7v1.7h-1.7zM385.0 318.9h1.7v1.7h-1.7zM416.9 286.8h1.7v1.7h-1.7zM423.3 279.4h1.7v1.7h-1.7zM333.3 371.4h1.7v1.7h-1.7zM336.2 357.6h1.7v1.7h-1.7zM397.5 302.7h1.7v1.7h-1.7zM311.1 385.0h1.7v1.7h-1.7zM363.6 339.8h1.7v1.7h-1.7zM365.8 338.2h1.7v1.7h-1.7zM331.4 362.0h1.7v1.7h-1.7zM337.3 366.1h1.7v1.7h-1.7zM421.5 281.6h1.7v1.7h-1.7zM376.7 324.8h1.7v1.7h-1.7zM428.7 274.8h1.7v1.7h-1.7zM421.3 280.3h1.7v1.7h-1.7zM374.4 326.6h1.7v1.7h-1.7zM389.8 314.8h1.7v1.7h-1.7zM345.5 353.8h1.7v1.7h-1.7zM401.8 295.2h1.7v1.7h-1.7zM408.2 295.0h1.7v1.7h-1.7zM367.7 331.2h1.7v1.7h-1.7zM377.3 325.5h1.7v1.7h-1.7zM410.8 290.5h1.7v1.7h-1.7zM386.2 317.3h1.7v1.7h-1.7zM312.8 384.2h1.7v1.7h-1.7zM383.1 316.4h1.7v1.7h-1.7zM297.1 395.4h1.7v1.7h-1.7zM323.7 373.2h1.7v1.7h-1.7zM388.3 319.1h1.7v1.7h-1.7zM349.8 354.7h1.7v1.7h-1.7zM349.0 348.5h1.7v1.7h-1.7zM376.8 319.7h1.7v1.7h-1.7zM421.7 283.6h1.7v1.7h-1.7zM362.2 340.6h1.7v1.7h-1.7zM386.0 313.3h1.7v1.7h-1.7zM345.3 352.6h1.7v1.7h-1.7zM313.2 385.3h1.7v1.7h-1.7zM315.0 375.4h1.7v1.7h-1.7zM339.9 360.6h1.7v1.7h-1.7zM331.8 370.0h1.7v1.7h-1.7zM341.9 355.8h1.7v1.7h-1.7zM366.5 331.4h1.7v1.7h-1.7zM325.3 373.0h1.7v1.7h-1.7zM383.0 321.0h1.7v1.7h-1.7zM330.6 368.0h1.7v1.7h-1.7zM349.9 349.9h1.7v1.7h-1.7zM388.7 312.5h1.7v1.7h-1.7zM353.4 346.0h1.7v1.7h-1.7zM398.8 302.4h1.7v1.7h-1.7zM427.9 276.7h1.7v1.7h-1.7zM383.6 321.9h1.7v1.7h-1.7zM406.3 295.4h1.7v1.7h-1.7zM400.6 303.1h1.7v1.7h-1.7zM318.0 379.0h1.7v1.7h-1.7zM317.9 378.4h1.7v1.7h-1.7zM394.6 305.9h1.7v1.7h-1.7zM358.9 334.0h1.7v1.7h-1.7zM407.2 298.0h1.7v1.7h-1.7zM399.7 301.6h1.7v1.7h-1.7zM391.8 307.7h1.7v1.7h-1.7zM419.9 283.6h1.7v1.7h-1.7zM389.2 312.9h1.7v1.7h-1.7zM423.3 280.4h1.7v1.7h-1.7zM311.4 384.1h1.7v1.7h-1.7zM365.8 333.5h1.7v1.7h-1.7zM421.7 281.8h1.7v1.7h-1.7zM363.8 335.7h1.7v1.7h-1.7zM377.6 318.2h1.7v1.7h-1.7zM384.7 313.4h1.7v1.7h-1.7zM340.1 353.8h1.7v1.7h-1.7zM381.0 317.9h1.7v1.7h-1.7zM314.1 381.3h1.7v1.7h-1.7zM384.5 315.7h1.7v1.7h-1.7zM366.7 328.2h1.7v1.7h-1.7zM357.3 345.6h1.7v1.7h-1.7zM350.0 348.6h1.7v1.7h-1.7zM339.0 355.3h1.7v1.7h-1.7zM360.2 344.6h1.7v1.7h-1.7zM393.0 309.4h1.7v1.7h-1.7zM421.6 280.2h1.7v1.7h-1.7zM400.7 298.2h1.7v1.7h-1.7zM350.0 347.8h1.7v1.7h-1.7zM346.8 354.1h1.7v1.7h-1.7zM324.1 371.8h1.7v1.7h-1.7zM358.9 340.3h1.7v1.7h-1.7zM302.8 391.5h1.7v1.7h-1.7zM380.0 324.4h1.7v1.7h-1.7zM374.7 326.4h1.7v1.7h-1.7zM396.5 303.6h1.7v1.7h-1.7zM387.6 312.9h1.7v1.7h-1.7zM384.2 317.6h1.7v1.7h-1.7zM365.4 335.3h1.7v1.7h-1.7zM348.8 345.5h1.7v1.7h-1.7zM411.0 292.9h1.7v1.7h-1.7zM329.3 370.3h1.7v1.7h-1.7zM402.4 303.7h1.7v1.7h-1.7zM312.6 383.7h1.7v1.7h-1.7zM362.0 334.0h1.7v1.7h-1.7zM369.3 324.8h1.7v1.7h-1.7zM375.9 322.1h1.7v1.7h-1.7zM406.7 294.1h1.7v1.7h-1.7zM338.1 354.6h1.7v1.7h-1.7zM334.9 367.9h1.7v1.7h-1.7zM394.7 308.4h1.7v1.7h-1.7zM390.3 316.0h1.7v1.7h-1.7zM334.4 366.3h1.7v1.7h-1.7zM309.9 386.7h1.7v1.7h-1.7zM360.0 338.9h1.7v1.7h-1.7zM370.1 337.0h1.7v1.7h-1.7zM388.2 316.7h1.7v1.7h-1.7zM401.1 298.1h1.7v1.7h-1.7zM385.7 319.1h1.7v1.7h-1.7zM374.1 328.1h1.7v1.7h-1.7zM367.2 328.6h1.7v1.7h-1.7zM408.4 295.0h1.7v1.7h-1.7zM383.2 318.7h1.7v1.7h-1.7zM409.1 293.9h1.7v1.7h-1.7zM374.0 329.6h1.7v1.7h-1.7zM383.5 311.9h1.7v1.7h-1.7zM334.2 360.0h1.7v1.7h-1.7zM377.8 321.5h1.7v1.7h-1.7zM373.5 327.8h1.7v1.7h-1.7zM407.7 292.4h1.7v1.7h-1.7zM395.1 307.8h1.7v1.7h-1.7zM316.6 372.1h1.7v1.7h-1.7zM397.4 305.6h1.7v1.7h-1.7zM363.6 331.8h1.7v1.7h-1.7zM404.2 301.3h1.7v1.7h-1.7zM398.3 305.5h1.7v1.7h-1.7zM369.0 325.8h1.7v1.7h-1.7zM357.4 346.5h1.7v1.7h-1.7zM428.8 273.9h1.7v1.7h-1.7zM357.9 339.3h1.7v1.7h-1.7zM362.7 353.9h1.7v1.7h-1.7zM348.0 357.7h1.7v1.7h-1.7zM359.1 352.1h1.7v1.7h-1.7zM393.0 305.5h1.7v1.7h-1.7zM341.7 365.7h1.7v1.7h-1.7zM387.6 326.8h1.7v1.7h-1.7zM397.8 305.4h1.7v1.7h-1.7zM342.2 356.1h1.7v1.7h-1.7zM370.1 346.8h1.7v1.7h-1.7zM354.7 344.4h1.7v1.7h-1.7zM370.9 330.3h1.7v1.7h-1.7zM386.9 314.0h1.7v1.7h-1.7zM361.2 336.4h1.7v1.7h-1.7zM402.8 296.5h1.7v1.7h-1.7zM361.3 360.9h1.7v1.7h-1.7zM362.2 336.6h1.7v1.7h-1.7zM309.8 382.1h1.7v1.7h-1.7zM331.9 370.6h1.7v1.7h-1.7zM350.8 365.5h1.7v1.7h-1.7zM344.7 350.3h1.7v1.7h-1.7zM354.7 330.8h1.7v1.7h-1.7zM364.4 331.9h1.7v1.7h-1.7zM345.2 365.8h1.7v1.7h-1.7zM370.0 315.2h1.7v1.7h-1.7zM329.1 374.2h1.7v1.7h-1.7zM329.2 381.6h1.7v1.7h-1.7zM349.1 357.7h1.7v1.7h-1.7zM344.8 359.3h1.7v1.7h-1.7z"/><path fill="#f2961e" d="M342.8 358.4h1.7v1.7h-1.7zM346.1 363.1h1.7v1.7h-1.7zM391.2 315.4h1.7v1.7h-1.7zM376.6 327.7h1.7v1.7h-1.7zM338.8 361.1h1.7v1.7h-1.7zM388.2 319.1h1.7v1.7h-1.7zM361.7 341.9h1.7v1.7h-1.7zM339.0 360.3h1.7v1.7h-1.7zM379.6 326.0h1.7v1.7h-1.7zM388.9 319.5h1.7v1.7h-1.7zM418.7 287.4h1.7v1.7h-1.7zM362.5 336.1h1.7v1.7h-1.7zM350.7 352.1h1.7v1.7h-1.7zM336.5 363.2h1.7v1.7h-1.7zM403.6 309.1h1.7v1.7h-1.7zM312.6 386.3h1.7v1.7h-1.7zM354.9 349.7h1.7v1.7h-1.7zM405.0 300.8h1.7v1.7h-1.7zM299.4 399.3h1.7v1.7h-1.7zM396.2 312.2h1.7v1.7h-1.7zM390.4 316.5h1.7v1.7h-1.7zM374.2 324.5h1.7v1.7h-1.7zM327.1 372.4h1.7v1.7h-1.7zM378.7 325.3h1.7v1.7h-1.7zM406.7 296.6h1.7v1.7h-1.7zM381.2 319.8h1.7v1.7h-1.7zM312.9 384.7h1.7v1.7h-1.7zM315.7 380.0h1.7v1.7h-1.7zM359.9 349.5h1.7v1.7h-1.7zM378.4 324.4h1.7v1.7h-1.7zM371.6 334.1h1.7v1.7h-1.7zM362.2 338.8h1.7v1.7h-1.7zM379.7 319.6h1.7v1.7h-1.7zM374.4 329.2h1.7v1.7h-1.7zM371.8 333.9h1.7v1.7h-1.7zM363.8 337.7h1.7v1.7h-1.7zM406.7 297.3h1.7v1.7h-1.7zM340.1 363.0h1.7v1.7h-1.7zM331.1 366.6h1.7v1.7h-1.7zM326.9 375.1h1.7v1.7h-1.7zM346.2 357.4h1.7v1.7h-1.7zM383.4 321.8h1.7v1.7h-1.7zM331.1 371.8h1.7v1.7h-1.7zM333.2 370.5h1.7v1.7h-1.7zM356.1 348.6h1.7v1.7h-1.7zM381.9 322.4h1.7v1.7h-1.7zM367.8 334.9h1.7v1.7h-1.7zM368.8 335.7h1.7v1.7h-1.7zM389.3 312.8h1.7v1.7h-1.7zM396.5 312.5h1.7v1.7h-1.7zM316.1 384.7h1.7v1.7h-1.7zM338.1 364.6h1.7v1.7h-1.7zM328.1 372.4h1.7v1.7h-1.7zM351.4 354.0h1.7v1.7h-1.7zM418.3 287.4h1.7v1.7h-1.7zM369.7 337.2h1.7v1.7h-1.7zM350.9 353.6h1.7v1.7h-1.7zM375.7 327.9h1.7v1.7h-1.7zM382.6 318.8h1.7v1.7h-1.7zM359.1 345.5h1.7v1.7h-1.7zM394.2 312.1h1.7v1.7h-1.7zM326.5 370.6h1.7v1.7h-1.7zM315.1 388.6h1.7v1.7h-1.7zM401.3 303.8h1.7v1.7h-1.7zM354.0 344.6h1.7v1.7h-1.7zM346.5 356.2h1.7v1.7h-1.7zM383.3 321.4h1.7v1.7h-1.7zM360.3 345.5h1.7v1.7h-1.7zM383.6 319.3h1.7v1.7h-1.7zM395.3 305.7h1.7v1.7h-1.7zM343.3 351.4h1.7v1.7h-1.7zM415.7 285.6h1.7v1.7h-1.7zM370.3 334.6h1.7v1.7h-1.7zM350.7 357.5h1.7v1.7h-1.7zM352.4 352.6h1.7v1.7h-1.7zM324.0 378.9h1.7v1.7h-1.7zM374.8 334.0h1.7v1.7h-1.7zM350.9 354.8h1.7v1.7h-1.7zM352.8 358.2h1.7v1.7h-1.7zM362.2 340.1h1.7v1.7h-1.7zM373.8 335.9h1.7v1.7h-1.7zM372.5 331.4h1.7v1.7h-1.7zM336.2 362.7h1.7v1.7h-1.7zM416.9 286.1h1.7v1.7h-1.7zM395.1 313.9h1.7v1.7h-1.7zM334.1 369.6h1.7v1.7h-1.7zM342.2 356.5h1.7v1.7h-1.7zM357.9 350.4h1.7v1.7h-1.7zM355.2 354.1h1.7v1.7h-1.7zM332.6 365.9h1.7v1.7h-1.7zM370.8 335.8h1.7v1.7h-1.7zM344.8 359.8h1.7v1.7h-1.7zM394.5 311.2h1.7v1.7h-1.7zM336.1 362.6h1.7v1.7h-1.7zM363.1 341.0h1.7v1.7h-1.7zM359.1 343.8h1.7v1.7h-1.7zM355.5 346.3h1.7v1.7h-1.7zM389.4 313.2h1.7v1.7h-1.7zM353.3 348.0h1.7v1.7h-1.7zM418.7 289.5h1.7v1.7h-1.7zM303.7 394.9h1.7v1.7h-1.7zM326.1 372.0h1.7v1.7h-1.7zM399.0 301.4h1.7v1.7h-1.7zM380.2 321.8h1.7v1.7h-1.7zM384.1 323.4h1.7v1.7h-1.7zM353.0 349.7h1.7v1.7h-1.7zM379.6 326.4h1.7v1.7h-1.7zM384.4 322.5h1.7v1.7h-1.7zM392.5 311.6h1.7v1.7h-1.7zM355.0 350.4h1.7v1.7h-1.7zM404.7 303.2h1.7v1.7h-1.7zM328.3 373.6h1.7v1.7h-1.7zM339.1 359.9h1.7v1.7h-1.7zM325.8 377.9h1.7v1.7h-1.7zM383.7 320.8h1.7v1.7h-1.7zM379.7 328.6h1.7v1.7h-1.7zM358.0 338.3h1.7v1.7h-1.7zM379.7 322.8h1.7v1.7h-1.7zM392.6 311.2h1.7v1.7h-1.7zM375.4 330.6h1.7v1.7h-1.7zM415.0 289.7h1.7v1.7h-1.7zM380.4 322.0h1.7v1.7h-1.7zM362.6 341.0h1.7v1.7h-1.7zM388.1 318.7h1.7v1.7h-1.7zM348.5 357.3h1.7v1.7h-1.7zM345.7 351.0h1.7v1.7h-1.7zM373.7 332.2h1.7v1.7h-1.7zM303.5 398.1h1.7v1.7h-1.7zM408.4 299.4h1.7v1.7h-1.7zM337.4 369.2h1.7v1.7h-1.7zM407.2 302.8h1.7v1.7h-1.7zM326.7 374.1h1.7v1.7h-1.7zM356.8 347.7h1.7v1.7h-1.7zM350.3 355.9h1.7v1.7h-1.7zM371.1 335.7h1.7v1.7h-1.7zM370.0 332.4h1.7v1.7h-1.7zM407.2 299.2h1.7v1.7h-1.7zM387.7 317.0h1.7v1.7h-1.7zM371.4 334.6h1.7v1.7h-1.7zM358.0 340.7h1.7v1.7h-1.7zM334.7 368.3h1.7v1.7h-1.7zM392.4 314.0h1.7v1.7h-1.7zM327.4 374.1h1.7v1.7h-1.7zM324.8 378.7h1.7v1.7h-1.7zM376.8 328.8h1.7v1.7h-1.7zM317.7 384.1h1.7v1.7h-1.7zM360.2 345.2h1.7v1.7h-1.7zM366.7 335.0h1.7v1.7h-1.7zM345.4 361.3h1.7v1.7h-1.7zM390.3 318.1h1.7v1.7h-1.7zM351.4 349.6h1.7v1.7h-1.7zM340.5 367.8h1.7v1.7h-1.7zM375.1 330.0h1.7v1.7h-1.7zM355.8 350.9h1.7v1.7h-1.7zM364.8 339.1h1.7v1.7h-1.7zM420.5 288.0h1.7v1.7h-1.7zM420.1 284.6h1.7v1.7h-1.7zM366.1 333.7h1.7v1.7h-1.7zM358.6 345.0h1.7v1.7h-1.7zM347.6 354.8h1.7v1.7h-1.7zM379.9 324.9h1.7v1.7h-1.7zM369.9 334.7h1.7v1.7h-1.7zM334.3 367.4h1.7v1.7h-1.7zM369.7 334.6h1.7v1.7h-1.7zM352.2 348.9h1.7v1.7h-1.7zM371.3 335.8h1.7v1.7h-1.7zM372.6 335.7h1.7v1.7h-1.7zM401.1 303.9h1.7v1.7h-1.7zM412.7 293.1h1.7v1.7h-1.7zM355.8 350.5h1.7v1.7h-1.7zM368.3 337.3h1.7v1.7h-1.7zM394.4 314.5h1.7v1.7h-1.7zM340.9 362.0h1.7v1.7h-1.7zM413.9 292.8h1.7v1.7h-1.7zM390.5 316.4h1.7v1.7h-1.7zM355.7 348.0h1.7v1.7h-1.7zM362.8 341.0h1.7v1.7h-1.7zM410.4 295.0h1.7v1.7h-1.7zM390.1 314.0h1.7v1.7h-1.7zM342.5 366.3h1.7v1.7h-1.7zM402.3 304.4h1.7v1.7h-1.7zM357.1 347.4h1.7v1.7h-1.7zM417.0 289.7h1.7v1.7h-1.7zM419.2 284.0h1.7v1.7h-1.7zM398.7 308.3h1.7v1.7h-1.7zM379.7 323.8h1.7v1.7h-1.7zM366.3 334.5h1.7v1.7h-1.7zM381.4 326.6h1.7v1.7h-1.7zM348.2 352.1h1.7v1.7h-1.7zM406.8 298.8h1.7v1.7h-1.7zM414.2 288.6h1.7v1.7h-1.7zM381.4 323.0h1.7v1.7h-1.7zM345.1 358.2h1.7v1.7h-1.7zM369.1 331.1h1.7v1.7h-1.7zM421.6 282.2h1.7v1.7h-1.7zM335.7 364.7h1.7v1.7h-1.7zM353.1 347.5h1.7v1.7h-1.7zM341.0 358.1h1.7v1.7h-1.7zM420.0 286.7h1.7v1.7h-1.7zM399.7 303.8h1.7v1.7h-1.7zM379.4 326.2h1.7v1.7h-1.7zM338.1 364.8h1.7v1.7h-1.7zM371.9 333.0h1.7v1.7h-1.7zM384.7 318.6h1.7v1.7h-1.7zM325.8 377.3h1.7v1.7h-1.7zM372.3 337.0h1.7v1.7h-1.7zM399.0 308.4h1.7v1.7h-1.7zM349.3 355.8h1.7v1.7h-1.7zM367.0 337.0h1.7v1.7h-1.7zM347.8 358.6h1.7v1.7h-1.7zM375.1 326.2h1.7v1.7h-1.7zM399.4 306.9h1.7v1.7h-1.7zM385.7 315.8h1.7v1.7h-1.7zM376.3 325.9h1.7v1.7h-1.7zM398.6 313.8h1.7v1.7h-1.7zM347.8 359.2h1.7v1.7h-1.7zM393.0 316.1h1.7v1.7h-1.7zM328.4 375.6h1.7v1.7h-1.7zM379.0 322.9h1.7v1.7h-1.7zM392.6 312.7h1.7v1.7h-1.7zM342.5 363.3h1.7v1.7h-1.7zM342.2 360.1h1.7v1.7h-1.7zM386.0 322.1h1.7v1.7h-1.7zM360.4 348.9h1.7v1.7h-1.7zM369.8 331.9h1.7v1.7h-1.7zM361.5 347.1h1.7v1.7h-1.7zM355.2 348.8h1.7v1.7h-1.7zM338.2 363.2h1.7v1.7h-1.7zM373.7 330.7h1.7v1.7h-1.7zM410.1 294.1h1.7v1.7h-1.7zM418.4 281.5h1.7v1.7h-1.7zM334.3 367.8h1.7v1.7h-1.7zM412.9 293.4h1.7v1.7h-1.7zM372.6 328.2h1.7v1.7h-1.7zM333.6 365.0h1.7v1.7h-1.7zM382.0 320.7h1.7v1.7h-1.7zM393.8 310.0h1.7v1.7h-1.7zM350.4 352.7h1.7v1.7h-1.7zM387.7 317.5h1.7v1.7h-1.7zM326.6 372.7h1.7v1.7h-1.7zM315.0 390.4h1.7v1.7h-1.7zM408.1 295.8h1.7v1.7h-1.7zM417.2 286.6h1.7v1.7h-1.7zM400.6 304.3h1.7v1.7h-1.7zM363.4 342.6h1.7v1.7h-1.7zM318.2 384.0h1.7v1.7h-1.7zM422.1 282.2h1.7v1.7h-1.7zM369.9 332.1h1.7v1.7h-1.7zM355.4 344.4h1.7v1.7h-1.7zM323.3 374.4h1.7v1.7h-1.7zM360.4 341.2h1.7v1.7h-1.7zM364.6 333.0h1.7v1.7h-1.7zM372.0 344.3h1.7v1.7h-1.7zM385.5 313.7h1.7v1.7h-1.7zM334.2 359.1h1.7v1.7h-1.7zM347.0 352.3h1.7v1.7h-1.7zM377.5 317.2h1.7v1.7h-1.7z"/><path fill="#c83a24" d="M342.7 357.9h1.7v1.7h-1.7zM364.8 338.0h1.7v1.7h-1.7zM319.9 376.4h1.7v1.7h-1.7zM352.2 345.4h1.7v1.7h-1.7zM392.4 310.4h1.7v1.7h-1.7zM361.9 338.4h1.7v1.7h-1.7zM377.8 326.4h1.7v1.7h-1.7zM326.8 368.1h1.7v1.7h-1.7zM408.8 293.6h1.7v1.7h-1.7zM396.5 310.0h1.7v1.7h-1.7zM382.2 318.7h1.7v1.7h-1.7zM409.1 298.3h1.7v1.7h-1.7zM359.9 342.9h1.7v1.7h-1.7zM392.6 307.5h1.7v1.7h-1.7zM341.5 361.2h1.7v1.7h-1.7zM419.5 281.6h1.7v1.7h-1.7zM381.7 313.9h1.7v1.7h-1.7zM397.8 307.2h1.7v1.7h-1.7zM398.0 304.6h1.7v1.7h-1.7zM376.4 331.6h1.7v1.7h-1.7zM385.0 319.7h1.7v1.7h-1.7zM387.4 316.7h1.7v1.7h-1.7zM299.1 398.4h1.7v1.7h-1.7zM394.8 306.0h1.7v1.7h-1.7zM395.9 303.5h1.7v1.7h-1.7zM375.2 330.2h1.7v1.7h-1.7zM385.4 317.4h1.7v1.7h-1.7zM368.9 332.2h1.7v1.7h-1.7zM396.1 300.9h1.7v1.7h-1.7zM342.4 351.4h1.7v1.7h-1.7zM400.4 299.2h1.7v1.7h-1.7zM375.5 318.0h1.7v1.7h-1.7zM328.3 369.9h1.7v1.7h-1.7zM338.3 358.7h1.7v1.7h-1.7zM315.2 384.8h1.7v1.7h-1.7zM387.5 315.9h1.7v1.7h-1.7zM344.9 358.8h1.7v1.7h-1.7zM303.1 393.9h1.7v1.7h-1.7zM401.1 302.4h1.7v1.7h-1.7zM399.6 300.1h1.7v1.7h-1.7zM396.6 303.9h1.7v1.7h-1.7zM396.4 308.0h1.7v1.7h-1.7zM371.3 327.7h1.7v1.7h-1.7zM322.1 371.7h1.7v1.7h-1.7zM398.9 304.5h1.7v1.7h-1.7zM369.7 326.5h1.7v1.7h-1.7zM423.8 280.2h1.7v1.7h-1.7zM378.8 322.1h1.7v1.7h-1.7zM314.8 383.2h1.7v1.7h-1.7zM393.3 308.7h1.7v1.7h-1.7zM350.6 348.0h1.7v1.7h-1.7zM395.0 303.0h1.7v1.7h-1.7zM391.5 315.0h1.7v1.7h-1.7zM362.0 333.8h1.7v1.7h-1.7zM384.5 320.4h1.7v1.7h-1.7zM354.3 348.7h1.7v1.7h-1.7zM350.5 349.6h1.7v1.7h-1.7zM389.0 314.9h1.7v1.7h-1.7zM427.2 276.5h1.7v1.7h-1.7zM399.5 300.8h1.7v1.7h-1.7zM396.8 304.7h1.7v1.7h-1.7zM384.0 319.0h1.7v1.7h-1.7zM312.0 380.9h1.7v1.7h-1.7zM357.8 342.8h1.7v1.7h-1.7zM405.2 295.4h1.7v1.7h-1.7zM328.2 374.1h1.7v1.7h-1.7zM343.1 354.5h1.7v1.7h-1.7zM327.7 374.0h1.7v1.7h-1.7zM389.2 310.0h1.7v1.7h-1.7zM355.6 345.4h1.7v1.7h-1.7zM364.7 333.6h1.7v1.7h-1.7zM377.0 329.8h1.7v1.7h-1.7zM372.9 325.9h1.7v1.7h-1.7zM391.1 311.2h1.7v1.7h-1.7zM402.4 299.8h1.7v1.7h-1.7zM387.8 312.1h1.7v1.7h-1.7zM403.4 296.0h1.7v1.7h-1.7zM376.5 324.8h1.7v1.7h-1.7zM388.7 318.5h1.7v1.7h-1.7zM347.0 354.4h1.7v1.7h-1.7zM390.2 310.6h1.7v1.7h-1.7zM320.1 378.3h1.7v1.7h-1.7zM341.9 355.6h1.7v1.7h-1.7zM366.0 332.6h1.7v1.7h-1.7zM406.5 301.5h1.7v1.7h-1.7zM310.1 387.3h1.7v1.7h-1.7zM361.4 337.9h1.7v1.7h-1.7zM348.3 346.3h1.7v1.7h-1.7zM390.2 313.5h1.7v1.7h-1.7zM373.0 331.4h1.7v1.7h-1.7zM330.3 369.7h1.7v1.7h-1.7zM367.5 331.8h1.7v1.7h-1.7zM373.9 329.2h1.7v1.7h-1.7zM354.3 347.9h1.7v1.7h-1.7zM343.4 359.8h1.7v1.7h-1.7zM410.7 292.3h1.7v1.7h-1.7zM315.5 386.1h1.7v1.7h-1.7zM381.2 315.0h1.7v1.7h-1.7zM355.6 345.2h1.7v1.7h-1.7zM366.7 329.2h1.7v1.7h-1.7zM361.9 336.8h1.7v1.7h-1.7zM389.1 310.0h1.7v1.7h-1.7zM379.7 319.8h1.7v1.7h-1.7zM397.1 303.9h1.7v1.7h-1.7zM403.0 302.4h1.7v1.7h-1.7zM406.9 291.3h1.7v1.7h-1.7zM371.3 328.6h1.7v1.7h-1.7zM333.8 369.1h1.7v1.7h-1.7zM379.6 327.6h1.7v1.7h-1.7zM404.2 296.4h1.7v1.7h-1.7zM391.0 314.7h1.7v1.7h-1.7zM372.6 335.5h1.7v1.7h-1.7zM319.4 379.7h1.7v1.7h-1.7zM407.8 295.3h1.7v1.7h-1.7zM405.8 292.8h1.7v1.7h-1.7zM331.0 367.3h1.7v1.7h-1.7zM368.1 335.1h1.7v1.7h-1.7zM376.3 324.5h1.7v1.7h-1.7zM407.5 293.8h1.7v1.7h-1.7zM371.3 320.9h1.7v1.7h-1.7zM374.4 325.7h1.7v1.7h-1.7zM405.1 297.1h1.7v1.7h-1.7zM358.6 341.7h1.7v1.7h-1.7zM402.3 296.8h1.7v1.7h-1.7zM344.2 356.6h1.7v1.7h-1.7zM384.9 318.4h1.7v1.7h-1.7zM392.0 311.7h1.7v1.7h-1.7zM385.5 317.5h1.7v1.7h-1.7zM390.1 317.0h1.7v1.7h-1.7zM387.8 309.9h1.7v1.7h-1.7zM401.7 306.8h1.7v1.7h-1.7zM402.4 302.6h1.7v1.7h-1.7zM366.5 333.2h1.7v1.7h-1.7zM386.8 316.3h1.7v1.7h-1.7zM396.0 311.2h1.7v1.7h-1.7zM413.4 291.3h1.7v1.7h-1.7zM421.6 281.9h1.7v1.7h-1.7zM375.0 326.1h1.7v1.7h-1.7zM393.9 310.0h1.7v1.7h-1.7zM380.1 323.3h1.7v1.7h-1.7zM374.6 325.1h1.7v1.7h-1.7zM378.3 323.9h1.7v1.7h-1.7zM376.1 326.1h1.7v1.7h-1.7zM400.5 303.9h1.7v1.7h-1.7zM371.1 323.8h1.7v1.7h-1.7zM342.1 351.9h1.7v1.7h-1.7zM418.1 285.5h1.7v1.7h-1.7zM373.2 328.8h1.7v1.7h-1.7zM341.5 359.4h1.7v1.7h-1.7zM394.3 313.1h1.7v1.7h-1.7zM417.7 286.7h1.7v1.7h-1.7zM387.0 317.1h1.7v1.7h-1.7zM345.3 349.6h1.7v1.7h-1.7zM391.4 314.6h1.7v1.7h-1.7zM392.8 305.3h1.7v1.7h-1.7zM397.9 306.5h1.7v1.7h-1.7zM394.0 310.3h1.7v1.7h-1.7zM373.2 325.6h1.7v1.7h-1.7zM384.1 314.9h1.7v1.7h-1.7zM330.6 364.0h1.7v1.7h-1.7zM350.3 351.5h1.7v1.7h-1.7zM372.3 325.5h1.7v1.7h-1.7z"/><path fill="#a62620" d="M385.5 315.1h1.7v1.7h-1.7zM362.2 343.5h1.7v1.7h-1.7zM342.6 350.7h1.7v1.7h-1.7zM419.5 282.1h1.7v1.7h-1.7zM353.7 347.3h1.7v1.7h-1.7zM393.9 308.9h1.7v1.7h-1.7zM358.0 340.2h1.7v1.7h-1.7zM419.8 282.8h1.7v1.7h-1.7zM387.6 314.2h1.7v1.7h-1.7zM333.0 367.0h1.7v1.7h-1.7zM408.9 297.1h1.7v1.7h-1.7zM369.1 327.4h1.7v1.7h-1.7zM372.4 326.4h1.7v1.7h-1.7zM345.7 349.8h1.7v1.7h-1.7zM353.1 346.2h1.7v1.7h-1.7zM430.8 273.8h1.7v1.7h-1.7zM343.0 357.2h1.7v1.7h-1.7zM331.1 365.7h1.7v1.7h-1.7zM403.3 299.2h1.7v1.7h-1.7zM380.6 321.5h1.7v1.7h-1.7zM394.6 308.0h1.7v1.7h-1.7zM383.8 320.3h1.7v1.7h-1.7zM391.7 309.6h1.7v1.7h-1.7zM339.9 361.7h1.7v1.7h-1.7zM380.5 320.4h1.7v1.7h-1.7zM409.2 295.3h1.7v1.7h-1.7zM371.9 327.9h1.7v1.7h-1.7zM403.2 299.8h1.7v1.7h-1.7zM381.8 320.4h1.7v1.7h-1.7zM363.0 334.2h1.7v1.7h-1.7zM338.7 354.0h1.7v1.7h-1.7zM382.8 317.9h1.7v1.7h-1.7zM360.7 333.5h1.7v1.7h-1.7zM288.7 406.8h1.7v1.7h-1.7zM384.6 316.4h1.7v1.7h-1.7zM386.2 317.5h1.7v1.7h-1.7zM334.1 369.0h1.7v1.7h-1.7zM363.2 336.8h1.7v1.7h-1.7zM343.4 359.1h1.7v1.7h-1.7zM372.6 326.4h1.7v1.7h-1.7zM296.2 398.4h1.7v1.7h-1.7zM353.2 341.5h1.7v1.7h-1.7zM358.7 336.1h1.7v1.7h-1.7zM409.6 292.6h1.7v1.7h-1.7zM360.5 340.7h1.7v1.7h-1.7zM354.4 344.7h1.7v1.7h-1.7zM409.1 295.6h1.7v1.7h-1.7zM373.4 329.3h1.7v1.7h-1.7zM336.6 356.1h1.7v1.7h-1.7zM352.0 351.1h1.7v1.7h-1.7zM411.3 291.4h1.7v1.7h-1.7zM357.2 340.5h1.7v1.7h-1.7zM410.2 290.9h1.7v1.7h-1.7zM341.1 358.2h1.7v1.7h-1.7zM343.9 353.9h1.7v1.7h-1.7zM393.4 304.4h1.7v1.7h-1.7zM399.3 299.9h1.7v1.7h-1.7zM425.7 277.9h1.7v1.7h-1.7zM325.8 371.3h1.7v1.7h-1.7zM383.3 319.3h1.7v1.7h-1.7zM326.5 374.9h1.7v1.7h-1.7zM395.4 302.8h1.7v1.7h-1.7zM318.0 378.8h1.7v1.7h-1.7zM403.3 297.6h1.7v1.7h-1.7zM423.4 282.2h1.7v1.7h-1.7zM365.4 336.5h1.7v1.7h-1.7zM335.2 367.6h1.7v1.7h-1.7zM420.6 284.6h1.7v1.7h-1.7zM375.1 321.1h1.7v1.7h-1.7zM351.4 350.2h1.7v1.7h-1.7zM354.7 343.5h1.7v1.7h-1.7zM382.1 320.1h1.7v1.7h-1.7zM341.5 357.9h1.7v1.7h-1.7zM361.9 340.2h1.7v1.7h-1.7zM370.8 331.0h1.7v1.7h-1.7zM311.6 389.4h1.7v1.7h-1.7zM399.7 303.1h1.7v1.7h-1.7zM384.1 318.4h1.7v1.7h-1.7zM333.3 360.1h1.7v1.7h-1.7zM347.4 354.0h1.7v1.7h-1.7zM321.9 373.0h1.7v1.7h-1.7zM344.6 352.6h1.7v1.7h-1.7zM357.5 345.0h1.7v1.7h-1.7zM356.9 347.4h1.7v1.7h-1.7zM349.4 350.4h1.7v1.7h-1.7zM352.7 347.4h1.7v1.7h-1.7zM373.7 323.6h1.7v1.7h-1.7zM422.3 281.2h1.7v1.7h-1.7zM385.7 309.6h1.7v1.7h-1.7zM400.2 306.7h1.7v1.7h-1.7zM377.3 322.7h1.7v1.7h-1.7zM395.1 309.0h1.7v1.7h-1.7zM334.5 363.8h1.7v1.7h-1.7zM413.9 285.7h1.7v1.7h-1.7zM364.6 335.4h1.7v1.7h-1.7zM298.2 398.0h1.7v1.7h-1.7zM354.7 349.0h1.7v1.7h-1.7zM393.1 307.3h1.7v1.7h-1.7zM376.6 321.8h1.7v1.7h-1.7zM359.1 343.1h1.7v1.7h-1.7zM344.8 360.5h1.7v1.7h-1.7zM330.3 369.2h1.7v1.7h-1.7zM424.2 280.3h1.7v1.7h-1.7zM394.0 309.7h1.7v1.7h-1.7zM406.8 293.1h1.7v1.7h-1.7zM372.9 328.8h1.7v1.7h-1.7zM321.6 378.0h1.7v1.7h-1.7zM387.9 314.8h1.7v1.7h-1.7zM401.1 302.5h1.7v1.7h-1.7zM402.6 301.6h1.7v1.7h-1.7zM352.7 344.1h1.7v1.7h-1.7zM409.6 292.7h1.7v1.7h-1.7zM386.0 312.7h1.7v1.7h-1.7zM329.6 365.6h1.7v1.7h-1.7zM292.9 402.3h1.7v1.7h-1.7zM406.6 295.0h1.7v1.7h-1.7zM326.0 382.0h1.7v1.7h-1.7zM380.3 320.3h1.7v1.7h-1.7zM327.2 368.6h1.7v1.7h-1.7zM413.4 286.4h1.7v1.7h-1.7zM405.6 292.0h1.7v1.7h-1.7zM410.9 289.7h1.7v1.7h-1.7zM347.3 348.5h1.7v1.7h-1.7zM345.4 351.9h1.7v1.7h-1.7zM348.0 347.1h1.7v1.7h-1.7zM333.2 359.2h1.7v1.7h-1.7zM363.7 334.1h1.7v1.7h-1.7zM415.1 288.9h1.7v1.7h-1.7zM395.7 302.2h1.7v1.7h-1.7zM395.2 303.1h1.7v1.7h-1.7zM372.9 326.7h1.7v1.7h-1.7zM379.3 321.4h1.7v1.7h-1.7zM388.4 312.5h1.7v1.7h-1.7zM373.0 326.0h1.7v1.7h-1.7zM349.2 344.1h1.7v1.7h-1.7zM366.4 333.9h1.7v1.7h-1.7zM374.2 327.5h1.7v1.7h-1.7zM358.2 344.3h1.7v1.7h-1.7zM391.2 313.1h1.7v1.7h-1.7zM396.8 301.1h1.7v1.7h-1.7zM323.0 369.6h1.7v1.7h-1.7zM403.9 297.6h1.7v1.7h-1.7zM406.7 295.3h1.7v1.7h-1.7zM405.4 297.1h1.7v1.7h-1.7zM376.0 319.3h1.7v1.7h-1.7zM342.7 351.2h1.7v1.7h-1.7zM311.4 375.3h1.7v1.7h-1.7zM375.6 325.3h1.7v1.7h-1.7zM311.7 383.0h1.7v1.7h-1.7zM377.3 324.9h1.7v1.7h-1.7zM371.6 332.9h1.7v1.7h-1.7zM370.4 325.3h1.7v1.7h-1.7zM344.7 360.0h1.7v1.7h-1.7zM320.6 373.2h1.7v1.7h-1.7zM389.6 312.7h1.7v1.7h-1.7zM391.2 311.2h1.7v1.7h-1.7zM418.3 283.3h1.7v1.7h-1.7zM342.3 355.6h1.7v1.7h-1.7zM343.9 352.6h1.7v1.7h-1.7zM409.1 291.0h1.7v1.7h-1.7zM380.4 322.7h1.7v1.7h-1.7zM402.6 299.4h1.7v1.7h-1.7zM368.8 331.3h1.7v1.7h-1.7zM332.7 367.1h1.7v1.7h-1.7zM379.0 323.9h1.7v1.7h-1.7zM365.0 331.4h1.7v1.7h-1.7zM402.3 298.4h1.7v1.7h-1.7zM400.9 303.0h1.7v1.7h-1.7zM348.2 350.4h1.7v1.7h-1.7zM292.4 402.4h1.7v1.7h-1.7zM359.4 340.2h1.7v1.7h-1.7zM347.7 357.5h1.7v1.7h-1.7zM347.7 349.7h1.7v1.7h-1.7zM364.2 334.3h1.7v1.7h-1.7zM376.3 329.9h1.7v1.7h-1.7zM355.2 347.5h1.7v1.7h-1.7zM412.9 289.8h1.7v1.7h-1.7zM415.8 289.0h1.7v1.7h-1.7zM395.2 306.1h1.7v1.7h-1.7zM412.0 288.7h1.7v1.7h-1.7zM398.8 304.2h1.7v1.7h-1.7zM422.6 278.2h1.7v1.7h-1.7zM349.4 343.5h1.7v1.7h-1.7zM405.4 298.7h1.7v1.7h-1.7zM377.3 321.7h1.7v1.7h-1.7zM362.1 335.7h1.7v1.7h-1.7zM327.9 366.6h1.7v1.7h-1.7zM357.7 342.6h1.7v1.7h-1.7zM392.7 312.3h1.7v1.7h-1.7zM380.5 315.7h1.7v1.7h-1.7zM413.8 287.9h1.7v1.7h-1.7zM327.7 368.6h1.7v1.7h-1.7zM415.4 283.7h1.7v1.7h-1.7zM391.3 306.6h1.7v1.7h-1.7zM427.9 273.1h1.7v1.7h-1.7zM362.0 341.1h1.7v1.7h-1.7zM320.4 373.2h1.7v1.7h-1.7zM306.5 393.7h1.7v1.7h-1.7zM378.6 323.7h1.7v1.7h-1.7zM355.9 341.6h1.7v1.7h-1.7zM319.5 381.9h1.7v1.7h-1.7zM322.8 373.5h1.7v1.7h-1.7zM339.6 360.9h1.7v1.7h-1.7zM352.9 347.3h1.7v1.7h-1.7zM392.7 303.9h1.7v1.7h-1.7zM381.5 317.7h1.7v1.7h-1.7zM421.7 281.0h1.7v1.7h-1.7zM306.8 388.1h1.7v1.7h-1.7zM400.1 301.5h1.7v1.7h-1.7zM413.5 289.6h1.7v1.7h-1.7zM385.9 317.9h1.7v1.7h-1.7zM340.0 364.2h1.7v1.7h-1.7zM402.4 299.7h1.7v1.7h-1.7zM336.6 361.0h1.7v1.7h-1.7zM381.1 318.4h1.7v1.7h-1.7zM372.6 329.4h1.7v1.7h-1.7zM401.0 299.3h1.7v1.7h-1.7zM390.7 310.3h1.7v1.7h-1.7zM330.9 362.1h1.7v1.7h-1.7zM382.0 322.7h1.7v1.7h-1.7zM363.0 339.1h1.7v1.7h-1.7zM326.3 371.1h1.7v1.7h-1.7zM344.1 349.3h1.7v1.7h-1.7zM319.7 375.5h1.7v1.7h-1.7zM365.2 331.0h1.7v1.7h-1.7zM365.8 330.6h1.7v1.7h-1.7zM339.4 358.2h1.7v1.7h-1.7zM377.0 327.5h1.7v1.7h-1.7zM402.2 296.0h1.7v1.7h-1.7zM361.1 341.3h1.7v1.7h-1.7zM335.0 365.2h1.7v1.7h-1.7zM425.2 278.4h1.7v1.7h-1.7zM300.6 394.1h1.7v1.7h-1.7zM378.3 325.4h1.7v1.7h-1.7zM422.3 281.2h1.7v1.7h-1.7zM414.8 287.7h1.7v1.7h-1.7zM342.1 356.3h1.7v1.7h-1.7zM392.5 307.4h1.7v1.7h-1.7zM326.5 366.9h1.7v1.7h-1.7zM355.1 339.9h1.7v1.7h-1.7zM373.7 329.9h1.7v1.7h-1.7zM297.3 400.3h1.7v1.7h-1.7zM317.6 382.9h1.7v1.7h-1.7zM314.1 374.2h1.7v1.7h-1.7zM367.2 329.0h1.7v1.7h-1.7zM381.0 318.6h1.7v1.7h-1.7zM374.4 323.9h1.7v1.7h-1.7zM348.3 351.0h1.7v1.7h-1.7zM413.1 291.8h1.7v1.7h-1.7zM358.8 344.2h1.7v1.7h-1.7zM396.3 309.1h1.7v1.7h-1.7zM341.4 353.5h1.7v1.7h-1.7zM358.3 343.7h1.7v1.7h-1.7zM298.9 396.3h1.7v1.7h-1.7zM337.6 357.3h1.7v1.7h-1.7zM375.4 323.3h1.7v1.7h-1.7zM397.9 305.2h1.7v1.7h-1.7zM378.0 321.1h1.7v1.7h-1.7zM396.6 302.9h1.7v1.7h-1.7zM410.8 294.2h1.7v1.7h-1.7zM313.8 382.7h1.7v1.7h-1.7zM325.7 373.6h1.7v1.7h-1.7zM404.4 291.7h1.7v1.7h-1.7zM340.6 376.9h1.7v1.7h-1.7zM382.2 293.4h1.7v1.7h-1.7zM318.1 390.7h1.7v1.7h-1.7zM306.6 395.9h1.7v1.7h-1.7zM413.7 297.1h1.7v1.7h-1.7zM331.9 365.6h1.7v1.7h-1.7zM325.7 373.9h1.7v1.7h-1.7zM324.9 365.4h1.7v1.7h-1.7zM392.1 313.6h1.7v1.7h-1.7zM365.7 322.2h1.7v1.7h-1.7zM378.8 323.8h1.7v1.7h-1.7zM347.2 355.2h1.7v1.7h-1.7zM398.4 336.7h1.7v1.7h-1.7zM398.5 296.5h1.7v1.7h-1.7zM333.8 366.2h1.7v1.7h-1.7zM414.5 291.8h1.7v1.7h-1.7zM388.4 319.7h1.7v1.7h-1.7zM369.6 327.4h1.7v1.7h-1.7zM371.4 344.2h1.7v1.7h-1.7zM355.6 343.2h1.7v1.7h-1.7zM337.9 365.1h1.7v1.7h-1.7zM357.1 345.3h1.7v1.7h-1.7zM383.6 306.6h1.7v1.7h-1.7zM379.6 307.1h1.7v1.7h-1.7zM377.7 349.6h1.7v1.7h-1.7zM326.9 363.9h1.7v1.7h-1.7zM414.2 283.3h1.7v1.7h-1.7z"/>
<clipPath id="clipe"><rect x="277.7" y="264.8" width="163.8" height="155.4"/></clipPath>
<g clip-path="url(#clipe)"><line x1="252.9" y1="429.22" x2="465.7" y2="227.34" stroke="#333" stroke-width="0.8"/><line x1="252.9" y1="443.64" x2="465.7" y2="241.76" stroke="#333" stroke-width="0.8"/><line x1="252.9" y1="458.06" x2="465.7" y2="256.18" stroke="#333" stroke-width="0.8"/></g>
<rect x="277.7" y="264.8" width="163.8" height="155.4" stroke="#6e6e6e" stroke-width="1" fill="none"/>
<line x1="274.6" y1="414.8" x2="277.7" y2="414.8" stroke="#6e6e6e" stroke-width="1"/>
<text x="271.2" y="419.38" font-size="10.0" text-anchor="end" fill="#2b2b2b" stroke="#2b2b2b" stroke-width="0.22">0</text>
<line x1="283.3" y1="420.2" x2="283.3" y2="423.3" stroke="#6e6e6e" stroke-width="1"/>
<text x="283.3" y="438.28" font-size="10.0" text-anchor="middle" fill="#2b2b2b" stroke="#2b2b2b" stroke-width="0.22">0</text>
<line x1="274.6" y1="385.96" x2="277.7" y2="385.96" stroke="#6e6e6e" stroke-width="1"/>
<text x="271.2" y="390.72" font-size="10.0" text-anchor="end" fill="#2b2b2b" stroke="#2b2b2b" stroke-width="0.22">0.2</text>
<line x1="313.7" y1="420.2" x2="313.7" y2="423.3" stroke="#6e6e6e" stroke-width="1"/>
<text x="313.7" y="438.28" font-size="10.0" text-anchor="middle" fill="#2b2b2b" stroke="#2b2b2b" stroke-width="0.22">0.2</text>
<line x1="274.6" y1="357.12" x2="277.7" y2="357.12" stroke="#6e6e6e" stroke-width="1"/>
<text x="271.2" y="362.06" font-size="10.0" text-anchor="end" fill="#2b2b2b" stroke="#2b2b2b" stroke-width="0.22">0.4</text>
<line x1="344.1" y1="420.2" x2="344.1" y2="423.3" stroke="#6e6e6e" stroke-width="1"/>
<text x="344.1" y="438.28" font-size="10.0" text-anchor="middle" fill="#2b2b2b" stroke="#2b2b2b" stroke-width="0.22">0.4</text>
<line x1="274.6" y1="328.28" x2="277.7" y2="328.28" stroke="#6e6e6e" stroke-width="1"/>
<text x="271.2" y="333.4" font-size="10.0" text-anchor="end" fill="#2b2b2b" stroke="#2b2b2b" stroke-width="0.22">0.6</text>
<line x1="374.5" y1="420.2" x2="374.5" y2="423.3" stroke="#6e6e6e" stroke-width="1"/>
<text x="374.5" y="438.28" font-size="10.0" text-anchor="middle" fill="#2b2b2b" stroke="#2b2b2b" stroke-width="0.22">0.6</text>
<line x1="274.6" y1="299.44" x2="277.7" y2="299.44" stroke="#6e6e6e" stroke-width="1"/>
<text x="271.2" y="304.74" font-size="10.0" text-anchor="end" fill="#2b2b2b" stroke="#2b2b2b" stroke-width="0.22">0.8</text>
<line x1="404.9" y1="420.2" x2="404.9" y2="423.3" stroke="#6e6e6e" stroke-width="1"/>
<text x="404.9" y="438.28" font-size="10.0" text-anchor="middle" fill="#2b2b2b" stroke="#2b2b2b" stroke-width="0.22">0.8</text>
<line x1="274.6" y1="270.6" x2="277.7" y2="270.6" stroke="#6e6e6e" stroke-width="1"/>
<text x="271.2" y="276.08" font-size="10.0" text-anchor="end" fill="#2b2b2b" stroke="#2b2b2b" stroke-width="0.22">1</text>
<line x1="435.3" y1="420.2" x2="435.3" y2="423.3" stroke="#6e6e6e" stroke-width="1"/>
<text x="435.3" y="438.28" font-size="10.0" text-anchor="middle" fill="#2b2b2b" stroke="#2b2b2b" stroke-width="0.22">1</text>
<text x="357.2" y="452.98" font-size="10.0" text-anchor="middle" fill="#2b2b2b" stroke="#2b2b2b" stroke-width="0.22">FCS Methylation level</text>
<text x="250.38" y="337.2" font-size="10.0" text-anchor="middle" fill="#2b2b2b" stroke="#2b2b2b" stroke-width="0.22" transform="rotate(-90 250.38 337.2)">HPL Methylation level</text>
<circle cx="305.2" cy="478.1" r="2.9" fill="#f39019"/>
<text x="315.6" y="480.84" font-size="9.9" text-anchor="start" fill="#2b2b2b" stroke="#2b2b2b" stroke-width="0.22">SA-hypomethylated</text>
<circle cx="305.3" cy="497.0" r="2.9" fill="#a12a2c"/>
<text x="315.6" y="499.94" font-size="9.9" text-anchor="start" fill="#2b2b2b" stroke="#2b2b2b" stroke-width="0.22">SA-hypermethylated</text>
<line x1="511.5" y1="342.4" x2="672.5" y2="342.4" stroke="#555" stroke-width="0.9" stroke-dasharray="1 1.6"/>
<rect x="511.5" y="264.5" width="161" height="155.7" stroke="#1e1e1e" stroke-width="1" fill="none"/>
<line x1="508.2" y1="264.4" x2="511.5" y2="264.4" stroke="#1e1e1e" stroke-width="1"/>
<text x="503.2" y="267.69" font-size="9.2" text-anchor="end" fill="#2b2b2b" stroke="#2b2b2b" stroke-width="0.22">1.0</text>
<line x1="508.2" y1="303.4" x2="511.5" y2="303.4" stroke="#1e1e1e" stroke-width="1"/>
<text x="503.2" y="306.69" font-size="9.2" text-anchor="end" fill="#2b2b2b" stroke="#2b2b2b" stroke-width="0.22">0.5</text>
<line x1="508.2" y1="342.4" x2="511.5" y2="342.4" stroke="#1e1e1e" stroke-width="1"/>
<text x="503.2" y="345.69" font-size="9.2" text-anchor="end" fill="#2b2b2b" stroke="#2b2b2b" stroke-width="0.22">0.0</text>
<line x1="508.2" y1="381.4" x2="511.5" y2="381.4" stroke="#1e1e1e" stroke-width="1"/>
<text x="503.2" y="384.69" font-size="9.2" text-anchor="end" fill="#2b2b2b" stroke="#2b2b2b" stroke-width="0.22">-0.5</text>
<line x1="508.2" y1="420.4" x2="511.5" y2="420.4" stroke="#1e1e1e" stroke-width="1"/>
<text x="503.2" y="423.69" font-size="9.2" text-anchor="end" fill="#2b2b2b" stroke="#2b2b2b" stroke-width="0.22">-1.0</text>
<line x1="524.6" y1="420.2" x2="524.6" y2="422.6" stroke="#1e1e1e" stroke-width="1"/>
<text x="523" y="436.39" font-size="9.2" text-anchor="middle" fill="#2b2b2b" stroke="#2b2b2b" stroke-width="0.22">#1</text>
<line x1="551.3" y1="420.2" x2="551.3" y2="422.6" stroke="#1e1e1e" stroke-width="1"/>
<text x="549.7" y="436.39" font-size="9.2" text-anchor="middle" fill="#2b2b2b" stroke="#2b2b2b" stroke-width="0.22">#2</text>
<line x1="578" y1="420.2" x2="578" y2="422.6" stroke="#1e1e1e" stroke-width="1"/>
<text x="576.4" y="436.39" font-size="9.2" text-anchor="middle" fill="#2b2b2b" stroke="#2b2b2b" stroke-width="0.22">#3</text>
<line x1="604.7" y1="420.2" x2="604.7" y2="422.6" stroke="#1e1e1e" stroke-width="1"/>
<text x="603.1" y="436.39" font-size="9.2" text-anchor="middle" fill="#2b2b2b" stroke="#2b2b2b" stroke-width="0.22">#4</text>
<line x1="631.4" y1="420.2" x2="631.4" y2="422.6" stroke="#1e1e1e" stroke-width="1"/>
<text x="629.8" y="436.39" font-size="9.2" text-anchor="middle" fill="#2b2b2b" stroke="#2b2b2b" stroke-width="0.22">#5</text>
<line x1="658.1" y1="420.2" x2="658.1" y2="422.6" stroke="#1e1e1e" stroke-width="1"/>
<text x="656.5" y="436.39" font-size="9.2" text-anchor="middle" fill="#2b2b2b" stroke="#2b2b2b" stroke-width="0.22">#6</text>
<rect x="521.7" y="326.9" width="5.8" height="5.8" fill="#2c8b97"/>
<circle cx="524.6" cy="330.6" r="3.1" fill="#7a2fa8"/>
<rect x="548.4" y="335.7" width="5.8" height="5.8" fill="#2c8b97"/>
<circle cx="551.3" cy="332.3" r="3.1" fill="#7a2fa8"/>
<rect x="575.1" y="318.1" width="5.8" height="5.8" fill="#2c8b97"/>
<circle cx="578" cy="326.3" r="3.1" fill="#7a2fa8"/>
<rect x="601.8" y="331.7" width="5.8" height="5.8" fill="#2c8b97"/>
<circle cx="604.7" cy="334.8" r="3.1" fill="#7a2fa8"/>
<rect x="628.5" y="310.3" width="5.8" height="5.8" fill="#2c8b97"/>
<circle cx="631.4" cy="314.4" r="3.1" fill="#7a2fa8"/>
<rect x="655.2" y="316.3" width="5.8" height="5.8" fill="#2c8b97"/>
<circle cx="658.1" cy="323.8" r="3.1" fill="#7a2fa8"/>
<text x="468.65" y="341.5" font-size="10.2" text-anchor="middle" fill="#2b2b2b" stroke="#2b2b2b" stroke-width="0.22" transform="rotate(-90 468.65 341.5)">Epi-MSC-Score</text>
<text x="480.94" y="306" font-size="9.6" text-anchor="middle" fill="#2b2b2b" stroke="#2b2b2b" stroke-width="0.22" transform="rotate(-90 480.94 306)">MSC</text>
<text x="480.94" y="381" font-size="9.6" text-anchor="middle" fill="#2b2b2b" stroke="#2b2b2b" stroke-width="0.22" transform="rotate(-90 480.94 381)">Fibroblast</text>
<circle cx="576" cy="467.5" r="3.1" fill="#7a2fa8"/>
<text x="586.1" y="471.08" font-size="10" text-anchor="start" fill="#2b2b2b" stroke="#2b2b2b" stroke-width="0.22">FCS</text>
<rect x="573.1" y="483.5" width="5.8" height="5.8" fill="#2c8b97"/>
<text x="586.1" y="489.88" font-size="10" text-anchor="start" fill="#2b2b2b" stroke="#2b2b2b" stroke-width="0.22">HPL</text>
</svg>
</body></html>
